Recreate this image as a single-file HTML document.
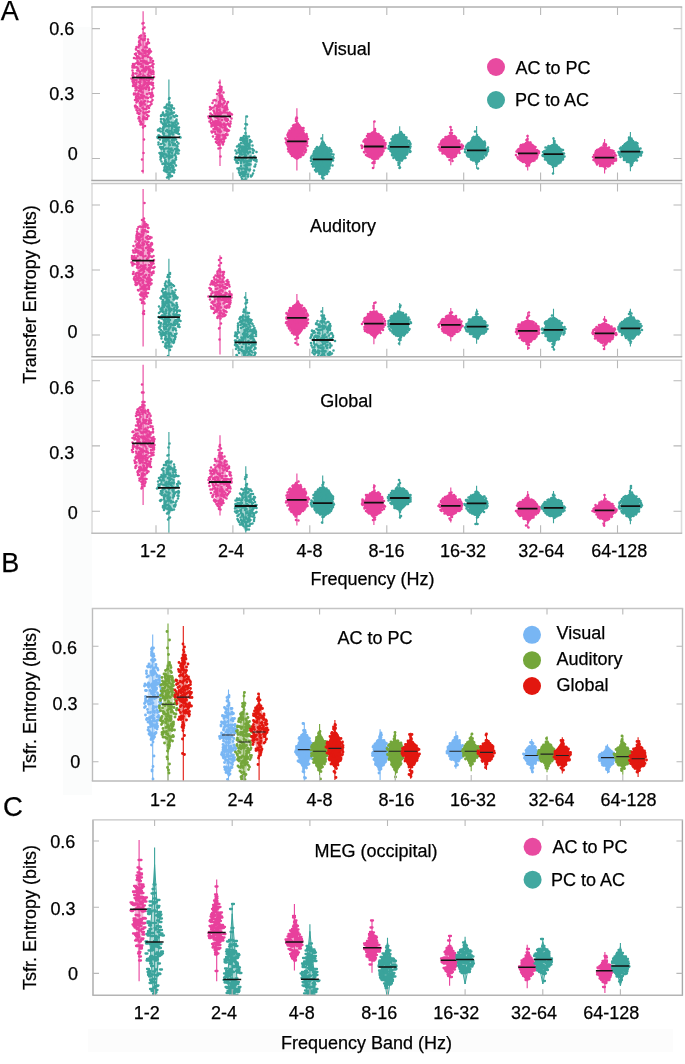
<!DOCTYPE html><html><head><meta charset="utf-8"><style>html,body{margin:0;padding:0;background:#fff;width:685px;height:1064px;overflow:hidden}svg{display:block;will-change:transform}text{font-family:"Liberation Sans",sans-serif;fill:#000;stroke:#000;stroke-width:0.25px}</style></head><body>
<svg width="685" height="1064" viewBox="0 0 685 1064">
<rect x="63" y="27" width="29" height="768" fill="#fbfcfc"/>
<rect x="88" y="1029" width="585" height="23" fill="#fcfcfc"/>
<clipPath id="ca0"><rect x="92" y="7" width="589.5" height="173.5"/></clipPath>
<g clip-path="url(#ca0)">
<path d="M143.1 11.2V173.4" stroke="#e8409c" stroke-width="1.1"/>
<path d="M143.1 30.4L141.9 32.9L141.2 35.4L140.7 37.9L140.2 40.5L139.8 43L139.4 45.5L139 48L138.7 50.5L138.4 53L138.1 55.6L137.9 58.1L137.6 60.6L137.4 63.1L137.2 65.6L137.1 68.1L136.9 70.6L136.8 73.2L136.7 75.7L136.7 78.2L136.7 80.7L136.8 83.2L136.9 85.7L137.1 88.3L137.2 90.8L137.4 93.3L137.6 95.8L137.8 98.3L138.1 100.8L138.3 103.3L138.6 105.9L138.9 108.4L139.2 110.9L139.5 113.4L139.9 115.9L140.3 118.4L140.8 121L141.3 123.5L142 126L143.1 128.5L143.1 128.5L144.2 126L144.9 123.5L145.4 121L145.9 118.4L146.3 115.9L146.7 113.4L147 110.9L147.3 108.4L147.6 105.9L147.9 103.3L148.1 100.8L148.4 98.3L148.6 95.8L148.8 93.3L149 90.8L149.1 88.3L149.3 85.7L149.4 83.2L149.5 80.7L149.5 78.2L149.5 75.7L149.4 73.2L149.3 70.6L149.1 68.1L149 65.6L148.8 63.1L148.6 60.6L148.3 58.1L148.1 55.6L147.8 53L147.5 50.5L147.2 48L146.8 45.5L146.4 43L146 40.5L145.5 37.9L145 35.4L144.3 32.9L143.1 30.4Z" fill="#e8409c" fill-opacity="0.45"/>
<path d="M147 83h0m-7 20.5h0m10.5-1.5h0m-8-4h0m10.5-15h0m-8 4.5h0m0.5-17.5h0m-6.5 47h0m3.5-13.5h0m-5.5-3.5h0m2-48.5h0m-2.5 48.5h0m7.5 9h0m7.5-37h0m-17.5-6h0m17 7.5h0m-12-27.5h0m-3 42h0m12-31h0m-3.5 25h0m-0.5 57.5h0m0.5-86.5h0m-1 22.5h0m3.5 42.5h0m-3-38h0m-7-3.5h0m-2 23.5h0m7.5-7.5h0m2.5-41h0m4 37h0m3.5-26.5h0m-16.5 35h0m8-27.5h0m-2-3.5h0m-3-24h0m14 43.5h0m-11.5-6h0m-2.5-34.5h0m6.5 18.5h0m-10 27h0m4 19h0m-2 3.5h0m16-39h0m-5-23h0m-2-7.5h0m5.5 49h0m-3.5-38h0m1-5.5h0m-0.5 59h0m0.5-55h0m-13.5-3.5h0m11 28h0m-11.5 16.5h0m11.5-16.5h0m-14 8.5h0m10-24.5h0m0.5 14.5h0m2 8h0m3.5-8.5h0m-11-24.5h0m4.5 15h0m8-6h0m-5.5 22h0m2-18.5h0m-2.5 16h0m4.5 2.5h0m-14.5-17.5h0m13.5 41.5h0m-9.5-7.5h0m-5-16h0m7 15.5h0m10-19h0m2 16h0m-9.5-55h0m-3.5 18.5h0m10.5 47h0m-11.5-35h0m2.5-9.5h0m0.5 26h0m8 6.5h0m1-24h0m-7.5-3h0m-2.5 7.5h0m6.5 41h0m3.5-18h0m-8.5 27h0m-5.5-37h0m1.5 6.5h0m7.5-43h0m-6 67.5h0m3-94.5h0m2.5 81h0m3-6.5h0m-8-18.5h0m-2.5-23h0m13.5 37.5h0m-5 25h0m3-35h0m-10 4h0m10-0.5h0m-9 33h0m-5-14.5h0m5.5-24h0m1.5-11.5h0m1.5 82.5h0m3.5-67h0m1.5-19h0m-14-3h0m1.5-15h0m5 48h0m0 7h0m-3.5 4h0m9-10.5h0m-3-35.5h0m-5.5 39h0m11.5-50.5h0m-8 44.5h0m-5-13h0m3.5 1h0m13-12.5h0m-13 1.5h0m-2-15.5h0m11 55h0m1-54h0m-7.5-7h0m6.5 20h0m4 25.5h0m-15.5-35h0m1 57.5h0m8.5-32h0m-1 22.5h0m-5-18.5h0m7 11h0m-11.5 8.5h0m16-15.5h0m-11.5 9h0m-7-45.5h0m12 31h0m-5.5-44h0m11 52.5h0m-7-70h0m-7.5 43h0m12 2h0m-8 32.5h0m-2.5 8h0m10 3h0m-15-32h0m18-10h0m-15 6h0m3 41h0m14-33h0m-18 19.5h0m1.5-20h0m-4.5-8.5h0m13.5-9h0m-5.5 36h0m9-35h0m-9-35h0m9.5 30.5h0m-5.5 2h0m-6-16h0m5.5 8.5h0m-4-17.5h0m11 8h0m-2.5 11.5h0m2 13.5h0m-6-43h0m-5.5 57.5h0m-6-8.5h0m17-32h0m-4.5-4h0m-5.5 52h0m8.5-46h0m-1.5 34.5h0m-7.5-43.5h0m9 8h0m-4-0.5h0m0-11h0m-4.5 63h0m4-1h0m2 10.5h0m5.5-8.5h0m-19-38h0m7-2.5h0m2 25.5h0m6.5-38h0m-1 68h0m-5-42h0m-5.5-3.5h0m4.5 21.5h0m-3.5 3.5h0m1-35.5h0m-1.5 44h0m-1-52h0m9-19h0m7.5 30h0m-5.5 40.5h0m1 5.5h0m-10-11h0m-4.5-20.5h0m6-40h0m-2 70.5h0m2-58.5h0m-6.5 14.5h0m1 27.5h0m-1.5-19h0m4-8h0m15 34h0m1-1.5h0m-4-19.5h0m-7.5 21h0m2 18h0m4-72h0m-0.5 14h0m0 18.5h0m-2.5-24h0m-3 22.5h0m-6.5 1.5h0m11-24h0m-3 115h0m6-94h0m-3.5-38.5h0m-0.5-5h0m-8 69h0m12.5-24.5h0m-2.5-34.5h0m-1 18h0m-10 12h0m6-9.5h0m12 8h0m-8.5-24.5h0m-8.5 42.5h0m11.5-5h0m-3 41h0m0.5-42h0m0 13.5h0m-4.5 24.5h0m-1.5-8.5h0m-5.5-20h0m8.5 14.5h0m-4-14h0m-2.5-40.5h0m7 65h0m5-76.5h0m-7.5 80.5h0m-4-59.5h0m13.5 20h0m-8.5 22h0m-2-63.5h0m13.5 26h0m-17.5 38h0m12-41.5h0m6.5 13h0m-2.5 7.5h0m-13.5-20.5h0m-5 0h0m1.5 3.5h0m2-0.5h0m6.5-10h0m1-17.5h0m-1.5 10.5h0m-10 29h0m0-8.5h0m6.5-13h0m-0.5 39h0m11-3.5h0m-9.5-57h0m-4 47.5h0m7-43.5h0m-8 46h0m7 73.5h0m-8-77.5h0m19-21h0m-12.5 63.5h0m-6-39.5h0m6 0h0m2.5-35h0m1.5 63.5h0m2.5-69h0m-0.5 64.5h0m-6-20.5h0m4-5h0m-8.5 1h0m3-47h0m0.5 37h0m2.5-13.5h0m-6-2.5h0m13 31.5h0m-16-23.5h0m11.5 51h0m6-59h0m-12-11h0m8.5 4h0m5 11h0m-15-5.5h0m5.5 1h0m-6 37.5h0m10-40h0m-1.5 16h0m-4.5 39.5h0m11-52.5h0m-9.5 37h0m5-27h0m-4 17h0m-2 6h0m-1-33h0m1.5-19.5h0m7.5 11h0m-9.5 14h0m-3.5 34h0m3 16h0m2.5-60.5h0m-8 30.5h0m15.5-41h0m-8 23.5h0m8 2.5h0m-8-33.5h0m2-6.5h0m-2 9.5h0m-4.5 8.5h0m10-3h0m-13.5 30.5h0m11 21.5h0m7.5-24.5h0m-1-13h0m1 24h0m-12-18.5h0m-4 24h0m9-27h0m-0.5 9.5h0m4-31h0m1 40.5h0m-4 21h0m-9.5-7.5h0m16.5-4h0m-15-31h0m11 57.5h0m-5-54.5h0m6-9h0m-14 1.5h0m14 35.5h0m-6.5-34h0m-4.5 21h0m1.5 9.5h0m4 30.5h0m-12-38h0m7.5 35.5h0m-6.5-33h0m20-1.5h0m-6.5-12.5h0m-3 60.5h0m5-53h0m-15-0.5h0m-0.5-6.5h0m11.5 17.5h0m-5-3h0m3 15.5h0m10-2.5h0m-8.5-6.5h0m3.5 5.5h0m-13.5-17.5h0m12-23h0m-1 65h0m-3-31.5h0m8.5-24.5h0m-1.5 20h0m-5-59.5h0m6.5 60.5h0m1 11.5h0m-18-22h0m12 3.5h0m-1.5 26h0m-5.5-34h0m-5-1h0m19-2h0m-11.5 11.5h0m3 35.5h0m-3-23h0m5-37.5h0m-4.5 71.5h0m-2.5-61h0m6.5 8.5h0m-5.5-17h0m3 13h0m-5 46h0m16-49h0m-11 60.5h0m8-65.5h0" stroke="#e8409c" stroke-width="2.6" stroke-linecap="round"/>
<path d="M132.1 77.6H154.1" stroke="#111" stroke-width="1.8"/>
<path d="M168.9 79.4V190" stroke="#3aa39b" stroke-width="1.1"/>
<path d="M168.9 100.5L167.7 102.6L167 104.6L166.4 106.7L165.9 108.8L165.5 110.8L165.1 112.9L164.7 114.9L164.4 117L164.1 119.1L163.8 121.1L163.5 123.2L163.3 125.3L163.1 127.3L162.9 129.4L162.7 131.5L162.6 133.5L162.5 135.6L162.5 137.7L162.5 139.7L162.6 141.8L162.7 143.8L162.8 145.9L163 148L163.2 150L163.3 152.1L163.5 154.2L163.7 156.2L164 158.3L164.2 160.4L164.5 162.4L164.8 164.5L165.1 166.6L165.4 168.6L165.8 170.7L166.2 172.7L166.7 174.8L167.2 176.9L167.8 178.9L168.9 181L168.9 181L170 178.9L170.6 176.9L171.1 174.8L171.6 172.7L172 170.7L172.4 168.6L172.7 166.6L173 164.5L173.3 162.4L173.6 160.4L173.8 158.3L174.1 156.2L174.3 154.2L174.5 152.1L174.6 150L174.8 148L175 145.9L175.1 143.8L175.2 141.8L175.3 139.7L175.3 137.7L175.3 135.6L175.2 133.5L175.1 131.5L174.9 129.4L174.7 127.3L174.5 125.3L174.3 123.2L174 121.1L173.7 119.1L173.4 117L173.1 114.9L172.7 112.9L172.3 110.8L171.9 108.8L171.4 106.7L170.8 104.6L170.1 102.6L168.9 100.5Z" fill="#3aa39b" fill-opacity="0.45"/>
<path d="M160.5 148h0m9-13h0m1.5-1.5h0m-8 20h0m4.5-31h0m11.5 28h0m-17.5 2h0m5-38.5h0m-3.5 33h0m10.5 20.5h0m3.5-22h0m-2.5-28.5h0m-2 21h0m-5.5-8h0m6.5 42h0m-3-16.5h0m3.5-30h0m-6 38.5h0m1-38h0m-8.5 33.5h0m14 3h0m-10 5h0m12-42h0m-10.5 5.5h0m-2.5 25.5h0m5.5-34.5h0m-5.5 16.5h0m2.5-13.5h0m3 41.5h0m4-43h0m-1 5h0m0 14h0m1-19h0m-5-6.5h0m5.5 26.5h0m1.5-11.5h0m-8-13h0m2 38.5h0m5.5 4.5h0m-16.5-32h0m2.5 24.5h0m11.5 21.5h0m-13-40.5h0m2-14h0m4 5h0m-1.5 0h0m10-3h0m2.5 34h0m-12-22h0m-6.5 2h0m8 1.5h0m2.5 0h0m8.5-19.5h0m-4 5h0m-10 23.5h0m17.5-11h0m-15.5-15h0m6 35.5h0m6-27h0m-0.5-1h0m-12 41h0m-4-42h0m3 14.5h0m11.5 17.5h0m1.5-1h0m-18.5-22.5h0m4 17.5h0m10-42h0m-2 60.5h0m6-52h0m-5-15.5h0m-5.5 15h0m5 49h0m-9-22.5h0m8.5-49h0m0 35.5h0m-11.5-3h0m18.5-9h0m0.5 10h0m-10-27h0m7 34h0m-1 27.5h0m-13.5-29.5h0m5.5 4.5h0m-3 14.5h0m3.5 10.5h0m1 4.5h0m-0.5-32h0m3 36.5h0m-1-26.5h0m-7.5-12h0m18 17h0m-8 23h0m7.5-53h0m-8 51.5h0m-1-70h0m5.5 25h0m-5.5 23.5h0m0.5-51h0m-6.5 12.5h0m5.5 22.5h0m5-21.5h0m-8 38.5h0m-4.5-10.5h0m0 14h0m2.5-14.5h0m11.5-5h0m-13.5 11h0m11 16h0m-3-24h0m-11 3h0m3-29.5h0m-0.5 4h0m17 34.5h0m-17-16.5h0m8.5 49.5h0m-7-55h0m2 22h0m1 16h0m-1.5-49h0m-2 27.5h0m4.5-37h0m4 14.5h0m-3-4h0m11 22h0m-5.5 19h0m-5.5-22.5h0m-9-10.5h0m12 21.5h0m2 19.5h0m-9.5-46.5h0m3.5 45.5h0m3-43.5h0m-4.5 38.5h0m6.5-34h0m-3.5 53.5h0m1.5-27h0m-3 14h0m3.5 11h0m0-14h0m6-19.5h0m-2 21.5h0m-12-14h0m9-6.5h0m4.5-27.5h0m-10 49.5h0m3.5-6h0m-6-37.5h0m9 38.5h0m-4 3h0m8.5-20h0m-17.5-19h0m9.5 26h0m4-43h0m4 19h0m2 18h0m-10 5.5h0m7 0h0m-5.5-41.5h0m-6 19h0m3.5-21.5h0m-4.5 0.5h0m-3.5 40.5h0m0.5-13.5h0m16.5 12h0m-1 7h0m-3.5-2.5h0m2.5 14h0m-3 1.5h0m-1.5-26.5h0m-4.5-20.5h0m-4 37h0m6-53h0m-0.5 55h0m-2.5-5.5h0m-0.5-4h0m-5.5-11.5h0m17.5-27h0m3 12h0m-1.5 0h0m-0.5 14.5h0m-8-33.5h0m-6.5 20.5h0m1.5 9h0m-1-8h0m0 8.5h0m-0.5-0.5h0m13.5 13.5h0m-3-6.5h0m5-13.5h0m-14 17.5h0m3.5 14.5h0m1.5-38.5h0m5 14.5h0m-6 47h0m3.5-75.5h0m-5.5 25.5h0m4 12.5h0m-6 2h0m0.5 12.5h0m4 11h0m3.5-17.5h0m3-2h0m-3.5 8.5h0m-3.5 13.5h0m-2-35.5h0m3 33.5h0m3.5-19.5h0m2.5-24.5h0m-8.5-5h0m14 11.5h0m-4.5-13h0m-9 47.5h0m5-45h0m4 38.5h0m-2.5 1.5h0m-9-51h0m0 53h0m10-5.5h0m-8-9h0m5.5-49h0m-14 32.5h0m10-1.5h0m-5-3h0m12 5.5h0m-4 26h0m4-38h0m-6.5 56.5h0m-3-57.5h0m-2 15.5h0m9-14.5h0m3 5.5h0m-10.5 34h0m4-67.5h0m3.5 62h0m-6.5-12.5h0m10.5-28.5h0m-13-1h0m8.5 13.5h0m3 16.5h0m-11-24.5h0m14 9h0m-20.5 4h0m10.5-11.5h0m-7.5 5.5h0m0 22h0m12.5-21h0m-2.5-14h0m-3.5 59h0m2.5-33.5h0m-0.5 14.5h0m1-25h0m3 33.5h0m-10-30h0m8-30.5h0m-4.5 63.5h0m1.5-50.5h0m-1.5-11.5h0m5 14.5h0m-11.5 24.5h0m15.5-7.5h0m-12-11.5h0m-0.5-14h0m9 26h0m-1.5-30.5h0m-6 35.5h0m5 37.5h0m0-44.5h0m4.5-25.5h0m-6 19.5h0m4.5 0.5h0m-10 23h0m1-27h0m5.5 35.5h0m8-48h0m-6.5-3h0m6 15h0m-18 7.5h0m18.5-2.5h0m-6-15.5h0m6.5 31.5h0m-11.5-42.5h0m3.5 29.5h0m5.5 8h0m-10 17h0m1 1h0m10-22.5h0m-7.5-25h0m-4-7h0m-1.5 33.5h0m12.5 4.5h0m-4.5-31.5h0m-4.5 41h0m1.5-35h0m2 17.5h0m-2 14h0m4 1.5h0m2-12.5h0m-10.5-12.5h0m12 25.5h0m-14-31h0m15.5 5.5h0m-4 22.5h0m-7.5-27h0m12 23h0m-10.5 22h0m6-34h0m-1.5-29h0m-8.5 50.5h0m11-47.5h0m-8.5 51.5h0m7 8h0m6.5-34h0m-12.5-19h0m5.5-7.5h0m-1-1h0m-4.5 50h0m4.5 6.5h0m-5.5 7.5h0m-1.5-56h0m10.5 8h0m-14 34.5h0m14.5-17.5h0m-3.5 25.5h0m-2-34h0m9-1h0m-15 33.5h0m7.5-53.5h0m6 23h0m-13 18h0m-3-35h0m1.5 48h0m9-15.5h0m2.5 24h0m-7-5.5h0m2.5-14.5h0m3.5 8h0" stroke="#3aa39b" stroke-width="2.6" stroke-linecap="round"/>
<path d="M157.9 137.4H179.9" stroke="#111" stroke-width="1.8"/>
<path d="M220 79.4V165.9" stroke="#e8409c" stroke-width="1.1"/>
<path d="M220 88.8L218.8 90.3L218.1 91.8L217.5 93.3L217 94.8L216.6 96.3L216.2 97.8L215.8 99.2L215.5 100.7L215.1 102.2L214.9 103.7L214.6 105.2L214.4 106.7L214.1 108.2L213.9 109.7L213.8 111.2L213.6 112.7L213.5 114.2L213.4 115.7L213.4 117.2L213.5 118.6L213.6 120.1L213.7 121.6L213.9 123.1L214.1 124.6L214.2 126.1L214.4 127.6L214.7 129.1L214.9 130.6L215.2 132.1L215.4 133.6L215.7 135.1L216.1 136.6L216.4 138L216.8 139.5L217.2 141L217.7 142.5L218.2 144L218.9 145.5L220 147L220 147L221.2 145.5L221.8 144L222.4 142.5L222.8 141L223.2 139.5L223.6 138L224 136.6L224.3 135.1L224.6 133.6L224.9 132.1L225.1 130.6L225.4 129.1L225.6 127.6L225.8 126.1L226 124.6L226.2 123.1L226.3 121.6L226.4 120.1L226.5 118.6L226.6 117.2L226.6 115.7L226.5 114.2L226.4 112.7L226.3 111.2L226.1 109.7L225.9 108.2L225.7 106.7L225.4 105.2L225.2 103.7L224.9 102.2L224.6 100.7L224.2 99.2L223.9 97.8L223.5 96.3L223 94.8L222.5 93.3L222 91.8L221.2 90.3L220 88.8Z" fill="#e8409c" fill-opacity="0.45"/>
<path d="M220 132h0m10-5.5h0m-5 10.5h0m-1-13.5h0m-7-7h0m2.5 13h0m8-16h0m-9.5 18h0m9.5-12.5h0m-7-29h0m-1.5 20h0m2 16.5h0m0-22.5h0m-3.5 26h0m2-40.5h0m-2.5 48h0m2.5-44.5h0m-2.5 32h0m13-8.5h0m-5.5-8.5h0m-3-19h0m-6.5 11h0m-0.5 24.5h0m0-11.5h0m12.5 18.5h0m-5.5 10h0m-5.5-28h0m-6.5 8h0m13-17h0m2.5 2h0m-5.5-11h0m2 0h0m-4.5 14h0m3 30.5h0m-5-8h0m3-41.5h0m-2.5 30.5h0m4-38.5h0m-8 42.5h0m4.5-24.5h0m10.5 28h0m0 2.5h0m-11 8h0m15-25.5h0m-9.5-22h0m-4.5 14.5h0m-4.5 26.5h0m-0.5-24.5h0m16.5 22h0m-9 1h0m4.5-38.5h0m-7.5 49.5h0m7-6.5h0m-6-24h0m9 23.5h0m4.5-11.5h0m-12.5-10.5h0m2-16h0m6.5 12.5h0m-14-6.5h0m6 36h0m-5-31.5h0m7.5 17h0m2.5-24.5h0m-6.5 21.5h0m-3.5-11h0m12 16h0m-9.5-0.5h0m8-15.5h0m2.5-2h0m4 5h0m-19.5-4.5h0m2.5-8.5h0m-0.5 31h0m13.5-25.5h0m-17.5 12h0m12.5-1h0m2 21h0m6-25.5h0m-20 4h0m7.5-6h0m1.5 38h0m1-38.5h0m4 7h0m1.5-4.5h0m-10 14.5h0m5.5-4.5h0m-2.5-32h0m10 24h0m-12 8.5h0m10-17h0m-1 20h0m-15-4.5h0m10-35h0m1.5 3.5h0m-3 55h0m2 11.5h0m10-35h0m-14 15.5h0m-5-5.5h0m1.5-9h0m9-26h0m-3 34h0m1-29.5h0m9 24.5h0m-7-1h0m5-17h0m0.5 11.5h0m-11 4.5h0m7.5 1.5h0m-1.5 10h0m2.5-8.5h0m-11-15h0m13 1h0m-8 2h0m1-8.5h0m-2 17.5h0m-4.5 1.5h0m2 9h0m5-19.5h0m-2-7.5h0m5.5 28h0m-1.5-30h0m-9.5 31.5h0m5-2h0m-6-19.5h0m16 9h0m-10-7.5h0m-8-7h0m-1.5 7h0m11.5 9h0m-9.5-8h0m3 7.5h0m12.5 9h0m-7 3h0m1.5 11h0m7.5-17h0m-13-7h0m-0.5 1h0m-4-11.5h0m9.5-24h0m0.5-1h0m-1.5 53.5h0m-1-28h0m4 28.5h0m-4-19h0m2-21h0m7.5 32h0m-4.5-22h0m-5.5 8.5h0m-2-4h0m8.5 24.5h0m8-27h0m-6 6h0m5.5-2h0m-5 6h0m-1.5 0.5h0m-2 19.5h0m1.5-14.5h0m-5 14.5h0m9.5-30h0m-11 28h0m-6.5-23h0m3 12h0m6-40h0m6 14h0m-4 30h0m-5.5 7.5h0m1-28h0m8.5 16h0m1.5-7.5h0m-9.5-1.5h0m9 13h0m-3.5 4.5h0m-3.5-26.5h0m-7 10.5h0m11-6.5h0m-2.5-18.5h0m-3.5 17h0m-5 13.5h0m11-1.5h0m-9.5 4.5h0m3.5-9h0m0.5-20h0m-8.5 15h0m19-2.5h0m-4.5-14h0m-5.5 34h0m-4.5-13h0m10.5-3.5h0m-4-6h0m-0.5 18.5h0m-5.5-2.5h0m2-11h0m-6 8.5h0m3.5-11h0m4-13.5h0m3.5 5h0m-7.5-1.5h0m3 18h0m2.5-11.5h0m4.5 7.5h0m-12 2h0m11.5-10.5h0m2.5 10h0m-2.5 3.5h0m-2 3h0m5-18h0m-6 30h0m7.5-9h0m-17 2h0m13-8h0m-9 2.5h0m1-18.5h0m11-6.5h0m-10.5 26h0m7.5 1h0m-15-22h0m13 36h0m-10-17.5h0m16.5-0.5h0m-10.5 0h0m1.5-26h0m3 0h0m-5 14h0m-1 27h0m8-22h0m-5.5 5.5h0m1.5-27.5h0m-4 10h0m1.5 30.5h0m5.5 0h0m2.5-2h0m-5-14.5h0m-9-4.5h0m-2 7.5h0m4.5-7h0m1.5-22h0m5 4.5h0m3.5 11.5h0m-1.5-7h0m4 17h0m-17-0.5h0m5.5 17.5h0m1-1.5h0m4-48.5h0m5.5 16.5h0m-17.5 13h0m9-11.5h0m7 33h0m-7.5-16.5h0m0.5-2h0" stroke="#e8409c" stroke-width="2.6" stroke-linecap="round"/>
<path d="M209 116.3H231" stroke="#111" stroke-width="1.8"/>
<path d="M245.8 115.6V190" stroke="#3aa39b" stroke-width="1.1"/>
<path d="M245.8 133L244.7 134.3L244 135.5L243.5 136.8L243 138L242.6 139.3L242.2 140.5L241.9 141.8L241.5 143.1L241.2 144.3L241 145.6L240.7 146.8L240.5 148.1L240.3 149.3L240.1 150.6L239.9 151.8L239.7 153.1L239.6 154.4L239.5 155.6L239.4 156.9L239.4 158.1L239.5 159.4L239.6 160.6L239.7 161.9L239.8 163.2L240 164.4L240.2 165.7L240.4 166.9L240.7 168.2L240.9 169.4L241.2 170.7L241.5 171.9L241.8 173.2L242.2 174.5L242.6 175.7L243 177L243.5 178.2L244 179.5L244.7 180.7L245.8 182L245.8 182L247 180.7L247.6 179.5L248.2 178.2L248.7 177L249.1 175.7L249.5 174.5L249.8 173.2L250.1 171.9L250.4 170.7L250.7 169.4L251 168.2L251.2 166.9L251.4 165.7L251.6 164.4L251.8 163.2L251.9 161.9L252.1 160.6L252.2 159.4L252.2 158.1L252.2 156.9L252.1 155.6L252 154.4L251.9 153.1L251.7 151.8L251.6 150.6L251.4 149.3L251.2 148.1L250.9 146.8L250.7 145.6L250.4 144.3L250.1 143.1L249.8 141.8L249.4 140.5L249.1 139.3L248.6 138L248.2 136.8L247.6 135.5L247 134.3L245.8 133Z" fill="#3aa39b" fill-opacity="0.45"/>
<path d="M248.5 161.5h0m-3.5-17.5h0m5 25.5h0m2.5-24h0m-5.5 36.5h0m-2-34h0m1.5 33h0m-7.5-8.5h0m16.5-14.5h0m-11 13.5h0m-0.5-21.5h0m3 1h0m-0.5 16h0m-5-17h0m3.5-21.5h0m-3.5 24h0m15 9h0m-14.5-2h0m4.5 1.5h0m-6.5-9.5h0m5.5-18.5h0m-10.5 26.5h0m0.5-2.5h0m10.5-1.5h0m-5-15.5h0m3 14h0m-1.5-15h0m8.5 21.5h0m-4-17h0m1.5 0.5h0m-6.5 15h0m2.5-12.5h0m-3.5 19.5h0m6.5-22.5h0m7 23h0m-10-24.5h0m-9 8.5h0m7.5 25.5h0m1.5-10.5h0m-5.5-9h0m4-6h0m-0.5 8h0m-3-11.5h0m1-7h0m3.5 21h0m5-12.5h0m3 10h0m-5 9.5h0m-6-30h0m3.5 12.5h0m-1.5-2h0m-2.5-9h0m4.5 16h0m-9.5 4h0m8-21h0m8 3h0m-14 27h0m1.5 2h0m2-9.5h0m8.5-15.5h0m-13.5 15h0m19.5 4h0m-6.5-20.5h0m-12.5 18.5h0m8-16h0m-3 23h0m0-19.5h0m-4.5-3.5h0m12.5 18h0m4.5 6h0m-8.5 3.5h0m-2.5-25.5h0m2.5 0.5h0m4.5-0.5h0m-8.5 12.5h0m-4.5 1h0m6.5-19h0m4.5 26.5h0m-4-7h0m-3 0.5h0m1-4h0m-7-1.5h0m18.5-0.5h0m-13.5 16h0m6.5-3.5h0m4-8.5h0m-9 13h0m-2-6h0m7.5-27.5h0m-4 0.5h0m2 28h0m1.5-22.5h0m-1.5 8h0m-0.5 3.5h0m12-6h0m-7 12h0m1-5h0m-7 0h0m7.5 17.5h0m-8.5-38h0m-3.5 10.5h0m-3.5 10h0m7-12.5h0m2.5 11h0m11.5 2.5h0m-11-27h0m-4.5 39.5h0m2-23h0m4 12.5h0m6 11.5h0m-7.5 6h0m9-23h0m-6.5-12.5h0m-2.5 4.5h0m-1.5 9h0m1 26h0m-5-38h0m5-4.5h0m-5.5 10h0m7.5 13h0m2-27.5h0m-7 18h0m2.5 11h0m-2 6.5h0m12.5-11.5h0m-16-0.5h0m4.5 20h0m0.5-28h0m0-16h0m10 24h0m-14-2.5h0m8.5 3h0m-8 0h0m3 12.5h0m2.5-1h0m-9-19.5h0m10.5 12.5h0m2.5-25h0m-5-1.5h0m-1.5 36.5h0m-4.5-30.5h0m5.5-5h0m-3.5 33.5h0m6-29h0m-3 32h0m2-18h0m-6 17h0m8-22h0m0 0.5h0m1-6h0m-8-1h0m4.5 23.5h0m2-21h0m0.5 27.5h0m5-23.5h0m-8-0.5h0m-4 2h0m4.5 17.5h0m4-28h0m-2.5-19.5h0m1 50h0m2-22.5h0m-5 3.5h0m4.5-3.5h0m-7.5 27h0m7-14h0m-9 9h0m-3.5-20.5h0m0 9h0m16-13.5h0m-4.5-2.5h0m2-4.5h0m-4 10h0m-5-4.5h0m-2.5 2.5h0m12.5 25.5h0m-10.5-22h0m1.5 15h0m4-3.5h0m2-1h0m2.5 0.5h0m-6.5 4h0m-6-5.5h0m5-25.5h0m-5 22.5h0m15-9.5h0m-3.5 20h0m-8.5-8.5h0m6-23.5h0m-6 4.5h0m5.5 4h0m-1-23h0m8.5 26.5h0m-3.5 6h0m-4-20h0m-7.5 16h0m-1 5.5h0m0.5-12h0m8.5-4h0m-5.5 35h0m3-15.5h0m-1 12.5h0m-3.5-20h0m15 12.5h0m-8-50h0m5 59h0m-10-24.5h0m4.5-5.5h0" stroke="#3aa39b" stroke-width="2.6" stroke-linecap="round"/>
<path d="M234.8 157.7H256.8" stroke="#111" stroke-width="1.8"/>
<path d="M296.9 108.2V170.6" stroke="#e8409c" stroke-width="1.1"/>
<path d="M296.9 122.7L295 123.7L294 124.6L293.2 125.6L292.5 126.5L291.9 127.5L291.3 128.4L290.8 129.4L290.4 130.4L289.9 131.3L289.6 132.3L289.2 133.2L288.9 134.2L288.6 135.1L288.4 136.1L288.2 137L288 138L287.8 139L287.7 139.9L287.6 140.9L287.6 141.8L287.7 142.8L287.8 143.7L288 144.7L288.1 145.7L288.4 146.6L288.6 147.6L288.9 148.5L289.2 149.5L289.6 150.4L289.9 151.4L290.3 152.3L290.8 153.3L291.3 154.3L291.8 155.2L292.5 156.2L293.2 157.1L294 158.1L295 159L296.9 160L296.9 160L298.9 159L299.9 158.1L300.7 157.1L301.4 156.2L302 155.2L302.6 154.3L303.1 153.3L303.5 152.3L304 151.4L304.3 150.4L304.7 149.5L305 148.5L305.3 147.6L305.5 146.6L305.7 145.7L305.9 144.7L306.1 143.7L306.2 142.8L306.3 141.8L306.3 140.9L306.2 139.9L306.1 139L305.9 138L305.7 137L305.5 136.1L305.2 135.1L305 134.2L304.7 133.2L304.3 132.3L303.9 131.3L303.5 130.4L303.1 129.4L302.6 128.4L302 127.5L301.4 126.5L300.7 125.6L299.9 124.6L298.9 123.7L296.9 122.7Z" fill="#e8409c" fill-opacity="1.0"/>
<path d="M299 130.5h0m2 3.5h0m-13 2h0m-1.5 4h0m2.5-0.5h0m-1.5-4.5h0m3.5 17.5h0m7.5-5h0m5.5-4.5h0m-10-11h0m11.5 20h0m-12 3h0m1-30h0m-4.5 11h0m2.5 19h0m12-18h0m2 2.5h0m-19.5 5h0m16 0.5h0m0 10h0m-5-31.5h0m5.5 16.5h0m-8.5-15h0m8.5 3h0m-14 2.5h0m16 17.5h0m-17 3.5h0m1.5-1.5h0m6.5-15h0m-2.5-7h0m2 25h0m-2-28h0m11 24.5h0m-7.5-20h0m-5.5 26.5h0m-3.5-4.5h0m14-19.5h0m-6.5 8h0m0.5-10h0m9.5 15h0m1-2h0m-5.5 2h0m-5.5-12.5h0m10.5 12h0m-11-12.5h0m2 5.5h0m1.5-12.5h0m-9 11h0m8.5 16h0m-9.5-16h0m9.5 4.5h0m-3.5-9h0m-3.5-3h0m3.5 14.5h0m-6 7h0m1.5-14.5h0m10.5 20h0m-8-20.5h0m11.5 7.5h0m-1-9.5h0m-0.5 7.5h0m0.5-1.5h0m-1 10h0m-7.5-3h0m-4-7.5h0m-4 4.5h0m14-9.5h0m-6.5 0h0m-2 2.5h0m12 16h0m-0.5-5.5h0m-14-8.5h0m10.5 19h0m-7.5-21h0m-5 13h0m18.5-10.5h0m-17-6.5h0m10.5 24.5h0m7-19.5h0m-1.5 8h0m-14-7.5h0m7.5-5h0m3.5 12h0m-12 5.5h0m5.5-16h0m2.5-7.5h0m-8 10.5h0m-4.5 5.5h0m19-3h0m-16.5-4h0m2.5 17h0m9-0.5h0m-13-9.5h0m7-16h0m6.5 16.5h0m-9.5 8h0m6-19h0m-5.5 2.5h0m5 17h0m-0.5-30.5h0m4.5 22.5h0m4 9h0m-6.5-12h0m6.5-6h0m-16.5 0h0m9-16.5h0m-2.5 39h0m5-5h0m-1-17h0m-3.5 10h0m11.5-11h0m-18.5 2.5h0m12.5-3h0m1 6h0m-6 17.5h0m-1.5-20h0m-3.5 16h0m2-19h0m3-1.5h0m6.5 7.5h0m-6.5 17h0m12-11h0m-15.5 0h0m12.5 1h0m-10.5 6.5h0m-3.5-21.5h0m8.5 23h0m6.5-14.5h0m-12 2h0m-1 5.5h0m-1-17.5h0m-2.5 7.5h0m-1-4h0m8 0h0m-0.5 21.5h0m8-1h0m1.5-11.5h0m-1.5 0h0m-1 0h0m-10.5-3.5h0m9 9h0m-7.5 3.5h0m12.5-14.5h0m0 12.5h0m-3.5-13h0m-9.5-5.5h0m2.5-2.5h0m-1 23.5h0m2-35h0m3 34h0m1.5-23h0m-7.5 18.5h0m-5-13h0m13-6h0m-5.5-7h0m-9 21h0m4.5-13.5h0m8.5 24h0m-0.5-10.5h0m-12.5 1.5h0m13.5 0.5h0m-1-6h0m7.5 3.5h0m-19 5h0m5.5 4.5h0m-3 2.5h0m8-11h0m-13-4h0m8.5-11.5h0m11 17.5h0m-11.5-10h0m7 17.5h0m0.5-18h0m-6.5 20.5h0m1.5-35.5h0m3 13.5h0m6 3.5h0m-8.5-18h0m2.5 26.5h0m1-5.5h0m0-3.5h0m4.5 9h0m-5-13h0m3 4.5h0m2.5 9h0m1.5-10h0m0.5 1.5h0m-9-10.5h0m-4 18h0m0.5-18.5h0m6 20h0m4 2.5h0m-5 2.5h0m2.5-4.5h0m1.5-10.5h0m-6.5-7h0m-6 6h0m-2 2.5h0m1.5 14h0m6-30h0m-1.5 14h0m11 0h0m-8.5-11h0m-9 10h0m14.5 9h0m-10-17.5h0m-1.5 23.5h0m0-13h0m15 1h0m-15 13.5h0m12-1.5h0m-13-15h0m13 9.5h0m1.5-8h0m-1.5-5h0m-10 21h0m3.5-28h0m1.5 31.5h0m5-8h0m-12.5 7h0m6.5-14.5h0m4.5 14.5h0m-10.5-6h0m11 0h0m-4.5-8h0m0.5-14.5h0m-0.5 29.5h0m1.5 0.5h0m-1.5-17.5h0m5 8h0m-9.5-7.5h0m14.5 0.5h0m-15.5-2h0m13 13.5h0m-17-18h0m5.5 23h0m7-0.5h0m-9-4h0m4.5-30.5h0m-8.5 16.5h0m13 5h0m-11.5 5h0" stroke="#e8409c" stroke-width="2.6" stroke-linecap="round"/>
<path d="M287.1 141.4H306.7" stroke="#111" stroke-width="1.8"/>
<path d="M322.7 133.9V190" stroke="#3aa39b" stroke-width="1.1"/>
<path d="M322.7 143.7L320.7 144.5L319.6 145.4L318.8 146.2L318.1 147L317.4 147.8L316.9 148.7L316.3 149.5L315.9 150.3L315.5 151.2L315.1 152L314.7 152.8L314.4 153.6L314.1 154.5L313.9 155.3L313.6 156.1L313.4 157L313.3 157.8L313.2 158.6L313.1 159.4L313.2 160.3L313.3 161.1L313.4 161.9L313.6 162.7L313.8 163.6L314 164.4L314.3 165.2L314.6 166.1L314.9 166.9L315.3 167.7L315.7 168.5L316.1 169.4L316.5 170.2L317 171L317.6 171.9L318.2 172.7L318.9 173.5L319.7 174.3L320.8 175.2L322.7 176L322.7 176L324.7 175.2L325.7 174.3L326.6 173.5L327.3 172.7L327.9 171.9L328.4 171L328.9 170.2L329.4 169.4L329.8 168.5L330.2 167.7L330.6 166.9L330.9 166.1L331.2 165.2L331.4 164.4L331.7 163.6L331.9 162.7L332 161.9L332.2 161.1L332.3 160.3L332.3 159.4L332.3 158.6L332.2 157.8L332 157L331.8 156.1L331.6 155.3L331.4 154.5L331.1 153.6L330.8 152.8L330.4 152L330 151.2L329.6 150.3L329.1 149.5L328.6 148.7L328 147.8L327.4 147L326.7 146.2L325.8 145.4L324.8 144.5L322.7 143.7Z" fill="#3aa39b" fill-opacity="1.0"/>
<path d="M327 160h0m-11-5h0m9 11h0m-10.5-10h0m14.5 3.5h0m-0.5-7.5h0m-14.5-0.5h0m16.5-0.5h0m-7.5 7h0m-7.5 1h0m1 2h0m-1.5-6h0m13.5-4.5h0m-10 5h0m11-7.5h0m-4.5 18h0m3.5-7h0m-10-6.5h0m10 4.5h0m-0.5 2h0m-3-14h0m5 20h0m-6.5-7h0m-3 14.5h0m2.5-16h0m8 0.5h0m-8.5-15.5h0m-6 25.5h0m7.5-23.5h0m-5 27h0m1.5-20h0m9-2h0m-15.5 15.5h0m12-14.5h0m-2.5 12.5h0m-10.5 0h0m9 3.5h0m-1.5 4.5h0m-3.5-1.5h0m9.5-7h0m-14.5-2.5h0m10 9h0m7 0.5h0m-13-16.5h0m1 11.5h0m8-15h0m-9.5 0.5h0m0.5 0.5h0m3.5 24.5h0m1.5-3.5h0m-3-20h0m4.5 25h0m2-30h0m8.5 11.5h0m-6 1h0m1.5 9.5h0m-4-17h0m-2 8h0m-4-1.5h0m10.5-5h0m-12 0.5h0m0.5 8h0m7-10h0m9 4h0m-14 2.5h0m-5.5 1h0m14.5 3.5h0m-5-4h0m1 4h0m-2-14.5h0m4.5 26.5h0m-10.5-12h0m13 7h0m-10.5-10.5h0m8-10h0m-4 11h0m-1-13h0m1.5 7.5h0m-5.5 17h0m-5.5-15h0m17 9.5h0m-16.5 1.5h0m18.5-8.5h0m1.5 2.5h0m-8.5-11h0m1 4.5h0m-13.5 10h0m15 10h0m-14.5-15h0m3-3h0m-0.5-1.5h0m10.5-6.5h0m-1.5 16h0m-0.5 14.5h0m-7.5-22h0m9-10.5h0m3.5 25.5h0m-11-5h0m-4-11h0m10 17h0m-2-28h0m-8 15h0m12-4h0m-9-7.5h0m6 5.5h0m10 12h0m-6 3.5h0m-10 2.5h0m12.5-4h0m-18-9.5h0m16-10.5h0m1.5 17h0m-2.5-13.5h0m-2 20.5h0m-6.5-23.5h0m-3 3h0m5 22.5h0m8-4.5h0m-14-15.5h0m16.5 0.5h0m-6.5-11.5h0m-12 14h0m10-12.5h0m-3.5 19h0m-0.5-13h0m3.5 19h0m-8-4h0m9 12.5h0m-4-20h0m13.5-3.5h0m-9.5-11.5h0m-7.5 19h0m2-4h0m-0.5 11.5h0m13-7.5h0m-3.5-0.5h0m0.5-14h0m-11 19.5h0m13.5-13h0m0 3.5h0m-13.5 13h0m8-13.5h0m-7 1h0m5.5-19h0m6 24.5h0m6-5h0m-7.5 8.5h0m-11-7.5h0m-4 2h0m8-10.5h0m5 13h0m1.5 8.5h0m-3.5-6h0m-1.5 3.5h0m-4-3.5h0m6.5-1h0m3 6h0m-10 0.5h0m11.5-4h0m-7.5-16h0m-1 7h0m-1-1h0m5 18h0m7-18h0m2.5 0h0m-10 18.5h0m7.5-13h0m-10-11h0m-1 3h0m4.5-2.5h0m5 10.5h0m-3.5-16.5h0m-6 22.5h0m5-4h0m-6.5-15h0m-6.5 10.5h0m17 3h0m-4 10.5h0m-2-26.5h0m9.5 12.5h0m-7-5.5h0m-7.5-7.5h0m0 1h0m0.5 1h0m2 11h0m12-8.5h0m-3 3.5h0m-2.5 12.5h0m-2 1.5h0m-10-10.5h0m8 8h0m-8-13.5h0m5.5-2h0m5 24h0m-1.5-15h0m-5.5 10.5h0m8.5-1h0m-0.5-17h0m-6 18.5h0m3-0.5h0m0.5-3h0m-4.5-4h0m-3.5-0.5h0m13.5 0h0m2.5-13h0m-6 5.5h0m3 14h0m-3.5 3h0m4.5-14h0m-2.5 4.5h0m-2-13.5h0m-8.5 11h0m7-2h0m4 11h0m-2.5-6h0m-8-2h0" stroke="#3aa39b" stroke-width="2.6" stroke-linecap="round"/>
<path d="M312.9 159.4H332.5" stroke="#111" stroke-width="1.8"/>
<path d="M373.9 121V168.3" stroke="#e8409c" stroke-width="1.1"/>
<path d="M373.9 130.9L371.9 131.6L370.8 132.4L370 133.1L369.3 133.9L368.7 134.6L368.1 135.4L367.6 136.1L367.1 136.9L366.7 137.6L366.3 138.4L365.9 139.1L365.6 139.9L365.3 140.6L365 141.3L364.8 142.1L364.6 142.8L364.4 143.6L364.2 144.3L364.1 145.1L364 145.8L363.9 146.6L364 147.3L364.1 148.1L364.3 148.8L364.5 149.6L364.8 150.3L365.1 151L365.4 151.8L365.8 152.5L366.2 153.3L366.6 154L367.1 154.8L367.6 155.5L368.2 156.3L368.9 157L369.7 157.8L370.6 158.5L371.7 159.3L373.9 160L373.9 160L376 159.3L377.1 158.5L378 157.8L378.8 157L379.5 156.3L380.1 155.5L380.6 154.8L381.1 154L381.6 153.3L382 152.5L382.3 151.8L382.7 151L382.9 150.3L383.2 149.6L383.4 148.8L383.6 148.1L383.7 147.3L383.8 146.6L383.7 145.8L383.6 145.1L383.5 144.3L383.4 143.6L383.2 142.8L382.9 142.1L382.7 141.3L382.4 140.6L382.1 139.9L381.8 139.1L381.4 138.4L381 137.6L380.6 136.9L380.1 136.1L379.6 135.4L379 134.6L378.4 133.9L377.7 133.1L376.9 132.4L375.8 131.6L373.9 130.9Z" fill="#e8409c" fill-opacity="1.0"/>
<path d="M379.5 139.5h0m0 17h0m-2-9.5h0m8-4h0m-10 5h0m6.5 0.5h0m-11.5-8h0m1 5.5h0m5.5-7h0m4 0h0m1 15h0m-1.5-4h0m-6-7h0m5 12h0m3-8.5h0m-13.5-5.5h0m14.5 2h0m0 5.5h0m-12.5-10h0m-3 13h0m4-9h0m-5.5 4.5h0m9.5-3h0m1.5-4h0m-2.5 16.5h0m-0.5 5h0m-3-13.5h0m9-2h0m-2-4h0m-4-20.5h0m-1 12h0m10 8h0m-6 0.5h0m-1-1h0m3 5.5h0m2 3h0m-10.5-2h0m3 8.5h0m3-3.5h0m-3.5-12.5h0m3.5 16h0m1-6h0m-7.5-7h0m-4 7h0m1.5-5.5h0m10-3h0m-8 13.5h0m12-16h0m-11 9.5h0m-2-5h0m3 5h0m-6.5 1h0m4-11.5h0m9.5-2.5h0m-1 7h0m0.5-2h0m4.5 0.5h0m-9 6.5h0m7.5-4.5h0m-13.5 7h0m5-5h0m-3.5 12h0m8.5-8.5h0m-6.5-6.5h0m7 6.5h0m1 6h0m-4.5-7.5h0m10.5-2.5h0m-13 18.5h0m5.5-20.5h0m-4 16h0m3.5-23h0m1-1.5h0m-13 7h0m9-1h0m1.5 18h0m-14-10h0m7-6.5h0m2.5 3h0m-4 11.5h0m-3-3.5h0m-2.5-6.5h0m11-8.5h0m8.5 13.5h0m2.5-2.5h0m-20-8h0m1 2h0m12 11h0m0-2.5h0m3-11h0m-2 4h0m-1.5 3h0m-1-10.5h0m-6.5 19.5h0m7-7.5h0m-2.5-5.5h0m8.5 7h0m-6 5h0m4.5-16h0m-8 19.5h0m2.5-28h0m-2 14.5h0m-3.5-11h0m6 2h0m4 4h0m-3 5.5h0m1 3.5h0m7.5-2h0m-18.5 0h0m5.5 0.5h0m7.5 8.5h0m-2.5-15h0m-5-1.5h0m-7 6.5h0m1.5 1.5h0m9-4h0m-1-11h0m-0.5 10.5h0m-7 0h0m-3 9h0m11-23h0m1 28.5h0m5.5-4.5h0m-9.5-7.5h0m10.5-8h0m-0.5 13h0m-13.5-7h0m-3 7.5h0m8.5-19.5h0m4 18.5h0m-5 4.5h0m-9.5-13h0m15.5-2.5h0m-10 2h0m11 13h0m-17.5-7h0m14.5 11.5h0m-7-6.5h0m2.5-2.5h0m-6.5 5.5h0m16-9.5h0m-12 4.5h0m2.5-7h0m6.5 5.5h0m-13-2.5h0m18-5.5h0m-15 2h0m6-8h0m3 12.5h0m-6.5-9.5h0m-3.5-3.5h0m0.5 20h0m11-17h0m-6.5 25.5h0m-11.5-17h0m11.5-7h0m9.5 14h0m-4.5 6h0m-11-15h0m7.5 12h0m-9-10h0m18 5.5h0m-8-1h0m-4.5-3h0m7.5-7.5h0m3.5 4h0m-0.5 5h0m-2.5-6h0m0.5 13h0m0-6h0m-10 6.5h0m3.5 12h0m11-23h0m-17-9h0m12 7h0m3.5-3h0m-10.5 12.5h0m2.5 10.5h0m-1-5.5h0m7.5-14.5h0m-11.5-4h0m-2.5 10h0m14.5 6h0m-3-4.5h0m-6.5-16h0m10.5 14.5h0m-13 7.5h0m-3-10.5h0m9 13h0m-3.5-26h0m-3 2.5h0m6.5 13.5h0m10-1h0m-12.5-4.5h0m4 8.5h0m-11.5-13h0m-0.5 7h0m20-1h0m-7 9h0m2.5-18h0m-6.5 15.5h0m2.5-2.5h0" stroke="#e8409c" stroke-width="2.6" stroke-linecap="round"/>
<path d="M364.1 146.5H383.7" stroke="#111" stroke-width="1.8"/>
<path d="M399.7 126.2V168.3" stroke="#3aa39b" stroke-width="1.1"/>
<path d="M399.7 133L397.6 133.7L396.5 134.5L395.7 135.2L394.9 136L394.3 136.7L393.7 137.5L393.2 138.2L392.7 138.9L392.3 139.7L391.9 140.4L391.6 141.2L391.2 141.9L391 142.7L390.7 143.4L390.5 144.2L390.3 144.9L390.2 145.6L390.1 146.4L390.1 147.1L390.1 147.9L390.3 148.6L390.4 149.4L390.6 150.1L390.8 150.8L391 151.6L391.3 152.3L391.6 153.1L391.9 153.8L392.3 154.6L392.6 155.3L393.1 156.1L393.5 156.8L394 157.5L394.6 158.3L395.2 159L395.9 159.8L396.7 160.5L397.7 161.3L399.7 162L399.7 162L401.6 161.3L402.6 160.5L403.4 159.8L404.1 159L404.7 158.3L405.3 157.5L405.8 156.8L406.3 156.1L406.7 155.3L407.1 154.6L407.4 153.8L407.7 153.1L408 152.3L408.3 151.6L408.5 150.8L408.7 150.1L408.9 149.4L409.1 148.6L409.2 147.9L409.2 147.1L409.2 146.4L409.1 145.6L409 144.9L408.8 144.2L408.6 143.4L408.4 142.7L408.1 141.9L407.8 141.2L407.4 140.4L407 139.7L406.6 138.9L406.1 138.2L405.6 137.5L405 136.7L404.4 136L403.7 135.2L402.8 134.5L401.7 133.7L399.7 133Z" fill="#3aa39b" fill-opacity="1.0"/>
<path d="M395 156.5h0m7 1.5h0m7.5-13.5h0m-4.5-3.5h0m-7.5 18h0m4.5-5h0m-1-3h0m1-17.5h0m1.5 18h0m3.5 2h0m-9.5 4h0m-1 2h0m3-24h0m8 6.5h0m-8 21h0m-6-12h0m8.5-4h0m-10.5-8h0m6-3.5h0m-1 7h0m-4.5 0.5h0m8 13.5h0m1.5 4h0m-12.5-14.5h0m12-5h0m0 10.5h0m-12-3.5h0m13.5-12.5h0m7 6.5h0m-7 0h0m-2 16h0m6-20.5h0m-6.5 15.5h0m8.5-12h0m-13-3h0m14.5 5.5h0m-9 3.5h0m5.5 4.5h0m-4.5 6.5h0m1-17.5h0m4.5 10.5h0m-4.5-15.5h0m-5 21h0m-2-17h0m14.5 4.5h0m-13-3h0m4 17.5h0m1 0h0m-1-2h0m-3 6h0m1 5.5h0m-1.5-15.5h0m-5.5-12h0m2.5-3h0m12.5 15.5h0m-5.5-9.5h0m0-3h0m-2-5.5h0m0-2.5h0m-5 22h0m-1.5-13.5h0m-5 7.5h0m1 0.5h0m2-6.5h0m0 7h0m15.5 5h0m-8.5-12.5h0m4 10.5h0m-2.5-9.5h0m6.5 0h0m-16 8h0m15.5-13h0m-8 11h0m5.5-5.5h0m-10-0.5h0m15-1.5h0m2 10h0m-13.5-8h0m3 5h0m5.5 9.5h0m-6-4.5h0m3-13h0m-9 17.5h0m3.5-15.5h0m-5 1h0m4.5-5h0m13 6h0m-19 3.5h0m19-3h0m-16.5-8.5h0m5.5 18.5h0m2.5-15h0m-1 2.5h0m10.5 4h0m-0.5 5.5h0m-1-11h0m-8 5.5h0m-10 1.5h0m15.5-8.5h0m-6.5 6.5h0m3-2h0m-7.5-9h0m8.5 0h0m-14.5 13.5h0m5.5 6h0m6-8h0m-10.5 3h0m8.5 9.5h0m3-15h0m2.5-7h0m-7.5 23h0m-1.5-13h0m6.5 13.5h0m-5-2.5h0m1-18h0m-5.5 15.5h0m10-13h0m7.5 0.5h0m-9.5-6h0m-0.5 0.5h0m-7 15h0m0-14.5h0m14.5 14h0m-4.5-12.5h0m-4.5-2h0m6.5 15.5h0m-10-17.5h0m5 32h0m1.5-18h0m8.5-6h0m-19.5 1h0m6 12.5h0m4.5-21h0m-6.5 12.5h0m-5-1h0m15-1h0m-1-3.5h0m2.5-5.5h0m-5.5 21h0m5.5-18h0m-4.5-3h0m-7.5 16.5h0m4.5 9h0m6.5-22h0m-8.5 1.5h0m7 14.5h0m5.5-11h0m-17 9h0m11-17.5h0m-2-5.5h0m-6 9h0m4 3.5h0m2.5 16h0m-7.5-7.5h0m7.5-17.5h0m2.5 17.5h0m5.5-4h0m-4.5-5.5h0m-13 8h0m8 1.5h0m-1.5 12h0m-8.5-22h0m0.5 2h0m4.5-9h0m7.5 22h0m4-8h0m0-2.5h0m3.5 0.5h0m-8.5 2h0m3.5-12.5h0m-13 15h0m5-11h0m8 10h0m-8.5 5.5h0m3.5-21h0m3 4h0m-1.5 11.5h0m2.5-13h0m2 5.5h0m4 7h0m-11-15h0m0.5 7.5h0m4.5 1h0m-2.5-8h0m3 4h0m-12.5 5.5h0m4 9.5h0m8.5 2.5h0m-8-14h0m5 6h0m0.5 4.5h0m0.5-5.5h0m-0.5-10.5h0m-4.5 16.5h0m3-19h0" stroke="#3aa39b" stroke-width="2.6" stroke-linecap="round"/>
<path d="M389.9 146.8H409.5" stroke="#111" stroke-width="1.8"/>
<path d="M450.8 126.8V165.3" stroke="#e8409c" stroke-width="1.1"/>
<path d="M450.8 134.5L448.8 135.1L447.8 135.7L446.9 136.4L446.2 137L445.6 137.6L445 138.2L444.5 138.8L444 139.4L443.6 140L443.2 140.6L442.9 141.2L442.5 141.9L442.2 142.5L442 143.1L441.7 143.7L441.5 144.3L441.3 144.9L441.2 145.5L441 146.1L441 146.8L441 147.4L441 148L441.2 148.6L441.4 149.2L441.6 149.8L441.8 150.4L442.1 151L442.4 151.7L442.8 152.3L443.2 152.9L443.6 153.5L444.1 154.1L444.7 154.7L445.3 155.3L445.9 155.9L446.7 156.5L447.6 157.2L448.7 157.8L450.8 158.4L450.8 158.4L452.9 157.8L454 157.2L454.9 156.5L455.6 155.9L456.3 155.3L456.9 154.7L457.4 154.1L457.9 153.5L458.4 152.9L458.7 152.3L459.1 151.7L459.4 151L459.7 150.4L460 149.8L460.2 149.2L460.4 148.6L460.5 148L460.6 147.4L460.6 146.8L460.5 146.1L460.4 145.5L460.2 144.9L460.1 144.3L459.8 143.7L459.6 143.1L459.3 142.5L459 141.9L458.7 141.2L458.3 140.6L457.9 140L457.5 139.4L457 138.8L456.5 138.2L456 137.6L455.3 137L454.6 136.4L453.8 135.7L452.8 135.1L450.8 134.5Z" fill="#e8409c" fill-opacity="1.0"/>
<path d="M459 140.5h0m-11 5h0m0.5-2h0m5.5 6.5h0m0-7.5h0m5.5-1h0m-9.5 8.5h0m1.5-13h0m2.5 16.5h0m-4-7h0m7.5-4.5h0m4.5 4.5h0m-12 2.5h0m0 3.5h0m-3-3h0m5-10.5h0m6 4h0m-1-2h0m2 10h0m-3.5-7.5h0m-10.5-4h0m6 1h0m3.5 3h0m-0.5-2h0m5 2.5h0m-10 8h0m13-6.5h0m1 0.5h0m-12 8.5h0m10.5-8h0m-13-10h0m3.5 1h0m-1 2.5h0m-12.5 7h0m7.5 1.5h0m7-5h0m-7-5h0m2 0h0m3 1.5h0m-7.5 4.5h0m9-1.5h0m-11.5-0.5h0m1.5-1.5h0m5.5 4.5h0m5-1.5h0m-7 8h0m-4.5-7.5h0m4-7.5h0m4 16.5h0m-1 3.5h0m-8-6.5h0m20-1.5h0m-15.5 1h0m9-2h0m2.5 4.5h0m-7-16.5h0m8.5 9h0m-17-1h0m9 2h0m-8 0h0m14-7h0m-1.5-3h0m-7 7.5h0m5 5.5h0m-13 0.5h0m0.5-2h0m7-4h0m9 8h0m-8.5 5h0m4.5-0.5h0m0-20.5h0m-1.5 5.5h0m1.5-8h0m-10 8h0m1.5 12h0m10 3h0m1 1h0m1-9.5h0m-5.5-5h0m-1 3h0m3.5 15.5h0m-4-4.5h0m-3.5-3h0m-4-5h0m11 10h0m-4.5-13.5h0m1.5-9h0m-6 9h0m8.5-15h0m-0.5 26h0m-4-16.5h0m8 15.5h0m-6-1h0m-5.5-4h0m11 1.5h0m-7.5-5h0m-4.5 7h0m10.5-10h0m-5.5 10.5h0m6.5 3h0m-5.5-4h0m-1.5-8.5h0m6 2h0m-6.5 6h0m4 1h0m-8-1.5h0m7.5-19h0m-8.5 17h0m-0.5 0.5h0m2 0.5h0m5.5 5h0m2.5-5h0m-7.5-3.5h0m6-8h0m1-12.5h0m12 21h0m-12.5-15h0m1.5 10.5h0m-9-3.5h0m19 4.5h0m-10-3h0m-8.5 10h0m6.5 8.5h0m5-10h0m-6.5-9h0m3-6h0m2 14h0m0-6.5h0m-1.5 7.5h0m4.5-12.5h0m4 11h0m-6 7.5h0m-14.5-11.5h0m7 5.5h0m14-3.5h0m-17-7h0m1.5 6h0m13 3h0m-15-6h0m9.5-6.5h0m-1.5 0.5h0m5.5 17h0m-10.5-8.5h0m7 6.5h0m1.5 1h0m-3.5-7h0m-2.5-3h0m-4.5 6h0m11.5 4h0m-14-11.5h0m14.5 15h0m-13-16.5h0m13.5 10.5h0m-1 2.5h0m3-6h0m-7.5-7.5h0m-1.5 14h0m4-7h0m-8.5 2.5h0m-0.5 3h0m2.5-14.5h0m-1.5 1h0m5 11h0m9 4h0m-8-2h0m0.5-7.5h0m5 8h0m-9.5-1h0m3 0h0m-9.5-6h0m17 6.5h0m-7.5 6h0m-3-10h0m-7.5 3.5h0m15.5-3.5h0m7-1.5h0m-14-4.5h0m13.5 7.5h0" stroke="#e8409c" stroke-width="2.6" stroke-linecap="round"/>
<path d="M441 147.1H460.6" stroke="#111" stroke-width="1.8"/>
<path d="M476.6 126V168.8" stroke="#3aa39b" stroke-width="1.1"/>
<path d="M476.6 135.2L474.7 135.9L473.8 136.6L473 137.3L472.3 138L471.7 138.6L471.2 139.3L470.7 140L470.3 140.7L469.9 141.4L469.5 142L469.1 142.7L468.8 143.4L468.5 144.1L468.2 144.8L468 145.4L467.8 146.1L467.6 146.8L467.4 147.5L467.2 148.2L467.1 148.8L467 149.5L467 150.2L467 150.9L467.2 151.6L467.3 152.2L467.6 152.9L467.8 153.6L468.1 154.3L468.5 155L468.9 155.6L469.3 156.3L469.8 157L470.3 157.7L470.9 158.4L471.6 159L472.4 159.7L473.3 160.4L474.4 161.1L476.6 161.8L476.6 161.8L478.8 161.1L479.9 160.4L480.8 159.7L481.6 159L482.2 158.4L482.8 157.7L483.4 157L483.9 156.3L484.3 155.6L484.7 155L485 154.3L485.3 153.6L485.6 152.9L485.8 152.2L486 151.6L486.1 150.9L486.2 150.2L486.1 149.5L486 148.8L485.9 148.2L485.8 147.5L485.6 146.8L485.4 146.1L485.2 145.4L484.9 144.8L484.6 144.1L484.4 143.4L484 142.7L483.7 142L483.3 141.4L482.9 140.7L482.5 140L482 139.3L481.4 138.6L480.8 138L480.2 137.3L479.4 136.6L478.4 135.9L476.6 135.2Z" fill="#3aa39b" fill-opacity="1.0"/>
<path d="M483 157h0m-16-11.5h0m0.5 0h0m16.5 8.5h0m-11 6.5h0m7.5-4h0m-4.5-8h0m-2.5 0h0m8-4h0m1.5 4.5h0m-5.5 2.5h0m3.5-8.5h0m-12 0h0m15.5 9.5h0m-13-8.5h0m3.5-2.5h0m9 4.5h0m-6.5 10.5h0m1.5-7.5h0m-8.5-1h0m7-10.5h0m7.5 8h0m-7.5-6h0m10 11h0m-10-3.5h0m-4-2h0m-5-1.5h0m1 5.5h0m4.5-0.5h0m9 8h0m-7.5-10h0m12.5 1h0m-9 10h0m-1 11h0m-4-9.5h0m-1-16h0m1-1h0m2.5 20.5h0m-7.5-6h0m0-0.5h0m11-16h0m-7.5 16.5h0m-0.5-8h0m3.5-6h0m-8 13.5h0m4 0.5h0m-4-1h0m7.5 5h0m-7.5-6h0m3.5 5h0m4-28h0m-5.5 25.5h0m12.5 2h0m-4.5-1.5h0m-2.5-11h0m-1-9.5h0m-6 13h0m3-0.5h0m15 2.5h0m-14-9.5h0m6.5-5h0m-7.5 15h0m0.5-2h0m0.5-6h0m-1 13.5h0m14-9h0m-18.5-3.5h0m12.5 0h0m-9.5 9h0m4-15h0m-6 5h0m3.5 13h0m13-10h0m-7-12.5h0m9.5 19.5h0m-14 2.5h0m0-12h0m-4.5 2.5h0m9.5 12h0m-3.5-13.5h0m5 15h0m-11-17.5h0m4.5-5.5h0m11 19h0m-7.5-10.5h0m4 8.5h0m-3.5-8h0m-2.5-4.5h0m9 4.5h0m-6.5 9.5h0m4.5-16h0m-7.5 19.5h0m-0.5-15.5h0m9-2.5h0m-9 3.5h0m-4-0.5h0m-1.5 1h0m3.5-4h0m-2.5 4.5h0m9.5-6h0m-1.5 23.5h0m3.5-23.5h0m-6 5h0m11-2.5h0m-18 5.5h0m8 10h0m3-8h0m-5.5 2.5h0m0 7h0m-4.5-3.5h0m-1-1.5h0m9 7h0m10-9h0m-17-5h0m4.5-5h0m-8.5 6.5h0m21.5 2.5h0m-8.5 8h0m8-4.5h0m-17-3.5h0m9 4.5h0m-3.5-13.5h0m10.5 1h0m1.5 5h0m-4.5 9.5h0m-8.5-21.5h0m3.5 25.5h0m-12-10.5h0m2 0.5h0m17.5-11h0m-11 4.5h0m9 8.5h0m-13.5 1.5h0m8.5-9h0m-2 10h0m8-15h0m-14 6h0m11 4.5h0m-9.5-1h0m13-5.5h0m-10.5 0.5h0m4.5-2.5h0m3 13.5h0m7-8h0m-12.5-11h0m7 7.5h0m-6.5-8.5h0m-2-0.5h0m3.5 25h0m-6-4.5h0m9-7h0m6.5 2h0m-8.5 5.5h0m-3.5-18.5h0m2 15h0m4.5-13h0m-15.5 5.5h0m10-1.5h0m-3.5-5.5h0m-1 12.5h0m16.5-1.5h0m-9 5.5h0m-1-6.5h0m-1.5 6.5h0m7.5-4h0m-0.5-10h0m-9.5 5.5h0m4.5 2.5h0m-12.5 2h0m9 6.5h0m9-1.5h0m-1-10h0m-8-1.5h0m2 12h0m4-4.5h0m5-3.5h0m-13-6h0m10 13.5h0m-11-2h0" stroke="#3aa39b" stroke-width="2.6" stroke-linecap="round"/>
<path d="M466.8 150.3H486.4" stroke="#111" stroke-width="1.8"/>
<path d="M527.7 134.8V170.6" stroke="#e8409c" stroke-width="1.1"/>
<path d="M527.7 141.9L525.7 142.4L524.7 143L523.8 143.6L523.1 144.1L522.5 144.7L521.9 145.3L521.4 145.9L520.9 146.4L520.5 147L520.1 147.6L519.7 148.1L519.4 148.7L519.1 149.3L518.8 149.8L518.6 150.4L518.4 151L518.2 151.5L518 152.1L517.9 152.7L517.9 153.3L517.9 153.8L518 154.4L518.1 155L518.3 155.5L518.6 156.1L518.8 156.7L519.1 157.2L519.4 157.8L519.8 158.4L520.2 158.9L520.6 159.5L521.1 160.1L521.6 160.6L522.2 161.2L522.9 161.8L523.6 162.4L524.5 162.9L525.6 163.5L527.7 164.1L527.7 164.1L529.8 163.5L530.9 162.9L531.8 162.4L532.5 161.8L533.2 161.2L533.8 160.6L534.3 160.1L534.8 159.5L535.2 158.9L535.6 158.4L536 157.8L536.3 157.2L536.6 156.7L536.8 156.1L537.1 155.5L537.3 155L537.4 154.4L537.5 153.8L537.5 153.3L537.5 152.7L537.4 152.1L537.2 151.5L537 151L536.8 150.4L536.6 149.8L536.3 149.3L536 148.7L535.7 148.1L535.3 147.6L534.9 147L534.5 146.4L534 145.9L533.5 145.3L532.9 144.7L532.3 144.1L531.6 143.6L530.7 143L529.7 142.4L527.7 141.9Z" fill="#e8409c" fill-opacity="1.0"/>
<path d="M533 161h0m-3-2.5h0m8-6h0m-15-8h0m-2.5 2.5h0m2 14h0m3.5-6h0m2 6.5h0m-10-12h0m12.5-4.5h0m0 7.5h0m4.5 2.5h0m-2-8.5h0m4 11h0m-16-0.5h0m5.5-3.5h0m0-10.5h0m8 17h0m-17-8h0m16.5-5.5h0m3.5 4h0m-4-0.5h0m-8.5 0.5h0m8.5-0.5h0m-2 2.5h0m-6 5h0m6.5-11.5h0m-3 0h0m9 7.5h0m1-0.5h0m-23 2h0m0.5-3.5h0m13.5 0.5h0m-4.5 1h0m13.5-1.5h0m-10 4.5h0m-8-11h0m16 9.5h0m-18 3.5h0m11.5-15.5h0m6.5 8.5h0m-2 6.5h0m-17.5-6h0m5-1.5h0m7-2.5h0m-3.5 9h0m0-13.5h0m-2.5 7.5h0m3 12h0m1.5-19.5h0m9 12h0m-4.5-8.5h0m0 13.5h0m-4.5 2.5h0m0.5-20h0m-4.5 9.5h0m2 5h0m0-11.5h0m2.5-2h0m-2 18h0m7.5-7h0m-11-9.5h0m7-2.5h0m-7.5 6.5h0m3-1h0m10.5 3.5h0m-12 2.5h0m-1 8h0m6-15h0m8 3h0m-14 5.5h0m8-2.5h0m-5 10h0m7.5-4.5h0m-8-14h0m3 17h0m-8-5h0m10.5-1.5h0m-4 10h0m-4.5-14h0m7-1h0m2.5-1h0m-1.5 0h0m2.5 6h0m-7 4.5h0m0 0h0m-1.5-9.5h0m-6-0.5h0m12 1.5h0m-4.5-4h0m0.5-7h0m-2 12h0m7 0h0m-0.5 7h0m-9-13.5h0m7 18.5h0m-6-18h0m4.5 18.5h0m5-11h0m-5-14.5h0m4.5 17h0m-10.5 0.5h0m13 4h0m-5.5-2.5h0m-4.5-4h0m11 0h0m-3 0h0m-5 0h0m-5-1h0m8 6h0m-2.5 4.5h0m-10.5-6.5h0m10-21h0m0.5 16h0m-4.5-4h0m2-4h0m-5.5 16h0m14-13.5h0m-8 5.5h0m6-3.5h0m-14.5 2h0m8 6h0m-5 3h0m7-18h0m8 5.5h0m2 8h0m-3.5-6h0m1-2h0m-14.5-1h0m4 13.5h0m-2.5-9.5h0m7 15.5h0m1.5-4h0m-11.5-12.5h0m16 7h0m-1.5-7.5h0m-12-0.5h0m10-3.5h0m-1.5 11.5h0m-1 1.5h0m-3-3.5h0m10.5 2h0m-3.5-3h0m-13.5-2.5h0m7.5 10.5h0m-0.5 5h0m6-21h0m-13 13.5h0m1 0.5h0m6-7h0m8.5 5.5h0m-5 3.5h0m-7.5-5h0m2.5-3.5h0m-2-1h0m-3 2.5h0m9.5 9.5h0m5.5-9h0m-4 1h0m-3 6.5h0m3.5-6.5h0m-10 5.5h0m8-0.5h0m1.5-16h0m-9 15.5h0m7.5-15.5h0m-11.5 6.5h0m8 10h0m10.5-6.5h0m-4.5-7.5h0m0.5 8h0m4 3.5h0m-7.5-12.5h0m5.5 11.5h0m-16.5 1h0m17.5-11.5h0m-13 0h0m15 8.5h0" stroke="#e8409c" stroke-width="2.6" stroke-linecap="round"/>
<path d="M517.9 153.4H537.5" stroke="#111" stroke-width="1.8"/>
<path d="M553.5 137.3V174" stroke="#3aa39b" stroke-width="1.1"/>
<path d="M553.5 143.7L551.4 144.3L550.3 144.9L549.4 145.4L548.7 146L548 146.6L547.4 147.2L546.9 147.8L546.4 148.4L546 148.9L545.6 149.5L545.3 150.1L544.9 150.7L544.7 151.3L544.4 151.9L544.2 152.4L544.1 153L543.9 153.6L543.9 154.2L544 154.8L544.1 155.4L544.2 155.9L544.3 156.5L544.5 157.1L544.8 157.7L545 158.3L545.3 158.9L545.6 159.4L545.9 160L546.2 160.6L546.6 161.2L547 161.8L547.5 162.4L548 162.9L548.5 163.5L549.1 164.1L549.8 164.7L550.6 165.3L551.6 165.9L553.5 166.4L553.5 166.4L555.4 165.9L556.4 165.3L557.2 164.7L557.9 164.1L558.5 163.5L559 162.9L559.5 162.4L560 161.8L560.4 161.2L560.8 160.6L561.1 160L561.4 159.4L561.7 158.9L562 158.3L562.2 157.7L562.5 157.1L562.7 156.5L562.8 155.9L562.9 155.4L563 154.8L563.1 154.2L563.1 153.6L562.9 153L562.8 152.4L562.6 151.9L562.3 151.3L562.1 150.7L561.7 150.1L561.4 149.5L561 148.9L560.6 148.4L560.1 147.8L559.6 147.2L559 146.6L558.3 146L557.6 145.4L556.7 144.9L555.6 144.3L553.5 143.7Z" fill="#3aa39b" fill-opacity="1.0"/>
<path d="M555 157h0m3-7h0m-13 3.5h0m0.5-2.5h0m15.5 3h0m-7-11h0m-3.5 11.5h0m3 7.5h0m-5-13h0m5.5 13h0m-11-6h0m5-8.5h0m2 10h0m-0.5 6h0m1.5-11.5h0m-8.5 3.5h0m18.5-5h0m-7 11h0m-5.5-15.5h0m6 14h0m-3.5-4.5h0m11.5-5.5h0m-13 13.5h0m9-13h0m-1 7.5h0m-3.5 7h0m-4-3h0m4-13.5h0m-6 9h0m4.5-11.5h0m3 10.5h0m-6-2.5h0m13 2h0m-8.5 7h0m4-14h0m3.5 4.5h0m-13.5 8h0m-2.5-2h0m17.5-3.5h0m-11.5-5.5h0m11 3.5h0m-2 4h0m-6.5-9.5h0m5.5 13.5h0m3.5-12h0m-11-4h0m7.5 12h0m1 3.5h0m-11.5-11.5h0m4 9h0m0.5-7.5h0m2-7h0m-9 14h0m-1.5 1h0m11.5 6h0m5.5-6.5h0m0.5-1.5h0m-7.5 2h0m-2.5-7h0m3.5-7h0m-6 15h0m4.5-19h0m6.5 19.5h0m-8.5-7.5h0m-2 5h0m5-6.5h0m1.5 8h0m-12.5-9h0m10.5 6h0m-1.5-18.5h0m-8 15.5h0m5-4.5h0m6 11.5h0m-5.5-1h0m8 1.5h0m-4 4h0m1.5-4.5h0m-5 0.5h0m-5.5-6h0m4.5 5.5h0m0.5 2.5h0m-1.5-5.5h0m11 4.5h0m2.5-4.5h0m-20-6h0m1.5 3h0m18-0.5h0m-7-0.5h0m9 2.5h0m-13 0.5h0m-1 6h0m-1-14h0m-2 9.5h0m3 1.5h0m-6.5-8.5h0m10.5-4h0m-6 1h0m4.5 18.5h0m-4.5-12.5h0m8.5-9h0m-0.5 18h0m4-3h0m-6 2h0m4-6.5h0m-13.5-2h0m8-2h0m-4.5 11h0m4.5-15h0m-5 11.5h0m12-6.5h0m-15 4.5h0m1.5-1.5h0m10.5 0h0m3.5-7h0m-13-1.5h0m16.5 6h0m-4.5 8h0m-10-9.5h0m8 9.5h0m-7-3.5h0m-1-9h0m-0.5 12.5h0m5.5-19h0m-5 19h0m8.5-11.5h0m1-2.5h0m-2 6h0m-12.5 2.5h0m10 1h0m-8-3h0m11.5-5h0m-5-4h0m-7.5 2.5h0m10 18.5h0m7.5-6.5h0m-20-4.5h0m12-4.5h0m-0.5-4h0m3.5 15.5h0m5-8.5h0m-12-7h0m7 9.5h0m-6-5.5h0m-4.5 2h0m7-11.5h0m6.5 14.5h0m-10.5-0.5h0m4-7.5h0m2.5 3.5h0m0 6h0m-2.5-8.5h0m-6-1.5h0m8.5-1h0m-6 11h0m3.5-12h0m-1.5 28.5h0m-5.5-16h0m11-4.5h0m-5-5h0m2.5 15.5h0m0-9h0m0.5-3h0m-8-2.5h0m-4.5 5h0m7 3h0m0 2h0m-4-9h0m0 10h0m3.5 3.5h0m0.5-7h0m5 5.5h0m0.5 2h0m-9-16.5h0m-1 6.5h0m0.5 4.5h0m7.5-16h0m-6.5 18.5h0m10.5 2.5h0" stroke="#3aa39b" stroke-width="2.6" stroke-linecap="round"/>
<path d="M543.7 154.1H563.3" stroke="#111" stroke-width="1.8"/>
<path d="M604.6 139V173.4" stroke="#e8409c" stroke-width="1.1"/>
<path d="M604.6 146.1L602.7 146.6L601.6 147.2L600.8 147.7L600.1 148.3L599.5 148.8L598.9 149.3L598.4 149.9L598 150.4L597.5 151L597.2 151.5L596.8 152.1L596.5 152.6L596.2 153.2L595.9 153.7L595.6 154.3L595.4 154.8L595.2 155.4L595.1 155.9L594.9 156.5L594.8 157L594.8 157.6L594.8 158.1L595 158.6L595.1 159.2L595.3 159.7L595.6 160.3L595.9 160.8L596.2 161.4L596.5 161.9L596.9 162.5L597.4 163L597.9 163.6L598.4 164.1L599 164.7L599.7 165.2L600.4 165.8L601.3 166.3L602.5 166.8L604.6 167.4L604.6 167.4L606.8 166.8L607.9 166.3L608.8 165.8L609.6 165.2L610.2 164.7L610.8 164.1L611.4 163.6L611.9 163L612.3 162.5L612.7 161.9L613.1 161.4L613.4 160.8L613.7 160.3L613.9 159.7L614.1 159.2L614.3 158.6L614.4 158.1L614.5 157.6L614.4 157L614.3 156.5L614.2 155.9L614 155.4L613.8 154.8L613.6 154.3L613.3 153.7L613.1 153.2L612.8 152.6L612.4 152.1L612.1 151.5L611.7 151L611.3 150.4L610.8 149.9L610.3 149.3L609.7 148.8L609.1 148.3L608.4 147.7L607.6 147.2L606.6 146.6L604.6 146.1Z" fill="#e8409c" fill-opacity="1.0"/>
<path d="M609 147.5h0m-15.5 12.5h0m10.5 6.5h0m2-18h0m-5.5 13h0m12.5-10h0m-17 7h0m6-4h0m11.5-3.5h0m-10 9h0m4.5 6.5h0m3.5-16h0m-7.5 11.5h0m3.5-6.5h0m6 1h0m-14.5 4.5h0m17-2.5h0m-19 4.5h0m4.5-12.5h0m-6 2h0m17 9h0m-6.5 0h0m-5.5-9.5h0m-4.5-0.5h0m13.5 2h0m-4.5 13h0m9.5-7h0m-12-10h0m1 10h0m11.5-4.5h0m-5.5 11h0m0.5-16h0m-4.5 8h0m-10-1.5h0m12.5-8.5h0m-9.5 13h0m-3-7.5h0m12 5.5h0m7.5-4h0m-9 7h0m1-13.5h0m-6.5 14.5h0m-4.5-12h0m3 4h0m11-4.5h0m-6 12.5h0m-7-13h0m7-5.5h0m0.5 8h0m-2 4.5h0m8.5 4.5h0m-4.5-0.5h0m-11 0.5h0m7-9.5h0m4.5 4.5h0m9 3h0m-2 1.5h0m-16.5-1.5h0m2 2.5h0m15-6h0m-7.5 8h0m-10 0.5h0m5-10h0m-8 0.5h0m8-5h0m0 12h0m-2 4h0m3-2.5h0m3 2h0m-0.5-21h0m0.5 20h0m6-5.5h0m-13.5-4.5h0m5-4.5h0m-1.5 2h0m7 2h0m-4.5 5.5h0m10.5 1h0m-12.5-1.5h0m-1.5 0.5h0m7.5-1.5h0m-8.5-9.5h0m7 10.5h0m-3.5-6h0m0 2.5h0m2 13h0m2-19h0m-3.5 4h0m-4 10h0m4-20h0m-1 19h0m11.5-3h0m0-3.5h0m-15-6.5h0m12.5 1h0m2.5 2.5h0m-5 10.5h0m-16-6.5h0m15-3.5h0m-12.5-1.5h0m9 6h0m6.5 4.5h0m-8.5-7.5h0m1.5 11.5h0m-2.5-15h0m8 10h0m-6.5-9.5h0m-0.5 9h0m-4.5 1.5h0m6 4h0m7.5-4.5h0m-8-8h0m5.5-1.5h0m-2 1.5h0m2 2.5h0m-2.5-8.5h0m3 17h0m-9-5h0m3-4h0m11 3.5h0m-14.5 0h0m15.5 1h0m-15 0.5h0m5-15.5h0m-8.5 16.5h0m-3-3h0m11.5-9.5h0m1 2h0m0 12h0m5.5-10.5h0m-5.5 4.5h0m-0.5 0h0m-7-8h0m2-2h0m-1 4h0m6.5-1.5h0m6 13.5h0m3-8h0m-20.5 0h0m0 6h0m18-1.5h0m-7.5-15.5h0m-8 7h0m1.5 9h0m10 3.5h0m-6-18.5h0m-7.5 15.5h0m6 5h0m-4-3h0m12 1.5h0m-1-3.5h0m-10.5-10h0m7 11.5h0m-4-10h0m-5 10.5h0m8.5 3h0m0.5-21.5h0m-7.5 10h0m17 4.5h0m-4.5 2.5h0m-8 3h0m-4-15h0m3 3.5h0m-4.5 0h0m1.5 7h0m6-3h0m1.5 2h0m-5-5.5h0m4 13h0m-7.5-14.5h0m-4.5 5h0m3.5 0h0m9 9h0m2-4h0m-7-10.5h0m9.5 9h0m2 2.5h0m-16.5-7.5h0" stroke="#e8409c" stroke-width="2.6" stroke-linecap="round"/>
<path d="M594.8 157.6H614.4" stroke="#111" stroke-width="1.8"/>
<path d="M630.4 132V171.3" stroke="#3aa39b" stroke-width="1.1"/>
<path d="M630.4 139.5L628.4 140.1L627.4 140.7L626.5 141.4L625.8 142L625.2 142.6L624.6 143.2L624.1 143.9L623.7 144.5L623.2 145.1L622.9 145.7L622.5 146.4L622.2 147L621.9 147.6L621.6 148.2L621.4 148.9L621.2 149.5L621.1 150.1L620.9 150.7L620.8 151.4L620.8 152L620.9 152.6L621 153.2L621.2 153.9L621.4 154.5L621.6 155.1L621.9 155.7L622.2 156.4L622.5 157L622.8 157.6L623.2 158.2L623.7 158.9L624.1 159.5L624.6 160.1L625.2 160.7L625.8 161.4L626.5 162L627.4 162.6L628.4 163.2L630.4 163.9L630.4 163.9L632.4 163.2L633.5 162.6L634.3 162L635 161.4L635.6 160.7L636.2 160.1L636.7 159.5L637.2 158.9L637.6 158.2L638 157.6L638.3 157L638.7 156.4L639 155.7L639.2 155.1L639.4 154.5L639.6 153.9L639.8 153.2L639.9 152.6L640 152L640 151.4L639.9 150.7L639.8 150.1L639.6 149.5L639.4 148.9L639.2 148.2L638.9 147.6L638.7 147L638.3 146.4L638 145.7L637.6 145.1L637.2 144.5L636.7 143.9L636.2 143.2L635.6 142.6L635 142L634.3 141.4L633.5 140.7L632.4 140.1L630.4 139.5Z" fill="#3aa39b" fill-opacity="1.0"/>
<path d="M627.5 151h0m14.5 1h0m-1 2h0m-16.5-6.5h0m6.5 17.5h0m-1-19.5h0m3-4.5h0m-0.5 1.5h0m-8 7.5h0m0-5h0m12 0h0m-13 7h0m8.5 13h0m-0.5-7h0m-10.5-6.5h0m20 4h0m-17 4.5h0m2.5-2h0m-0.5-10h0m13 5.5h0m-19.5 1.5h0m17.5-8h0m-6 6h0m7 4h0m-10-12.5h0m13 7.5h0m-4.5-4h0m-12.5 4h0m6-4.5h0m5 11.5h0m-2 0.5h0m-5.5-9.5h0m-8 4.5h0m13-13.5h0m-3 5h0m3.5 6h0m1.5 2h0m0.5 6h0m-14.5-7h0m2.5-7h0m14.5 1h0m-9.5-0.5h0m12.5 8h0m-7.5-5h0m-2 5.5h0m-9.5-5.5h0m11.5 8h0m6.5-3h0m-2-8.5h0m-5.5 7.5h0m6 0.5h0m-13-2h0m7-5.5h0m0.5-4h0m-4.5 8.5h0m-7.5 0.5h0m14.5 1.5h0m0-10.5h0m-3.5 15.5h0m9-9.5h0m-10.5-6.5h0m1 24h0m11-13.5h0m-18.5 4h0m11-2.5h0m-5.5-16.5h0m-4.5 19h0m8.5 1.5h0m-14-5h0m14.5-7h0m5 9.5h0m-12.5-1h0m6.5 8.5h0m-11-12.5h0m2.5 2.5h0m9.5 3h0m-10.5-6h0m8-0.5h0m2-5h0m1.5 7h0m-2 2.5h0m-2.5 6h0m11-7h0m-10.5-11.5h0m-2 1.5h0m1 14.5h0m0.5-7.5h0m2.5 6h0m-1.5-9.5h0m-4 11.5h0m1-7.5h0m12 1.5h0m-11.5-10h0m-3.5 5h0m0.5 11.5h0m6.5-18.5h0m-7 13.5h0m4.5-3.5h0m4.5 2h0m-10.5-6h0m12.5-3.5h0m-13 10.5h0m15.5-2.5h0m-16.5-0.5h0m16.5 3.5h0m0.5-4.5h0m-7 12.5h0m-4-12.5h0m11 3.5h0m-4.5 5.5h0m-12-10h0m5.5 7.5h0m12.5-2h0m-14.5 3h0m5-6h0m-5 0h0m-0.5 5.5h0m0-11.5h0m10.5 12.5h0m-11-13h0m9.5 2.5h0m-14 10.5h0m11-18.5h0m4 19h0m-2.5 2.5h0m4.5-16.5h0m-2 6h0m-12 5.5h0m10-3h0m-10 3h0m11-5.5h0m-1 11h0m-4.5-18.5h0m2 22.5h0m-8-17.5h0m18 7h0m-9.5 3h0m-13-5h0m3.5 3h0m11-2h0m-1.5-12.5h0m0-2h0m-6 19h0m5.5-13h0m6 5.5h0m-9 10.5h0m-1.5-1h0m10.5 1h0m-9-2.5h0m-1 4h0m7-7h0m2-10.5h0m-12 14.5h0m0-13.5h0m8-3h0m-0.5 0.5h0m-2.5-4h0m7 16h0m-15-7.5h0m1 1.5h0m-2-0.5h0m11-3h0m3.5 0h0m-2.5 8h0m5-1.5h0m-8.5 0h0m-4.5-1h0m15.5 4h0m-13-2.5h0m3-3h0m1-4.5h0m-4.5 5h0m6 1h0m-2.5-5h0m7.5-3h0m-6 9h0m-7.5-0.5h0m-3 3h0" stroke="#3aa39b" stroke-width="2.6" stroke-linecap="round"/>
<path d="M620.6 151.7H640.2" stroke="#111" stroke-width="1.8"/>
</g>
<g fill="none">
<path d="M92 7V180.5M681.5 7V180.5" stroke="#dcdcdc" stroke-width="1.6"/>
<path d="M91.3 7H682.2" stroke="#b0b0b0" stroke-width="1.4"/>
<path d="M91.3 180.5H682.2" stroke="#a6a6a6" stroke-width="1.4"/>
<path d="M92 28.6h8M681.5 28.6h-8M92 93.5h8M681.5 93.5h-8M92 158.5h8M681.5 158.5h-8M156 7v8M156 180.5v-8M232.9 7v8M232.9 180.5v-8M309.8 7v8M309.8 180.5v-8M386.8 7v8M386.8 180.5v-8M463.7 7v8M463.7 180.5v-8M540.6 7v8M540.6 180.5v-8M617.5 7v8M617.5 180.5v-8" stroke="#b8b8b8" stroke-width="1.1"/>
</g>
<text x="74.3" y="35.4" font-size="18" text-anchor="end">0.6</text>
<text x="74.3" y="100.2" font-size="18" text-anchor="end">0.3</text>
<text x="77.8" y="160.2" font-size="18" text-anchor="end">0</text>
<text x="322.1" y="54.5" font-size="18" text-anchor="start">Visual</text>
<clipPath id="ca1"><rect x="92" y="183.5" width="589.5" height="173.3"/></clipPath>
<g clip-path="url(#ca1)">
<path d="M143.1 189.1V346.4" stroke="#e8409c" stroke-width="1.1"/>
<path d="M143.1 219L141.9 221.2L141.3 223.3L140.7 225.5L140.3 227.6L139.8 229.8L139.4 231.9L139.1 234.1L138.8 236.2L138.5 238.4L138.2 240.5L137.9 242.7L137.7 244.8L137.5 247L137.3 249.2L137.1 251.3L137 253.5L136.8 255.6L136.7 257.8L136.7 259.9L136.7 262.1L136.8 264.2L136.9 266.4L137 268.5L137.2 270.7L137.3 272.8L137.5 275L137.8 277.2L138 279.3L138.2 281.5L138.5 283.6L138.8 285.8L139.1 287.9L139.5 290.1L139.9 292.2L140.3 294.4L140.8 296.5L141.3 298.7L142 300.8L143.1 303L143.1 303L144.2 300.8L144.9 298.7L145.4 296.5L145.9 294.4L146.3 292.2L146.7 290.1L147.1 287.9L147.4 285.8L147.7 283.6L148 281.5L148.2 279.3L148.4 277.2L148.7 275L148.9 272.8L149 270.7L149.2 268.5L149.3 266.4L149.4 264.2L149.5 262.1L149.5 259.9L149.5 257.8L149.4 255.6L149.2 253.5L149.1 251.3L148.9 249.2L148.7 247L148.5 244.8L148.3 242.7L148 240.5L147.7 238.4L147.4 236.2L147.1 234.1L146.8 231.9L146.4 229.8L145.9 227.6L145.5 225.5L144.9 223.3L144.3 221.2L143.1 219Z" fill="#e8409c" fill-opacity="0.45"/>
<path d="M146 288.5h0m-0.5-2.5h0m-8-57h0m-0.5 2.5h0m10.5-6.5h0m-7 29h0m-4 26h0m13-24h0m-5.5 33.5h0m9.5-18h0m-7-47h0m2.5 30.5h0m-1-19h0m4 21h0m-13.5-30h0m10.5 50h0m-13-27h0m12 7.5h0m-11 7h0m14.5 3h0m-7.5-23.5h0m7.5 36h0m-12-20h0m7.5-1h0m-3 52h0m-10.5-65h0m6-7.5h0m8.5 43h0m-5 12.5h0m5.5-36.5h0m-12 18h0m2.5-37.5h0m-2 13.5h0m7-20h0m3 12.5h0m-3.5 36.5h0m5.5-15.5h0m-4-35h0m-4 40.5h0m4-29h0m-11 37h0m9.5-1.5h0m-5-14h0m-3-13.5h0m7.5-14.5h0m1.5 50h0m1-17.5h0m4.5-16.5h0m-3.5-19.5h0m-9.5 53h0m-0.5-47.5h0m4.5 15h0m-3-12h0m14 10h0m-8.5 0.5h0m1-24h0m4.5 59.5h0m-15-27h0m0.5 18h0m0 3h0m6-25.5h0m-1-13.5h0m6.5-3.5h0m-2-19h0m-1 95h0m-7-30.5h0m9.5-18h0m-3 29.5h0m-2.5-49h0m11.5 20h0m-13-13h0m-0.5-7h0m2.5 0h0m1.5 57.5h0m-4-13h0m8.5-0.5h0m4.5-33h0m-14 21.5h0m8.5 11h0m-2.5 7h0m-2.5-59h0m9 11.5h0m-8.5 21h0m6 15.5h0m-8-10h0m9 18h0m-7-18.5h0m-3.5-29.5h0m11 8.5h0m-3 2.5h0m-5.5 4h0m3 22.5h0m-0.5-29.5h0m-1 34h0m1-38.5h0m3.5-0.5h0m-2.5 64h0m1.5-18h0m5-21.5h0m-8.5-19.5h0m-7.5 25.5h0m-2-16h0m5.5-10h0m5.5-25.5h0m0.5 18h0m-3.5 33h0m-2.5-17.5h0m-1-25h0m6 66.5h0m-5.5-55.5h0m5.5 27h0m-3-2.5h0m6.5-47h0m-8.5 11h0m3.5 60.5h0m1-29.5h0m-3 15h0m5.5 15.5h0m9-35.5h0m-11.5 27.5h0m-6-28.5h0m5 18.5h0m-1-11.5h0m-6.5-10h0m2-15.5h0m3.5 12h0m3.5 1.5h0m0.5 39h0m5-66h0m-7 6.5h0m6.5 44.5h0m4.5-15h0m-20-5h0m22.5 8h0m-10-64h0m-9 47.5h0m12-19h0m2.5 49.5h0m-11-33.5h0m-1.5 18.5h0m2 17.5h0m12-40.5h0m-0.5 22h0m0.5-16h0m-8 7.5h0m-1-13h0m5 45h0m3-21.5h0m-6.5 31.5h0m-8.5-24.5h0m-2-21.5h0m5.5-13.5h0m-2-5h0m4 21h0m12-5h0m-9 16.5h0m-0.5-0.5h0m-7.5-8h0m2-14.5h0m0-5h0m12.5 23.5h0m-6.5 9.5h0m5.5-20h0m-4.5-25.5h0m3 6h0m2.5 52.5h0m-9 15.5h0m6.5-16h0m-3.5-18.5h0m5.5-28.5h0m-6 77h0m-3-60.5h0m0.5 39h0m0.5-12.5h0m-3.5-16h0m2.5 16.5h0m9.5-34h0m-6 57h0m8-40.5h0m-2.5-24.5h0m-5.5-15h0m-4 13h0m9.5 33h0m-6-0.5h0m4-19h0m-9.5 18h0m-1.5-6h0m9 13h0m-3.5-32.5h0m-4.5-5.5h0m10.5 41.5h0m-6-30h0m8.5 18.5h0m-1 16h0m3.5-10h0m-16-17h0m-3 22.5h0m7-26h0m3 46h0m2.5-61.5h0m-3 60h0m4-13.5h0m-14.5-20h0m9.5 23h0m-1-54.5h0m6 21h0m-6.5 1h0m-5-18.5h0m12 6.5h0m-11-9h0m-5.5 24.5h0m10-26h0m-5.5 13h0m4 55h0m-8.5-43.5h0m4.5 17h0m6-33.5h0m7 37.5h0m-9.5-36.5h0m9.5 6h0m1.5-2.5h0m-9 50.5h0m1-67.5h0m4 52h0m-1.5-10.5h0m4-15h0m-11 37h0m5 11.5h0m7-55.5h0m-1.5 9h0m-11.5-5h0m5 18h0m3 23h0m4-11.5h0m-4-53h0m-9 49h0m7-5.5h0m2.5 15h0m-1-10h0m6-12.5h0m-2-14.5h0m-14.5 15.5h0m2-18.5h0m5.5-25.5h0m-2.5 26h0m4-25.5h0m8.5 31h0m-5.5 41.5h0m-7.5-16.5h0m4.5-9h0m-5 5.5h0m9.5 4.5h0m-11.5-38.5h0m-1.5 19h0m1 27h0m10 9.5h0m-1.5-1.5h0m6-14h0m3-11h0m-18.5-15.5h0m12 44h0m2-21.5h0m0-10h0m-4 12.5h0m-10.5-20h0m-1 14.5h0m4-28.5h0m1 34.5h0m-7-15.5h0m10.5-26h0m-5-5h0m14.5 52h0m-2.5 5.5h0m-12.5-51.5h0m2.5 4.5h0m8.5 28h0m1 16h0m-1-27.5h0m-9 21.5h0m10-52h0m-10.5 54.5h0m9-40h0m1 27h0m-9-35.5h0m5.5 31.5h0m8.5-4h0m-8 26h0m3.5-48.5h0m-15.5 35h0m14.5-4h0m-15-5.5h0m9-37.5h0m3-5h0m3 3.5h0m-9.5 22h0m10-2.5h0m5.5 11h0m0.5 4h0m-18.5 16h0m8-50.5h0m0 8h0m2-9h0m6.5 48h0m-18 6.5h0m7-24h0m-2.5-4h0m-3-2.5h0m15-4h0m-8-14.5h0m-9.5 20.5h0m16 17.5h0m-13.5 11h0m1-41.5h0m6 45.5h0m9-8h0m-4.5-27.5h0m-4-15.5h0m-3 62.5h0m2.5-49h0m-2 2h0m4 40h0m3.5-40.5h0m-12.5 35h0m-1-26h0m13-17h0m6 24.5h0m-13 25.5h0m-5-4.5h0m6.5-48.5h0m10 37.5h0m-11-8h0m-0.5 19.5h0m-1.5-42h0m1.5 12h0m9 16h0m-3-45.5h0m-7 48h0m12.5-29h0m-14-0.5h0m-1 23.5h0m11.5-16.5h0m0.5 36.5h0m2.5-50h0m-5 44h0m-14-16h0m19.5-22h0m-3.5 25.5h0m-11-22.5h0m11.5 25h0m-9-45h0m-2.5 46.5h0" stroke="#e8409c" stroke-width="2.6" stroke-linecap="round"/>
<path d="M132.1 260.6H154.1" stroke="#111" stroke-width="1.8"/>
<path d="M168.9 258.8V370" stroke="#3aa39b" stroke-width="1.1"/>
<path d="M168.9 277.5L167.8 279.4L167.2 281.3L166.6 283.2L166.2 285.1L165.8 287.1L165.4 289L165.1 290.9L164.8 292.8L164.5 294.7L164.2 296.6L163.9 298.5L163.7 300.4L163.5 302.3L163.3 304.2L163.1 306.2L162.9 308.1L162.8 310L162.7 311.9L162.6 313.8L162.5 315.7L162.5 317.6L162.5 319.5L162.6 321.4L162.8 323.3L163 325.3L163.1 327.2L163.4 329.1L163.6 331L163.8 332.9L164.1 334.8L164.4 336.7L164.8 338.6L165.1 340.5L165.5 342.4L165.9 344.4L166.4 346.3L167 348.2L167.7 350.1L168.9 352L168.9 352L170.1 350.1L170.8 348.2L171.4 346.3L171.9 344.4L172.3 342.4L172.7 340.5L173 338.6L173.4 336.7L173.7 334.8L174 332.9L174.2 331L174.4 329.1L174.7 327.2L174.8 325.3L175 323.3L175.2 321.4L175.3 319.5L175.3 317.6L175.3 315.7L175.2 313.8L175.1 311.9L175 310L174.9 308.1L174.7 306.2L174.5 304.2L174.3 302.3L174.1 300.4L173.9 298.5L173.6 296.6L173.3 294.7L173 292.8L172.7 290.9L172.4 289L172 287.1L171.6 285.1L171.2 283.2L170.6 281.3L170 279.4L168.9 277.5Z" fill="#3aa39b" fill-opacity="0.45"/>
<path d="M168 369h0m8.5-55h0m-2.5-16h0m4 28.5h0m-4 14.5h0m-4.5-4h0m-2-37.5h0m2.5 16h0m-4-2.5h0m-1-8.5h0m3.5 41.5h0m-2.5-18h0m-5-11.5h0m4.5-13h0m3 15.5h0m-5-7.5h0m-4.5 10h0m12.5-11.5h0m-8 1.5h0m5-7h0m7.5 29.5h0m0-19.5h0m-7 21h0m2 4h0m-3.5-46h0m2 14h0m-3 38h0m6.5-15.5h0m-11.5-20h0m11-19h0m-6.5 10.5h0m7.5 26.5h0m-6.5 14.5h0m8-19h0m-9-0.5h0m3-41h0m3.5 10.5h0m-4.5 25.5h0m3.5-30.5h0m-7 34.5h0m2.5 3h0m8.5-19.5h0m-12.5-16h0m2.5-4h0m1 0.5h0m2 22h0m-7 28.5h0m6-39h0m10 9.5h0m-2 30h0m-8.5-11h0m11.5-7.5h0m-1-21h0m-4-3h0m1-2h0m-9.5 26h0m3.5-36h0m2 50.5h0m9-6h0m-4-6h0m-13-5.5h0m-3.5 7.5h0m15-23.5h0m-4 20.5h0m-4.5-24h0m-2.5-3.5h0m15 18h0m-7-26h0m9.5 36.5h0m-13-27.5h0m9.5 22h0m-13-10.5h0m9.5-8.5h0m-5 37.5h0m1-57h0m-6.5 23h0m2 28.5h0m2-30h0m0.5 4.5h0m4 43.5h0m2-32h0m-4.5-8h0m4 22h0m-6-42h0m9 23.5h0m-2.5 4h0m-8-20h0m9.5 31h0m-11.5-21.5h0m10.5 8h0m-10 22h0m14.5-13h0m-9-35.5h0m-6 41.5h0m-0.5-37.5h0m13.5 14h0m-6.5-29h0m4 65.5h0m-10-6.5h0m0.5-40.5h0m1 28.5h0m0.5-39.5h0m2-6.5h0m-3 10.5h0m-4 44.5h0m1.5-23.5h0m11-7h0m-9.5 20.5h0m15.5-4.5h0m-12.5-16h0m-4 12h0m11.5 28h0m-12.5-24h0m11 9h0m-5.5-22.5h0m-0.5 37.5h0m-1.5-50.5h0m-4.5 9.5h0m5 5h0m9 12h0m-14 8h0m7-4h0m-1-13h0m-7 11.5h0m0.5-9h0m15 25.5h0m-10-15h0m3.5-10h0m-4.5 5.5h0m11-19.5h0m-16.5 11h0m11 40h0m-4-13h0m-4.5 5h0m13.5-9.5h0m4-4.5h0m-7-40h0m-6.5 7.5h0m11.5 13h0m-14-2.5h0m8 21.5h0m-1-27h0m-3.5 51h0m-8-31h0m16 5.5h0m-11-28h0m11.5 26h0m-6.5 18h0m-5.5-26.5h0m2.5 3.5h0m0.5 3h0m-6.5 13.5h0m6.5-5.5h0m2-5.5h0m-5.5-18h0m0 32h0m1.5-41h0m4.5 35.5h0m6-13h0m-0.5 8.5h0m-5-3h0m6 17h0m-7.5-62h0m7.5 61h0m-1-2h0m-9 10.5h0m-1.5-50h0m14 23h0m-6.5-36h0m-6 51h0m-4.5-23h0m11.5 24h0m-3-42h0m0 50.5h0m6.5-34h0m-9-11.5h0m-1 45h0m-6.5-16h0m7 1.5h0m4.5-2h0m0.5-3h0m0.5-15h0m0.5 8h0m-2.5-22.5h0m-8.5 39h0m2-31h0m2.5 37.5h0m3 1h0m-3.5-44h0m10.5 31.5h0m-4-26h0m-6 35.5h0m4 4.5h0m1.5-2.5h0m-10-6h0m9-61h0m6.5 50.5h0m-16 3h0m16.5-14.5h0m-13.5 12.5h0m14.5 0h0m-4-15.5h0m-6.5-15h0m8-4h0m-2 14.5h0m-2-11h0m-10 3h0m11.5 28.5h0m-3.5-23h0m5 20h0m-8 0.5h0m3.5-11h0m7 3.5h0m-13-20h0m-4.5 33.5h0m6.5-9.5h0m-7 8.5h0m5.5-14h0m6 11h0m8.5-5.5h0m-10-38.5h0m-3 37.5h0m2 3h0m-1.5-10.5h0m8.5 23.5h0m-9-46.5h0m-2 36.5h0m-2-33h0m10.5 13h0m-7 41h0m-4.5-22h0m3 5.5h0m2.5-9.5h0m8-11.5h0m-15.5 5.5h0m4-5.5h0m3 2h0m-1 29.5h0m0-15h0m-2.5-13h0m2 18.5h0m11-34h0m-14 12.5h0m14.5-11.5h0m-13.5 8.5h0m0 30h0m5.5-17.5h0m0 38.5h0m-4-39.5h0m16-5.5h0m-7.5-5.5h0m-6.5 5.5h0m2.5 30h0m-4.5-14h0m-1.5-17.5h0m3.5 27h0m9-38h0m-6 15h0m-0.5 2.5h0m5.5 6.5h0m-10.5-20.5h0m6 36.5h0m7.5-40h0m-12-15h0m6 50.5h0m-8.5-32.5h0m1 32h0m5.5-33h0m4.5 42.5h0m-1-18h0m-9-29.5h0m3 0.5h0m2.5 37.5h0m-7-15h0m12.5-23.5h0m-14 3h0m11.5 43.5h0m5-33.5h0m-12.5-10.5h0m0.5 19.5h0m-4-19.5h0m13 44.5h0m-13.5-7.5h0m18.5-19.5h0m-13 17h0m10-1.5h0m-7-24.5h0m6-11h0m-10 10h0m8.5-9.5h0m3 38h0m-7-5h0m-7.5-12.5h0m15.5 6h0m-10 9.5h0m-7-6h0m7.5 32.5h0m0.5-33.5h0m-6 7h0m6.5 15h0m-5-39.5h0m8-13.5h0m7.5 17h0m-9.5 39.5h0m-5.5-15h0m9.5-49h0m1 37.5h0m1.5-13h0m-14.5 23h0m14-13.5h0m-13 14h0m0 8h0m10-57h0" stroke="#3aa39b" stroke-width="2.6" stroke-linecap="round"/>
<path d="M157.9 317.2H179.9" stroke="#111" stroke-width="1.8"/>
<path d="M220 255.3V354.6" stroke="#e8409c" stroke-width="1.1"/>
<path d="M220 268L218.9 269.3L218.3 270.7L217.7 272L217.3 273.3L216.9 274.7L216.5 276L216.2 277.3L215.8 278.7L215.5 280L215.3 281.3L215 282.7L214.8 284L214.6 285.3L214.4 286.7L214.2 288L214 289.3L213.8 290.7L213.7 292L213.6 293.3L213.5 294.7L213.4 296L213.4 297.3L213.5 298.7L213.7 300L213.8 301.3L214 302.7L214.2 304L214.5 305.3L214.7 306.7L215 308L215.3 309.3L215.7 310.7L216.1 312L216.5 313.3L216.9 314.7L217.4 316L218 317.3L218.8 318.7L220 320L220 320L221.3 318.7L222 317.3L222.6 316L223.1 314.7L223.6 313.3L224 312L224.4 310.7L224.7 309.3L225 308L225.3 306.7L225.6 305.3L225.8 304L226 302.7L226.2 301.3L226.4 300L226.5 298.7L226.6 297.3L226.6 296L226.5 294.7L226.4 293.3L226.3 292L226.2 290.7L226 289.3L225.9 288L225.7 286.7L225.5 285.3L225.3 284L225 282.7L224.8 281.3L224.5 280L224.2 278.7L223.9 277.3L223.5 276L223.2 274.7L222.8 273.3L222.3 272L221.8 270.7L221.1 269.3L220 268Z" fill="#e8409c" fill-opacity="0.45"/>
<path d="M223.5 310h0m-6-16h0m10.5 4h0m-10-17.5h0m-0.5-9h0m11 23h0m-11-6h0m12.5 7.5h0m-15.5-16.5h0m8 5.5h0m1.5-7.5h0m3 24.5h0m-7.5-11h0m-6 13.5h0m4.5 5.5h0m1.5 29.5h0m4-36h0m-0.5 10.5h0m-7.5-19h0m3 21h0m11.5-12h0m-12.5-22h0m10-0.5h0m2 10h0m-17.5-10.5h0m13.5 30h0m6-16h0m-4.5 10.5h0m-0.5-12.5h0m-12.5 20h0m6-34.5h0m3.5 3.5h0m4 0h0m-9-11.5h0m-1 1.5h0m9 40h0m-11-1.5h0m-4.5-15h0m8 10.5h0m2 1.5h0m2.5-20.5h0m-12 6.5h0m8 19.5h0m1 5.5h0m6-18.5h0m-4-8.5h0m7.5 12.5h0m-15.5 1.5h0m3-29h0m-6 26h0m12.5 8.5h0m-1-13h0m-9.5 11h0m11.5-11.5h0m-6-20.5h0m10 27.5h0m-1-22.5h0m-9.5 21.5h0m-0.5-28h0m9 12.5h0m-9 4h0m-4-10h0m-1.5 11h0m9-7h0m3.5 14h0m-11.5 8h0m16.5-10h0m-10.5 0.5h0m3.5-3h0m-2.5-23.5h0m3.5 26.5h0m-4-28.5h0m1 24h0m4.5 2.5h0m6 1h0m-16-22h0m6 14.5h0m3 12.5h0m-5.5-21h0m-1.5 35.5h0m2-3.5h0m1 2h0m-4.5-20.5h0m0-12h0m-7.5 13.5h0m11.5 1.5h0m-0.5 18h0m-7.5-33.5h0m8 11h0m6 14h0m-7.5-5.5h0m-3.5 10h0m2.5 5.5h0m4-35.5h0m-0.5 41.5h0m-3.5-17h0m1.5 22h0m11-35h0m-5 13h0m-15-7h0m19.5-13h0m-16.5-2h0m16.5 22h0m-18-24h0m0 26h0m8.5-21.5h0m1-29h0m0.5 55h0m-1.5-27.5h0m-3.5 6.5h0m-4 9.5h0m10.5-29.5h0m-2 10h0m-3 18.5h0m-0.5-15.5h0m8.5 13h0m2 1.5h0m-12-20h0m9 27.5h0m-10.5-5.5h0m-3-18h0m14 11h0m-8-21h0m1.5 21h0m3.5-15h0m-1 3h0m-0.5-19.5h0m-4.5 43.5h0m7-34h0m-8 38h0m3.5-17.5h0m2.5 7h0m9-4.5h0m-8 21h0m-2.5-12.5h0m-0.5-6h0m8.5 1h0m-7.5-1h0m0 13h0m-8-8h0m7 25h0m5.5-41h0m-1.5-13h0m-12.5 32.5h0m5.5 3.5h0m11.5-27h0m-17.5 1.5h0m0 5.5h0m15 25h0m-6.5-49.5h0m-1.5 33.5h0m9 9h0m-12-23.5h0m-1-0.5h0m15.5 18.5h0m-1.5-22.5h0m-11.5 9h0m9.5 18h0m-1.5 6.5h0m-0.5-25.5h0m-6 0.5h0m2-3h0m9-3.5h0m-11 22h0m5-17.5h0m-5.5 22h0m1.5-11h0m-1-9h0m6 11.5h0m0.5 0h0m-6.5-18.5h0m1 27h0m-3.5-3.5h0m12.5-21h0m-12.5 8.5h0m2.5 24.5h0m5-26.5h0m8 10h0m-4.5-7h0m-0.5 5.5h0m1.5 7.5h0m0-22.5h0m-5.5 12h0m6.5-13h0m-3.5 33h0m0.5-14.5h0m6-4h0m-12.5 3h0m-6-9h0m6 17.5h0m10.5-1.5h0m-7-11.5h0m2-8h0m-14.5 0h0m7.5 23.5h0m-3-6.5h0m15-20.5h0m0 17h0m-4.5-6.5h0m2.5-10h0m-9 22h0m1.5-38h0m-1.5 28h0m8.5-16h0m-2.5-9h0m2 22h0m-3.5-14h0m7.5 19h0m-14.5-13h0m-0.5 13.5h0m8.5 10.5h0m2-17h0m-6.5-33h0m-4.5 36.5h0m11-12.5h0m-14.5 5h0m9-13.5h0m2.5 0.5h0m-5 42h0m-4.5-10h0m7-13.5h0m5.5-6h0m5 14h0m-7.5-27.5h0m8.5 19.5h0m-17.5-17h0" stroke="#e8409c" stroke-width="2.6" stroke-linecap="round"/>
<path d="M209 296.6H231" stroke="#111" stroke-width="1.8"/>
<path d="M245.8 292V370" stroke="#3aa39b" stroke-width="1.1"/>
<path d="M245.8 307.8L244.7 309.4L244.1 311L243.6 312.6L243.2 314.2L242.8 315.8L242.4 317.4L242.1 319L241.8 320.6L241.5 322.2L241.2 323.7L241 325.3L240.7 326.9L240.5 328.5L240.3 330.1L240.1 331.7L240 333.3L239.8 334.9L239.7 336.5L239.6 338.1L239.5 339.7L239.4 341.3L239.4 342.9L239.5 344.5L239.6 346.1L239.7 347.7L239.9 349.3L240.1 350.9L240.4 352.5L240.6 354.1L240.9 355.6L241.2 357.2L241.6 358.8L241.9 360.4L242.3 362L242.8 363.6L243.3 365.2L243.9 366.8L244.6 368.4L245.8 370L245.8 370L247.1 368.4L247.8 366.8L248.4 365.2L248.9 363.6L249.3 362L249.7 360.4L250.1 358.8L250.4 357.2L250.7 355.6L251 354.1L251.3 352.5L251.5 350.9L251.7 349.3L251.9 347.7L252 346.1L252.2 344.5L252.2 342.9L252.2 341.3L252.2 339.7L252.1 338.1L251.9 336.5L251.8 334.9L251.7 333.3L251.5 331.7L251.3 330.1L251.1 328.5L250.9 326.9L250.7 325.3L250.4 323.7L250.2 322.2L249.9 320.6L249.6 319L249.2 317.4L248.9 315.8L248.5 314.2L248 312.6L247.5 311L246.9 309.4L245.8 307.8Z" fill="#3aa39b" fill-opacity="0.45"/>
<path d="M237 333.5h0m7-24h0m7.5 25h0m2.5 21.5h0m-10.5-22h0m11.5 18.5h0m-16.5-5.5h0m5-3h0m3.5-13.5h0m-2-33h0m2.5 23.5h0m0-3.5h0m1.5 7h0m-11 1h0m9 26h0m-10.5-17.5h0m12.5 32h0m-7.5-16h0m1.5-34.5h0m-5.5 21.5h0m6.5 18h0m10.5 0.5h0m-16.5-26.5h0m14.5 4.5h0m-6.5 29.5h0m2-45.5h0m-1 31.5h0m-1 19.5h0m6-37h0m-7.5 2.5h0m-3-16.5h0m-0.5 4.5h0m-4 23h0m5-6.5h0m8-7.5h0m-9.5 18.5h0m9.5 1.5h0m0.5 13h0m3.5-14.5h0m-7-30h0m5.5 4.5h0m-8.5 42h0m-3-1h0m7-42.5h0m7 31.5h0m-9-6.5h0m2.5 4.5h0m-5.5-28h0m8.5 12.5h0m-9.5 14.5h0m14-15h0m-10.5 24.5h0m2.5-29h0m-3.5 29h0m-0.5-50h0m-2.5 27h0m13 6h0m-16-2h0m2-16.5h0m3 18h0m3-18h0m-8.5 32h0m-0.5-11.5h0m1.5 12.5h0m15.5-17h0m-7 8h0m1.5 10.5h0m-4.5-4h0m5 4.5h0m-5.5-36.5h0m6 26h0m-11-17h0m2 30.5h0m10.5-11.5h0m-5-3.5h0m5.5-24.5h0m-3.5 34h0m3.5-15.5h0m-12 1h0m8.5-24h0m-5.5 32.5h0m1-16h0m2 12.5h0m-3-21h0m11 12.5h0m1.5 13.5h0m-11 1.5h0m-1.5-14h0m0.5 12h0m8-6.5h0m-15 0.5h0m-1-4h0m13.5 1.5h0m-10.5 6.5h0m3.5-29h0m6.5 19.5h0m-1 10.5h0m0.5-14.5h0m-10.5 1h0m10-25h0m4 34.5h0m2-2h0m-17.5 3.5h0m18 0.5h0m-6-32.5h0m-4 15.5h0m6.5-3h0m2 5h0m-6-5h0m6 23h0m-4-25h0m0.5 30.5h0m-11-31h0m4 20h0m7-34h0m1.5 45h0m-4.5-50.5h0m-2.5 4.5h0m7.5 9h0m0.5 10h0m-4.5-31h0m-5 23.5h0m-4 7.5h0m11 17h0m-2-19h0m-1 20h0m5.5 6h0m-1-16.5h0m4.5 9h0m-8-45h0m-6 18h0m11.5 18h0m-9 29h0m5-20h0m0 11h0m-13-26h0m10.5 13.5h0m1 5h0m6.5-10.5h0m-8-37h0m-2.5 13h0m-5 25h0m16.5-12.5h0m0 2h0m-12 8.5h0m0.5-20h0m2.5-2.5h0m-5.5 1h0m15.5 26h0m-10.5-32h0m-8.5 24h0m2.5 17h0m9.5 1h0m-11.5 1.5h0m6-21.5h0m-8 6.5h0m0-4.5h0m3-12.5h0m13.5-3.5h0m-3-3.5h0m-4 8.5h0m4-5h0m3.5 10.5h0m-15.5 24.5h0m18-23h0m-17.5 2.5h0m14.5 22h0m1.5-27h0m-7 14.5h0m-10.5-9h0m4 8.5h0m12 7.5h0m-2 3h0m-2-19.5h0m3 13h0m4-19.5h0m-11-1.5h0m10 10h0m-18.5 8.5h0m17.5 15.5h0m-16.5-15.5h0m20-11h0m-9-4.5h0m3-10h0m-6.5 0h0m4.5 40.5h0m-8.5-41h0m9 2.5h0m6.5 21h0m-8-13.5h0m-4 8.5h0m-1.5-14.5h0m10.5 22.5h0m-8.5-6h0m0.5-2.5h0m-5.5 11h0m12-21.5h0m5 18h0m-6-1.5h0m3-9.5h0m1.5-2h0m-5 29.5h0m-3-26h0m0-15h0m-6 2h0m5.5 31h0m-3-36h0m11.5 16h0m-2 29h0m-7-30.5h0m4 22h0m-4-16h0m6-1h0m-3.5 6h0m-8.5-1.5h0m5.5-11h0m11 18h0m-11.5-27.5h0m-3 20.5h0m7.5 23h0m-12.5-23.5h0m12-11.5h0m-3.5 26h0m-4-33.5h0m3.5 4.5h0m0.5 26h0m5.5-29h0m-9.5-6h0m14 12.5h0m-15 10.5h0m6-19.5h0m1 5.5h0m3.5 10h0m4.5 5h0m-4.5 13.5h0m1-18h0m-7 14.5h0m1.5 2h0m-3.5 8h0m11.5-35h0m-2 17h0m4 5.5h0m-20-4.5h0m20-13.5h0m-14.5-2.5h0m6 5.5h0m-3.5 19.5h0m-8-19h0m8 19h0m0.5 4h0m-3 5h0m2 2.5h0m-6-19h0m14-3h0m-3.5 13.5h0m5.5-11.5h0m-2 14h0m5-26.5h0m-9.5 4h0" stroke="#3aa39b" stroke-width="2.6" stroke-linecap="round"/>
<path d="M234.8 342.4H256.8" stroke="#111" stroke-width="1.8"/>
<path d="M296.9 294V345.4" stroke="#e8409c" stroke-width="1.1"/>
<path d="M296.9 303L294.8 303.8L293.7 304.7L292.8 305.5L292.1 306.4L291.4 307.2L290.8 308.1L290.3 308.9L289.8 309.8L289.4 310.6L289 311.5L288.6 312.3L288.3 313.2L288.1 314L287.8 314.8L287.6 315.7L287.5 316.5L287.4 317.4L287.3 318.2L287.4 319.1L287.5 319.9L287.7 320.8L287.8 321.6L288 322.5L288.2 323.3L288.5 324.2L288.7 325L289 325.8L289.4 326.7L289.7 327.5L290.1 328.4L290.5 329.2L291 330.1L291.4 330.9L292 331.8L292.6 332.6L293.3 333.5L294.1 334.3L295.1 335.2L296.9 336L296.9 336L298.8 335.2L299.8 334.3L300.6 333.5L301.3 332.6L301.9 331.8L302.4 330.9L302.9 330.1L303.4 329.2L303.8 328.4L304.2 327.5L304.5 326.7L304.8 325.8L305.1 325L305.4 324.2L305.6 323.3L305.9 322.5L306.1 321.6L306.2 320.8L306.4 319.9L306.5 319.1L306.5 318.2L306.5 317.4L306.4 316.5L306.3 315.7L306.1 314.8L305.8 314L305.5 313.2L305.2 312.3L304.9 311.5L304.5 310.6L304.1 309.8L303.6 308.9L303.1 308.1L302.5 307.2L301.8 306.4L301.1 305.5L300.2 304.7L299.1 303.8L296.9 303Z" fill="#e8409c" fill-opacity="1.0"/>
<path d="M301 326.5h0m-8.5-16.5h0m11.5 1h0m-6 33.5h0m-2.5-11.5h0m-7.5-7.5h0m1-14.5h0m10 16h0m4-1.5h0m-4 1.5h0m-5.5-21h0m14.5 9.5h0m-14 18.5h0m8-28.5h0m3.5 18h0m-5.5-18.5h0m-6 29.5h0m5-8h0m8-11h0m-3-7.5h0m2.5 18h0m-5-0.5h0m5-10h0m-19-2h0m19 0h0m-20 4h0m11.5 14h0m-2.5-15h0m1 9.5h0m-7.5-3.5h0m10.5 0h0m-10-7h0m7 19h0m-4-11h0m-6-10h0m-0.5 9.5h0m13.5-11h0m-2 13.5h0m4.5-5h0m-9.5 5h0m13.5-4h0m2 1.5h0m-11-11h0m5.5 1.5h0m-16 5h0m5.5 11h0m14.5-12.5h0m-19 8.5h0m9 9.5h0m7.5-9h0m-6 4.5h0m-3.5 0h0m-3.5-7h0m8.5-12.5h0m-4-3h0m-6.5 18.5h0m4 5h0m-4-17.5h0m3 8.5h0m11-0.5h0m4-1.5h0m-12-5.5h0m-5 3h0m14 6h0m-11.5-11h0m-4.5 2h0m20 4.5h0m-18 0.5h0m7 17.5h0m4-23.5h0m-12 0h0m17.5 1.5h0m-0.5 6.5h0m-3-3.5h0m-0.5 6h0m-10.5 5h0m6.5-8.5h0m-1-11h0m-4 8.5h0m4.5 8h0m-4.5 3h0m-1-1h0m-4-10h0m17.5 2.5h0m-8-19.5h0m-10 14h0m16.5 12.5h0m-6-14.5h0m0.5-10h0m-3 18h0m-1-13h0m-1.5 15.5h0m-1.5-8h0m14 5h0m-17.5-2.5h0m10.5 14.5h0m-4.5-14.5h0m-7.5-0.5h0m10-15h0m-7.5 13h0m8 20h0m8-24.5h0m-2.5 16h0m-12.5 3h0m-1.5-3h0m6.5-22.5h0m8 18.5h0m-13 7h0m2-18.5h0m2 14.5h0m-7.5-3.5h0m3.5-10.5h0m2-4h0m-1.5 1h0m9 17.5h0m6-5.5h0m0-10.5h0m-10 15.5h0m-9.5-13.5h0m3.5 12.5h0m-0.5-15.5h0m0.5 14h0m-3.5-5.5h0m4.5 3.5h0m3-8h0m1.5 29h0m5.5-22h0m-6.5-2h0m0 3h0m-0.5-11h0m-2.5-1.5h0m14 14.5h0m-5.5-17.5h0m0 8h0m-9 1h0m7 1.5h0m-9 3.5h0m0.5 8h0m9.5-11h0m-9 2h0m6 13.5h0m-0.5-19h0m8 11h0m-5.5-21h0m-3 12.5h0m12-3h0m-12.5-7.5h0m8 15h0m-4.5 17h0m-1-18.5h0m6-8h0m-14 2h0m6 5h0m5-3.5h0m-9.5-4h0m15.5 8h0m-2.5 3.5h0m-13.5-14.5h0m11.5 9h0m-1 8.5h0m-12.5-3.5h0m9.5-7h0m6.5 4h0m-7-12h0m-5 26h0m3.5-20.5h0m5.5 9h0m-7.5-7.5h0m-4.5 3h0m0.5 9.5h0m14-13h0m-2.5 2.5h0m-9.5 14.5h0m11-12.5h0m2-9.5h0m-17 15.5h0m-0.5-5.5h0m9.5 12.5h0m0.5-11h0m0.5-11.5h0m8.5 17h0m-8.5-9h0m10 7h0m-10.5-6.5h0m-2.5 10h0m3 4.5h0m-5.5-5h0m3 7h0m-1.5-0.5h0m0-2h0m7-6h0m2.5 0h0m-14 3.5h0m0-9h0m2.5-2h0m14.5 7h0m-0.5-14.5h0m-6.5 2.5h0m-3.5 26.5h0m-1.5-12h0m-1-13.5h0m9 0.5h0m-5.5 10.5h0m5.5-10h0m-3-4h0m-0.5-1.5h0m-5 24.5h0m-2-13.5h0m9-12h0m-14 14h0m5.5 1.5h0m2.5 10h0m8-6h0m-7.5-19.5h0m3.5 3.5h0m-5.5 8h0m11.5 1.5h0m-17-2h0m12.5 4.5h0m-5.5-13.5h0m13 4.5h0" stroke="#e8409c" stroke-width="2.6" stroke-linecap="round"/>
<path d="M287.1 317.9H306.7" stroke="#111" stroke-width="1.8"/>
<path d="M322.7 306.9V370" stroke="#3aa39b" stroke-width="1.1"/>
<path d="M322.7 318L320.9 319.2L320 320.4L319.4 321.6L318.8 322.8L318.4 324L318 325.2L317.7 326.4L317.3 327.6L317.1 328.8L316.8 330.1L316.6 331.3L316.4 332.5L316.3 333.7L316.1 334.9L316 336.1L316 337.3L315.9 338.5L315.9 339.7L315.9 340.9L315.9 342.1L316 343.3L316 344.5L316.1 345.7L316.3 346.9L316.4 348.1L316.5 349.3L316.7 350.5L316.9 351.7L317.1 352.9L317.4 354.2L317.6 355.4L317.9 356.6L318.3 357.8L318.7 359L319.1 360.2L319.6 361.4L320.2 362.6L321 363.8L322.7 365L322.7 365L324.5 363.8L325.3 362.6L325.9 361.4L326.4 360.2L326.8 359L327.2 357.8L327.5 356.6L327.8 355.4L328.1 354.2L328.4 352.9L328.6 351.7L328.8 350.5L328.9 349.3L329.1 348.1L329.2 346.9L329.3 345.7L329.4 344.5L329.5 343.3L329.6 342.1L329.6 340.9L329.6 339.7L329.6 338.5L329.5 337.3L329.4 336.1L329.3 334.9L329.2 333.7L329 332.5L328.9 331.3L328.6 330.1L328.4 328.8L328.1 327.6L327.8 326.4L327.5 325.2L327.1 324L326.6 322.8L326.1 321.6L325.5 320.4L324.6 319.2L322.7 318Z" fill="#3aa39b" fill-opacity="0.45"/>
<path d="M328.5 327h0m1.5 16.5h0m-4.5-16.5h0m-8 34h0m-2-25.5h0m5.5 12.5h0m0.5-21.5h0m10 19h0m-4-16h0m-13 3h0m0 22h0m13-22h0m-7.5-2.5h0m-1-3h0m10-1.5h0m-5.5 15.5h0m-5 5h0m2-7h0m-2.5 20h0m4.5-33h0m12.5 15h0m-24-4h0m7.5 10h0m-8-9h0m16.5 20.5h0m3.5-32.5h0m-6.5 12.5h0m-10-7.5h0m5.5 2.5h0m4.5-16h0m6 12.5h0m-10.5-5.5h0m8.5 3h0m-3.5 28.5h0m-4.5 6.5h0m6-3.5h0m-4.5-47.5h0m-3.5 35h0m8-0.5h0m1-4h0m1.5 13.5h0m-3-29h0m4.5 12h0m-5.5-20h0m-2 19h0m0 4.5h0m-10 5.5h0m6.5-22.5h0m-2.5 27h0m-3.5-1.5h0m15-20h0m-14 13h0m13-14.5h0m3.5 25.5h0m-11.5-18h0m-1.5-15.5h0m7.5 22.5h0m-2.5-25h0m-2 22h0m-3-16h0m2.5 35.5h0m0.5-38.5h0m8.5 14h0m-8 3h0m-9.5 7h0m3 5h0m17.5 3h0m-18-15.5h0m7-11.5h0m7 3.5h0m2.5 3.5h0m-1.5 21.5h0m-16-15.5h0m12.5 20h0m-9-36.5h0m-2 24.5h0m13.5-17.5h0m-11.5 29h0m13.5-11.5h0m-5.5-10h0m-0.5 0.5h0m9-1h0m-10.5 23h0m2.5-25.5h0m2.5 7.5h0m-3.5-13.5h0m-12 2.5h0m6 2h0m5 11h0m-4.5 9.5h0m9.5 0.5h0m-7.5 3h0m2.5 0.5h0m4.5-18h0m2.5-10h0m-10.5 21.5h0m-6-1h0m4.5 0.5h0m7-9.5h0m-2.5-15h0m1 42h0m-8.5-23.5h0m14 15h0m-6-33h0m4 21.5h0m-4.5-12h0m-5 0h0m6.5 15.5h0m-8-27.5h0m11.5-2h0m-16 12.5h0m2.5 7.5h0m-2-7h0m11.5 16h0m-12-15.5h0m18.5-6h0m-4.5 21.5h0m1.5-9h0m-12-9.5h0m7-11.5h0m-8 19.5h0m8.5 9.5h0m1.5-28.5h0m2.5 15.5h0m3 15.5h0m-1-24h0m-7 27.5h0m8.5 3h0m-11-6h0m-4-2h0m8.5-3.5h0m3-2h0m-10-16.5h0m5.5 0.5h0m-11 13.5h0m13.5-8h0m-7 24.5h0m-3.5-28h0m8-9h0m-6.5 30.5h0m18-2.5h0m-6.5-5h0m-3 15.5h0m0-45.5h0m-5 32h0m-3-11h0m16 1.5h0m-18 16h0m9.5-5.5h0m-1.5 6h0m5.5-9.5h0m-5.5 6.5h0m-10.5-15.5h0m21.5-0.5h0m-3.5 23h0m-6.5-41.5h0m-4.5 30.5h0m3 19.5h0m-6-14.5h0m-0.5-2.5h0m13.5 4.5h0m-2-8h0m-13-14h0m5-8h0m-6.5 6h0m7 2h0m-1 23.5h0m8.5-9.5h0m-2.5 7.5h0m-1 5h0m0-9h0m-5.5-11.5h0m2-11.5h0m-1.5 3h0m7-11h0m-8 33h0m13.5-6.5h0m-18 7h0m8.5 3.5h0m9-28h0m-9 29.5h0m3-31.5h0m6.5 7.5h0m-4.5 29.5h0m-0.5-11.5h0m3-21h0m-10.5 25.5h0m1-2.5h0m9.5-31.5h0m-9.5 37.5h0m3-21h0m10-5h0m-15.5 11h0m9.5 15h0m-5.5-29.5h0m-7 3h0m18 0h0m-12.5 3.5h0m6.5-13h0m-3-6.5h0m-6 20h0m6.5 11h0m-8.5-11.5h0m9-15h0m-2-6h0m-0.5 30h0m-6.5 1h0m15.5-22.5h0m0 28h0m-7.5 5.5h0m5 2h0m0-14.5h0m-10.5-5h0" stroke="#3aa39b" stroke-width="2.6" stroke-linecap="round"/>
<path d="M311.7 340H333.7" stroke="#111" stroke-width="1.8"/>
<path d="M373.9 302.2V344.3" stroke="#e8409c" stroke-width="1.1"/>
<path d="M373.9 310.4L371.8 311L370.8 311.7L369.9 312.4L369.2 313L368.6 313.7L368 314.4L367.5 315.1L367 315.7L366.6 316.4L366.2 317.1L365.8 317.7L365.5 318.4L365.2 319.1L364.9 319.7L364.7 320.4L364.5 321.1L364.3 321.7L364.2 322.4L364.1 323.1L364 323.8L364.1 324.4L364.2 325.1L364.4 325.8L364.6 326.4L364.8 327.1L365 327.8L365.3 328.4L365.7 329.1L366 329.8L366.4 330.4L366.9 331.1L367.3 331.8L367.9 332.5L368.4 333.1L369.1 333.8L369.8 334.5L370.7 335.1L371.8 335.8L373.9 336.5L373.9 336.5L375.9 335.8L377 335.1L377.9 334.5L378.6 333.8L379.3 333.1L379.9 332.5L380.4 331.8L380.9 331.1L381.3 330.4L381.7 329.8L382.1 329.1L382.4 328.4L382.7 327.8L382.9 327.1L383.2 326.4L383.4 325.8L383.5 325.1L383.6 324.4L383.7 323.8L383.7 323.1L383.6 322.4L383.4 321.7L383.2 321.1L383 320.4L382.8 319.7L382.5 319.1L382.2 318.4L381.9 317.7L381.5 317.1L381.1 316.4L380.7 315.7L380.2 315.1L379.7 314.4L379.1 313.7L378.5 313L377.8 312.4L376.9 311.7L375.9 311L373.9 310.4Z" fill="#e8409c" fill-opacity="1.0"/>
<path d="M378 321.5h0m0.5 2h0m-14-3.5h0m4.5 1.5h0m-2 6h0m11 5h0m4-7.5h0m-15.5 5h0m3.5 2h0m9-0.5h0m1-1h0m-9.5-13h0m8 2h0m-11-3h0m-3 12.5h0m6.5-13h0m-1 7h0m5-2h0m-5.5 5.5h0m-4.5 4.5h0m11.5-19.5h0m-1.5 25h0m-0.5-18h0m-7 11.5h0m4-1.5h0m0-9h0m-1 2.5h0m10.5-7h0m-5.5 3.5h0m-1 17.5h0m-5-12h0m13.5 0.5h0m-9.5-5.5h0m3-2.5h0m-6 11h0m6.5-5.5h0m-3.5-14h0m-2 13.5h0m2.5 15h0m1-23h0m-7 0.5h0m7 22.5h0m-4.5-24.5h0m9 2.5h0m-11.5 6.5h0m17 0h0m-4.5-6.5h0m-8 7.5h0m3.5 3.5h0m0 2h0m-1 5.5h0m-6.5-7h0m14 3.5h0m-5-15.5h0m-3.5 20h0m0.5-20h0m8 12h0m-8.5 7.5h0m-0.5-27.5h0m1.5 31.5h0m-3-13.5h0m-2.5-10h0m6.5 21.5h0m6.5-8.5h0m-1-6h0m3.5 2.5h0m-14.5 5h0m5-1h0m-0.5-2h0m5.5-9h0m2 0.5h0m0 11h0m0.5 2h0m-2.5-2h0m-3.5 2h0m-9.5-13h0m14 6h0m2 4h0m-14-12.5h0m-4 8h0m5.5 9h0m7.5-1h0m-1 3h0m0.5-3.5h0m-9 0h0m2-15.5h0m12.5 4.5h0m-6.5-3h0m-4.5 14h0m1.5-3.5h0m-1 9h0m-8.5-15h0m11 4h0m5-4.5h0m-14.5-2h0m-1 0h0m10 14.5h0m-8-0.5h0m15-13.5h0m-1 8h0m-1-5h0m-10-4.5h0m-2 14.5h0m2-6.5h0m5.5 5h0m-5.5-12h0m1.5 14h0m-7-5h0m6.5-12.5h0m-0.5 11.5h0m11-5.5h0m-11-5.5h0m-0.5 16.5h0m8-16.5h0m-7 5.5h0m7.5 2h0m-1-1h0m-2.5 15.5h0m0.5-34.5h0m2.5 17.5h0m-5 3h0m-4.5 7.5h0m4-17.5h0m10 11h0m-1.5-2.5h0m-8.5 13.5h0m-1.5-22h0m-3.5 12.5h0m14.5-4h0m-14-3h0m-6 5.5h0m7.5-6h0m5.5-1h0m4-0.5h0m0.5 15h0m-4.5-10h0m1 7h0m4.5-1.5h0m-4.5 1.5h0m4.5 4.5h0m-5 2.5h0m2-22h0m5 8h0m-14.5 11h0m10-17h0m-11.5 14h0m-1-3h0m-0.5-8.5h0m16-1h0m-11.5 13h0m-3-12.5h0m10.5 16.5h0m7-15h0m-10.5 9.5h0m-4-9.5h0m-6 3h0m4.5 1h0m5.5 13h0m3.5-12h0m6 2h0m-6.5-13.5h0m-9 4h0m1.5 11.5h0m9.5-11.5h0m-5.5 18.5h0m-1.5-0.5h0m-1-6.5h0m4-25h0m2.5 16h0m-8 11.5h0m10.5-9h0m-7 13h0m-8-16h0m15.5 9.5h0m1.5-13h0m-1.5 5h0m-7 0.5h0m6.5-3h0m4 6h0m1.5 1.5h0" stroke="#e8409c" stroke-width="2.6" stroke-linecap="round"/>
<path d="M364.1 323.7H383.7" stroke="#111" stroke-width="1.8"/>
<path d="M399.7 302.9V345.4" stroke="#3aa39b" stroke-width="1.1"/>
<path d="M399.7 310.9L397.7 311.6L396.6 312.3L395.8 312.9L395 313.6L394.4 314.3L393.9 315L393.3 315.6L392.9 316.3L392.5 317L392.1 317.7L391.7 318.4L391.4 319L391.1 319.7L390.8 320.4L390.6 321.1L390.4 321.7L390.3 322.4L390.1 323.1L390.1 323.8L390.1 324.4L390.2 325.1L390.3 325.8L390.5 326.5L390.7 327.1L390.9 327.8L391.2 328.5L391.4 329.2L391.8 329.8L392.1 330.5L392.5 331.2L392.9 331.9L393.4 332.5L393.9 333.2L394.5 333.9L395.1 334.6L395.8 335.2L396.6 335.9L397.7 336.6L399.7 337.3L399.7 337.3L401.6 336.6L402.7 335.9L403.5 335.2L404.2 334.6L404.9 333.9L405.4 333.2L405.9 332.5L406.4 331.9L406.8 331.2L407.2 330.5L407.6 329.8L407.9 329.2L408.2 328.5L408.4 327.8L408.7 327.1L408.9 326.5L409 325.8L409.1 325.1L409.2 324.4L409.2 323.8L409.2 323.1L409.1 322.4L408.9 321.7L408.7 321.1L408.5 320.4L408.2 319.7L407.9 319L407.6 318.4L407.3 317.7L406.9 317L406.4 316.3L406 315.6L405.5 315L404.9 314.3L404.3 313.6L403.6 312.9L402.7 312.3L401.7 311.6L399.7 310.9Z" fill="#3aa39b" fill-opacity="1.0"/>
<path d="M391 320.5h0m13.5-3.5h0m-8 9h0m-5.5-7h0m3.5 13h0m-6-5.5h0m2.5-5.5h0m7.5 7.5h0m0.5-8.5h0m7-3.5h0m-6.5-2.5h0m4 21.5h0m-6-8h0m1.5 16h0m1.5-27.5h0m4.5 17.5h0m-2.5-8.5h0m-3.5 10h0m0.5-3h0m10-12.5h0m-8.5 17.5h0m1.5-21.5h0m-2.5 5.5h0m0-6.5h0m5.5 5h0m-0.5 14.5h0m0-6h0m-4.5 10.5h0m-2.5-13.5h0m4-12h0m-7.5 4h0m-2 10.5h0m7-5.5h0m-6.5 6.5h0m1.5 2h0m8.5-5.5h0m-14.5-2h0m17.5 7h0m-16.5-4.5h0m9.5 14h0m11.5-17.5h0m-2-2.5h0m-19 9.5h0m10 4.5h0m-5-9.5h0m12 7.5h0m-14 1h0m-2-15h0m12.5 12h0m-5 6.5h0m-5.5-17h0m2.5 3.5h0m5-5h0m-3.5 8.5h0m7.5-6.5h0m4 9h0m-15.5 3h0m8.5-11.5h0m3 7.5h0m-6.5-1h0m10.5-5.5h0m-2.5 2h0m-5.5-16.5h0m6 18h0m-0.5-2h0m-15 8h0m1-14.5h0m10.5 3.5h0m-0.5-3.5h0m-6.5 18h0m2-19.5h0m7 21h0m-10-21h0m6.5 11h0m-1.5-2.5h0m-2.5-1h0m4-16.5h0m5.5 9h0m-9 5h0m2 15.5h0m-7-9h0m14.5-1h0m-11-11h0m0.5 19.5h0m-3-2h0m10.5-9h0m-11-6.5h0m8 4.5h0m-5.5 7.5h0m5.5 5.5h0m6-9h0m-6.5-7h0m4 9.5h0m5-3h0m-3.5-0.5h0m1.5 9h0m0.5-0.5h0m-7-4h0m6.5-8h0m-4 11h0m-1.5-6h0m-10 0h0m6.5-4h0m0.5-8h0m-4 0.5h0m3.5-2h0m0 5h0m3.5 8.5h0m-8.5-5h0m4.5 2h0m-2-6.5h0m-4.5 11.5h0m14.5 0.5h0m-1.5-3.5h0m-8 11.5h0m12-8.5h0m1.5 2h0m-13-3.5h0m2.5-11h0m7.5 4h0m-4.5-5.5h0m1 15h0m-4.5-8h0m-5.5 1h0m10-8h0m2.5 19h0m-17-11h0m16 7h0m2 2.5h0m-18-6.5h0m6 3h0m-3.5-2h0m2-7.5h0m6 6h0m9-4.5h0m-18.5 1.5h0m11 1h0m-5.5 5.5h0m5-4.5h0m4.5 0.5h0m-2.5-3h0m-8-5h0m8.5 10.5h0m-3.5 0.5h0m-2 9h0m-1.5-1.5h0m-1.5 0.5h0m5-22h0m2.5 22.5h0m-6.5-3h0m5 0.5h0m2-6h0m-3 4.5h0m6-4.5h0m-3-10h0m-2.5 24h0m1.5-21.5h0m7.5-1h0m-8 22.5h0m6-18h0m-3-4.5h0m4 10h0m3.5-4.5h0m-10.5 9h0m8.5-2h0m-14 3.5h0m-2.5-1.5h0m2.5-11h0m5-14h0m-9.5 17h0m13.5 2.5h0m0.5 0h0m-5 4.5h0m-1-6h0m7-1h0m-8 2.5h0m3 7h0m-1.5-10.5h0" stroke="#3aa39b" stroke-width="2.6" stroke-linecap="round"/>
<path d="M389.9 324H409.5" stroke="#111" stroke-width="1.8"/>
<path d="M450.8 308V341.3" stroke="#e8409c" stroke-width="1.1"/>
<path d="M450.8 314.4L448.8 315L447.7 315.5L446.8 316L446.1 316.5L445.5 317.1L444.9 317.6L444.4 318.1L443.9 318.7L443.5 319.2L443.1 319.7L442.7 320.2L442.4 320.8L442.1 321.3L441.8 321.8L441.6 322.4L441.4 322.9L441.2 323.4L441.1 324L441 324.5L440.9 325L441 325.5L441.1 326.1L441.3 326.6L441.5 327.1L441.7 327.7L442 328.2L442.3 328.7L442.6 329.2L443 329.8L443.4 330.3L443.8 330.8L444.3 331.4L444.8 331.9L445.4 332.4L446 333L446.8 333.5L447.6 334L448.7 334.5L450.8 335.1L450.8 335.1L452.8 334.5L453.9 334L454.8 333.5L455.5 333L456.2 332.4L456.8 331.9L457.3 331.4L457.8 330.8L458.2 330.3L458.6 329.8L459 329.2L459.3 328.7L459.6 328.2L459.8 327.7L460.1 327.1L460.3 326.6L460.4 326.1L460.5 325.5L460.6 325L460.6 324.5L460.5 324L460.3 323.4L460.2 322.9L460 322.4L459.7 321.8L459.5 321.3L459.2 320.8L458.8 320.2L458.5 319.7L458.1 319.2L457.7 318.7L457.2 318.1L456.7 317.6L456.1 317.1L455.4 316.5L454.7 316L453.9 315.5L452.8 315L450.8 314.4Z" fill="#e8409c" fill-opacity="1.0"/>
<path d="M457.5 322h0m-13.5-2.5h0m6.5 8h0m-7.5-7.5h0m17 9.5h0m-11.5 0h0m-4.5 2.5h0m11-14.5h0m2.5 10h0m3-1.5h0m-1 1h0m-13 3.5h0m15-4.5h0m-9 4h0m9-4.5h0m-12.5-6.5h0m6.5 10.5h0m-4 2h0m-6.5-8.5h0m1-6.5h0m10 4h0m3.5 1.5h0m-20.5 5h0m12-5.5h0m-9 7.5h0m5-13h0m-3 11.5h0m7-3h0m5-8.5h0m-2 18h0m-5.5-5h0m-6 2h0m15-3h0m-12.5 0.5h0m7.5 7h0m-6.5-5.5h0m7.5-5h0m-3.5 3h0m0 7.5h0m1-4.5h0m-6.5-4.5h0m14.5-5h0m-8.5 2.5h0m-4.5 4.5h0m-3-5h0m15.5 8h0m-7-11h0m-0.5 3h0m-2.5-6.5h0m2-3h0m4.5 12h0m-3.5-8.5h0m-9 13.5h0m12-13h0m-15.5 6.5h0m10-2h0m-0.5-6.5h0m-8 7h0m6 8.5h0m2-7h0m-1 0.5h0m13.5 2.5h0m-5.5-8h0m-13.5 6.5h0m4 7h0m11.5-7h0m-8.5 3h0m-4.5-4h0m-1.5 4.5h0m15-1.5h0m-1 0h0m-11-7.5h0m-4-1h0m5.5 1.5h0m-6.5 0.5h0m5.5 2h0m3-4.5h0m-1.5 15.5h0m9-14.5h0m-7.5 10h0m-7-10.5h0m11-1.5h0m-9.5 12h0m10.5-13h0m-9.5 11.5h0m2-8h0m-2 9h0m1.5 3.5h0m-4.5-10h0m5.5 3.5h0m4.5 9.5h0m7.5-16.5h0m-11 13.5h0m-4-1.5h0m4 2.5h0m5-4.5h0m3.5 2.5h0m-8-16h0m-3 9.5h0m12-3h0m-6 1h0m-6 7.5h0m8-12h0m-9.5 11h0m0.5-5h0m13 0.5h0m-5-6h0m0 14h0m1.5-10h0m-7-7h0m-1.5 6.5h0m-2 4h0m2.5-5.5h0m8 12.5h0m-6.5-13.5h0m14.5 5.5h0m-12.5-10h0m5.5 11h0m-6.5-3h0m0.5 11h0m2.5-3h0m-4.5-8h0m-1.5-3h0m7.5 11.5h0m6-3.5h0m-9-12h0m1 7h0m4.5-6h0m2 3h0m2 9h0m-12 0h0m6.5-5h0m-8-3h0m1 1h0m-4 1.5h0m13.5-3h0m-1.5 1.5h0m3-1h0m1.5 6.5h0m-17-9.5h0m1 13.5h0m8-10.5h0m-13.5 3h0m5.5 3h0m8-15.5h0m-1 14h0m2.5-1.5h0m4.5 2.5h0m-1.5 3h0m-2 2h0m4-8.5h0m-13-1.5h0m15.5 1.5h0m-8-7h0m4.5 7h0m-8.5 4.5h0m-9.5-4.5h0m12.5 7h0m3-14h0m4.5 4h0m0.5 7h0m-10-15h0m-7.5 10.5h0m9-11h0m1.5 9.5h0m8.5-0.5h0m-5 6.5h0m1-5h0m-4.5-5.5h0m-7 3.5h0m-1 2.5h0m4 3.5h0m-0.5-11.5h0m1 4h0m8.5 8h0m-15-4.5h0m5.5 10h0m6-8h0" stroke="#e8409c" stroke-width="2.6" stroke-linecap="round"/>
<path d="M441 324.9H460.6" stroke="#111" stroke-width="1.8"/>
<path d="M476.6 308.7V343.8" stroke="#3aa39b" stroke-width="1.1"/>
<path d="M476.6 315.5L474.6 316.1L473.6 316.6L472.7 317.2L472 317.7L471.4 318.3L470.9 318.9L470.4 319.4L469.9 320L469.5 320.5L469.1 321.1L468.7 321.6L468.4 322.2L468.1 322.8L467.9 323.3L467.6 323.9L467.4 324.4L467.3 325L467.1 325.5L467 326.1L467 326.7L467 327.2L467.2 327.8L467.3 328.3L467.5 328.9L467.7 329.5L468 330L468.3 330.6L468.6 331.1L468.9 331.7L469.3 332.2L469.7 332.8L470.2 333.4L470.7 333.9L471.3 334.5L471.9 335L472.7 335.6L473.5 336.1L474.6 336.7L476.6 337.3L476.6 337.3L478.6 336.7L479.7 336.1L480.5 335.6L481.2 335L481.9 334.5L482.4 333.9L482.9 333.4L483.4 332.8L483.8 332.2L484.2 331.7L484.6 331.1L484.9 330.6L485.2 330L485.4 329.5L485.7 328.9L485.8 328.3L486 327.8L486.1 327.2L486.2 326.7L486.1 326.1L486 325.5L485.9 325L485.7 324.4L485.5 323.9L485.3 323.3L485 322.8L484.7 322.2L484.4 321.6L484.1 321.1L483.7 320.5L483.3 320L482.8 319.4L482.3 318.9L481.7 318.3L481.1 317.7L480.4 317.2L479.6 316.6L478.5 316.1L476.6 315.5Z" fill="#3aa39b" fill-opacity="1.0"/>
<path d="M472 324.5h0m-5.5 6h0m13.5-8h0m5 9h0m-12 1h0m0 0h0m9.5-8.5h0m-16 2h0m10-3h0m7-1.5h0m-6.5 6h0m4.5 2h0m-12.5 2h0m0.5 0h0m4 5h0m8-4h0m-0.5-1h0m3-10.5h0m-8.5 4.5h0m-2-7.5h0m12 14h0m-1-1.5h0m-12-8h0m4 2.5h0m-1 6h0m7.5-5.5h0m-10-1h0m9.5 9h0m-13.5-14h0m14 13h0m-14.5-2.5h0m8.5 0h0m-0.5-0.5h0m9-7h0m-8.5 12h0m8-9.5h0m-3-5.5h0m0 2.5h0m-7-4.5h0m1.5 4h0m2.5 6.5h0m-3.5-1h0m4.5 3h0m-3.5-6.5h0m4.5 4.5h0m-5-4h0m-6 0h0m10 4.5h0m-3 9.5h0m5.5-7.5h0m-2-3h0m-11 3.5h0m-1-2.5h0m2.5 0.5h0m10.5-3.5h0m-11.5-4h0m4.5 1.5h0m1-3h0m-4 2h0m-3 0.5h0m11.5 1.5h0m-3.5-10.5h0m0.5 12.5h0m-3-4.5h0m-7.5 3.5h0m14.5 4h0m-8.5 1.5h0m-3.5-7h0m9.5 2.5h0m-9.5-4.5h0m9 2h0m7.5 3.5h0m-14-7h0m15.5 6h0m-14-4h0m4 14h0m-10-9h0m8.5 3.5h0m5-6.5h0m-0.5 10.5h0m-0.5-15h0m-5 4h0m-7 8h0m15 2h0m-6 3.5h0m1 0h0m4-16h0m-3 16h0m5-3.5h0m-8.5-7.5h0m4 10h0m7-4.5h0m-10-17h0m1 15h0m8-8h0m-4.5-4.5h0m1 6.5h0m-11.5-4h0m8 19h0m3.5-6.5h0m1.5-2h0m-9.5-10.5h0m3.5-1h0m-2.5 13.5h0m11-7.5h0m-6 7.5h0m-8.5-0.5h0m9-7h0m-8.5 4h0m5-16h0m-3.5 5h0m5.5 8.5h0m3 2.5h0m-11.5-3.5h0m7.5 12.5h0m0-16.5h0m1 13.5h0m0-11h0m-7 5.5h0m9-1h0m-9 6h0m1.5-6.5h0m-3.5 1h0m7 7.5h0m-4.5-13.5h0m-6 7h0m17.5-3h0m-11.5-2.5h0m9-6h0m-11 16h0m3-1.5h0m8-13.5h0m3.5 8.5h0m-0.5 3.5h0m0 2.5h0m-4-15h0m1 0.5h0m-7.5 2h0m3.5 11h0m7.5-5h0m-18-3h0m19.5 6.5h0m-10.5 6.5h0m2-23h0m-0.5-2.5h0m-2.5 24h0m3-8.5h0m2.5-8h0m-6 13.5h0m5-3h0m-4.5 3h0m2.5-15h0m3.5 13.5h0m3-9h0m2 4.5h0m-9 2.5h0m7.5-6h0m1.5 2.5h0m-20.5 2h0m2 3h0m5.5-1h0m10-1h0m-1.5-10h0m-1.5 0.5h0m8 6.5h0m-4-1.5h0m2 4.5h0m-16.5-2h0m7 10.5h0m-0.5-1h0m-5-2.5h0m-4-2.5h0m10 3h0m5.5-10.5h0m0-5h0m-4.5 11h0m1.5-8.5h0m8.5 8h0" stroke="#3aa39b" stroke-width="2.6" stroke-linecap="round"/>
<path d="M466.8 326.6H486.4" stroke="#111" stroke-width="1.8"/>
<path d="M527.7 312.3V350" stroke="#e8409c" stroke-width="1.1"/>
<path d="M527.7 319.3L525.6 319.9L524.5 320.5L523.7 321.1L522.9 321.7L522.3 322.3L521.7 322.9L521.2 323.5L520.7 324.1L520.3 324.7L519.9 325.3L519.5 325.9L519.2 326.5L518.9 327.1L518.6 327.7L518.4 328.3L518.2 328.9L518 329.5L517.9 330.1L517.9 330.7L517.9 331.3L518 331.9L518.1 332.5L518.3 333.1L518.5 333.7L518.8 334.3L519 334.9L519.3 335.5L519.7 336.1L520 336.7L520.4 337.3L520.8 337.9L521.3 338.5L521.8 339.1L522.4 339.7L523 340.3L523.8 340.9L524.6 341.5L525.7 342.1L527.7 342.7L527.7 342.7L529.7 342.1L530.8 341.5L531.6 340.9L532.4 340.3L533 339.7L533.6 339.1L534.1 338.5L534.6 337.9L535 337.3L535.4 336.7L535.7 336.1L536.1 335.5L536.4 334.9L536.6 334.3L536.9 333.7L537.1 333.1L537.3 332.5L537.4 331.9L537.5 331.3L537.5 330.7L537.5 330.1L537.4 329.5L537.2 328.9L537 328.3L536.8 327.7L536.5 327.1L536.2 326.5L535.9 325.9L535.5 325.3L535.1 324.7L534.7 324.1L534.2 323.5L533.7 322.9L533.1 322.3L532.5 321.7L531.7 321.1L530.9 320.5L529.8 319.9L527.7 319.3Z" fill="#e8409c" fill-opacity="1.0"/>
<path d="M534 335.5h0m1.5 1.5h0m-10.5-1h0m-4.5 1h0m10.5 4.5h0m2-19h0m-2.5 11h0m-10.5-9h0m17 7.5h0m-12-10h0m8.5 5h0m-8 7h0m-1.5-3.5h0m6.5-2.5h0m7-2h0m-11.5-2h0m13 5.5h0m-16 3.5h0m4.5-6h0m6.5 12h0m-5-17h0m8.5 10.5h0m-13.5 7.5h0m-3.5-10.5h0m8.5-4.5h0m5 3h0m-7.5-6h0m-1.5 4h0m9.5 12.5h0m1-11.5h0m0.5-3h0m-0.5-0.5h0m3.5 10h0m-17.5-2.5h0m0.5 7h0m13-9.5h0m0 10h0m-8-10h0m8 8.5h0m-12-1.5h0m-1 3.5h0m3-2h0m-0.5 1.5h0m1-7h0m1.5-5h0m11 0.5h0m-6.5 13.5h0m-9-12h0m10 10h0m1-16.5h0m-1.5-0.5h0m0.5 11.5h0m-9 8h0m1.5-10.5h0m1.5 6.5h0m10-4h0m2-1.5h0m-3 6h0m2.5-9.5h0m-18.5 2h0m12 2.5h0m-11-7h0m7 12h0m3.5-16h0m-2-9h0m-10.5 12h0m20.5 5.5h0m-13 11h0m7.5-12.5h0m-1 10.5h0m2.5-3h0m3.5-8h0m-17.5 9h0m1-14.5h0m10.5-0.5h0m6.5 11h0m-18-8h0m2.5-2h0m8 12h0m0.5-13.5h0m-4.5 18.5h0m4.5-5.5h0m-12.5 3.5h0m8-21h0m4 13h0m4.5 5.5h0m-20-3.5h0m7-9.5h0m15 4.5h0m-3.5 6.5h0m-2.5 2.5h0m3-5.5h0m-9-7.5h0m-2 4.5h0m-1.5-3.5h0m0.5 0h0m3.5 0.5h0m-2 13h0m-3.5-10.5h0m7.5-6h0m2.5 18.5h0m2.5-1h0m-11-14.5h0m5-2.5h0m-2.5 1h0m11 13h0m1-8.5h0m-9 13h0m1.5-12h0m7-0.5h0m-9 2h0m-5.5-5.5h0m9 16.5h0m7-6.5h0m-11-16h0m4 3.5h0m-13 5h0m7.5 12h0m12-9h0m-4.5 6.5h0m-10.5-12h0m3.5-2h0m0 8.5h0m2.5 13.5h0m-9-14.5h0m17.5 5h0m-19.5-2.5h0m4.5-7.5h0m11.5 13h0m3-4h0m-5.5-7.5h0m0-3h0m5 2.5h0m-7.5 12h0m-5.5 0.5h0m5.5 10h0m8-11.5h0m-19.5-4h0m12.5 9.5h0m-7-17.5h0m2-1.5h0m1.5 5h0m-2 1h0m1 2h0m-1.5 7h0m-1.5-3.5h0m11-4.5h0m5.5-3.5h0m0 5h0m-15 2h0m2 6.5h0m5.5-13h0m4.5 3.5h0m-1.5-1h0m-2.5 6.5h0m-15-5h0m5.5 9h0m2.5-11h0m1-6h0m0.5 18.5h0m3-26h0m-2.5 7.5h0m1.5 8h0m10.5-4h0m-22 2h0m8.5 1.5h0m1.5 11.5h0m0.5-17h0m-8.5 6.5h0m10.5 13.5h0m-1.5-2.5h0m-1 1.5h0m3.5-14.5h0m-13 4.5h0m1.5-5h0m16.5-0.5h0m-17.5 1.5h0m8.5 11h0" stroke="#e8409c" stroke-width="2.6" stroke-linecap="round"/>
<path d="M517.9 330.8H537.5" stroke="#111" stroke-width="1.8"/>
<path d="M553.5 308.7V350" stroke="#3aa39b" stroke-width="1.1"/>
<path d="M553.5 316.7L551.5 317.4L550.5 318L549.7 318.7L549 319.3L548.3 320L547.8 320.7L547.3 321.3L546.8 322L546.4 322.6L546 323.3L545.7 323.9L545.3 324.6L545 325.3L544.8 325.9L544.6 326.6L544.4 327.2L544.2 327.9L544 328.5L543.9 329.2L543.9 329.8L544 330.5L544.1 331.2L544.2 331.8L544.4 332.5L544.6 333.1L544.9 333.8L545.2 334.4L545.5 335.1L545.9 335.8L546.2 336.4L546.7 337.1L547.1 337.7L547.6 338.4L548.2 339L548.8 339.7L549.6 340.4L550.4 341L551.5 341.7L553.5 342.3L553.5 342.3L555.5 341.7L556.6 341L557.4 340.4L558.2 339.7L558.8 339L559.4 338.4L559.9 337.7L560.3 337.1L560.8 336.4L561.1 335.8L561.5 335.1L561.8 334.4L562.1 333.8L562.4 333.1L562.6 332.5L562.8 331.8L562.9 331.2L563 330.5L563.1 329.8L563.1 329.2L563 328.5L562.8 327.9L562.6 327.2L562.4 326.6L562.2 325.9L562 325.3L561.7 324.6L561.3 323.9L561 323.3L560.6 322.6L560.2 322L559.7 321.3L559.2 320.7L558.7 320L558 319.3L557.3 318.7L556.5 318L555.5 317.4L553.5 316.7Z" fill="#3aa39b" fill-opacity="1.0"/>
<path d="M548.5 323.5h0m0.5 17h0m12-12.5h0m-5.5 11.5h0m-4.5-14h0m2.5 10.5h0m-1.5 0.5h0m-3-13h0m7 15.5h0m0-9.5h0m-8 9.5h0m11 0h0m-2.5-12h0m3-0.5h0m-4.5-3h0m-5-1h0m14.5 10.5h0m-10-7.5h0m-2 18.5h0m7-18h0m4 8.5h0m-8.5-8.5h0m-2.5 10h0m0.5 3h0m2.5-18h0m-6.5 13.5h0m-3.5-10.5h0m2.5 12h0m5-3h0m6 3.5h0m-2-4h0m0-7.5h0m-3.5 12h0m2.5 1.5h0m0-9.5h0m-11-6.5h0m19.5 9h0m-9.5 5.5h0m1.5-11h0m-10.5 10h0m3.5-7h0m2.5-13.5h0m5 12h0m-7.5 13.5h0m-4-19h0m8.5 6h0m-12 1h0m3.5 3.5h0m2.5 7.5h0m1-16.5h0m0.5 8h0m7.5-4.5h0m-1-7h0m-0.5 3h0m6 0h0m-19 5.5h0m14-6.5h0m-4.5 15.5h0m-6.5-14h0m4.5 15.5h0m-1-14.5h0m5-6.5h0m1.5 14h0m-2-2.5h0m5-5h0m-12.5-3h0m10.5-1.5h0m-1.5 7h0m0 9h0m-10-6h0m4.5 10h0m-7.5-10.5h0m16-5h0m-6 15.5h0m-2.5-8.5h0m6-12h0m-2 9h0m2-8.5h0m-5 21h0m2.5-13h0m-9.5 1.5h0m8-9h0m3.5 5.5h0m-4.5-5.5h0m13.5 9h0m-4 0.5h0m-1.5 9.5h0m-4.5 10h0m-2.5-9.5h0m-2.5-17.5h0m-3.5 13.5h0m2.5 1h0m6.5 5h0m-8.5-20h0m6.5 7h0m-0.5 0h0m10-6h0m-8 10h0m-11.5 0h0m6 1.5h0m-3-0.5h0m14-5.5h0m-4 1.5h0m-9.5-1h0m4 7h0m6.5-0.5h0m-8.5-0.5h0m8.5-12.5h0m-1.5 14h0m-1.5 2.5h0m6-11.5h0m-5-7h0m-1.5 9h0m0-3h0m-6 6h0m18.5-3.5h0m-18 1h0m1.5-10.5h0m-4 10h0m3-5h0m1.5-4h0m-1.5 1.5h0m11.5-1h0m-12 2h0m-4 6h0m17.5-4.5h0m-2 0h0m3 2.5h0m-9 16.5h0m-6-22h0m7 23.5h0m-6.5-24h0m7 22.5h0m-8-15h0m4.5 6h0m1 2h0m-1.5 4h0m-0.5-4h0m7-13h0m-2 2h0m2-5.5h0m-12 3.5h0m8.5 21h0m5-9.5h0m-12 1h0m1.5-15h0m2.5-2.5h0m1 20h0m3 2.5h0m8.5-11.5h0m-14.5-9h0m12 9.5h0m-13-7h0m4 0.5h0m11.5 6.5h0m-8.5 1h0m-5.5-3.5h0m2.5 11.5h0m1.5 2h0m-7-12.5h0m17.5 4.5h0m-6 4.5h0m-6-16.5h0m10 5.5h0m-9 20.5h0m11.5-19.5h0m-8.5-6h0m-6.5 10h0m15.5-2.5h0m-10 13.5h0m-10-11h0m16.5-8h0m3.5 3.5h0m-13 11.5h0m-8-6h0m4 0.5h0m4 4h0m5-9h0" stroke="#3aa39b" stroke-width="2.6" stroke-linecap="round"/>
<path d="M543.7 329.8H563.3" stroke="#111" stroke-width="1.8"/>
<path d="M604.6 316.1V350" stroke="#e8409c" stroke-width="1.1"/>
<path d="M604.6 322.6L602.6 323.2L601.5 323.7L600.7 324.3L600 324.8L599.3 325.3L598.7 325.9L598.2 326.4L597.7 326.9L597.3 327.5L596.9 328L596.6 328.6L596.2 329.1L595.9 329.6L595.7 330.2L595.4 330.7L595.2 331.3L595 331.8L594.9 332.3L594.8 332.9L594.8 333.4L594.9 334L595 334.5L595.1 335L595.3 335.6L595.6 336.1L595.8 336.6L596.1 337.2L596.4 337.7L596.8 338.3L597.2 338.8L597.6 339.3L598.1 339.9L598.6 340.4L599.2 341L599.9 341.5L600.6 342L601.5 342.6L602.6 343.1L604.6 343.7L604.6 343.7L606.7 343.1L607.8 342.6L608.6 342L609.4 341.5L610 341L610.6 340.4L611.1 339.9L611.6 339.3L612 338.8L612.4 338.3L612.8 337.7L613.1 337.2L613.4 336.6L613.7 336.1L613.9 335.6L614.1 335L614.3 334.5L614.4 334L614.5 333.4L614.4 332.9L614.3 332.3L614.2 331.8L614 331.3L613.8 330.7L613.6 330.2L613.3 329.6L613 329.1L612.7 328.6L612.3 328L611.9 327.5L611.5 326.9L611 326.4L610.5 325.9L609.9 325.3L609.3 324.8L608.6 324.3L607.7 323.7L606.6 323.2L604.6 322.6Z" fill="#e8409c" fill-opacity="1.0"/>
<path d="M595 333h0m13-2.5h0m-11-3h0m10.5 14h0m-9.5-3h0m8.5 5h0m-9.5-9.5h0m9-1h0m-7 1h0m4.5 11.5h0m8-14h0m-18.5 2.5h0m21.5-4.5h0m-18.5 7.5h0m9.5 7.5h0m-5-16.5h0m12.5 7h0m-13-8h0m12.5 12h0m-19.5-6h0m9-2.5h0m0.5-6.5h0m7.5 3.5h0m-2.5 0.5h0m7 1h0m-5.5 4.5h0m-11.5-2.5h0m16.5 0h0m-13.5-6h0m-1 16h0m2-6h0m2.5 2.5h0m4-3h0m0-2.5h0m-6 5.5h0m5-0.5h0m-3-13h0m1.5 20h0m5.5-7.5h0m1.5-8h0m-11.5 14h0m9-11.5h0m-13 6.5h0m-2 1h0m15.5-1h0m3-6h0m-14.5-6.5h0m-1 4.5h0m12.5 0h0m-9.5 12.5h0m1.5-15.5h0m6.5 8h0m-4-0.5h0m4 4.5h0m-7-5h0m4 9.5h0m3.5-6.5h0m-14-6.5h0m12-1h0m-6.5-3h0m-2 10.5h0m9-8h0m-4-9h0m3 22.5h0m0.5-12h0m0 9.5h0m-0.5-5h0m2 1.5h0m4 0.5h0m-13.5 1.5h0m0.5 0.5h0m4 10.5h0m3-15h0m1-9h0m2 6h0m-4-10h0m3 16.5h0m-3 4.5h0m9-12.5h0m-9.5-1.5h0m10.5 7h0m-18 5.5h0m7.5 3.5h0m-12-14h0m19.5 7.5h0m-17.5-0.5h0m13.5 2h0m-1.5 0h0m0.5-7h0m2 6.5h0m-4.5-6h0m-5.5 4.5h0m0.5-3h0m11.5 3h0m-11.5 5h0m2.5-0.5h0m6.5-2h0m-7 3.5h0m7.5-5.5h0m-16-4h0m10.5-5h0m-2.5 8h0m8 5h0m-0.5-14h0m-1 8h0m-7-3.5h0m6 7h0m7-5h0m-22-1h0m14.5-6h0m-3.5-3.5h0m-3 10.5h0m11.5 3.5h0m-8-5h0m-5.5 4.5h0m5.5-6h0m-9-2h0m10-4.5h0m-3 18h0m4.5-3h0m-9.5-12h0m19 5.5h0m-15.5 6.5h0m11.5-4h0m-5-9.5h0m-4.5 9.5h0m0.5-0.5h0m6-9.5h0m-6 5.5h0m3.5 6.5h0m2-9.5h0m2 6.5h0m-8-5.5h0m-5.5 9.5h0m8.5-18.5h0m7 15.5h0m-10.5-5.5h0m7.5 11h0m-11.5-2h0m1-1h0m12 1.5h0m-14.5-12.5h0m5 8h0m2-8.5h0m2 3.5h0m-9 7h0m4 4h0m14-12.5h0m-15.5 7.5h0m3.5-8.5h0m-1 5.5h0m7-3h0m-13.5 6h0m9-10.5h0m-3.5 2h0m-7.5 4h0m23.5 3h0m-21 3.5h0m13-0.5h0m-5-9.5h0m-0.5-3.5h0m-3.5 8.5h0m2-1.5h0m-6.5 2h0m7.5-7.5h0m3 0h0m-2 14.5h0m-6.5-3h0m11.5-12h0m-3 1h0m5.5 11h0m-5.5-4.5h0m0-9h0m-6.5 15h0m4-13.5h0m8.5 1h0m2 3h0m-10 1.5h0" stroke="#e8409c" stroke-width="2.6" stroke-linecap="round"/>
<path d="M594.8 333.3H614.4" stroke="#111" stroke-width="1.8"/>
<path d="M630.4 308.7V346.6" stroke="#3aa39b" stroke-width="1.1"/>
<path d="M630.4 316.2L628.5 316.8L627.4 317.4L626.6 318L625.9 318.6L625.3 319.2L624.8 319.8L624.3 320.4L623.8 321L623.4 321.6L623 322.2L622.6 322.8L622.3 323.4L622 324L621.8 324.6L621.5 325.2L621.3 325.8L621.1 326.4L621 327L620.9 327.6L620.8 328.2L620.9 328.8L621 329.4L621.1 330L621.3 330.6L621.5 331.2L621.7 331.9L622 332.5L622.4 333.1L622.7 333.7L623.1 334.3L623.5 334.9L624 335.5L624.5 336.1L625.1 336.7L625.7 337.3L626.4 337.9L627.3 338.5L628.4 339.1L630.4 339.7L630.4 339.7L632.5 339.1L633.5 338.5L634.4 337.9L635.1 337.3L635.8 336.7L636.3 336.1L636.9 335.5L637.3 334.9L637.7 334.3L638.1 333.7L638.5 333.1L638.8 332.5L639.1 331.9L639.3 331.2L639.6 330.6L639.7 330L639.9 329.4L640 328.8L640 328.2L639.9 327.6L639.8 327L639.7 326.4L639.5 325.8L639.3 325.2L639.1 324.6L638.8 324L638.5 323.4L638.2 322.8L637.8 322.2L637.5 321.6L637 321L636.6 320.4L636.1 319.8L635.5 319.2L634.9 318.6L634.2 318L633.4 317.4L632.4 316.8L630.4 316.2Z" fill="#3aa39b" fill-opacity="1.0"/>
<path d="M622.5 330h0m15.5-0.5h0m-0.5 3h0m1.5-2h0m-3.5 3h0m-6 0.5h0m12.5-4h0m-15-3.5h0m10 0h0m-5.5 1.5h0m-0.5-7h0m2.5 9h0m-1 8.5h0m3-9.5h0m-5.5-17h0m-2.5 8.5h0m-5 2.5h0m8-5.5h0m2.5 21h0m4-17h0m1 9.5h0m-13 2.5h0m14.5-7h0m-16 6.5h0m2 3.5h0m6 1h0m-9.5-11h0m8.5 11.5h0m-9-11h0m4 5h0m5-9.5h0m4 9.5h0m-14.5-7.5h0m17.5-3.5h0m-6.5 8.5h0m-4-4h0m7.5-0.5h0m-4.5 7.5h0m3.5 3h0m-11.5-6.5h0m10-0.5h0m-10-5.5h0m14.5 11h0m-8 3.5h0m9-15h0m-5-3.5h0m-4 20.5h0m-5.5-7h0m6.5 8h0m-5.5-14h0m-3.5-1.5h0m9.5 3.5h0m3 5h0m-6-15h0m11.5 16h0m-12.5 3.5h0m13-4.5h0m-3.5-5h0m-15-1.5h0m6.5-6.5h0m-2.5 8h0m7 2h0m-2 8.5h0m-7.5-15h0m16 5h0m-16 4h0m10-12.5h0m-8 0.5h0m11 7h0m-3 3h0m-4-1h0m3 2.5h0m-9 2.5h0m5-5.5h0m5.5-10h0m-11 12.5h0m8.5 4.5h0m1-1h0m9-3h0m-6.5-15h0m-15 9.5h0m22 0.5h0m-2.5-6.5h0m-13.5 1h0m4-1.5h0m-3.5 9.5h0m13.5-6h0m-18.5 1.5h0m9 10.5h0m-10-8h0m6-7.5h0m-5.5 5h0m16-2.5h0m-9.5 11.5h0m2-1h0m6.5-7.5h0m-4 0.5h0m8.5 0h0m-11-4.5h0m9 12h0m-2.5 2.5h0m-2.5-4h0m1-0.5h0m-11-4.5h0m9 3h0m-5.5-10h0m1.5 8h0m-7.5 3h0m9-10h0m8-0.5h0m-5 7.5h0m-2.5 8.5h0m0 1.5h0m12.5-12.5h0m-18.5 4h0m16 0.5h0m-7.5-17h0m7.5 8h0m-6-2h0m-10.5 8h0m9 0h0m-4.5 0.5h0m-3.5-4.5h0m6.5-2.5h0m10.5 3h0m-20-0.5h0m4.5-4h0m8 18h0m-7.5-11.5h0m2-4h0m2.5-4.5h0m-4.5 12.5h0m14 0.5h0m-9.5 9h0m-9.5-10h0m14 5h0m-7.5-16h0m8.5 4h0m-5 20.5h0m-1.5-20h0m3 3.5h0m-5.5 7h0m5.5 0h0m-0.5-4h0m1-8h0m-3 18.5h0m-7.5-18h0m9-6h0m-8.5 10.5h0m9.5-9h0m-13.5 11.5h0m0.5-1h0m2.5 0.5h0m4.5-1.5h0m-0.5-3.5h0m3.5-9.5h0m5 23.5h0m-1.5-9h0m-12 3h0m11 1.5h0m-0.5 4.5h0m-1-23.5h0m-8.5 15h0m13.5 0h0m2-5h0m-0.5 6h0m-11 3h0m3 3.5h0m4-9.5h0m-14 1h0m19-1.5h0m-7.5-5.5h0m-6 1h0m10-3.5h0m4.5 7h0m-20 4h0m6 0.5h0m6.5 11.5h0" stroke="#3aa39b" stroke-width="2.6" stroke-linecap="round"/>
<path d="M620.6 328.4H640.2" stroke="#111" stroke-width="1.8"/>
</g>
<g fill="none">
<path d="M92 183.5V356.8M681.5 183.5V356.8" stroke="#dcdcdc" stroke-width="1.6"/>
<path d="M91.3 183.5H682.2" stroke="#c6c6c6" stroke-width="1.4"/>
<path d="M91.3 356.8H682.2" stroke="#b2b2b2" stroke-width="1.4"/>
<path d="M92 205h8M681.5 205h-8M92 270h8M681.5 270h-8M92 335h8M681.5 335h-8M156 183.5v8M156 356.8v-8M232.9 183.5v8M232.9 356.8v-8M309.8 183.5v8M309.8 356.8v-8M386.8 183.5v8M386.8 356.8v-8M463.7 183.5v8M463.7 356.8v-8M540.6 183.5v8M540.6 356.8v-8M617.5 183.5v8M617.5 356.8v-8" stroke="#b8b8b8" stroke-width="1.1"/>
</g>
<text x="74.3" y="213.3" font-size="18" text-anchor="end">0.6</text>
<text x="74.3" y="278.2" font-size="18" text-anchor="end">0.3</text>
<text x="77.6" y="338.4" font-size="18" text-anchor="end">0</text>
<text x="310" y="232" font-size="18" text-anchor="start">Auditory</text>
<clipPath id="ca2"><rect x="92" y="360.2" width="589.5" height="173.00000000000006"/></clipPath>
<g clip-path="url(#ca2)">
<path d="M143.1 364.7V504.9" stroke="#e8409c" stroke-width="1.1"/>
<path d="M143.1 399.7L142 401.9L141.3 404.1L140.8 406.3L140.3 408.6L139.9 410.8L139.5 413L139.1 415.2L138.8 417.4L138.5 419.6L138.3 421.8L138 424L137.8 426.3L137.6 428.5L137.4 430.7L137.2 432.9L137 435.1L136.9 437.3L136.8 439.5L136.7 441.7L136.7 444L136.7 446.2L136.8 448.4L137 450.6L137.1 452.8L137.3 455L137.5 457.2L137.7 459.4L137.9 461.7L138.2 463.9L138.5 466.1L138.8 468.3L139.1 470.5L139.4 472.7L139.8 474.9L140.2 477.1L140.7 479.4L141.3 481.6L141.9 483.8L143.1 486L143.1 486L144.3 483.8L144.9 481.6L145.5 479.4L146 477.1L146.4 474.9L146.8 472.7L147.1 470.5L147.4 468.3L147.7 466.1L148 463.9L148.3 461.7L148.5 459.4L148.7 457.2L148.9 455L149.1 452.8L149.2 450.6L149.4 448.4L149.5 446.2L149.5 444L149.5 441.7L149.4 439.5L149.3 437.3L149.2 435.1L149 432.9L148.8 430.7L148.6 428.5L148.4 426.3L148.2 424L147.9 421.8L147.7 419.6L147.4 417.4L147.1 415.2L146.7 413L146.3 410.8L145.9 408.6L145.4 406.3L144.9 404.1L144.2 401.9L143.1 399.7Z" fill="#e8409c" fill-opacity="0.45"/>
<path d="M137.5 456h0m-1 6.5h0m4-9h0m10.5-30.5h0m-10 5.5h0m6.5-13h0m-2.5 59h0m-3.5-25.5h0m2.5 17h0m2-45h0m0 2.5h0m-4-12h0m5.5 3.5h0m4 25h0m-12 19.5h0m2.5 18.5h0m7-13.5h0m-11.5-17h0m5 32h0m5.5-69.5h0m-4.5 74h0m-0.5-51.5h0m8 34.5h0m-9 8h0m0.5-61h0m1 8.5h0m-7.5 29h0m1.5-10.5h0m9.5-10.5h0m-8.5-9h0m-3 13h0m3.5-26h0m8 62h0m3-28.5h0m0.5 3.5h0m-4 33.5h0m-3-71h0m10 35h0m-10 32.5h0m1-70h0m-2.5 39h0m5-27.5h0m-10.5 30h0m9 9.5h0m-6.5-27.5h0m11 4h0m-0.5 2h0m-16 10h0m6.5 24h0m-5-31h0m10.5 22h0m-5.5-45.5h0m6.5 40.5h0m-9-35.5h0m9 10.5h0m-4.5-37.5h0m6 18h0m-10 64.5h0m2.5-17h0m-3 0h0m5.5-53h0m-10 47h0m0.5-14h0m1 22.5h0m5 20h0m9.5-60h0m-8.5 46.5h0m2-74.5h0m7 21h0m-10 5.5h0m1 7h0m5 15.5h0m-0.5 42h0m-5.5-35.5h0m-5-1.5h0m17.5-7.5h0m-10.5-15h0m9.5 8.5h0m-1.5 24h0m-8 5.5h0m9.5-3h0m-4 8h0m-8-54.5h0m7.5 23h0m-8 0.5h0m1-15h0m8.5 13.5h0m-4 16.5h0m1.5-4.5h0m-10-7.5h0m4 13h0m3 7h0m-4.5-35.5h0m2-16h0m-4.5 60.5h0m18-28h0m-14.5-18h0m11.5 5h0m-2 8h0m-4-33h0m-5.5 58.5h0m1-11.5h0m9.5-30.5h0m-10.5 51.5h0m3 18h0m-2-66.5h0m5 1.5h0m-0.5 22h0m7.5-4.5h0m-11-16h0m10-4h0m1.5 18.5h0m-12-12h0m6 5.5h0m-4 19.5h0m2 18.5h0m-8-5h0m5.5-53.5h0m7.5 34h0m0 16h0m-6-30h0m-8.5 3h0m8 23h0m7.5-42.5h0m-8-5.5h0m-6 33h0m6-30h0m-10 25h0m7-17h0m9 50.5h0m-1.5-5.5h0m-13.5-21h0m19.5 3h0m-13.5 13h0m2.5 26h0m11-54.5h0m0.5 13.5h0m-12.5 5h0m8.5-10h0m-12-31.5h0m2 62h0m13.5-40h0m-8.5 54.5h0m-7-40.5h0m1-15.5h0m-1 0h0m-2 27.5h0m10-25h0m-1-3h0m-7.5 19h0m5 25h0m-6-15h0m14 5h0m-17-32h0m6 36h0m8.5-51h0m-4.5 57h0m-1.5-50h0m5 40h0m-5.5-19h0m6.5 7.5h0m-2.5 27.5h0m8.5-24.5h0m-17.5-20h0m1.5-20h0m7 54h0m-4.5-54.5h0m-1.5-3.5h0m-2 35.5h0m8.5 22h0m-6-11h0m9.5-33.5h0m-5.5-16.5h0m2.5 5.5h0m-8.5 6h0m16.5 29h0m-17-34.5h0m4 47h0m12.5-31.5h0m-12.5-12h0m4 62h0m6-44.5h0m-14 22h0m9 25.5h0m5-38.5h0m-7-23.5h0m-11 32h0m11-59.5h0m-1.5 92h0m0-100h0m4 85.5h0m-4-63h0m-8 28.5h0m1.5 31.5h0m5.5 1h0m0.5-61h0m-3.5 48.5h0m9-15h0m-8 1h0m9-14h0m-3 10h0m2.5 20.5h0m-9.5 13h0m3.5 11h0m-5.5-46h0m-1.5 3.5h0m3-14h0m8 3h0m-4 4h0m-2.5-5.5h0m5 9.5h0m8 10.5h0m-12 32h0m-2.5-7h0m-1.5-56h0m11 57h0m-6.5-65.5h0m2.5 31h0m-11 11.5h0m5.5-28h0m2-9.5h0m4.5-1.5h0m0.5 0.5h0m-9.5 50h0m3.5-46.5h0m1 38.5h0m2.5 21.5h0m8.5-49h0m-17.5 20h0m13.5 2.5h0m-13-16.5h0m17 29.5h0m-4-0.5h0m3 5.5h0m3-40h0m1.5 23h0m-5 12h0m-4-41h0m8.5 23h0m-12.5 10.5h0m9-31.5h0m2.5 30.5h0m-16-4.5h0m1.5 25.5h0m1.5-18.5h0m9.5-33.5h0m-16.5 10h0m18.5 0.5h0m-12 19.5h0m-6-4.5h0m8 22.5h0m13-22.5h0m-18 9h0m5 0.5h0m4 11h0m-2.5-63h0m-7 24.5h0m15 15.5h0m-2.5-1h0m-1.5-5h0m-5-15h0m10.5 31h0m-12-12.5h0m11.5 2h0m-5.5-1.5h0m-1.5-1h0m-2.5-4.5h0m-1-11.5h0m8 10.5h0m-4-25.5h0m6.5 43h0m1-4h0m-11 27h0m3.5-65h0m-1.5 53.5h0m-11-23h0m21 0h0m-8.5 16h0m3.5-5.5h0m-2-2.5h0m7 2h0m-11 7.5h0m11.5-11h0m-8 3h0m-7.5 3h0m1.5 8h0m2.5 7h0m-6-16.5h0m16.5-15.5h0m-10.5-36h0m6 10.5h0m2 25h0m-12.5 16h0m10.5-12h0m2 5.5h0m-7.5 9.5h0m-1.5-20h0m6 0.5h0m-1 31h0m-1.5-12h0m-6-30.5h0m2-15.5h0m4 0.5h0m5.5 5.5h0m-3.5 44h0m-11-26.5h0m8 34h0m-2.5 21h0m4.5-68.5h0m-9 19.5h0m3.5-2.5h0m7-26h0m-4.5 70h0m2-18h0m5.5-40h0m-7-12h0m-7.5 19.5h0m6 45h0m-2.5 3h0m-4.5-15.5h0m3-20.5h0m4.5 20h0m11.5-21.5h0m-7.5-21h0m-4 30h0m1-30h0m4.5 44h0m3.5-8.5h0m-3.5-14.5h0m-9 34h0m12-22h0m-5.5 26h0m8-42h0m-11 45h0m3-50h0m3 7.5h0m-9.5-0.5h0m15.5 0h0m-11 30h0m-5.5-32h0m9 27.5h0m-9.5-31h0m-0.5-21.5h0m14 38h0m-15 16h0m7.5-46.5h0m0.5 54.5h0m-0.5-32.5h0m7.5 9h0m-10.5-19h0m12 6.5h0m-9.5 43.5h0m6-50h0m1 33.5h0m-8.5-32h0m3.5 6h0m-3.5 17h0m-5.5-30.5h0m18.5 19.5h0m-21.5 4h0m8-24h0" stroke="#e8409c" stroke-width="2.6" stroke-linecap="round"/>
<path d="M132.1 443.4H154.1" stroke="#111" stroke-width="1.8"/>
<path d="M168.9 432V545" stroke="#3aa39b" stroke-width="1.1"/>
<path d="M168.9 458L167.8 459.5L167.1 460.9L166.6 462.4L166.2 463.8L165.7 465.3L165.4 466.8L165 468.2L164.7 469.7L164.4 471.2L164.1 472.6L163.9 474.1L163.7 475.5L163.4 477L163.2 478.5L163.1 479.9L162.9 481.4L162.8 482.8L162.6 484.3L162.5 485.8L162.5 487.2L162.5 488.7L162.6 490.2L162.7 491.6L162.8 493.1L163 494.5L163.2 496L163.4 497.5L163.6 498.9L163.9 500.4L164.2 501.8L164.5 503.3L164.8 504.8L165.2 506.2L165.6 507.7L166 509.2L166.5 510.6L167 512.1L167.7 513.5L168.9 515L168.9 515L170.1 513.5L170.8 512.1L171.3 510.6L171.8 509.2L172.2 507.7L172.6 506.2L173 504.8L173.3 503.3L173.6 501.8L173.9 500.4L174.2 498.9L174.4 497.5L174.6 496L174.8 494.5L175 493.1L175.1 491.6L175.2 490.2L175.3 488.7L175.3 487.2L175.3 485.8L175.2 484.3L175 482.8L174.9 481.4L174.7 479.9L174.6 478.5L174.4 477L174.1 475.5L173.9 474.1L173.7 472.6L173.4 471.2L173.1 469.7L172.8 468.2L172.4 466.8L172.1 465.3L171.6 463.8L171.2 462.4L170.7 460.9L170 459.5L168.9 458Z" fill="#3aa39b" fill-opacity="0.45"/>
<path d="M162.5 484.5h0m0-7.5h0m2-0.5h0m5 1.5h0m-0.5 22.5h0m-1.5-27h0m1.5 32.5h0m0.5-31h0m-0.5 14h0m-2.5 12.5h0m7.5 4h0m3-29.5h0m-4 26h0m-5.5-30.5h0m1.5 40.5h0m-1-34h0m-1-6h0m2.5 12h0m-2.5 21h0m4-29h0m-12.5 12h0m15 2h0m-6.5-27.5h0m-5 28h0m2.5 11.5h0m7.5-15.5h0m-8-6h0m15 11.5h0m-4-16h0m-1 20h0m-8.5-13h0m7 7h0m1.5 3.5h0m-3-14.5h0m2-6.5h0m-12.5 5h0m17 8.5h0m-3 8h0m-13-12h0m6.5 27h0m3-24h0m-3.5 15.5h0m-3 3.5h0m-0.5-5h0m6.5 2h0m6.5-17h0m-8.5-36.5h0m0.5 70.5h0m0-18h0m-2-31h0m7-0.5h0m-2 41.5h0m-0.5-26.5h0m-10.5 7.5h0m12 6.5h0m-10-8.5h0m14.5-3.5h0m-5.5-3h0m-4 1.5h0m6-1.5h0m-9.5 6.5h0m10.5 17.5h0m-12 1h0m-1-14.5h0m16.5-2h0m-15-13.5h0m-0.5 2.5h0m12.5 7.5h0m-14-12.5h0m7-9h0m-3.5 9h0m0.5 9h0m3-29h0m5 25h0m2 25h0m-13.5-35.5h0m1 37.5h0m8-44.5h0m4.5 42h0m-5.5-42h0m-2.5 10.5h0m6 22h0m-13.5 5.5h0m8-8h0m10-9h0m-8.5-40h0m-3.5 40.5h0m-1.5 19.5h0m-2.5-12h0m12.5 15h0m-1-23h0m-5-14.5h0m1.5 37.5h0m-2-1.5h0m6.5-28h0m0 15.5h0m-7.5-18.5h0m0-1.5h0m-4.5 20h0m4.5 21h0m8-42h0m-13 21.5h0m6-20.5h0m10 26h0m-9.5-1.5h0m1 1.5h0m5-31.5h0m-6.5 52.5h0m0-52h0m-2.5 35h0m-1.5 4h0m6-18.5h0m3.5-11.5h0m-15 8h0m9-23.5h0m-3.5 49h0m10-3.5h0m-10-9h0m6.5-22h0m-7 20h0m5.5-13.5h0m0 1h0m-5.5-12h0m7.5 30h0m-11.5-15h0m10.5 23.5h0m-1 3h0m7.5-20.5h0m-7.5 6h0m3.5-8h0m-3 20h0m-1-2.5h0m-8-14h0m15-21h0m-2 2.5h0m5 8h0m-11-27.5h0m-5.5 37h0m7-30h0m7.5 38.5h0m-2.5 8.5h0m1.5-7h0m-14.5-25.5h0m14 16h0m-5.5 0h0m0.5 16h0m-1.5-21.5h0m-3 19h0m-0.5-12h0m6.5-26.5h0m-6 36.5h0m2 9h0m2-31h0m-9 18.5h0m1-1h0m2.5-35h0m3.5 43.5h0m-5-18h0m6.5 52.5h0m-4.5-34.5h0m-6-22h0m10 8.5h0m-1.5-25h0m8 6h0m1.5 25h0m-3-32h0m5 12.5h0m-7-6h0m-1.5-2h0m-4.5-8.5h0m7 11h0m-4.5-6h0m-2-8h0m-6 18h0m-2 1.5h0m8-17.5h0m-9 24.5h0m10 4h0m-4 15h0m7-40.5h0m-11 11h0m1.5 6h0m3-5.5h0m9.5-8.5h0m-5.5 28h0m8-28h0m-13 5.5h0m9 3.5h0m-2.5-1h0m-2 17.5h0m11-9h0m-8 11h0m-3.5 11h0m2 4h0m-0.5-25h0m6-23h0m-3.5 4.5h0m3 6.5h0m-2 34h0m-5-46h0m-5 17h0m2.5-5.5h0m1.5 1.5h0m5.5 33.5h0m-9.5-15.5h0m9.5 8h0m7.5-6.5h0m-7-34.5h0m-10.5 38.5h0m12-2.5h0m-9.5-24.5h0m6.5 44.5h0m-2.5-4h0m4-5h0m-8-40.5h0m-0.5 11h0m3-14h0m0 26.5h0m0.5-5.5h0m12 7.5h0m1.5-10h0m-2.5 12h0m-13 5h0m0.5 4h0m8.5-9h0m-0.5-4h0m5.5-15.5h0m-9 12.5h0m-7.5 6.5h0m3-30h0m-0.5 41h0m2-24h0m-1 20h0m7-15.5h0m-2.5-6.5h0m-7 26h0m1.5-21h0m-1 22h0m12.5-32h0m-9 9h0m-1.5 12h0" stroke="#3aa39b" stroke-width="2.6" stroke-linecap="round"/>
<path d="M157.9 487.8H179.9" stroke="#111" stroke-width="1.8"/>
<path d="M220 435.2V515.4" stroke="#e8409c" stroke-width="1.1"/>
<path d="M220 451L218.9 452.4L218.3 453.9L217.8 455.3L217.3 456.7L216.9 458.2L216.5 459.6L216.2 461.1L215.9 462.5L215.6 463.9L215.3 465.4L215 466.8L214.8 468.2L214.6 469.7L214.4 471.1L214.2 472.5L214 474L213.9 475.4L213.7 476.8L213.6 478.3L213.5 479.7L213.4 481.2L213.4 482.6L213.5 484L213.6 485.5L213.8 486.9L214 488.3L214.2 489.8L214.4 491.2L214.7 492.6L215 494.1L215.3 495.5L215.7 496.9L216 498.4L216.4 499.8L216.9 501.3L217.4 502.7L218 504.1L218.7 505.6L220 507L220 507L221.3 505.6L222 504.1L222.6 502.7L223.1 501.3L223.6 499.8L224 498.4L224.4 496.9L224.7 495.5L225 494.1L225.3 492.6L225.6 491.2L225.8 489.8L226 488.3L226.2 486.9L226.4 485.5L226.5 484L226.6 482.6L226.6 481.2L226.5 479.7L226.4 478.3L226.3 476.8L226.2 475.4L226 474L225.9 472.5L225.7 471.1L225.5 469.7L225.2 468.2L225 466.8L224.7 465.4L224.5 463.9L224.2 462.5L223.9 461.1L223.5 459.6L223.1 458.2L222.7 456.7L222.3 455.3L221.8 453.9L221.1 452.4L220 451Z" fill="#e8409c" fill-opacity="0.45"/>
<path d="M214.5 465h0m0 34.5h0m7.5-3.5h0m-7-8h0m6 13.5h0m-4 3h0m4.5-49h0m-2.5 53.5h0m-6.5-19.5h0m14-28h0m2 22h0m-14.5 2.5h0m7 16.5h0m3.5-46h0m-3.5 42.5h0m-5-5h0m-0.5 8h0m-4-25.5h0m18.5-2h0m-17 7.5h0m6-20.5h0m1 3.5h0m-0.5-12h0m3.5 50h0m4.5-24h0m-12 11h0m12.5-2h0m2-1.5h0m-1 6h0m-5.5-10.5h0m-3-6h0m-3 2.5h0m0.5 17h0m0-30h0m0 30h0m9-24.5h0m-2.5-6h0m-1 5.5h0m2.5-5.5h0m-11.5 0h0m-1.5 20h0m10 9.5h0m-10.5 2.5h0m18.5-16.5h0m-18.5 3h0m3-13.5h0m9.5-3h0m-7 7h0m-5 14.5h0m10 12h0m4-5h0m3-16h0m0.5 9h0m-5.5-27h0m-3 21h0m9.5-0.5h0m-9-9h0m-6.5 23.5h0m0.5-24h0m-1.5 9h0m7.5 8h0m-9.5-10.5h0m2-9.5h0m2.5 36h0m9-15.5h0m-2.5 5.5h0m5-11.5h0m-17.5-10.5h0m10.5 4.5h0m-2.5 29h0m-10-21h0m8.5-0.5h0m11.5-13.5h0m-5.5 7h0m-2.5-16h0m0.5 2.5h0m-5.5 5.5h0m9 13h0m-5.5-39h0m-6 28.5h0m16 13.5h0m-12-9.5h0m-7-1h0m16 5h0m2 3h0m-3.5 10h0m0-18.5h0m-16.5 3.5h0m2.5-8.5h0m3.5-12h0m-4 34h0m10-44.5h0m2 32.5h0m-7.5-20h0m2 27.5h0m0.5 17.5h0m-2.5-38.5h0m2.5 11.5h0m12.5 3.5h0m-6-19h0m-8 18.5h0m2 19h0m3 4h0m-7.5-23h0m16 9.5h0m-16 9h0m4.5-50.5h0m-5 21h0m6-24.5h0m-2 47h0m2.5-36h0m3 8.5h0m-3.5 1.5h0m-7.5 14.5h0m1 13.5h0m9-2.5h0m-8-21.5h0m2.5 20h0m7.5 5.5h0m-2.5 7h0m-4-12h0m-3.5-19h0m-5 10h0m1-12.5h0m8.5 3h0m1 8h0m-9-8h0m6 8h0m10 3h0m-1 8.5h0m-4.5 2h0m9-20h0m-9.5-13h0m6.5 24h0m-4.5-17.5h0m1 15.5h0m4.5-16.5h0m1 0.5h0m-19 9h0m17 12.5h0m-11-5h0m1.5 19.5h0m-8.5-26h0m18 6h0m-10-3h0m12.5-7h0m-19-3h0m10-15.5h0m6 43h0m-1.5-1h0m-3-6h0m0 2h0m2.5-12.5h0m-2 22h0m-12-13.5h0m10 20h0m11-27h0m-19 13.5h0m9.5-5h0m-9.5-16.5h0m2 17.5h0m0.5-12.5h0m5 20.5h0m-1.5-33.5h0m-2 37.5h0m9.5-25h0m-17.5 1h0m11 23.5h0m-0.5 5h0m-5.5-14h0m11.5-34h0m-3.5 30.5h0m7.5-11.5h0m-14.5-2h0m2-16.5h0m1 29h0m-7.5-11h0m16.5-11h0m-3 35h0m4.5-9h0m-5.5-0.5h0m-0.5-4.5h0m5.5 1.5h0m-5.5-37.5h0m4.5 30h0m-5 13h0m-8.5-26.5h0m11.5-7.5h0m-4.5-6h0m-1-0.5h0m10.5 31.5h0m-14-26h0m0.5 39.5h0m3.5-43.5h0m6 10h0m-10 15.5h0m5-25h0m-7.5 28h0m8-2h0m-8-5h0m-1.5 3h0m15 8h0m-10.5 11.5h0m4.5-11.5h0m4.5-20h0m-10.5 31.5h0m5.5-27h0m-1.5 29h0m4-27h0m8 6.5h0m1-4h0m-12.5 2.5h0m2.5 6h0m5 2.5h0m1-20.5h0m1.5 17.5h0m-6.5-28h0m8 14h0m-13.5 20h0m-3-22.5h0m6 21h0m11-15.5h0m-9-18.5h0m2 27.5h0m-3.5-25.5h0m1 32.5h0m3 5.5h0m-9.5-26.5h0m15 5h0m-12.5-9.5h0m-6.5 1.5h0m4 32.5h0m4-35.5h0m10.5 23.5h0m-10-13h0m7.5-10.5h0m-3 27h0m-7.5-14.5h0m10-1h0m2.5-9.5h0m-9.5 8h0m-0.5-19h0m7 24h0" stroke="#e8409c" stroke-width="2.6" stroke-linecap="round"/>
<path d="M209 482H231" stroke="#111" stroke-width="1.8"/>
<path d="M245.8 466.3V540" stroke="#3aa39b" stroke-width="1.1"/>
<path d="M245.8 486L244.6 487.2L243.8 488.4L243.2 489.5L242.7 490.7L242.3 491.9L241.9 493.1L241.5 494.3L241.2 495.4L240.9 496.6L240.6 497.8L240.3 499L240.1 500.2L239.9 501.3L239.7 502.5L239.6 503.7L239.4 504.9L239.4 506.1L239.4 507.2L239.5 508.4L239.6 509.6L239.7 510.8L239.9 511.9L240 513.1L240.2 514.3L240.4 515.5L240.6 516.7L240.8 517.8L241 519L241.3 520.2L241.5 521.4L241.8 522.6L242.1 523.7L242.4 524.9L242.8 526.1L243.2 527.3L243.6 528.5L244.1 529.6L244.8 530.8L245.8 532L245.8 532L246.9 530.8L247.5 529.6L248 528.5L248.4 527.3L248.8 526.1L249.2 524.9L249.5 523.7L249.8 522.6L250.1 521.4L250.4 520.2L250.6 519L250.9 517.8L251.1 516.7L251.3 515.5L251.5 514.3L251.6 513.1L251.8 511.9L251.9 510.8L252 509.6L252.1 508.4L252.2 507.2L252.3 506.1L252.2 504.9L252.1 503.7L251.9 502.5L251.8 501.3L251.6 500.2L251.3 499L251.1 497.8L250.8 496.6L250.5 495.4L250.1 494.3L249.8 493.1L249.4 491.9L248.9 490.7L248.4 489.5L247.8 488.4L247.1 487.2L245.8 486Z" fill="#3aa39b" fill-opacity="0.45"/>
<path d="M254 507.5h0m-16 12.5h0m8-2.5h0m6.5-10.5h0m-2.5 5.5h0m-12.5 3.5h0m11.5 13.5h0m-0.5-37.5h0m4 31.5h0m-6-48.5h0m1.5 45h0m1.5-30h0m-10.5 24.5h0m-1.5-7.5h0m14-5h0m4 3.5h0m-4.5-6h0m-14-1h0m12.5 27.5h0m2.5-15h0m-0.5-0.5h0m-9.5 5h0m3-8h0m6.5-16.5h0m-9 4.5h0m8-1h0m-13.5 13h0m2 14.5h0m7 2h0m4-24h0m-5-11.5h0m-8.5 16.5h0m1.5-5h0m17.5 5h0m-11.5 14.5h0m4.5-23h0m-5.5 24h0m8-26.5h0m-4 28h0m3.5 2h0m-3 2h0m-5-27.5h0m0 0h0m-4.5 4.5h0m-0.5 9h0m17.5-5h0m-6 14h0m-2.5-33.5h0m0 25.5h0m7 3.5h0m-3.5 8h0m-12.5-20.5h0m4 3.5h0m-4-8h0m4-4.5h0m-4.5 15.5h0m9.5-12h0m-6.5 26h0m5.5-28.5h0m-3.5 7h0m8 11h0m-8-6.5h0m3 2.5h0m-4 3h0m-1.5-14.5h0m5.5-19.5h0m4 39h0m-2.5 0.5h0m-3 7.5h0m8.5-16.5h0m-11 0.5h0m4 12h0m-4-10h0m5-14.5h0m6 7.5h0m-1.5-8.5h0m-6.5 9h0m10-5.5h0m0 15h0m-4-19.5h0m0 12h0m-13.5-0.5h0m14 9h0m-14-15.5h0m17 8h0m-10 8h0m3.5 13h0m8-27.5h0m-5.5 4h0m-6.5 9h0m7.5 9h0m-10.5-19.5h0m-4.5 0h0m21 3.5h0m-17.5-0.5h0m-2-4h0m16.5 9.5h0m-3 7h0m-7.5 4h0m4.5-12.5h0m-12-11h0m12-7.5h0m-6-4h0m4.5-4h0m7 9h0m0.5 4.5h0m-10.5-4.5h0m3.5 31.5h0m-3-28h0m-7 14.5h0m3.5-18.5h0m3.5-3.5h0m6.5 25.5h0m2-2h0m-12.5-13.5h0m8.5 5h0m-1.5 7.5h0m-5-12h0m7 21h0m-10.5-6h0m18.5-10.5h0m-10-19.5h0m6 31h0m-6-28h0m0 12.5h0m-5 4.5h0m0 17h0m2-5h0m-7-4.5h0m1 6h0m8.5 18.5h0m8-40.5h0m-8.5-20h0m1 52.5h0m7.5-10h0m0.5-22.5h0m-16 3h0m9.5 0.5h0m-2.5 27h0m0.5-37h0m5 10h0m3 13.5h0m-10.5-6.5h0m9.5 2h0m-8.5-17h0m-4 25h0m9.5-7h0m-7.5-13.5h0m12 20.5h0m-4-19.5h0m2.5 1h0m1 22h0m-1.5-15.5h0m-6-13h0m-1 2.5h0m3.5 23.5h0m-11.5-13.5h0m11-16h0m-2 20h0m-4 5h0m8-24.5h0m-1 32h0m-1-6h0m6-8h0m-7.5 5h0m-12-1h0m15.5-16h0m-8 29h0m13.5-12h0m-3-9.5h0m-4.5 10.5h0m-5.5 8h0m-1-21.5h0m-1 3h0m6-19h0m-6.5 22h0m-2 15h0m15.5-6h0m-13 9.5h0m-5.5-20.5h0m19.5-6.5h0m-12-4h0m-3 9.5h0m1 3.5h0m11-3.5h0m-11 17h0m-6-11.5h0m9 11.5h0m12.5-8h0m-17-1.5h0m7-33.5h0m-1 23h0m-10 7h0m6.5 16.5h0m5-19.5h0m2.5-2h0" stroke="#3aa39b" stroke-width="2.6" stroke-linecap="round"/>
<path d="M234.8 506H256.8" stroke="#111" stroke-width="1.8"/>
<path d="M296.9 473.5V525.6" stroke="#e8409c" stroke-width="1.1"/>
<path d="M296.9 483.5L294.9 484.4L293.8 485.2L293 486L292.3 486.8L291.6 487.7L291.1 488.5L290.5 489.3L290.1 490.2L289.6 491L289.2 491.8L288.9 492.6L288.5 493.5L288.2 494.3L288 495.1L287.7 496L287.5 496.8L287.4 497.6L287.2 498.4L287.1 499.3L287.1 500.1L287.2 500.9L287.3 501.8L287.5 502.6L287.7 503.4L287.9 504.2L288.1 505.1L288.4 505.9L288.8 506.7L289.1 507.6L289.5 508.4L290 509.2L290.4 510L291 510.9L291.5 511.7L292.2 512.5L292.9 513.3L293.8 514.2L294.9 515L296.9 515.8L296.9 515.8L299 515L300.1 514.2L300.9 513.3L301.7 512.5L302.3 511.7L302.9 510.9L303.4 510L303.9 509.2L304.4 508.4L304.7 507.6L305.1 506.7L305.4 505.9L305.7 505.1L306 504.2L306.2 503.4L306.4 502.6L306.6 501.8L306.7 500.9L306.8 500.1L306.7 499.3L306.7 498.4L306.5 497.6L306.3 496.8L306.1 496L305.9 495.1L305.6 494.3L305.3 493.5L305 492.6L304.6 491.8L304.3 491L303.8 490.2L303.3 489.3L302.8 488.5L302.3 487.7L301.6 486.8L300.9 486L300 485.2L299 484.4L296.9 483.5Z" fill="#e8409c" fill-opacity="1.0"/>
<path d="M302 506.5h0m3.5-2h0m-3.5-12h0m-14.5 2.5h0m14.5 8.5h0m-6-18.5h0m8.5 4h0m-6.5 15.5h0m-11-6.5h0m11.5 14.5h0m-1.5-16h0m-2-9h0m10.5 5h0m-6.5 11h0m-11.5 2h0m7.5-21h0m7.5 12h0m-10.5 15.5h0m3.5 4.5h0m1-33.5h0m7.5 20h0m-15-13.5h0m-1.5 16h0m13-4.5h0m4 8h0m0-15.5h0m-8-10h0m-2 3h0m5.5 21h0m-10-19h0m11.5 18.5h0m-8-5.5h0m2.5-6.5h0m2 18.5h0m0.5 7h0m-12-19.5h0m15-8.5h0m-1.5 11h0m-8-3h0m3-16h0m-4 19h0m0-5h0m12 1h0m-2-13h0m0.5 14.5h0m-14-0.5h0m13-8h0m-11.5-1h0m14 19.5h0m-2.5-4.5h0m2.5-2.5h0m1.5 0.5h0m-15 4.5h0m10-12h0m9 2.5h0m-10-18h0m5.5 20.5h0m1.5 1h0m-6-4.5h0m-1.5 7h0m-5.5-16h0m6-8h0m7.5 11.5h0m-17.5 4h0m12.5-3h0m-8 9h0m2-12.5h0m11.5 10h0m-14.5-4.5h0m9.5-2.5h0m-6.5 5.5h0m-1 7h0m-8-3.5h0m10-4h0m3 8.5h0m-4.5-11.5h0m2 16h0m8-16.5h0m-4.5 18.5h0m5.5-20h0m-15 9h0m-1 1h0m17-2h0m-15-11.5h0m7.5 15h0m1-13h0m-3 10h0m-2-9h0m3.5-2h0m7.5 10.5h0m-8.5 4.5h0m-1.5 14h0m7-18.5h0m-7-13.5h0m6.5 13.5h0m-4.5-2.5h0m-7 12.5h0m0-16h0m1.5-9.5h0m8.5 11.5h0m-1-9h0m-5 21.5h0m-5-10h0m17 4.5h0m-19-2.5h0m9 0.5h0m1.5 5h0m3.5-11.5h0m-4-5.5h0m0.5 10.5h0m-4-8.5h0m-2.5 9.5h0m13 1.5h0m-4.5-15h0m-9 11h0m6.5-14h0m-4.5 19.5h0m13.5-3.5h0m-12.5 13h0m-8-19h0m7 13.5h0m-1-14h0m8 5h0m5.5-6.5h0m-13.5 2h0m7.5 10.5h0m-13-4.5h0m9 15h0m7-17.5h0m-8 12.5h0m-6-14h0m1-5.5h0m-2.5 0.5h0m3 1.5h0m2 5.5h0m8-14.5h0m-1.5 5.5h0m-5 24h0m2.5-9h0m5-6h0m-5-5.5h0m3 13h0m0.5-17.5h0m-7.5 7h0m13-5h0m-9.5-8.5h0m3.5 31h0m5.5-9.5h0m3-5h0m-10-13.5h0m1.5 1h0m-1.5-0.5h0m2.5 26h0m-10-15.5h0m13.5-7.5h0m-11 23h0m-2-9.5h0m4.5 12.5h0m-1-19h0m9.5 8h0m-5-3h0m-1 2.5h0m9.5 2h0m-15.5 3h0m0-10.5h0m9 12.5h0m-7-18h0m-0.5 6.5h0m-4 3.5h0m18.5-5.5h0m-18 11.5h0m5.5 6h0m10.5-11.5h0m-1.5 4h0m-10-7.5h0m11-5.5h0m0 13h0m-1 2h0m0-3.5h0m-6.5-2h0m8-6.5h0m-16.5 5h0m6 12.5h0m3.5-2h0m-2-23.5h0m7 2.5h0m-1.5 12.5h0m-14-12.5h0m2.5 6.5h0m15 7h0m-2.5-8h0m-2.5 1h0m8 0.5h0m-4 4h0m-6.5-15.5h0m-0.5 13.5h0m-6 4.5h0m7.5 8.5h0m4-8.5h0m-2.5-1h0m3.5-6.5h0m1 5.5h0m-5 1h0m3.5-12h0m2 1h0m-3.5-0.5h0m-8 1.5h0m10.5 4.5h0m1 4.5h0m-3-7.5h0m-3.5 2h0m-4 11.5h0m-4-10h0m1.5-14h0m-3.5 24h0m2.5-5h0m15-5.5h0m0.5 3h0m-12.5 2h0m-1 8.5h0m2 2h0" stroke="#e8409c" stroke-width="2.6" stroke-linecap="round"/>
<path d="M287.1 499.9H306.7" stroke="#111" stroke-width="1.8"/>
<path d="M322.7 475.4V523.8" stroke="#3aa39b" stroke-width="1.1"/>
<path d="M322.7 486L320.9 486.7L319.9 487.5L319.2 488.3L318.5 489L317.9 489.8L317.4 490.6L316.9 491.4L316.5 492.1L316.1 492.9L315.7 493.7L315.3 494.4L315 495.2L314.7 496L314.4 496.7L314.2 497.5L314 498.3L313.8 499L313.6 499.8L313.4 500.6L313.3 501.4L313.2 502.1L313.1 502.9L313.2 503.7L313.3 504.4L313.5 505.2L313.7 506L313.9 506.7L314.2 507.5L314.6 508.3L315 509L315.4 509.8L315.9 510.6L316.4 511.4L317 512.1L317.7 512.9L318.5 513.7L319.4 514.4L320.5 515.2L322.7 516L322.7 516L324.9 515.2L326.1 514.4L327 513.7L327.8 512.9L328.5 512.1L329.1 511.4L329.6 510.6L330.1 509.8L330.5 509L330.9 508.3L331.2 507.5L331.6 506.7L331.8 506L332 505.2L332.2 504.4L332.3 503.7L332.3 502.9L332.3 502.1L332.2 501.4L332 500.6L331.9 499.8L331.7 499L331.5 498.3L331.3 497.5L331 496.7L330.8 496L330.5 495.2L330.1 494.4L329.8 493.7L329.4 492.9L329 492.1L328.6 491.4L328.1 490.6L327.6 489.8L327 489L326.3 488.3L325.5 487.5L324.6 486.7L322.7 486Z" fill="#3aa39b" fill-opacity="1.0"/>
<path d="M315 499h0m-4 5h0m3 0.5h0m11-7h0m8 8h0m-9-3h0m7 8.5h0m-12.5 1.5h0m9.5-3h0m-8-10.5h0m4-6.5h0m3 7.5h0m4.5 6h0m-9.5 5h0m-1-17h0m-4.5 2.5h0m2 14h0m13-1h0m-7-11.5h0m-7 7.5h0m11.5 2h0m-9.5-3h0m8 0h0m-16.5-0.5h0m17.5 7h0m-6 2h0m-4-13h0m1-3h0m-5 10.5h0m9-25h0m-9.5 23h0m16 5h0m-3-7h0m0.5-12h0m0 3h0m-13 9h0m17-6.5h0m-19.5 4.5h0m19.5-6h0m-11.5 10.5h0m-1 7h0m4-10.5h0m1 3h0m0 7.5h0m-12-11.5h0m8 1.5h0m4 13.5h0m0.5-27h0m-5.5 1.5h0m2 19h0m-2.5-9.5h0m5-8h0m-5.5 8h0m15.5 3h0m-4.5-5h0m-4.5-2h0m-11 1.5h0m10 13h0m-8.5-1h0m5.5 1.5h0m-5-19.5h0m6.5 17h0m-4-19.5h0m-1 11h0m6.5-13h0m5 17.5h0m4.5 2h0m-5.5-3.5h0m-5 6h0m0.5-25h0m-6.5 14h0m6-13.5h0m-1 19h0m-3.5-12.5h0m-2.5 4.5h0m-0.5-2h0m12.5 7h0m-7.5 0.5h0m12.5 0h0m-1.5 3h0m-18.5 1.5h0m4.5-5h0m13 4.5h0m2-5h0m-2.5-7h0m-12 6.5h0m10-3.5h0m1.5-5h0m2 3h0m-12.5 9h0m-1 0.5h0m7.5 11h0m-7-21h0m16 10.5h0m-20.5-2h0m4 9.5h0m14.5-4h0m-8-14h0m4 19.5h0m-2 1h0m-7-2h0m9.5-22h0m-9.5 13h0m4 5h0m9-10.5h0m-5-8h0m6 6.5h0m-1 7h0m-21-0.5h0m18-11h0m1 1.5h0m-4.5 18h0m-10.5-15.5h0m3 2h0m5 2h0m8-4.5h0m2 3.5h0m-13.5 12.5h0m7-23h0m5 12.5h0m-9-8h0m-6.5 8.5h0m8.5-11.5h0m-10 16h0m-3-5.5h0m18-8h0m-7 24.5h0m-6-4.5h0m9.5-10h0m-2.5-1h0m1 10.5h0m8.5-5h0m-6 3h0m6-12h0m-6.5 9.5h0m-3.5 5h0m-7-5.5h0m-4.5-1.5h0m13.5-12h0m7 15h0m-9.5 8.5h0m7-21.5h0m-7.5-5h0m-2-1h0m1 15h0m-4-11.5h0m4 16.5h0m9-12h0m-7 19.5h0m1-17h0m-5.5 8h0m5 0.5h0m-3.5-13.5h0m-1-2h0m6 8.5h0m-13.5 1h0m18.5 0.5h0m-16.5 2h0m8.5 0.5h0m5-6h0m3.5 0h0m-15 11h0m2-19.5h0m6.5 7h0m0-1h0m1.5 5.5h0m0.5-10.5h0m2 9.5h0m-8 13h0m-5.5-5.5h0m16.5-8.5h0m-15.5-8h0m14 20h0m0-1h0m-7-19.5h0m-0.5 30.5h0m-7-23.5h0m6-9.5h0m-4.5 4h0m3.5 10h0m4 5.5h0m-6-19h0m-2 13h0m8.5-11.5h0m-11 3.5h0m16.5 11h0m-10.5-1h0m-4.5-5.5h0m13.5 5.5h0m4-8.5h0m-15.5 0h0m-5 10h0m5-5h0m7.5-2.5h0m3-3.5h0m4 12h0m-11.5-19.5h0m2.5 24h0m6-11h0m-1.5-9h0m2 10.5h0" stroke="#3aa39b" stroke-width="2.6" stroke-linecap="round"/>
<path d="M312.9 503.2H332.5" stroke="#111" stroke-width="1.8"/>
<path d="M373.9 484V525" stroke="#e8409c" stroke-width="1.1"/>
<path d="M373.9 491.1L371.7 491.8L370.6 492.4L369.7 493.1L368.9 493.7L368.2 494.4L367.6 495L367.1 495.7L366.6 496.3L366.2 497L365.8 497.6L365.4 498.3L365.1 498.9L364.8 499.6L364.5 500.2L364.3 500.9L364.2 501.5L364.1 502.2L364 502.8L364.1 503.5L364.2 504.1L364.3 504.8L364.5 505.4L364.7 506.1L364.9 506.7L365.2 507.4L365.4 508.1L365.7 508.7L366.1 509.4L366.4 510L366.8 510.7L367.2 511.3L367.7 512L368.2 512.6L368.8 513.3L369.4 513.9L370.1 514.6L370.9 515.2L371.9 515.9L373.9 516.5L373.9 516.5L375.8 515.9L376.8 515.2L377.6 514.6L378.3 513.9L379 513.3L379.5 512.6L380 512L380.5 511.3L380.9 510.7L381.3 510L381.7 509.4L382 508.7L382.3 508.1L382.6 507.4L382.8 506.7L383 506.1L383.2 505.4L383.4 504.8L383.5 504.1L383.6 503.5L383.7 502.8L383.7 502.2L383.5 501.5L383.4 500.9L383.2 500.2L382.9 499.6L382.6 498.9L382.3 498.3L382 497.6L381.6 497L381.1 496.3L380.6 495.7L380.1 495L379.5 494.4L378.8 493.7L378.1 493.1L377.2 492.4L376 491.8L373.9 491.1Z" fill="#e8409c" fill-opacity="1.0"/>
<path d="M372.5 505.5h0m-9.5-1.5h0m14 6.5h0m-0.5-10.5h0m-10-3h0m15.5 7h0m-16-1h0m6 12.5h0m-6-20.5h0m15.5 3.5h0m-15 0.5h0m7.5 1.5h0m-6 6.5h0m2-8.5h0m-5.5 10h0m13.5 5h0m0-6.5h0m-15.5-5h0m7.5-3.5h0m11 4.5h0m-13 8.5h0m-0.5-12.5h0m13.5 6.5h0m-16.5-2.5h0m10.5-4.5h0m-4.5 9h0m3 6h0m-4-6.5h0m-1 6h0m11-9h0m-6-7h0m-6 8.5h0m1 3.5h0m-1-14h0m12.5-1h0m-12 7h0m4-8h0m7 17.5h0m-10 3h0m3.5-4.5h0m-2-8h0m6.5 5.5h0m3.5 6h0m-5.5-19.5h0m10 13.5h0m-22.5-7h0m7.5 10h0m7-14.5h0m7 14h0m-9 10.5h0m0-2h0m-1.5-0.5h0m-1-24.5h0m-10.5 11.5h0m11.5-4.5h0m-2 14h0m11.5-6.5h0m-2.5 3.5h0m-3.5-2h0m3-12.5h0m-13 11.5h0m11-15h0m-2 8.5h0m-1.5 5h0m1.5-4h0m5.5-2.5h0m2.5 6h0m-5-8h0m-5 5h0m1 7.5h0m-4.5-8h0m7.5 5.5h0m-2.5-9h0m0 7h0m-12.5-2.5h0m10.5 7.5h0m-1.5-16h0m12.5 11.5h0m-3.5-5.5h0m-1.5-2.5h0m-7.5 4.5h0m7.5-8h0m-9 6h0m-0.5-7h0m-5 12h0m10-10.5h0m-0.5-4.5h0m6 12.5h0m-13 9h0m8.5-16h0m-7 12h0m8-12h0m-12 6h0m17 1.5h0m-5 9.5h0m6-5.5h0m-10-8h0m5.5 4h0m0.5-5.5h0m-16.5 2.5h0m16.5 1.5h0m-14.5-0.5h0m2.5 4h0m7 4.5h0m-4-5h0m12 5h0m-15.5-5h0m8.5-1.5h0m-4 4.5h0m5-5h0m-3-8.5h0m-2.5 10h0m7-4h0m-5-8.5h0m0.5 14h0m1 13.5h0m-1 0.5h0m1-7.5h0m-3-12h0m4.5-4h0m-5 2.5h0m2.5-5h0m-10.5 11h0m12.5 3.5h0m6.5-4h0m-8.5-10.5h0m0 12h0m-3.5 0h0m3.5-11h0m-9.5 5.5h0m3.5-3.5h0m4.5 13.5h0m7.5-7.5h0m-4.5-17h0m1.5 21h0m5-4.5h0m-18.5 0h0m2 5h0m9.5-0.5h0m5.5-6.5h0m-5-3.5h0m-1.5 16.5h0m-3-15.5h0m0 0.5h0m-5 9.5h0m4.5 0.5h0m12.5-11.5h0m-14.5 4.5h0m-1.5 9.5h0m18-10h0m-5.5-8.5h0m-6 7h0m6 14h0m-7.5-19h0m-1 10h0m6.5 10.5h0m-2-13.5h0m-4 0.5h0m-7 1h0m15 6.5h0m1-12h0m-4.5-3h0m1.5 2.5h0m-12 5.5h0m2.5 4.5h0m12 6h0m-4-19h0m6 15.5h0m-13.5-5h0m1-5.5h0m14-0.5h0m-16-3h0m10 5.5h0m0.5 6h0m-3-19.5h0m-1 23.5h0m8.5-9.5h0m-18.5 1h0" stroke="#e8409c" stroke-width="2.6" stroke-linecap="round"/>
<path d="M364.1 502.7H383.7" stroke="#111" stroke-width="1.8"/>
<path d="M399.7 479.9V517.9" stroke="#3aa39b" stroke-width="1.1"/>
<path d="M399.7 486.8L397.6 487.4L396.5 488L395.7 488.6L394.9 489.2L394.3 489.8L393.7 490.4L393.2 491L392.7 491.6L392.3 492.2L391.9 492.8L391.6 493.4L391.2 494L391 494.6L390.7 495.2L390.5 495.8L390.3 496.4L390.2 497L390.1 497.7L390.1 498.3L390.1 498.9L390.3 499.5L390.4 500.1L390.6 500.7L390.8 501.3L391 501.9L391.3 502.5L391.6 503.1L391.9 503.7L392.3 504.3L392.6 504.9L393.1 505.5L393.5 506.1L394 506.7L394.6 507.3L395.2 507.9L395.9 508.5L396.7 509.1L397.7 509.7L399.7 510.3L399.7 510.3L401.6 509.7L402.6 509.1L403.4 508.5L404.1 507.9L404.7 507.3L405.3 506.7L405.8 506.1L406.3 505.5L406.7 504.9L407.1 504.3L407.4 503.7L407.7 503.1L408 502.5L408.3 501.9L408.5 501.3L408.7 500.7L408.9 500.1L409.1 499.5L409.2 498.9L409.2 498.3L409.2 497.7L409.1 497L409 496.4L408.8 495.8L408.6 495.2L408.4 494.6L408.1 494L407.8 493.4L407.4 492.8L407 492.2L406.6 491.6L406.1 491L405.6 490.4L405 489.8L404.4 489.2L403.7 488.6L402.8 488L401.7 487.4L399.7 486.8Z" fill="#3aa39b" fill-opacity="1.0"/>
<path d="M388.5 500.5h0m3 3.5h0m11.5-12h0m-2.5 5.5h0m2.5 4h0m6-5.5h0m-18.5 7h0m8.5-13.5h0m-3 5.5h0m2 7.5h0m1.5 8h0m-3.5-5h0m-7.5-8.5h0m9.5 2.5h0m-7.5 3.5h0m3-11.5h0m14.5 2.5h0m-2.5 2.5h0m-2-2h0m2.5-3h0m-2 8h0m-9 1h0m15.5 1h0m-15.5-9.5h0m-4.5 7.5h0m7.5-1h0m-2 0.5h0m1.5 8.5h0m13-10h0m-1.5-2.5h0m-7.5 7h0m-4-4h0m-4.5 3.5h0m8-4.5h0m3-1h0m-3.5 6h0m-0.5-7h0m5 0h0m1 2.5h0m-13-3h0m12 8.5h0m-8-15.5h0m2-7.5h0m5 12.5h0m-9 13h0m8.5-10.5h0m-2.5 0h0m-4 1h0m2 1h0m2 2h0m-1-16h0m-4.5 25h0m1.5-13.5h0m-1.5 9h0m0.5 2h0m0-0.5h0m-2-9h0m6 1h0m-4.5-3.5h0m9.5-3h0m-12 4h0m-5 3.5h0m12.5-1.5h0m-0.5 21h0m-0.5-16h0m5.5-10h0m-10.5 6h0m-2.5 6h0m9.5-7.5h0m-5.5 1h0m0-8.5h0m1.5 4h0m9 0.5h0m-11 7.5h0m4 4.5h0m-6.5-9.5h0m13.5 2h0m1 3.5h0m-7.5 11h0m-5.5-4h0m7.5-17.5h0m2.5 14.5h0m-7-12.5h0m13 6.5h0m-8.5-1.5h0m5-0.5h0m-1-1h0m-10.5 10.5h0m-0.5-6h0m-1-3.5h0m2-2.5h0m4 1.5h0m-2.5 13h0m1-6h0m4.5-1.5h0m-8.5 5.5h0m-2.5-16h0m18.5 9h0m-5 3h0m-7-17.5h0m2.5 21h0m-5 0.5h0m6.5-14.5h0m-10-1.5h0m11 3.5h0m-7.5 3h0m-7 1.5h0m-1-2h0m11.5 12.5h0m1.5 0h0m3-20.5h0m3.5 9h0m-9 9.5h0m2.5-2h0m-0.5-2h0m2.5 0h0m-8-8.5h0m3 0.5h0m5.5 4h0m2.5 1h0m-6.5-5.5h0m9.5 7h0m-5.5-10h0m4 0.5h0m-10.5 5h0m7-4.5h0m-1 13h0m-10-6.5h0m-2.5-3h0m1.5-1.5h0m11-6.5h0m0.5 15h0m-14.5-8.5h0m7-1.5h0m0.5 4.5h0m-2.5-3.5h0m8 12h0m6-11h0m-7.5 8h0m1.5-2.5h0m-2-4h0m3.5 5.5h0m3-10h0m-15.5 0.5h0m17 11h0m-8-3h0m-9-3.5h0m14.5-4h0m-4.5 22.5h0m3-27h0m-8 19h0m8.5-3.5h0m-0.5-2.5h0m6.5-7h0m-19 3h0m13 4.5h0m2-11.5h0m-4.5 8.5h0m-5.5 6.5h0m-4-10h0m14.5 8h0m-11.5 1h0m3.5 3.5h0m3.5-16.5h0m4.5 12h0m1.5-3h0m-11 5.5h0m1-22h0m-0.5 15h0m10.5-1h0m-16.5 2.5h0m12.5-4h0m0.5-5h0m1.5-0.5h0m-7.5 1.5h0m-5.5-2h0m1.5 9.5h0m-4-6.5h0" stroke="#3aa39b" stroke-width="2.6" stroke-linecap="round"/>
<path d="M389.9 498H409.5" stroke="#111" stroke-width="1.8"/>
<path d="M450.8 487.5V522.6" stroke="#e8409c" stroke-width="1.1"/>
<path d="M450.8 494.5L448.8 495L447.7 495.6L446.9 496.1L446.2 496.7L445.6 497.2L445 497.8L444.5 498.4L444 498.9L443.6 499.5L443.2 500L442.8 500.6L442.5 501.2L442.2 501.7L441.9 502.3L441.7 502.8L441.5 503.4L441.3 503.9L441.1 504.5L441 505.1L440.9 505.6L441 506.2L441.1 506.7L441.2 507.3L441.4 507.8L441.6 508.4L441.9 509L442.2 509.5L442.5 510.1L442.9 510.6L443.3 511.2L443.7 511.8L444.2 512.3L444.7 512.9L445.3 513.4L446 514L446.7 514.5L447.6 515.1L448.7 515.7L450.8 516.2L450.8 516.2L452.9 515.7L454 515.1L454.9 514.5L455.6 514L456.3 513.4L456.9 512.9L457.4 512.3L457.9 511.8L458.3 511.2L458.7 510.6L459.1 510.1L459.4 509.5L459.7 509L459.9 508.4L460.2 507.8L460.3 507.3L460.5 506.7L460.6 506.2L460.6 505.6L460.5 505.1L460.4 504.5L460.3 503.9L460.1 503.4L459.9 502.8L459.6 502.3L459.4 501.7L459.1 501.2L458.7 500.6L458.4 500L458 499.5L457.6 498.9L457.1 498.4L456.6 497.8L456 497.2L455.4 496.7L454.7 496.1L453.8 495.6L452.8 495L450.8 494.5Z" fill="#e8409c" fill-opacity="1.0"/>
<path d="M450.5 495h0m-1 4h0m12.5 4.5h0m-8.5-2.5h0m-2.5 2.5h0m5 1h0m1.5 5.5h0m-10-13h0m-3 14h0m1-10h0m-2 8h0m11 3.5h0m-12.5-8h0m18-5h0m-9 11.5h0m-3.5 1h0m-8-7.5h0m-1 1.5h0m14 2h0m4-4.5h0m-1-1h0m-7.5-3.5h0m-7 11.5h0m15-1h0m-2.5-11.5h0m2-1.5h0m-12.5 2h0m4.5 13h0m0-15.5h0m7 2.5h0m-9 7.5h0m3-5.5h0m-2.5 10.5h0m5 2.5h0m9-4h0m-8 1.5h0m-1.5 1h0m-3.5-11h0m-1.5-2h0m-4 12h0m9-1h0m-2-3.5h0m-6 2h0m5.5 6.5h0m14-11.5h0m-18 7.5h0m11.5-8.5h0m-1.5-6.5h0m-9 13h0m9-13h0m-11.5 10.5h0m8-13h0m-1.5 2.5h0m7.5 10.5h0m-6 13.5h0m1-25h0m-5 5h0m10 1.5h0m1 2.5h0m3.5-2h0m-2-2.5h0m-9 7h0m1.5-14h0m-2 26h0m4-22h0m-1.5 20.5h0m-6.5-9h0m0.5-9h0m-1 12h0m15-9h0m-15.5 1h0m-1 5.5h0m6-13h0m-5.5 7.5h0m9 9.5h0m8.5-3.5h0m-19.5-3h0m13.5 2h0m-4-1.5h0m-7.5-3.5h0m-3.5 7h0m14.5-0.5h0m-13.5-7.5h0m20 4.5h0m-0.5-4h0m-16.5 11h0m-5-7.5h0m8.5-8.5h0m11.5 6h0m-9.5 10.5h0m4-11h0m-13.5 7h0m20.5-2.5h0m-5 3h0m-3.5-12h0m6.5 5.5h0m-3.5 9h0m5-5.5h0m-11.5 6h0m-1-17.5h0m5.5 9.5h0m6.5 5h0m-1 0.5h0m-4.5-14h0m-10 16.5h0m9-11.5h0m-4-7.5h0m-3.5 10.5h0m9.5 3.5h0m4.5 0.5h0m-2-7.5h0m-8.5 0h0m-1.5-3.5h0m4 10h0m0 4h0m9.5-7.5h0m-12.5 4h0m5-13.5h0m-7 6.5h0m13 1h0m-10-7h0m-4.5 1.5h0m7.5 17h0m0-11.5h0m-10-0.5h0m18-0.5h0m-17.5 2.5h0m4 1h0m1 2.5h0m-3.5 4.5h0m1-2.5h0m10.5-7h0m-9.5-5h0m4 15.5h0m0-9h0m2 0.5h0m-10-2h0m5.5-6h0m-7.5 13.5h0m5.5 3.5h0m5-16.5h0m-2 6h0m0-10h0m-7 11.5h0m1 1.5h0m1.5-8.5h0m10.5 6h0m-10.5-5.5h0m16 7h0m-7 1.5h0m-5-10h0m7 14h0m5.5-3.5h0m-10-4h0m2.5 1.5h0m-2 1.5h0m-1.5-7.5h0m-8 1h0m3.5 10.5h0m2.5-8h0m0.5 1h0m-4-6h0m17 8.5h0m-21-4.5h0m11 16h0m-3-18.5h0m-2 10h0m0.5-9h0m12.5 11h0m-11.5 1.5h0m6-11h0m-13.5 1h0m3.5 4h0m16.5-4h0m-2.5 4h0m-6-5h0m-12.5 6h0m9-4.5h0" stroke="#e8409c" stroke-width="2.6" stroke-linecap="round"/>
<path d="M441 505.8H460.6" stroke="#111" stroke-width="1.8"/>
<path d="M476.6 485.8V524.3" stroke="#3aa39b" stroke-width="1.1"/>
<path d="M476.6 492.4L474.5 493.1L473.4 493.7L472.5 494.3L471.7 494.9L471.1 495.5L470.5 496.1L470 496.7L469.5 497.3L469 498L468.7 498.6L468.3 499.2L468 499.8L467.7 500.4L467.5 501L467.3 501.6L467.1 502.2L467 502.9L467 503.5L467 504.1L467.1 504.7L467.3 505.3L467.4 505.9L467.6 506.5L467.9 507.1L468.1 507.8L468.4 508.4L468.7 509L469 509.6L469.3 510.2L469.7 510.8L470.1 511.4L470.6 512L471.1 512.6L471.6 513.3L472.2 513.9L472.9 514.5L473.7 515.1L474.7 515.7L476.6 516.3L476.6 516.3L478.5 515.7L479.5 515.1L480.3 514.5L480.9 513.9L481.5 513.3L482.1 512.6L482.6 512L483 511.4L483.4 510.8L483.8 510.2L484.2 509.6L484.5 509L484.8 508.4L485.1 507.8L485.3 507.1L485.5 506.5L485.7 505.9L485.9 505.3L486 504.7L486.1 504.1L486.2 503.5L486.1 502.9L486 502.2L485.9 501.6L485.7 501L485.4 500.4L485.2 499.8L484.9 499.2L484.5 498.6L484.1 498L483.7 497.3L483.2 496.7L482.7 496.1L482.1 495.5L481.4 494.9L480.7 494.3L479.8 493.7L478.7 493.1L476.6 492.4Z" fill="#3aa39b" fill-opacity="1.0"/>
<path d="M474 496.5h0m9.5 5.5h0m4 1.5h0m-3 5h0m-7 4h0m-10.5-8.5h0m17.5-7.5h0m2 11.5h0m-11.5-4.5h0m11.5-2h0m-15.5-6h0m12 1.5h0m-3-0.5h0m-4.5 15h0m1-12.5h0m-2 15.5h0m-3-9.5h0m7-12h0m-11 14h0m11.5-6h0m-1.5 16h0m-7.5-20h0m2 9.5h0m10.5-6.5h0m-8 1h0m-1 8h0m3.5-15h0m10 11.5h0m-9-6h0m-5.5 11.5h0m2 1.5h0m2-15h0m-2.5 15.5h0m-1-4h0m-5.5-7.5h0m8-9.5h0m-3.5 21.5h0m6.5-17.5h0m-4.5 12.5h0m7.5 0.5h0m-5-16h0m2.5 10h0m6.5-3h0m-11 2h0m4.5 13h0m-8.5-7h0m10 1h0m-8.5 4h0m2-5h0m2 2h0m-3.5-3h0m-6.5-6.5h0m3.5 11.5h0m17-7h0m-7 1h0m4.5 6h0m-9-3h0m1 0h0m7.5-0.5h0m3-2h0m-8.5-10.5h0m-3 0.5h0m-10 8.5h0m3 5.5h0m12-14h0m6.5 11.5h0m-7.5-2.5h0m-3.5 0h0m-2.5-10.5h0m5.5 12h0m8-2h0m-18 1h0m-4-2h0m9-0.5h0m-6 1.5h0m9-13.5h0m0.5 19h0m-2-13h0m-1-1h0m-5.5 1h0m11.5 14h0m-6.5 2h0m10-16h0m-8 26.5h0m-9.5-24h0m13-0.5h0m-2 2.5h0m-10.5 4.5h0m14.5-2.5h0m-2.5-8h0m0.5 10h0m-12-6h0m4 4h0m6.5-11h0m3 7h0m-12.5 10h0m11.5-9h0m-1.5 1h0m-6 10h0m-2-11h0m11 8h0m-2.5-3.5h0m1.5 0h0m-1.5 8h0m-0.5-21h0m1.5 13h0m3 0.5h0m-6.5-12.5h0m8.5 8h0m2.5 0h0m-20.5 7h0m16-5.5h0m-15.5 4h0m7.5-12h0m11.5 6.5h0m-7-0.5h0m-5.5 3.5h0m3-4.5h0m7.5-3.5h0m-14.5 6h0m2.5 6.5h0m-1.5-9.5h0m0.5 2h0m6.5 22.5h0m-6-23h0m8-3.5h0m8 8.5h0m-2-3h0m-2.5 8h0m-2-12.5h0m4 3.5h0m-9 1.5h0m0-3.5h0m-3-3.5h0m-6 8h0m18-2.5h0m-18 3.5h0m3 7h0m8.5-17.5h0m8 6.5h0m-0.5-3h0m-17 11.5h0m5-5h0m10 2.5h0m-3.5 0h0m3-5h0m-7.5 9h0m-2.5-6.5h0m3.5 12.5h0m0-24h0m1 23.5h0m-0.5-2h0m1-18.5h0m-9.5 13.5h0m13.5-4.5h0m-3 0.5h0m6.5-2.5h0m-10.5-9h0m-10 10h0m0.5-4.5h0m13-2.5h0m-1 9h0m-0.5-5h0m-9.5 1.5h0m11.5-0.5h0m2.5 6h0m-1.5-11h0m-8.5 10h0m15-0.5h0m-12 3h0m-0.5-12h0m8 5h0m-4 2h0m-4 3h0m4 4.5h0m-9.5-1.5h0m10 2.5h0m-4-13h0" stroke="#3aa39b" stroke-width="2.6" stroke-linecap="round"/>
<path d="M466.8 503.3H486.4" stroke="#111" stroke-width="1.8"/>
<path d="M527.7 491V527.8" stroke="#e8409c" stroke-width="1.1"/>
<path d="M527.7 497.7L525.6 498.3L524.5 498.9L523.6 499.4L522.9 500L522.2 500.6L521.6 501.2L521.1 501.8L520.6 502.4L520.2 503L519.8 503.5L519.4 504.1L519.1 504.7L518.8 505.3L518.5 505.9L518.3 506.5L518.1 507L518 507.6L517.9 508.2L517.9 508.8L517.9 509.4L518.1 510L518.2 510.6L518.4 511.1L518.6 511.7L518.8 512.3L519.1 512.9L519.4 513.5L519.7 514.1L520.1 514.7L520.5 515.2L520.9 515.8L521.4 516.4L521.9 517L522.5 517.6L523.1 518.2L523.8 518.7L524.7 519.3L525.7 519.9L527.7 520.5L527.7 520.5L529.7 519.9L530.7 519.3L531.6 518.7L532.3 518.2L532.9 517.6L533.5 517L534 516.4L534.5 515.8L534.9 515.2L535.3 514.7L535.7 514.1L536 513.5L536.3 512.9L536.6 512.3L536.8 511.7L537 511.1L537.2 510.6L537.3 510L537.5 509.4L537.5 508.8L537.5 508.2L537.4 507.6L537.3 507L537.1 506.5L536.9 505.9L536.6 505.3L536.3 504.7L536 504.1L535.6 503.5L535.2 503L534.8 502.4L534.3 501.8L533.8 501.2L533.2 500.6L532.5 500L531.8 499.4L530.9 498.9L529.8 498.3L527.7 497.7Z" fill="#e8409c" fill-opacity="1.0"/>
<path d="M523 504.5h0m12 4.5h0m-12 3h0m11-2h0m-4 2h0m4-7.5h0m-2.5 13.5h0m-12.5-3h0m11.5-4h0m-6-3.5h0m-1 11h0m13-11h0m-7 8h0m3-6.5h0m-5-11.5h0m9 7.5h0m-5.5 13h0m-7 1h0m2.5-18.5h0m1-1.5h0m2 14h0m-2-11h0m-9.5 1.5h0m17.5 9.5h0m-2-12.5h0m-14.5 7h0m8.5-3h0m9 7h0m2 0.5h0m-6.5-5h0m2 2h0m2.5-5h0m-9 2h0m-4-5h0m9 2.5h0m-13 5.5h0m1.5 3.5h0m-4.5-1.5h0m16-11h0m-8.5 10h0m2 1.5h0m-1-12h0m-5.5 15h0m11.5-11h0m2.5-2h0m6 6.5h0m-7 1h0m2.5 1.5h0m3 2.5h0m-10-3h0m7-8h0m-10 1.5h0m-2 0.5h0m2.5-5.5h0m10.5 7h0m-3-1h0m-8 4h0m2.5 5h0m-7.5-3h0m11.5-11h0m-5.5 18.5h0m5-8h0m2.5 6h0m3.5-11h0m-17.5 0h0m19.5 5h0m-6.5-6.5h0m-15 9h0m18-9.5h0m4 6.5h0m-20.5-4.5h0m4 0.5h0m5.5 15.5h0m7-8.5h0m-10.5 3h0m7-13h0m-9.5 4.5h0m-3 3.5h0m20-3.5h0m-16 7.5h0m-2-12.5h0m2 10h0m2.5 13.5h0m-1.5-10h0m1.5-13.5h0m12 11h0m-21.5-2h0m12.5 2.5h0m5-3h0m-3.5-6.5h0m-10 10.5h0m8.5-10.5h0m-7 11h0m14.5-5h0m-18-1h0m-0.5 4.5h0m0-7.5h0m18 8.5h0m-8.5-7.5h0m-2-1h0m5 2h0m-5.5 5h0m5.5-13h0m2 14h0m0-7.5h0m2.5 6.5h0m-7 3.5h0m6-10h0m-9-5.5h0m10 12h0m-7.5 4h0m6-0.5h0m-3.5-2.5h0m-7-14h0m5.5-2.5h0m5 19h0m-8 0.5h0m-8.5-11.5h0m13 10h0m7.5-9.5h0m0 3h0m-10 10.5h0m2.5-1.5h0m-10-16h0m8.5 25.5h0m4-15.5h0m-13-0.5h0m14-8.5h0m0.5 3.5h0m-1.5-6h0m-5-4.5h0m-3 9h0m1 8h0m-5-1.5h0m5.5 7.5h0m-1.5-7.5h0m3.5-16.5h0m-7 9.5h0m13.5-2h0m1.5 8h0m-5 5h0m-5-17.5h0m-4 4.5h0m0.5-1h0m10 6.5h0m-4.5 14.5h0m2-3h0m9-12h0m-19 1h0m2-2h0m12 8h0m-3-6h0m6 2.5h0m-8-9.5h0m-1 15h0m-9-10h0m15 7.5h0m-10.5-12h0m-6 9h0m16 5h0m2.5-5h0m-8 1.5h0m11-1.5h0m-12.5-2.5h0m5.5-1h0m-14.5 4h0m1.5-8h0m17 7.5h0m-11.5-7.5h0m-1.5 11.5h0m-3.5-12.5h0m14 15h0m1.5-9.5h0m-19 3h0m15.5-1.5h0m-11.5 6.5h0m8-2h0m3-6h0" stroke="#e8409c" stroke-width="2.6" stroke-linecap="round"/>
<path d="M517.9 508.6H537.5" stroke="#111" stroke-width="1.8"/>
<path d="M553.5 491V523.3" stroke="#3aa39b" stroke-width="1.1"/>
<path d="M553.5 497.4L551.6 497.9L550.5 498.4L549.7 499L549 499.5L548.4 500L547.9 500.5L547.4 501L546.9 501.5L546.5 502L546.1 502.6L545.7 503.1L545.4 503.6L545.1 504.1L544.9 504.6L544.6 505.1L544.4 505.6L544.2 506.2L544.1 506.7L544 507.2L543.9 507.7L543.9 508.2L544 508.7L544.2 509.2L544.3 509.7L544.6 510.3L544.8 510.8L545.1 511.3L545.4 511.8L545.8 512.3L546.1 512.8L546.6 513.3L547 513.9L547.6 514.4L548.1 514.9L548.8 515.4L549.5 515.9L550.4 516.4L551.4 516.9L553.5 517.4L553.5 517.4L555.6 516.9L556.6 516.4L557.5 515.9L558.2 515.4L558.9 514.9L559.4 514.4L560 513.9L560.4 513.3L560.9 512.8L561.2 512.3L561.6 511.8L561.9 511.3L562.2 510.8L562.4 510.3L562.7 509.7L562.8 509.2L563 508.7L563.1 508.2L563.1 507.7L563 507.2L562.9 506.7L562.8 506.2L562.6 505.6L562.4 505.1L562.1 504.6L561.9 504.1L561.6 503.6L561.3 503.1L560.9 502.6L560.5 502L560.1 501.5L559.6 501L559.1 500.5L558.6 500L558 499.5L557.3 499L556.5 498.4L555.4 497.9L553.5 497.4Z" fill="#3aa39b" fill-opacity="1.0"/>
<path d="M555.5 510h0m-0.5 7.5h0m-1.5-19h0m-1 7h0m6 10h0m-13-6h0m2.5 3.5h0m1.5-5h0m-0.5 7.5h0m11.5-9.5h0m-6 2.5h0m-2-4h0m8.5-1h0m-10.5 12.5h0m2.5-16h0m5 7.5h0m-2.5 3h0m0 0h0m-8.5 4h0m2.5 0h0m2-2h0m12.5-6h0m-19.5-4h0m8.5-2.5h0m1.5 17h0m-6-16h0m5 4.5h0m1.5 9h0m-7.5-14.5h0m2.5 8.5h0m4 8h0m1 0.5h0m5-10h0m-9.5-0.5h0m-3 2.5h0m-4-5h0m0.5 7h0m-0.5-1.5h0m17.5-1h0m-19.5-1h0m8-3h0m-3 9h0m6-6.5h0m8.5-6h0m-14.5 12.5h0m16.5-5.5h0m-13 3.5h0m9.5 3.5h0m-4.5-4h0m-6 4.5h0m13-11h0m-10.5 4.5h0m0-10.5h0m7.5 7.5h0m-9 7h0m7-9.5h0m-12 4.5h0m11.5 2.5h0m5.5-7.5h0m-2 12h0m-3-11.5h0m-14 3h0m6 8h0m16-7h0m-14.5-4h0m7 7.5h0m-3.5-7h0m-1-9h0m-6 7.5h0m-0.5 6h0m13 2.5h0m-15-5.5h0m20 5h0m-5.5-1h0m-5-10.5h0m9 11h0m-2 4h0m-9.5-5.5h0m-6 1h0m8 2.5h0m-8 1h0m8-16h0m8 9.5h0m-3-1h0m-10.5 1h0m7 1.5h0m-8.5-2.5h0m4 3h0m3.5 9.5h0m-8-14h0m5 3h0m-6 3.5h0m18.5-3.5h0m-1 1.5h0m-12.5 7.5h0m3 0h0m1.5-20.5h0m1 20.5h0m6.5-9h0m-3 2.5h0m-2.5 7h0m-1.5-3.5h0m4-7.5h0m-6 5.5h0m-3.5-1h0m13.5 1.5h0m-9.5-2.5h0m-1 0.5h0m-5 2h0m9.5-1.5h0m-2-9h0m-5.5 7.5h0m0.5-2h0m-1.5-7h0m6 15h0m7-3.5h0m-3-11h0m-16.5 6.5h0m7-6.5h0m1 12.5h0m2.5-12h0m4 1.5h0m-3-6.5h0m4 7h0m-4 0h0m9 9h0m-16.5 0.5h0m12-11h0m-9 5h0m-7 2.5h0m13-2.5h0m5-0.5h0m-6-10h0m6 5.5h0m-5 6.5h0m-4-9h0m-6 9.5h0m16.5-4h0m-10 10.5h0m-0.5-14.5h0m-6 6h0m13 4.5h0m-6.5 3.5h0m11-4.5h0m-4.5-1h0m4 1.5h0m-18-5.5h0m12.5 7.5h0m6.5-5h0m-6.5 2h0m4.5 3.5h0m-0.5-3h0m-17-3.5h0m11.5-4h0m9.5 6h0m-11-5h0m1 2.5h0m7 3.5h0m-16.5-7h0m10-3.5h0m2.5 6.5h0m-5 9h0m4.5 1h0m-2-0.5h0m-8-11h0m4.5-5.5h0m-5.5 6.5h0m18 6h0m-6.5 3.5h0m-9-7.5h0m12.5 5h0m-4.5 3.5h0m-9-13.5h0m6.5 6h0m8-2h0m-19.5 0h0m11-11h0m-1.5 9.5h0" stroke="#3aa39b" stroke-width="2.6" stroke-linecap="round"/>
<path d="M543.7 507.9H563.3" stroke="#111" stroke-width="1.8"/>
<path d="M604.6 494.6V526.8" stroke="#e8409c" stroke-width="1.1"/>
<path d="M604.6 500.6L602.5 501.1L601.5 501.6L600.6 502.1L599.8 502.6L599.2 503.1L598.6 503.6L598.1 504.1L597.6 504.7L597.2 505.2L596.8 505.7L596.4 506.2L596.1 506.7L595.8 507.2L595.5 507.7L595.3 508.2L595.1 508.8L595 509.3L594.8 509.8L594.8 510.3L594.8 510.8L594.9 511.3L595.1 511.8L595.3 512.3L595.5 512.9L595.7 513.4L596 513.9L596.3 514.4L596.6 514.9L597 515.4L597.3 515.9L597.8 516.4L598.3 516.9L598.8 517.5L599.3 518L600 518.5L600.7 519L601.5 519.5L602.6 520L604.6 520.5L604.6 520.5L606.6 520L607.7 519.5L608.5 519L609.3 518.5L609.9 518L610.5 517.5L611 516.9L611.5 516.4L611.9 515.9L612.3 515.4L612.6 514.9L613 514.4L613.3 513.9L613.5 513.4L613.8 512.9L614 512.3L614.2 511.8L614.3 511.3L614.4 510.8L614.5 510.3L614.4 509.8L614.3 509.3L614.1 508.8L613.9 508.2L613.7 507.7L613.5 507.2L613.2 506.7L612.8 506.2L612.5 505.7L612.1 505.2L611.6 504.7L611.2 504.1L610.6 503.6L610 503.1L609.4 502.6L608.7 502.1L607.8 501.6L606.7 501.1L604.6 500.6Z" fill="#e8409c" fill-opacity="1.0"/>
<path d="M615.5 511h0m-16 3.5h0m7-10.5h0m1 16h0m9-9.5h0m-4-6.5h0m-5.5 12.5h0m1 1h0m-3.5-10h0m11.5 3.5h0m-12 14.5h0m-1-14h0m0.5 3h0m7-2h0m2.5 1h0m-8.5-18.5h0m-5 10.5h0m6 2.5h0m6-4h0m-5 8h0m-6.5-3h0m2.5 0h0m-1-7h0m14.5 8h0m-15.5-1.5h0m-7 0.5h0m13 10h0m-4.5-12.5h0m-5 5.5h0m10.5-6.5h0m4.5-0.5h0m-15.5 9.5h0m19.5-3h0m-10.5-9.5h0m-7 12h0m13.5 0.5h0m-10.5-2h0m1-6h0m-2.5 10.5h0m3.5-7.5h0m0-7.5h0m-7 8h0m11-5h0m-1 8.5h0m4-5h0m-5 1.5h0m5 3h0m-6-9h0m6.5 0.5h0m1 8.5h0m-12-9h0m12 8h0m-14-2h0m3.5 7h0m3 0h0m-3.5-7.5h0m3-9h0m-5.5 8.5h0m4.5 8.5h0m6-2h0m-16.5-4.5h0m13 0.5h0m-10-4h0m14-5h0m-10 1h0m6 3h0m-7.5 6.5h0m11 6h0m0-0.5h0m-7.5-4.5h0m15-4.5h0m-12-10h0m-1.5 7h0m4-2h0m5.5 1.5h0m-11 8h0m-7-2h0m1-3h0m9.5-10h0m-1.5 24.5h0m-1-7h0m6.5-6.5h0m0 0.5h0m-8-5h0m6 7.5h0m-3-12h0m1.5 19.5h0m3.5-6h0m-10.5 2.5h0m5-4.5h0m4 4.5h0m-11.5-9.5h0m4 4.5h0m13.5-2.5h0m0.5-0.5h0m-8 0h0m2 5.5h0m-9 2h0m12-2.5h0m-4-10h0m-0.5 13h0m3.5-2.5h0m-7 4.5h0m9-12h0m-5-5.5h0m2.5 8h0m-4-5h0m3.5-1.5h0m4.5 3h0m-13.5 12.5h0m0-7.5h0m8.5 0.5h0m2 3h0m-14-4.5h0m-2.5 1h0m4-5h0m5.5-4h0m5 11.5h0m2.5-3h0m-2.5-2.5h0m3-2h0m-8 0h0m6 7h0m5-5h0m-7.5 10.5h0m-5.5-17h0m6.5 9h0m-9.5 7h0m12-1.5h0m-9.5-10h0m0.5 4h0m-6-5h0m9.5 5h0m5 2.5h0m-6-3h0m0.5 11.5h0m-1-7h0m2.5 0h0m-7.5-8h0m3-3h0m3.5 2h0m-8 7h0m4.5-3.5h0m1.5 7.5h0m0-4h0m2 8h0m0-1.5h0m6.5-1.5h0m0.5-0.5h0m-15-8h0m8.5 5.5h0m0.5-3.5h0m-5.5 1h0m-1-9h0m9-0.5h0m-4 9.5h0m-6.5 5.5h0m9.5-9h0m3.5 3h0m-1-3.5h0m-12.5-1h0m2-0.5h0m4.5 12.5h0m5-11h0m3.5 0.5h0m-8.5 0.5h0m-10 0h0m11-6.5h0m10 10.5h0m-3.5-4h0m-8.5 7h0m3-1.5h0m-0.5-15h0m-5 7h0m-0.5 8h0m-0.5-4.5h0m-5.5-1h0m15.5 2h0" stroke="#e8409c" stroke-width="2.6" stroke-linecap="round"/>
<path d="M594.8 510.3H614.4" stroke="#111" stroke-width="1.8"/>
<path d="M630.4 485.8V524.3" stroke="#3aa39b" stroke-width="1.1"/>
<path d="M630.4 493.5L628.5 494.1L627.5 494.7L626.7 495.4L626 496L625.4 496.6L624.8 497.2L624.3 497.8L623.8 498.4L623.4 499L623 499.6L622.7 500.2L622.4 500.9L622.1 501.5L621.8 502.1L621.6 502.7L621.4 503.3L621.2 503.9L621 504.5L620.9 505.1L620.8 505.8L620.8 506.4L620.9 507L621.1 507.6L621.2 508.2L621.4 508.8L621.7 509.4L622 510L622.3 510.7L622.6 511.3L623 511.9L623.5 512.5L623.9 513.1L624.5 513.7L625 514.3L625.7 514.9L626.4 515.5L627.3 516.2L628.4 516.8L630.4 517.4L630.4 517.4L632.5 516.8L633.6 516.2L634.4 515.5L635.2 514.9L635.8 514.3L636.4 513.7L636.9 513.1L637.4 512.5L637.8 511.9L638.2 511.3L638.5 510.7L638.9 510L639.1 509.4L639.4 508.8L639.6 508.2L639.8 507.6L639.9 507L640 506.4L640 505.8L639.9 505.1L639.8 504.5L639.7 503.9L639.5 503.3L639.3 502.7L639 502.1L638.8 501.5L638.5 500.9L638.1 500.2L637.8 499.6L637.4 499L637 498.4L636.5 497.8L636 497.2L635.5 496.6L634.9 496L634.2 495.4L633.4 494.7L632.3 494.1L630.4 493.5Z" fill="#3aa39b" fill-opacity="1.0"/>
<path d="M626 501h0m-6.5 2.5h0m17.5-4.5h0m-7-8h0m-10.5 11.5h0m5.5 8.5h0m8.5 5h0m5.5-17h0m-4 6h0m2 2h0m-7-9.5h0m6.5 10.5h0m-6.5-10.5h0m5-1h0m-0.5 16.5h0m2-5.5h0m1-7h0m-5.5-5h0m-10 12.5h0m16.5-6.5h0m-10.5 6h0m3.5-3h0m-2 8.5h0m-7.5-0.5h0m-2.5-4h0m15.5-7h0m-10 2h0m2-5.5h0m12.5 2h0m-8 16h0m-0.5-13h0m-2.5 12h0m-2.5-3h0m6 0h0m9-7.5h0m-4-1.5h0m-5 10h0m4-11h0m-12.5-0.5h0m10-6h0m-3.5-3h0m-7.5 12.5h0m2.5 2.5h0m4-5.5h0m1 0h0m-1.5 14.5h0m12.5-13.5h0m-6.5 5h0m-5.5 9h0m3.5-12h0m-3.5 1.5h0m12.5-1.5h0m-13.5 5h0m5-6h0m-2-18h0m-7 11h0m16.5 8.5h0m-6.5 5h0m1 2h0m-12.5-10.5h0m16.5 9.5h0m2-5.5h0m-7.5 9h0m-6-7.5h0m11.5-1h0m-11-2.5h0m7.5-1.5h0m0.5 12h0m-11.5-12.5h0m4 4h0m6.5-0.5h0m-3.5-1h0m-2 8h0m3.5-12.5h0m-2.5-0.5h0m3.5-1h0m-5-0.5h0m-2.5 8h0m-0.5-1h0m14-3.5h0m-4-3h0m-2.5 3.5h0m-3-7.5h0m2.5 19h0m-10-7.5h0m-4 1h0m16.5-2h0m6-0.5h0m-12.5 12h0m11.5-15.5h0m-10.5-7h0m-1.5 9.5h0m9.5 8h0m-6-13h0m-5 16h0m-3-11h0m13-3h0m-4 0.5h0m-7.5-5h0m1.5 12.5h0m3.5 11.5h0m6-23.5h0m-7 8h0m-2.5 6h0m5.5 5h0m2.5-8.5h0m-13-6h0m1.5 1.5h0m17 4.5h0m-19.5-6h0m9.5 14h0m2.5-20.5h0m5 12.5h0m-6-3.5h0m1-2h0m6 4h0m-19-2.5h0m7-1.5h0m3 17h0m6.5-11.5h0m-15 4h0m15 2.5h0m0-9.5h0m-9.5 4h0m-0.5 7h0m15.5-9.5h0m-3 3.5h0m-4.5-3h0m6 0h0m-11 7h0m2.5-20.5h0m-10 6.5h0m17 12h0m-9-4.5h0m-3.5 1h0m12-2h0m-5.5-6h0m8 7.5h0m-13 5h0m2.5 5.5h0m-3.5-21h0m-3 13h0m7-13h0m0-8.5h0m-1.5 8.5h0m-6 6.5h0m7.5 9.5h0m-3.5-15h0m-1 18.5h0m10-2.5h0m-10-4.5h0m-6-0.5h0m5-10h0m3 6h0m-2-3.5h0m-3.5 11h0m7-12.5h0m3 5.5h0m-2.5-3h0m2 3.5h0m-8-5.5h0m-1 13.5h0m11.5-13.5h0m-15.5 5.5h0m9-2.5h0m8 0.5h0m2.5-3h0m-1.5 0h0m-13.5-3h0m-0.5 0h0m8.5 11.5h0m-7.5-5h0m-0.5-6.5h0m6 14.5h0m3 1h0m6.5-11h0m-1.5-2h0m-14 12.5h0" stroke="#3aa39b" stroke-width="2.6" stroke-linecap="round"/>
<path d="M620.6 506.1H640.2" stroke="#111" stroke-width="1.8"/>
</g>
<g fill="none">
<path d="M92 360.2V533.2M681.5 360.2V533.2" stroke="#dcdcdc" stroke-width="1.6"/>
<path d="M91.3 360.2H682.2" stroke="#d2d2d2" stroke-width="1.4"/>
<path d="M91.3 533.2H682.2" stroke="#bcbcbc" stroke-width="1.4"/>
<path d="M92 380.7h8M681.5 380.7h-8M92 445.9h8M681.5 445.9h-8M92 511.2h8M681.5 511.2h-8M156 360.2v8M156 533.2v-8M232.9 360.2v8M232.9 533.2v-8M309.8 360.2v8M309.8 533.2v-8M386.8 360.2v8M386.8 533.2v-8M463.7 360.2v8M463.7 533.2v-8M540.6 360.2v8M540.6 533.2v-8M617.5 360.2v8M617.5 533.2v-8" stroke="#b8b8b8" stroke-width="1.1"/>
</g>
<text x="74.3" y="394.1" font-size="18" text-anchor="end">0.6</text>
<text x="74.3" y="458.5" font-size="18" text-anchor="end">0.3</text>
<text x="77.8" y="519.4" font-size="18" text-anchor="end">0</text>
<text x="320.3" y="407.2" font-size="18" text-anchor="start">Global</text>
<circle cx="496" cy="67" r="9" fill="#e84aa0"/>
<circle cx="496" cy="100" r="9" fill="#42a8a0"/>
<text x="515.5" y="73.6" font-size="18" text-anchor="start">AC to PC</text>
<text x="515" y="106.4" font-size="18" text-anchor="start">PC to AC</text>
<text x="153" y="557.3" font-size="18" text-anchor="middle">1-2</text>
<text x="231.1" y="557.3" font-size="18" text-anchor="middle">2-4</text>
<text x="309.4" y="557.3" font-size="18" text-anchor="middle">4-8</text>
<text x="386.5" y="557.3" font-size="18" text-anchor="middle">8-16</text>
<text x="463.1" y="557.3" font-size="18" text-anchor="middle">16-32</text>
<text x="541.2" y="557.3" font-size="18" text-anchor="middle">32-64</text>
<text x="619.2" y="557.3" font-size="18" text-anchor="middle">64-128</text>
<text x="372.5" y="585.1" font-size="18" text-anchor="middle">Frequency (Hz)</text>
<text x="35.5" y="294.5" font-size="18" text-anchor="middle" transform="rotate(-90 35.5 294.5)">Transfer Entropy (bits)</text>
<text x="0.8" y="20.3" font-size="27" text-anchor="start">A</text>
<text x="1.3" y="571.5" font-size="27" text-anchor="start">B</text>
<text x="3" y="816" font-size="27.5" text-anchor="start">C</text>
<clipPath id="cb"><rect x="92.5" y="608.5" width="590.0" height="172.5"/></clipPath>
<g clip-path="url(#cb)">
<path d="M152.7 634.5V800" stroke="#78b6f4" stroke-width="1.1"/>
<path d="M152.7 652L151.8 654.3L151.3 656.7L150.9 659L150.5 661.3L150.2 663.7L149.9 666L149.6 668.3L149.4 670.7L149.1 673L148.9 675.3L148.7 677.7L148.5 680L148.4 682.3L148.2 684.7L148.1 687L148 689.3L147.9 691.7L147.8 694L147.8 696.3L147.8 698.7L147.8 701L147.9 703.3L148 705.7L148.1 708L148.3 710.3L148.4 712.7L148.6 715L148.8 717.3L149 719.7L149.2 722L149.4 724.3L149.7 726.7L149.9 729L150.2 731.3L150.5 733.7L150.9 736L151.3 738.3L151.8 740.7L152.7 743L152.7 743L153.6 740.7L154.1 738.3L154.5 736L154.9 733.7L155.2 731.3L155.5 729L155.7 726.7L156 724.3L156.2 722L156.4 719.7L156.6 717.3L156.8 715L157 712.7L157.1 710.3L157.3 708L157.4 705.7L157.5 703.3L157.6 701L157.6 698.7L157.6 696.3L157.6 694L157.5 691.7L157.4 689.3L157.3 687L157.2 684.7L157 682.3L156.9 680L156.7 677.7L156.5 675.3L156.3 673L156 670.7L155.8 668.3L155.5 666L155.2 663.7L154.9 661.3L154.5 659L154.1 656.7L153.6 654.3L152.7 652Z" fill="#78b6f4" fill-opacity="0.45"/>
<path d="M148.5 676h0m11.5 9.5h0m-10 12h0m-5 5.5h0m9-11.5h0m-8.5 9.5h0m4 18.5h0m2-2h0m-4-51h0m11 45.5h0m-13 3h0m6-49h0m0 19h0m-2 46.5h0m-4-35h0m7.5 39.5h0m-3.5-35h0m5-41.5h0m-0.5 96.5h0m6-69.5h0m-8.5-32.5h0m-5 17h0m5 54h0m5.5-50h0m-3.5-2.5h0m1.5 15.5h0m2 41h0m-11.5-38.5h0m7.5 76h0m-8.5-63h0m9-55.5h0m0 6h0m4 14.5h0m-4 43h0m-2.5 10h0m6.5 5.5h0m-3-55.5h0m-1 37h0m6 9h0m-2.5 6h0m-10.5-26.5h0m4.5-25.5h0m1.5 54h0m4-44h0m-2.5 0.5h0m-5.5 1h0m2.5 40.5h0m2.5-67h0m-5.5 73.5h0m12-32h0m-7.5-11.5h0m7-10.5h0m-5.5-20h0m2 24.5h0m5 13.5h0m-3.5 23h0m-1.5-10h0m-0.5-16.5h0m-8.5 28h0m4.5-69.5h0m6.5 68h0m-4 1.5h0m3-42h0m-1.5 50h0m0-53.5h0m-7-6.5h0m11 35.5h0m-9 21h0m7-10.5h0m-1-24.5h0m0-4.5h0m-1.5-23.5h0m-6 4h0m-2.5 26.5h0m1 11h0m3-34.5h0m1 78h0m3-85h0m-0.5 21.5h0m-1 60.5h0m0 37h0m-1.5-93.5h0m5 35.5h0m-3-28.5h0m0.5-24.5h0m-2.5 124h0m-1.5-68.5h0m10.5-22.5h0m-9-49h0m-3 52h0m7.5 29h0m-4-58h0m-0.5 17h0m-6 14.5h0m-0.5-22.5h0m16 15h0m-8.5-27h0m3.5 11h0m-4 54h0m2.5-24.5h0m-8 7h0m2 10.5h0m7.5 2.5h0m-1.5-40.5h0m0 33h0m3.5-55h0m-6-22h0m-2.5 86h0m2-78.5h0m0 78.5h0m0.5-50h0m3-11.5h0m3 3.5h0m-4 19.5h0m3 14.5h0m-1-45.5h0m-5.5 48h0m2.5-4h0m-2 27h0m9-36h0m-0.5-17.5h0m-7.5 16h0m0.5-12.5h0m-2 47h0m-0.5-47.5h0m1 15.5h0m-3.5 9h0m6.5-41h0m1 65h0m-1-37.5h0m3.5 30h0m-4-65.5h0m-5.5 6.5h0m0.5 60.5h0m0-61.5h0m3.5 25h0m6.5 29h0m-7-3.5h0m-6-10h0m8-16.5h0m4.5 5h0m-7-3.5h0m10-2.5h0m-1.5 16h0m-6.5-43.5h0m3.5 27.5h0m1 4h0m-0.5-8.5h0m3 26.5h0m-6.5 4.5h0m-0.5-12.5h0m-1 67h0m-2-49.5h0m5 13.5h0m-0.5-0.5h0m2.5-13h0m-10-43.5h0m-2.5 30.5h0m6.5 32h0m3.5-41h0m-2.5 27.5h0m-2-22h0m1-0.5h0m-0.5 23h0m9-42.5h0m-1 31.5h0m0-36h0m-7 54h0m0.5-83.5h0m-1 83.5h0m3 3h0m-5.5-49.5h0m6.5-27h0m4.5 17.5h0m-1 29h0m-6-19h0m5.5-4h0m-12.5 15.5h0m8.5-9.5h0m-6-5h0m5.5 36h0m1 0.5h0m0.5 6.5h0m-0.5-44h0m-8-10h0m13 7h0m-6 57h0m-4-20h0m5-22.5h0m-3-1.5h0m-3.5 28.5h0m6.5-10.5h0m0.5-26h0m-4-13h0m10 30.5h0m-14-18h0m13-0.5h0m-10 6h0m1.5 47.5h0m0.5 33h0m-2-36h0m3.5-28.5h0m-1 18h0m7-44.5h0m-13 21h0m-2-15h0m10 51h0m-1.5-11.5h0m-4 8.5h0m4.5 4.5h0m-6-37.5h0m4-26h0m2-19h0m-5.5 56.5h0m5-43h0m0 41.5h0m3-44h0m-4 20.5h0m4.5 10h0m3.5-12h0m-5.5-3h0m-1-8h0m-2-14.5h0m-2 39.5h0m5.5 25.5h0m-3.5-39h0" stroke="#78b6f4" stroke-width="2.9" stroke-linecap="round"/>
<path d="M146.2 696.9H159.2" stroke="#222" stroke-width="1.1"/>
<path d="M168 623.6V800" stroke="#74a63a" stroke-width="1.1"/>
<path d="M168 660L167.1 662.5L166.5 664.9L166.1 667.4L165.7 669.8L165.4 672.3L165.1 674.8L164.8 677.2L164.5 679.7L164.3 682.2L164.1 684.6L163.9 687.1L163.7 689.5L163.5 692L163.4 694.5L163.3 696.9L163.2 699.4L163.1 701.8L163.1 704.3L163.1 706.8L163.2 709.2L163.2 711.7L163.3 714.2L163.4 716.6L163.6 719.1L163.7 721.5L163.9 724L164 726.5L164.2 728.9L164.4 731.4L164.6 733.8L164.8 736.3L165.1 738.8L165.3 741.2L165.6 743.7L165.9 746.2L166.3 748.6L166.7 751.1L167.2 753.5L168 756L168 756L168.8 753.5L169.3 751.1L169.7 748.6L170.1 746.2L170.4 743.7L170.7 741.2L170.9 738.8L171.2 736.3L171.4 733.8L171.6 731.4L171.8 728.9L172 726.5L172.1 724L172.3 721.5L172.4 719.1L172.6 716.6L172.7 714.2L172.8 711.7L172.8 709.2L172.9 706.8L172.9 704.3L172.9 701.8L172.8 699.4L172.7 696.9L172.6 694.5L172.5 692L172.3 689.5L172.1 687.1L171.9 684.6L171.7 682.2L171.5 679.7L171.2 677.2L170.9 674.8L170.6 672.3L170.3 669.8L169.9 667.4L169.5 664.9L168.9 662.5L168 660Z" fill="#74a63a" fill-opacity="0.45"/>
<path d="M159.5 708h0m13.5 27.5h0m-0.5 5.5h0m-9-58.5h0m5 19.5h0m4-18.5h0m-1-11h0m3.5 27h0m-13-4.5h0m4.5-14h0m-0.5 46.5h0m-5.5-17h0m9 34.5h0m-4-7.5h0m-3.5-46.5h0m5 28h0m6.5-33.5h0m3 24h0m-13.5-18.5h0m3-16.5h0m-4 47h0m13.5-19h0m-9-9h0m7 29.5h0m-4-40h0m-8.5 8h0m4.5-12.5h0m-1.5-4.5h0m8.5 18h0m-4.5-15.5h0m-1 8h0m10 24h0m-13 3.5h0m9.5-16h0m-9-8h0m6.5-20.5h0m-5 13h0m5 44h0m-6.5 7.5h0m3-63h0m-2 50h0m5-30.5h0m-2 4h0m4-8h0m-6 47h0m6.5-50.5h0m-1.5 48.5h0m5-29.5h0m-10 20.5h0m2-27h0m2.5 10h0m-0.5 17h0m-7.5-16h0m-2.5-9h0m9 47h0m-0.5-64h0m1.5-13h0m-7.5 46h0m13.5-1.5h0m-5 27h0m-6.5-23h0m-4.5-13.5h0m0 20h0m7-10h0m7.5-17h0m-6.5 33h0m4.5-4h0m-3.5-60h0m-1 39h0m1-61.5h0m3 101h0m0.5-55h0m-5 19h0m1.5-18h0m-7 6.5h0m-1.5 27h0m3.5 22.5h0m4.5-61.5h0m5.5 48.5h0m-12.5 4.5h0m8 5h0m3-13.5h0m-2-6.5h0m-4.5 14.5h0m3.5-17.5h0m-0.5 25h0m0-78h0m-6 73.5h0m7.5-20.5h0m-5.5-25h0m8.5 12.5h0m-3.5 2.5h0m1 4.5h0m1-30h0m-3 36h0m2-32.5h0m-5 32h0m-3-32h0m8.5-8h0m-3.5 29h0m-6-24.5h0m5.5 116h0m1-49h0m4.5-23.5h0m0.5-17h0m-3.5-36.5h0m-4.5 25h0m1.5 71.5h0m-2-45h0m3.5-43h0m4 10h0m-11.5 35h0m3.5-19h0m3.5-9.5h0m5 40.5h0m-10.5 0.5h0m-0.5-44h0m3-17.5h0m4 67h0m-2.5-47.5h0m-1 0h0m-4.5 23h0m6.5 7.5h0m-3-34.5h0m9-9.5h0m-8.5-0.5h0m-4.5 37.5h0m2 2.5h0m-0.5-33h0m3-17.5h0m-2 61h0m4 19.5h0m-4.5-17h0m6-52h0m-1 63h0m-5.5-37h0m8-19h0m1-12h0m1 34.5h0m-4.5 3h0m1-12h0m3 34h0m-5 2h0m9.5-29h0m-9.5 47.5h0m6-76.5h0m-6.5 4.5h0m7.5 28.5h0m-2-34h0m-4 55h0m4-6h0m-7-51.5h0m11.5 27.5h0m-4.5 26h0m-3-2.5h0m-2-96.5h0m2.5 132.5h0m-4.5-80.5h0m3-17.5h0m-5 32h0m2 2h0m2 98h0m-1-75.5h0m-2.5-9h0m6.5-16h0m-7-0.5h0m4 1h0m0.5-8h0m-5.5 26.5h0m7.5-53h0m2.5 31h0m-7.5 3.5h0m6.5 14h0m-1 4.5h0m-7 12h0m6 44.5h0m2.5-84.5h0m-9.5 44h0m6.5-78h0m5 67.5h0m-5-35.5h0m-1 72.5h0m-6.5-74h0m15 9.5h0m-7.5 54h0m2.5-29.5h0m-9-41.5h0m6 49.5h0m0.5-40.5h0m-3.5 0.5h0m5.5 53h0m-0.5-22h0m-1-9h0m1.5-12h0m-3-49h0m-5.5 36.5h0m3-10.5h0m6.5 35.5h0m-3.5-40.5h0m1 77h0m3-18h0m-9-31.5h0m3 7.5h0m4-27.5h0m1 30.5h0m-3 6.5h0m-2.5 0.5h0m6-7.5h0m-2.5-14.5h0m-1-13.5h0m3 47h0m0.5-38.5h0m-5.5 45.5h0m1.5 2h0m1 35.5h0m-1-45h0m7.5-8h0m-5.5 29h0m2-54.5h0m-1 17h0m5.5 5.5h0m-10 13.5h0m-3.5-4.5h0m-2-23.5h0m-1 6.5h0m9.5 14.5h0m5-16.5h0m-1.5-26h0m-4 8.5h0m3 37.5h0m-3-8.5h0m-3-33h0m6 7.5h0m-3.5 5.5h0m1.5 41h0m2.5-56.5h0m-2.5 50h0m-6.5-34h0" stroke="#74a63a" stroke-width="2.9" stroke-linecap="round"/>
<path d="M161.5 704.2H174.5" stroke="#222" stroke-width="1.1"/>
<path d="M183.3 625.9V800" stroke="#e2170f" stroke-width="1.1"/>
<path d="M183.3 652L182.5 654L182 655.9L181.7 657.9L181.3 659.9L181 661.9L180.8 663.8L180.5 665.8L180.3 667.8L180.1 669.8L179.9 671.7L179.7 673.7L179.5 675.7L179.3 677.7L179.2 679.6L179 681.6L178.9 683.6L178.8 685.6L178.7 687.5L178.6 689.5L178.5 691.5L178.4 693.5L178.4 695.4L178.4 697.4L178.4 699.4L178.5 701.4L178.6 703.3L178.8 705.3L179 707.3L179.2 709.3L179.4 711.2L179.6 713.2L179.9 715.2L180.2 717.2L180.5 719.1L180.9 721.1L181.3 723.1L181.7 725.1L182.3 727L183.3 729L183.3 729L184.3 727L184.9 725.1L185.3 723.1L185.7 721.1L186.1 719.1L186.4 717.2L186.7 715.2L187 713.2L187.2 711.2L187.4 709.3L187.6 707.3L187.8 705.3L188 703.3L188.1 701.4L188.2 699.4L188.2 697.4L188.2 695.4L188.2 693.5L188.1 691.5L188 689.5L187.9 687.5L187.8 685.6L187.7 683.6L187.6 681.6L187.4 679.6L187.3 677.7L187.1 675.7L186.9 673.7L186.7 671.7L186.5 669.8L186.3 667.8L186.1 665.8L185.8 663.8L185.6 661.9L185.3 659.9L184.9 657.9L184.6 655.9L184.1 654L183.3 652Z" fill="#e2170f" fill-opacity="0.45"/>
<path d="M182.5 698.5h0m2-5h0m6.5 12.5h0m-8.5-48h0m7.5 47h0m-6.5 6.5h0m-8.5-21.5h0m0 7h0m8-53h0m3.5 31.5h0m0.5 6.5h0m-2 31h0m-4 6.5h0m2-22h0m2-7h0m4.5 1h0m-3.5 6h0m-8 0.5h0m4.5-28.5h0m3 41h0m3.5-31h0m-11 15.5h0m7-15h0m-1.5 31.5h0m-3 1h0m2.5-25h0m-7 4h0m8-39.5h0m-2 75h0m5-48h0m-2 16h0m-4.5 11.5h0m7.5-14h0m-6.5 13h0m2.5 20h0m-5-35h0m4.5 37.5h0m-2.5-10.5h0m2-15h0m-2-9.5h0m5 11h0m-4.5-15h0m-1.5 11h0m8.5 13h0m-12-28.5h0m14.5 9h0m-6.5-4.5h0m-4-23h0m0.5-2h0m8.5 39h0m-5-1h0m-5-15.5h0m1.5 10h0m1.5 28.5h0m-1-57h0m-3.5 25.5h0m6.5 103h0m2.5-110h0m0.5 2.5h0m-11 12h0m7-51h0m5.5 66h0m0-11.5h0m-9.5 12.5h0m8-30h0m4 19h0m-10-4.5h0m2-13h0m-0.5 42h0m-0.5-64h0m-0.5 30h0m3.5-41h0m-5 19.5h0m3.5-11h0m4 23.5h0m1-2h0m-10-14h0m3.5-12.5h0m1.5 11h0m6.5 14.5h0m-0.5 10.5h0m-8.5-2.5h0m2.5 104h0m-2.5-97.5h0m3-22h0m4.5 15h0m1 13h0m-6-47.5h0m-1.5 70h0m8-39h0m-14.5-8.5h0m12-16h0m-1 48.5h0m-4 10h0m-0.5 31h0m2.5-98.5h0m-1.5 61.5h0m0-35.5h0m3-14h0m3.5 30.5h0m-13 6h0m1-20h0m11.5 28h0m-5-64.5h0m4.5 60h0m-6-5.5h0m5 12h0m1.5-9h0m-7.5 13.5h0m3.5-5h0m-10.5-18h0m7-27.5h0m1 6.5h0m-0.5 21.5h0m-1 20.5h0m5 4h0m3.5-28h0m-7-37h0m2.5 31h0m3 18.5h0m-6.5-46h0m3.5 45.5h0m2.5 5h0m-5-41h0m-0.5 23.5h0m-3-15.5h0m4 50.5h0m3-56h0m-1.5 29h0m-5.5 0.5h0m6.5-41h0m-3.5 16.5h0m-6 5.5h0m8.5 21.5h0m-2-40.5h0m0 25.5h0m7-6.5h0m-10 0.5h0m8.5 27h0m3.5-11h0m-9.5-34h0m2 72h0m2-35.5h0m-1-13.5h0m5-4.5h0m-8.5 114.5h0m2-136h0m-5 2h0m12.5 30h0m-12.5 17.5h0m5.5-3.5h0m-9-9.5h0m3.5-26.5h0m5.5 24h0m-1 29.5h0m-3-33.5h0m2-30h0m2.5 51.5h0m0.5-39.5h0m4.5 21.5h0m-7 24.5h0m2.5-60.5h0m-8.5 35.5h0m1.5-24h0m8.5 42.5h0m-7-14h0m-2-10.5h0m8 16.5h0m2.5-27h0m1 28h0m0 9.5h0m-8.5-21.5h0m-1 5.5h0m5-36h0m-2.5 20h0m-5.5-2h0m12 16.5h0m-6.5 42h0m-2-67h0m-3 25.5h0m1.5-6h0m-0.5 28h0m6 35h0m2-61h0m-6-23h0m3 25.5h0m-3 5h0m0-19.5h0m6.5 25h0m-6 11.5h0m1.5 9h0m0-27.5h0m3.5 11h0" stroke="#e2170f" stroke-width="2.9" stroke-linecap="round"/>
<path d="M176.8 697.1H189.8" stroke="#222" stroke-width="1.1"/>
<path d="M228.5 689.4V800" stroke="#78b6f4" stroke-width="1.1"/>
<path d="M228.5 701L227.5 703L227 704.9L226.5 706.9L226.1 708.9L225.8 710.9L225.5 712.8L225.2 714.8L224.9 716.8L224.7 718.8L224.5 720.7L224.3 722.7L224.1 724.7L224 726.7L223.8 728.6L223.7 730.6L223.6 732.6L223.6 734.6L223.6 736.5L223.6 738.5L223.7 740.5L223.8 742.5L223.9 744.4L224 746.4L224.1 748.4L224.3 750.4L224.4 752.3L224.6 754.3L224.8 756.3L225 758.3L225.2 760.2L225.4 762.2L225.6 764.2L225.9 766.2L226.2 768.1L226.5 770.1L226.8 772.1L227.2 774.1L227.7 776L228.5 778L228.5 778L229.3 776L229.8 774.1L230.2 772.1L230.5 770.1L230.8 768.1L231.1 766.2L231.4 764.2L231.6 762.2L231.8 760.2L232 758.3L232.2 756.3L232.4 754.3L232.6 752.3L232.7 750.4L232.9 748.4L233 746.4L233.1 744.4L233.2 742.5L233.3 740.5L233.4 738.5L233.4 736.5L233.4 734.6L233.4 732.6L233.3 730.6L233.2 728.6L233 726.7L232.9 724.7L232.7 722.7L232.5 720.7L232.3 718.8L232.1 716.8L231.8 714.8L231.5 712.8L231.2 710.9L230.9 708.9L230.5 706.9L230 704.9L229.5 703L228.5 701Z" fill="#78b6f4" fill-opacity="0.45"/>
<path d="M224.5 707.5h0m8 17.5h0m-5-19h0m-3 40h0m10.5 5h0m-7-0.5h0m7-24.5h0m-2 33h0m-12-33h0m9 56.5h0m-5-31h0m6-3h0m-6.5 0h0m-0.5-14h0m-4 4h0m6 34h0m-1.5-56.5h0m-1.5 34h0m1.5-25.5h0m0 42.5h0m1-10h0m8.5-18.5h0m-7.5 30.5h0m3-26.5h0m0-14h0m1 39.5h0m-5-8h0m3 2h0m-5.5-5.5h0m0-9h0m11.5 10h0m-10.5-6h0m2.5 15.5h0m1.5-15.5h0m-1.5-12h0m5 20h0m-9.5-37h0m12 36h0m-6-37h0m1.5 26.5h0m4.5-3h0m-5 45.5h0m-3-58.5h0m0 38h0m0-27.5h0m-0.5-20h0m5.5 24.5h0m-2-18h0m3.5 21h0m1 5h0m-10-25.5h0m8 37.5h0m0.5-16.5h0m3-17.5h0m-1.5 15.5h0m-7.5-1.5h0m-0.5-38.5h0m2.5 34h0m-3-16h0m1.5 25h0m-3-21.5h0m10-1.5h0m-5.5 28h0m6-27.5h0m-2-17h0m3 12.5h0m-7-23.5h0m6.5 59h0m-7.5-50.5h0m-3 18h0m3 44h0m-4.5-56h0m3 22h0m-4 17h0m10.5-18h0m-4-39.5h0m4.5 67.5h0m2-46h0m-11 22.5h0m-2-3.5h0m7.5-40.5h0m3 11.5h0m-5 21.5h0m-3.5 28h0m-1-42h0m9.5 51.5h0m-11-42.5h0m12.5-11.5h0m-6 66h0m2.5-20.5h0m-3.5-46.5h0m6.5 29h0m-0.5-12.5h0m-2 23.5h0m0.5-32.5h0m-1.5 30.5h0m3.5-29.5h0m-6 16.5h0m5.5-9h0m-11 4.5h0m9.5-24.5h0m-9.5 13.5h0m1 1h0m4 48h0m2.5-66h0m1 64h0m-1-73.5h0m1 18.5h0m0 60h0m-2-49h0m-3.5 37.5h0m6 5h0m-3.5-13h0m2.5-24h0m-6.5 14h0m6-30.5h0m-5 4.5h0m3.5 16.5h0m-3 16.5h0m1.5-42h0m8.5 23.5h0m-11 4.5h0m3.5-40h0m4 30.5h0m-2.5-22.5h0m0 8h0m-6.5 39h0m9.5-25.5h0m3.5 4.5h0m-2.5-13h0m-3.5 24.5h0m1-3.5h0m-2.5-39h0m-2.5 69h0m5 1h0m2-20.5h0m-6 10h0m5 3h0m0.5-35.5h0m-2.5 47.5h0m3.5-44.5h0m-13 6h0m4 2h0m4.5 35h0m1 10h0m1-46h0m1 30h0m-4.5-22h0m4.5 1h0m-5 23.5h0m6.5-56h0m0 42.5h0m-5 4h0m3.5-27.5h0m-4-17.5h0m-3 41h0m3.5-39h0m-1.5 31.5h0m4 7h0m3.5-24h0m3-1.5h0m-0.5 18h0m-13 6.5h0m10.5-24h0m-12 5h0m11.5 25.5h0m3-32.5h0m-5.5-4h0m-6-3.5h0m3 4.5h0m4.5 29h0m-3.5-20.5h0m-3-18h0m4.5 30h0m-1.5 26h0m0-47h0m-0.5 37.5h0m0.5 18.5h0m-7-46h0m9 14.5h0m-8.5-13.5h0m2-20h0m10.5 30h0m-7.5-45.5h0m-1.5 24.5h0m-1.5 29h0m3-16h0m2-35.5h0m-1 29.5h0m-1 36h0m-1.5-56h0m3.5 15.5h0m3 20.5h0" stroke="#78b6f4" stroke-width="2.9" stroke-linecap="round"/>
<path d="M222 735H235" stroke="#222" stroke-width="1.1"/>
<path d="M243.8 691.8V800" stroke="#74a63a" stroke-width="1.1"/>
<path d="M243.8 708L242.9 709.9L242.3 711.8L241.9 713.8L241.5 715.7L241.1 717.6L240.8 719.5L240.6 721.5L240.3 723.4L240.1 725.3L239.8 727.2L239.6 729.2L239.5 731.1L239.3 733L239.2 734.9L239 736.8L238.9 738.8L238.9 740.7L238.9 742.6L238.9 744.5L239 746.5L239.1 748.4L239.2 750.3L239.3 752.2L239.4 754.2L239.5 756.1L239.7 758L239.9 759.9L240 761.8L240.2 763.8L240.4 765.7L240.7 767.6L240.9 769.5L241.2 771.5L241.4 773.4L241.7 775.3L242.1 777.2L242.5 779.2L243 781.1L243.8 783L243.8 783L244.6 781.1L245.1 779.2L245.5 777.2L245.9 775.3L246.2 773.4L246.4 771.5L246.7 769.5L246.9 767.6L247.2 765.7L247.4 763.8L247.6 761.8L247.7 759.9L247.9 758L248.1 756.1L248.2 754.2L248.3 752.2L248.4 750.3L248.5 748.4L248.6 746.5L248.7 744.5L248.7 742.6L248.7 740.7L248.7 738.8L248.6 736.8L248.4 734.9L248.3 733L248.1 731.1L248 729.2L247.8 727.2L247.5 725.3L247.3 723.4L247 721.5L246.8 719.5L246.5 717.6L246.1 715.7L245.7 713.8L245.3 711.8L244.7 709.9L243.8 708Z" fill="#74a63a" fill-opacity="0.45"/>
<path d="M250 759.5h0m-5 20h0m-4.5-12h0m0-33h0m-1 23h0m7-23.5h0m2.5 0.5h0m-11 5.5h0m7-4.5h0m-4.5 6h0m3.5 31h0m-1-54h0m4.5 44h0m-8.5-43h0m12 7.5h0m-7 17h0m1 13h0m-4-8h0m4.5-25h0m-5.5 47h0m2-57.5h0m-4.5 46h0m5-25.5h0m-7 18h0m6-19.5h0m8 34.5h0m-3-41h0m0.5 26.5h0m2-27h0m-2-0.5h0m1 32.5h0m-10.5-17.5h0m10.5 8.5h0m-3 11h0m-3-32.5h0m-4 39h0m3.5-37.5h0m5.5-14.5h0m-4.5 48.5h0m4.5 1.5h0m-9.5-33.5h0m5.5 59h0m-4.5-38.5h0m9-22h0m-8.5-10h0m9-1.5h0m-7 46h0m9-8h0m-9.5-33.5h0m4 8.5h0m3.5-3h0m-3 18.5h0m-3.5 30.5h0m3-73.5h0m7 29h0m-12.5-13h0m7 21.5h0m-3.5-34h0m0-3h0m4 32.5h0m-2.5 43h0m-1-32.5h0m4.5 12h0m-5.5 3.5h0m-5-22h0m10-4.5h0m-8.5 12.5h0m1.5 9.5h0m10-16.5h0m-9 6h0m-3.5 8.5h0m0-23h0m4.5 33h0m3.5-36h0m-4 36h0m5-45h0m-2.5 56.5h0m-3.5-31h0m-0.5-0.5h0m8.5 20h0m-7 13.5h0m10-42.5h0m-11-22.5h0m0.5 28h0m3.5 6h0m7 7.5h0m-1-13h0m-6 5.5h0m7.5-16h0m-13 35h0m5-28h0m-4 2h0m2.5 15h0m6.5-15h0m1.5 8.5h0m-8.5-17h0m3 54.5h0m4-37h0m-7.5 22.5h0m6.5-49h0m-4.5 8.5h0m3 23h0m-7-36.5h0m3 48.5h0m1 19h0m-5-64.5h0m11 0h0m-12 16.5h0m7.5 46.5h0m-1-88.5h0m-3 70.5h0m1.5-5.5h0m7.5-33.5h0m-1 25h0m-6-38.5h0m4.5 22h0m-6-16.5h0m3-27h0m0.5 11h0m-5 23.5h0m11 30.5h0m-4-35h0m-5.5 44h0m1.5-54.5h0m0 33.5h0m-6 0h0m10.5-15h0m-11 0.5h0m1-4h0m13.5 21h0m-14-8h0m12.5-5h0m-7-17.5h0m4 42h0m-9.5-15h0m9.5 6.5h0m-2.5-41.5h0m0.5 67h0m-3-19h0m7 12h0m-7.5 7.5h0m-4-23h0m3-7h0m0 5.5h0m9-18h0m1.5 10.5h0m-4 8.5h0m-9-27.5h0m5.5-6.5h0m2 45.5h0m-0.5-30h0m-3-22h0m6 35.5h0m-5.5-0.5h0m4 26.5h0m-4-31.5h0m-4 15.5h0m0-24h0m1.5 26h0m-1.5-0.5h0m2.5-27.5h0m5.5-13.5h0m-7.5 40.5h0m0.5 1.5h0m4 14.5h0m0-8h0m3.5-22h0m-3.5-10h0m3 22.5h0m-0.5-31h0m-4.5-10.5h0m0.5 31.5h0m8.5-12h0m-4-4h0m-1.5 42.5h0m-1-67.5h0m1.5 56.5h0m-0.5-58h0m2 50.5h0m2-5h0m-7-35.5h0m-4 38.5h0m9 4.5h0m-5-41.5h0m-0.5 10.5h0m-1.5-1h0m5.5 35h0m2-36.5h0m-5 37.5h0" stroke="#74a63a" stroke-width="2.9" stroke-linecap="round"/>
<path d="M237.3 742H250.3" stroke="#222" stroke-width="1.1"/>
<path d="M259.1 693.6V780" stroke="#e2170f" stroke-width="1.1"/>
<path d="M259.1 701L258.3 702.4L257.8 703.8L257.4 705.2L257.1 706.5L256.8 707.9L256.5 709.3L256.3 710.7L256 712.1L255.8 713.5L255.6 714.8L255.4 716.2L255.3 717.6L255.1 719L254.9 720.4L254.8 721.8L254.7 723.2L254.5 724.5L254.4 725.9L254.3 727.3L254.3 728.7L254.2 730.1L254.2 731.5L254.2 732.8L254.3 734.2L254.4 735.6L254.5 737L254.6 738.4L254.8 739.8L255 741.2L255.2 742.5L255.5 743.9L255.7 745.3L256 746.7L256.3 748.1L256.7 749.5L257.1 750.8L257.6 752.2L258.1 753.6L259.1 755L259.1 755L260.1 753.6L260.6 752.2L261.1 750.8L261.5 749.5L261.9 748.1L262.2 746.7L262.5 745.3L262.7 743.9L263 742.5L263.2 741.2L263.4 739.8L263.6 738.4L263.7 737L263.8 735.6L263.9 734.2L264 732.8L264 731.5L264 730.1L263.9 728.7L263.9 727.3L263.8 725.9L263.7 724.5L263.5 723.2L263.4 721.8L263.3 720.4L263.1 719L262.9 717.6L262.8 716.2L262.6 714.8L262.4 713.5L262.2 712.1L261.9 710.7L261.7 709.3L261.4 707.9L261.1 706.5L260.8 705.2L260.4 703.8L259.9 702.4L259.1 701Z" fill="#e2170f" fill-opacity="0.45"/>
<path d="M264 714h0m-4 14h0m-6.5 14.5h0m4-24h0m6 1h0m-3 23.5h0m6-4h0m-10.5 10h0m-4-20h0m6.5-0.5h0m2.5 12.5h0m-3-29.5h0m2 3h0m-3 25h0m-3-18h0m-1 23h0m14-16.5h0m-12.5-17h0m4 47h0m-4.5-23.5h0m2-17.5h0m-2.5 16h0m14.5-3h0m-14.5-16h0m3.5 25.5h0m2-21h0m-2 4h0m5.5 2.5h0m-0.5 3.5h0m-1-22.5h0m-4 15h0m2.5-21h0m-2 6h0m0.5 7.5h0m-4.5 11h0m13-3.5h0m-8.5 22h0m-2.5-27.5h0m7-7h0m1 18h0m3-2h0m-15 12h0m14.5-16.5h0m1 10.5h0m-13-3.5h0m7.5 23.5h0m-4-51.5h0m1.5 5h0m-6 32h0m1.5 1h0m4.5-4h0m0-32.5h0m-6 43.5h0m4.5 5.5h0m-3-10h0m9-5.5h0m-10-13.5h0m10.5-5h0m-5.5-14.5h0m7 33.5h0m-5.5-34.5h0m-0.5 45h0m-3-10h0m7.5 8h0m-3.5 11h0m-8-16.5h0m9-21.5h0m-1.5 34.5h0m-5.5-21h0m4-35.5h0m-2.5 21h0m7.5 2h0m-5.5 47.5h0m0-37h0m3.5-10h0m-1-11.5h0m-5 30h0m11.5-3.5h0m-10-25.5h0m4 31h0m0.5-22h0m2.5 3.5h0m-3.5 27.5h0m-6.5-6.5h0m4.5-41h0m3.5 49.5h0m-1-26h0m3 8h0m-11 10h0m0.5-25.5h0m13.5 8.5h0m-1 4h0m-6-1.5h0m4-7h0m-5 36.5h0m1-41h0m-9.5 15.5h0m11.5-8h0m-3.5-25h0m-2.5 12h0m4.5-2.5h0m-5 29.5h0m3-28h0m7 23.5h0m-8-0.5h0m-7-2.5h0m1.5 2h0m4 4.5h0m-2 2.5h0m1.5-30h0m0.5 14h0m9 0.5h0m-4 24.5h0m-0.5-16h0m-0.5 5.5h0m-7.5 4h0m8-5.5h0m0.5 17.5h0m-0.5 2.5h0m5.5-15.5h0m-0.5-15h0m0 6h0m-9-22h0m8.5 28h0m-12.5-10h0m3.5-13.5h0m2 4h0m5.5 12.5h0m0.5 7h0m-4-27h0m1 42h0m1-27h0m-6 26h0m8-31.5h0m-5.5 31h0m-1.5-39.5h0m8 31.5h0m-1-13h0m-6 19h0" stroke="#e2170f" stroke-width="2.9" stroke-linecap="round"/>
<path d="M252.6 732H265.6" stroke="#222" stroke-width="1.1"/>
<path d="M304.3 723.2V781" stroke="#78b6f4" stroke-width="1.1"/>
<path d="M304.3 733.2L302.7 734.2L301.9 735.1L301.2 736L300.7 736.9L300.2 737.8L299.7 738.7L299.3 739.7L299 740.6L298.7 741.5L298.4 742.4L298.1 743.3L297.9 744.3L297.7 745.2L297.5 746.1L297.3 747L297.2 747.9L297.1 748.9L297.1 749.8L297.1 750.7L297.2 751.6L297.3 752.5L297.4 753.4L297.6 754.4L297.7 755.3L297.9 756.2L298.1 757.1L298.3 758L298.6 759L298.9 759.9L299.1 760.8L299.4 761.7L299.8 762.6L300.2 763.6L300.6 764.5L301 765.4L301.5 766.3L302.1 767.2L302.9 768.1L304.3 769.1L304.3 769.1L305.7 768.1L306.5 767.2L307.1 766.3L307.6 765.4L308 764.5L308.4 763.6L308.8 762.6L309.2 761.7L309.5 760.8L309.7 759.9L310 759L310.3 758L310.5 757.1L310.7 756.2L310.9 755.3L311 754.4L311.2 753.4L311.3 752.5L311.4 751.6L311.5 750.7L311.5 749.8L311.5 748.9L311.4 747.9L311.3 747L311.1 746.1L310.9 745.2L310.7 744.3L310.5 743.3L310.2 742.4L309.9 741.5L309.6 740.6L309.3 739.7L308.9 738.7L308.4 737.8L307.9 736.9L307.4 736L306.7 735.1L305.9 734.2L304.3 733.2Z" fill="#78b6f4" fill-opacity="1.0"/>
<path d="M312.5 749h0m-9.5-15h0m-4.5 11.5h0m6-7h0m7 18h0m-11.5-3.5h0m8-12h0m-1.5 21.5h0m-7.5-13.5h0m6.5 11.5h0m2.5-22.5h0m2.5 12h0m-12-5h0m10 6.5h0m0.5-10h0m-12.5 12h0m10-5h0m-5.5 2.5h0m4.5 27h0m-5-15.5h0m1-25.5h0m-2 23.5h0m4 8.5h0m-1.5-22h0m7-4.5h0m-4-8h0m2 28.5h0m-8.5-18h0m10.5 19h0m-5.5-12h0m2.5 14h0m-10.5-14h0m8.5-1h0m0 21h0m8-21.5h0m-3-1.5h0m-4-15.5h0m-3.5 26.5h0m-2.5-3h0m4.5 6h0m4.5-8.5h0m-2.5 11h0m1-3h0m-3-39h0m-2.5 33h0m7-5.5h0m-10 2h0m7-14h0m-6.5 22.5h0m13-18h0m-12.5-0.5h0m13.5 11h0m-5.5-18.5h0m-10 15.5h0m11.5 2h0m1-14.5h0m-1.5 12.5h0m-10 0.5h0m6-21h0m-0.5 0h0m5 7.5h0m-3.5 15.5h0m-7 7.5h0m8-19h0m-5 4.5h0m1.5 12h0m0.5-35h0m1 36h0m5-8h0m0.5-8h0m-12.5 11h0m3 2.5h0m3 14.5h0m4-18h0m-6.5-6.5h0m3.5-0.5h0m0-7h0m-3.5 19h0m8-16h0m2 10.5h0m-3 1h0m-3.5-14h0m1.5-7.5h0m-5.5 10.5h0m1 9.5h0m-2-14h0m13.5 12h0m-2.5-9h0m-2-4h0m-3-7h0m-3.5 26h0m7.5-0.5h0m0.5-6h0m-3-1.5h0m-10-0.5h0m7.5-2h0m-1.5 9h0m1 6h0m-2-21.5h0m10.5 5.5h0m-15.5 1.5h0m15.5 0.5h0m-9.5-10h0m1.5 0h0m-2.5-1.5h0m10 19h0m-5-17h0m-7 0h0m3 20.5h0m2.5-6h0m6.5 4h0m0 2.5h0m-1.5-5.5h0m-0.5-4.5h0m-5.5-18h0m5.5 27h0m-7-1h0m-1.5-5h0m2 7.5h0m1-24.5h0m0.5 21h0m-4.5-7.5h0m4 19.5h0m-7-20.5h0m8 4.5h0m5.5-5h0m-14.5 4h0m8.5 27h0m-4.5-37h0m6.5 27.5h0m4-14h0m-6-15.5h0m3.5 25.5h0m-7.5-19h0m-2 10.5h0m5.5-22h0m3 18.5h0m1-9h0m-11.5 9h0m6 3.5h0m3.5-15h0m2 24h0" stroke="#78b6f4" stroke-width="2.9" stroke-linecap="round"/>
<path d="M297.8 749.6H310.8" stroke="#222" stroke-width="1.1"/>
<path d="M319.6 723.9V780" stroke="#74a63a" stroke-width="1.1"/>
<path d="M319.6 734.3L318.1 735.2L317.3 736.1L316.6 736.9L316.1 737.8L315.6 738.7L315.2 739.6L314.8 740.5L314.5 741.4L314.1 742.3L313.8 743.2L313.6 744.1L313.3 745L313.1 745.9L312.9 746.8L312.8 747.7L312.6 748.5L312.5 749.4L312.4 750.3L312.4 751.2L312.4 752.1L312.5 753L312.6 753.9L312.8 754.8L312.9 755.7L313.1 756.6L313.3 757.5L313.5 758.4L313.7 759.2L314 760.1L314.3 761L314.6 761.9L314.9 762.8L315.3 763.7L315.7 764.6L316.2 765.5L316.7 766.4L317.4 767.3L318.1 768.2L319.6 769.1L319.6 769.1L321.1 768.2L321.8 767.3L322.5 766.4L323 765.5L323.5 764.6L323.9 763.7L324.3 762.8L324.6 761.9L324.9 761L325.2 760.1L325.5 759.2L325.7 758.4L325.9 757.5L326.1 756.6L326.3 755.7L326.4 754.8L326.6 753.9L326.7 753L326.8 752.1L326.8 751.2L326.8 750.3L326.7 749.4L326.6 748.5L326.4 747.7L326.3 746.8L326.1 745.9L325.9 745L325.6 744.1L325.4 743.2L325.1 742.3L324.7 741.4L324.4 740.5L324 739.6L323.6 738.7L323.1 737.8L322.6 736.9L321.9 736.1L321.1 735.2L319.6 734.3Z" fill="#74a63a" fill-opacity="1.0"/>
<path d="M317.5 766.5h0m1-30.5h0m5 22.5h0m-2.5-11h0m-1.5-14h0m-4 19h0m1.5 9h0m9.5-18.5h0m-8.5 14h0m1.5-14h0m1.5-5h0m1.5 10.5h0m-3.5 20.5h0m-0.5-31.5h0m1.5 25.5h0m0 7.5h0m-1.5-37h0m0 9h0m-4 18h0m5-20.5h0m4.5 22h0m-7.5-10.5h0m2.5 5h0m-5.5 3h0m14-8h0m-11-9.5h0m0 23.5h0m-2.5-10h0m6-3h0m-1.5-8h0m7.5 11.5h0m-1.5-8h0m-4 20.5h0m-1-11h0m-5.5-9h0m-2.5 5h0m9.5 18h0m-7.5-18.5h0m4-5.5h0m-1-8.5h0m3.5 6.5h0m-2.5-3.5h0m-4 1.5h0m1.5 2h0m5 19.5h0m-1.5-2.5h0m1.5-0.5h0m-6.5-11h0m13-2.5h0m-8.5 9.5h0m7-10.5h0m-2 4h0m-5 14h0m-3-15h0m10.5 1.5h0m-10 1h0m10 8.5h0m-6.5-4h0m-2.5 3h0m-1.5 2h0m3.5-20.5h0m4.5 3.5h0m-9.5 17h0m1-14h0m10.5-2.5h0m-3-5h0m-2.5-7.5h0m1.5 14.5h0m-2-15.5h0m-2 8h0m2-4.5h0m3.5 31h0m-3-8h0m-1-16.5h0m5 14.5h0m-1.5-15h0m-5 13h0m-3-11h0m5.5-11h0m-0.5 34h0m3.5-18.5h0m-11-1.5h0m4 6h0m11-10h0m-3 10h0m-11 2h0m6.5 9h0m-2.5-26.5h0m-4 17.5h0m1-7.5h0m11.5-6h0m-3 20.5h0m5-6.5h0m-8.5-18.5h0m7.5 6.5h0m-1.5 9.5h0m-6.5-9.5h0m3.5-3.5h0m-10.5 10h0m14.5-3h0m-6 13.5h0m4-12.5h0m1 14h0m-6.5-23h0m0.5 29.5h0m-2-22h0m3.5 16.5h0m4.5 1h0m-13-8h0m0.5-10.5h0m8 23.5h0m-3-6.5h0m3-8.5h0m-4.5 7.5h0m4-25h0m2.5 18.5h0m-1.5 24h0m-2-29.5h0m3.5 6h0m-2-24h0m2 22h0m-1.5-11h0m0-3.5h0m0.5 18.5h0m4.5 2.5h0m0-1h0m-9 6h0m-1-15.5h0m4.5-14.5h0m-7 10.5h0m6-6.5h0m2 17.5h0m0-19.5h0m-2.5 33h0m7-28.5h0m-7 18h0m-0.5-20.5h0m6.5 4h0m-11.5 6.5h0" stroke="#74a63a" stroke-width="2.9" stroke-linecap="round"/>
<path d="M313.1 751.2H326.1" stroke="#222" stroke-width="1.1"/>
<path d="M334.9 719.9V780" stroke="#e2170f" stroke-width="1.1"/>
<path d="M334.9 730.7L333.4 731.7L332.5 732.6L331.9 733.6L331.3 734.6L330.9 735.5L330.4 736.5L330 737.4L329.7 738.4L329.4 739.3L329.1 740.3L328.8 741.2L328.6 742.2L328.4 743.2L328.2 744.1L328 745.1L327.9 746L327.8 747L327.7 747.9L327.7 748.9L327.8 749.8L327.9 750.8L328 751.7L328.1 752.7L328.3 753.7L328.4 754.6L328.6 755.6L328.9 756.5L329.1 757.5L329.4 758.4L329.6 759.4L330 760.3L330.3 761.3L330.7 762.3L331.1 763.2L331.6 764.2L332.1 765.1L332.7 766.1L333.5 767L334.9 768L334.9 768L336.3 767L337.1 766.1L337.7 765.1L338.2 764.2L338.7 763.2L339.1 762.3L339.5 761.3L339.8 760.3L340.2 759.4L340.4 758.4L340.7 757.5L340.9 756.5L341.2 755.6L341.4 754.6L341.5 753.7L341.7 752.7L341.8 751.7L341.9 750.8L342 749.8L342.1 748.9L342.1 747.9L342 747L341.9 746L341.8 745.1L341.6 744.1L341.4 743.2L341.2 742.2L341 741.2L340.7 740.3L340.4 739.3L340.1 738.4L339.8 737.4L339.4 736.5L338.9 735.5L338.5 734.6L337.9 733.6L337.3 732.6L336.4 731.7L334.9 730.7Z" fill="#e2170f" fill-opacity="1.0"/>
<path d="M336.5 748.5h0m-1 18h0m2-3.5h0m-6.5-4.5h0m-1-9h0m10 4h0m-7.5-7h0m-6.5 0.5h0m12 1h0m0.5-7.5h0m-10 6h0m4-8h0m1 10.5h0m1.5-24.5h0m4.5 23h0m-10.5 4h0m11.5 8h0m-6.5 12h0m-4-35h0m1.5 4h0m-4.5 12.5h0m12.5 3h0m-12-14h0m8.5 35.5h0m-7-25h0m4-7.5h0m0 15h0m1 4h0m4-9.5h0m-3.5-12.5h0m1.5 19h0m0.5 7.5h0m-5-13.5h0m-1.5-8.5h0m5-13.5h0m-8 10.5h0m7-15h0m-2.5 5h0m9.5 5h0m2 9h0m-8.5-7.5h0m3.5 8.5h0m-10-1h0m5.5-20.5h0m6.5 28h0m-12.5-9h0m13 1.5h0m-11.5-4h0m7-5.5h0m1-3h0m-7 13h0m9.5-5.5h0m-7.5-5h0m6 16.5h0m-4 4.5h0m-3.5-13.5h0m0.5-1h0m7.5 14h0m-8.5-1h0m7.5 3.5h0m-7-13.5h0m6.5 10.5h0m-6-2h0m9.5-6.5h0m-10-5h0m-2 9.5h0m6-1h0m1.5 0h0m-5.5-1h0m-1.5-9h0m9.5 8.5h0m-6-1.5h0m2.5 3.5h0m3-15.5h0m-8.5 19.5h0m11.5 2h0m-14-11.5h0m4.5-10h0m7.5 6.5h0m-4.5 3.5h0m5.5 12h0m-11-13h0m9 18.5h0m-0.5-21.5h0m3.5 14.5h0m-9-25.5h0m10.5 9.5h0m-8 23.5h0m-4.5-18.5h0m13 5h0m-12-11h0m2.5-12h0m-1.5 11h0m6.5 3.5h0m-3 11.5h0m-1-12h0m0.5 1h0m0.5-15.5h0m-1 10.5h0m-1-1.5h0m3 19.5h0m-7 3h0m7-8.5h0m-5-1h0m4 0.5h0m-4-9h0m-3 6h0m3 7h0m3.5-15h0m2 9.5h0m4 9.5h0m1.5-4.5h0m-14-4.5h0m7-25h0m-6.5 19.5h0m3 4.5h0m-1-5.5h0m9.5 17h0m-8 0.5h0m10-11h0m-9-15.5h0m-2 23.5h0m6.5 7h0m-8.5-14h0m9 10.5h0m-9.5-10.5h0m6 21.5h0m0.5-44.5h0m6.5 15.5h0m-3.5-5.5h0m-4.5 23h0m3 1h0m6-16.5h0m-5 3h0m-0.5-10h0m-3-8.5h0m1 29.5h0m-1.5 3.5h0m7-14.5h0m-6 0.5h0m7.5-7h0m-8.5 5h0m8 8h0m-4 7h0m-7 2h0m-2-5h0m9-16h0" stroke="#e2170f" stroke-width="2.9" stroke-linecap="round"/>
<path d="M328.4 748.4H341.4" stroke="#222" stroke-width="1.1"/>
<path d="M380.1 729.3V780" stroke="#78b6f4" stroke-width="1.1"/>
<path d="M380.1 737.6L378.5 738.4L377.6 739.2L376.9 740L376.4 740.8L375.8 741.7L375.4 742.5L375 743.3L374.6 744.1L374.3 744.9L374 745.7L373.8 746.5L373.5 747.3L373.3 748.1L373.2 748.9L373 749.7L372.9 750.5L372.9 751.3L372.9 752.1L373 752.9L373.1 753.7L373.2 754.5L373.3 755.4L373.5 756.2L373.7 757L373.8 757.8L374.1 758.6L374.3 759.4L374.5 760.2L374.8 761L375.1 761.8L375.4 762.6L375.7 763.4L376.1 764.2L376.5 765L376.9 765.8L377.4 766.6L378 767.4L378.7 768.2L380.1 769.1L380.1 769.1L381.5 768.2L382.2 767.4L382.8 766.6L383.3 765.8L383.7 765L384.1 764.2L384.5 763.4L384.8 762.6L385.1 761.8L385.4 761L385.7 760.2L385.9 759.4L386.1 758.6L386.4 757.8L386.5 757L386.7 756.2L386.9 755.4L387 754.5L387.1 753.7L387.2 752.9L387.3 752.1L387.3 751.3L387.3 750.5L387.2 749.7L387 748.9L386.9 748.1L386.7 747.3L386.4 746.5L386.2 745.7L385.9 744.9L385.6 744.1L385.2 743.3L384.8 742.5L384.4 741.7L383.8 740.8L383.3 740L382.6 739.2L381.7 738.4L380.1 737.6Z" fill="#78b6f4" fill-opacity="1.0"/>
<path d="M385 756h0m0-12.5h0m-7.5-1h0m9 6h0m0-5h0m-1 13h0m-12.5-9.5h0m5 1h0m5 16h0m-1.5-19.5h0m0 3.5h0m0 14h0m-1.5-14h0m-7.5 7.5h0m10.5-4.5h0m-8-5h0m7.5-2h0m-5.5 8h0m7-5.5h0m3 11.5h0m-7 6.5h0m4-9h0m0 3h0m0-18h0m-10 19h0m2-7h0m11.5-1.5h0m-15 2.5h0m5-8h0m3.5 8h0m-0.5-19h0m-0.5 1.5h0m0.5 21h0m-2 9.5h0m2-18h0m4 12h0m-4.5 7h0m7-11.5h0m-3 2.5h0m-4.5 11h0m-0.5-19h0m2 18.5h0m0.5-34h0m-6 17.5h0m4.5-8.5h0m-1 17h0m2-26h0m2.5 29h0m-5.5-7.5h0m-3-7.5h0m1 0h0m2-5h0m6-1h0m-6.5 1.5h0m7.5-2h0m-9 6h0m12 6.5h0m-1-7.5h0m-1.5 12h0m-5.5-4.5h0m0.5 9h0m-3.5-21.5h0m-1.5 18.5h0m-2.5-8.5h0m11.5-5.5h0m-4.5 7.5h0m-2.5 11.5h0m-2.5-18.5h0m8.5-1.5h0m-5-1.5h0m-3 0h0m3.5-1h0m2 5h0m3 8h0m-10.5-10.5h0m3 3h0m1 9.5h0m9 0h0m-3.5-6.5h0m-4 17.5h0m4.5-24h0m2-1h0m-9 2h0m2.5 5.5h0m-1 6h0m1.5 12h0m3-8.5h0m3.5-17.5h0m2 4.5h0m-8 7.5h0m0-16.5h0m0.5 9h0m5.5 12h0m-4.5-1h0m-2.5 0.5h0m-2-17.5h0m6.5 22.5h0m-5.5-7h0m0.5 9.5h0m-3-3h0m4.5-0.5h0m-0.5-27h0m3.5 10h0m-4 26h0m-1.5-32h0m8.5 17h0m-0.5 4h0m-1.5-2.5h0m-3-22h0m3 16h0m0 10h0m-8-19h0m8 0.5h0m-5.5 2.5h0m3 5h0m3.5 1h0m-6-13.5h0m3.5 10.5h0m-7.5-6.5h0m0.5 19.5h0m12.5-15h0m-6.5 2h0m0 0h0m-6.5 4.5h0m8.5 7.5h0m-1-16h0m-8.5 3h0m-0.5 4h0m6.5 14.5h0m7.5-16h0m-1-2h0m-2 8.5h0m-8 6h0m1-21.5h0m9 14h0m-5.5-24h0m-5 22.5h0m4 2h0m-5.5-2h0" stroke="#78b6f4" stroke-width="2.9" stroke-linecap="round"/>
<path d="M373.6 751.2H386.6" stroke="#222" stroke-width="1.1"/>
<path d="M395.4 732V781" stroke="#74a63a" stroke-width="1.1"/>
<path d="M395.4 739.3L393.7 740.1L392.8 740.9L392 741.6L391.4 742.4L390.9 743.2L390.4 744L390 744.7L389.7 745.5L389.3 746.3L389.1 747.1L388.8 747.9L388.6 748.6L388.4 749.4L388.3 750.2L388.2 751L388.2 751.8L388.3 752.5L388.3 753.3L388.4 754.1L388.5 754.9L388.7 755.7L388.8 756.4L389 757.2L389.1 758L389.3 758.8L389.5 759.5L389.8 760.3L390 761.1L390.3 761.9L390.5 762.7L390.8 763.4L391.2 764.2L391.5 765L391.9 765.8L392.3 766.6L392.8 767.3L393.4 768.1L394.1 768.9L395.4 769.7L395.4 769.7L396.7 768.9L397.4 768.1L398 767.3L398.5 766.6L398.9 765.8L399.3 765L399.6 764.2L400 763.4L400.3 762.7L400.5 761.9L400.8 761.1L401 760.3L401.3 759.5L401.5 758.8L401.7 758L401.8 757.2L402 756.4L402.1 755.7L402.3 754.9L402.4 754.1L402.5 753.3L402.5 752.5L402.6 751.8L402.6 751L402.5 750.2L402.4 749.4L402.2 748.6L402 747.9L401.7 747.1L401.5 746.3L401.1 745.5L400.8 744.7L400.4 744L399.9 743.2L399.4 742.4L398.8 741.6L398 740.9L397.1 740.1L395.4 739.3Z" fill="#74a63a" fill-opacity="1.0"/>
<path d="M393 750.5h0m6 5h0m-4.5-6h0m0.5-2h0m6 7.5h0m-8 11.5h0m5.5-22.5h0m0 3h0m0.5 12h0m-8-17h0m4 27.5h0m0-12.5h0m5-2.5h0m-11 5h0m10.5-6h0m-4.5 16.5h0m-6.5-15h0m1.5 2.5h0m5-11h0m6 17h0m-5-0.5h0m1.5 2h0m3-8h0m-5 0.5h0m6-1h0m-8-12.5h0m-4 0.5h0m8 20.5h0m-8-7h0m6 12h0m-0.5-16.5h0m-3.5 11h0m6 2.5h0m-6-19h0m2.5-6.5h0m-4 16.5h0m8.5-15h0m1 4.5h0m-9.5 8.5h0m12-2h0m-4-1h0m-1.5 11.5h0m5-13h0m-1 13h0m-9.5-14.5h0m7-6h0m-4 3.5h0m-1 7h0m-2.5-7h0m12.5 0h0m-2.5 13.5h0m-4 0.5h0m4.5-18.5h0m0 6.5h0m-4.5-3h0m-3 20.5h0m1-30.5h0m2 35.5h0m-4-27.5h0m5.5 0.5h0m-7 9.5h0m4.5-4.5h0m2.5-9h0m1 15.5h0m-3.5 5.5h0m0 8.5h0m6-15h0m-3-9h0m0.5 20h0m-4.5-24h0m-1.5 13.5h0m2 5.5h0m8.5-10h0m-11 9.5h0m8.5-14.5h0m-4 19.5h0m-9.5-16.5h0m-0.5-1h0m9 21.5h0m-1-9h0m-2.5-17h0m-0.5 14.5h0m-2-1.5h0m7-12.5h0m-0.5 26h0m1.5-23.5h0m-2.5 23h0m0-20.5h0m-1-2.5h0m8.5 11h0m-10.5-12h0m10.5 9h0m-11-11.5h0m4.5 21h0m-2.5-7h0m-1.5-3.5h0m-5 0.5h0m7.5-22h0m0 27h0m0.5-14h0m4 6.5h0m-0.5-7h0m-2.5 15h0m1-19h0m-1 25.5h0m-1-21.5h0m-1.5 20.5h0m4-4h0m2.5-12.5h0m-6-8h0m2.5 14.5h0m-1 8.5h0m-0.5-22h0m6.5 17h0m-12-10h0m11-5h0m-0.5 11h0m2-2h0m-7.5-17.5h0m6.5 10h0m-10 3h0m2.5-9.5h0m3 27h0m6.5-12.5h0m-8.5 15h0m5-20.5h0m-12 2h0m12 10.5h0m2-5h0m-13.5-10h0m5.5 13h0m-4.5-6.5h0m8 16.5h0m2-4.5h0m-6-7.5h0m-2-9.5h0m3 22.5h0m1 7.5h0m7-27.5h0" stroke="#74a63a" stroke-width="2.9" stroke-linecap="round"/>
<path d="M388.9 751.2H401.9" stroke="#222" stroke-width="1.1"/>
<path d="M410.7 732.8V778.8" stroke="#e2170f" stroke-width="1.1"/>
<path d="M410.7 739.8L409 740.5L408.1 741.3L407.4 742L406.8 742.7L406.3 743.4L405.8 744.2L405.4 744.9L405 745.6L404.7 746.4L404.4 747.1L404.2 747.8L403.9 748.6L403.8 749.3L403.6 750L403.5 750.8L403.5 751.5L403.5 752.2L403.6 753L403.7 753.7L403.8 754.4L403.9 755.1L404.1 755.9L404.2 756.6L404.4 757.3L404.6 758.1L404.8 758.8L405 759.5L405.3 760.3L405.5 761L405.8 761.7L406.1 762.5L406.4 763.2L406.8 763.9L407.2 764.7L407.6 765.4L408.1 766.1L408.7 766.8L409.4 767.6L410.7 768.3L410.7 768.3L412 767.6L412.7 766.8L413.3 766.1L413.8 765.4L414.2 764.7L414.6 763.9L415 763.2L415.3 762.5L415.6 761.7L415.9 761L416.1 760.3L416.4 759.5L416.6 758.8L416.8 758.1L417 757.3L417.2 756.6L417.3 755.9L417.5 755.1L417.6 754.4L417.7 753.7L417.8 753L417.9 752.2L417.9 751.5L417.9 750.8L417.8 750L417.6 749.3L417.5 748.6L417.2 747.8L417 747.1L416.7 746.4L416.4 745.6L416 744.9L415.6 744.2L415.1 743.4L414.6 742.7L414 742L413.3 741.3L412.4 740.5L410.7 739.8Z" fill="#e2170f" fill-opacity="1.0"/>
<path d="M411 741h0m0.5-2h0m7 10.5h0m-11.5 2h0m7.5 12h0m-6.5-16.5h0m7-2h0m-8.5 3h0m-2-1h0m9.5 0.5h0m2.5 5.5h0m-8-8.5h0m-2.5 14.5h0m6 8h0m-1.5-30h0m-0.5 33.5h0m-0.5-11.5h0m9.5-9.5h0m-7.5 14h0m-2-9.5h0m5.5-6.5h0m-5-6h0m-6 6.5h0m6.5 12.5h0m-5-7h0m4 9h0m1-2h0m5-4.5h0m-5.5-0.5h0m2-21h0m0 37h0m-10-20h0m3.5 7.5h0m3-16.5h0m0-0.5h0m-1.5 17h0m3.5-0.5h0m-7-3h0m7.5-5h0m-2.5 1h0m8-5.5h0m-1 7.5h0m0.5 5.5h0m-9.5-9.5h0m2.5 1.5h0m-5.5 4h0m6.5 0h0m9.5-1h0m-5-7.5h0m-3.5 30h0m-8.5-28h0m14-0.5h0m-7 12h0m9-4h0m-1.5-4h0m-12-1h0m2.5-0.5h0m-4.5 5h0m5.5-13.5h0m-6 12.5h0m9.5-4h0m5 10h0m-6-13h0m6.5 1.5h0m-9.5-2h0m6 12.5h0m-3.5-20h0m-1 14.5h0m-1-3h0m-1.5 1.5h0m-2 8.5h0m3-10.5h0m5 2h0m-4 14.5h0m2-29h0m-6.5 14.5h0m4.5 1h0m-1-9h0m7.5 8h0m-5 8.5h0m0.5 13h0m-8.5-20h0m0.5-4.5h0m6-1.5h0m0.5 9h0m5-10h0m-12.5 6.5h0m11.5 2.5h0m-7.5-10.5h0m6 13h0m-6-10.5h0m3 26.5h0m6-18h0m0-6.5h0m-5.5-15.5h0m7.5 15.5h0m-9-9h0m5 12.5h0m-7.5-9h0m6 19h0m3-0.5h0m2.5-3.5h0m-11-8.5h0m11.5-2.5h0m-1.5 8h0m-3.5-9.5h0m-7.5 14h0m13-6h0m-12.5-10.5h0m7-2h0m-7.5 11.5h0m10-1.5h0m-6.5-1.5h0m9 7h0m-7-16h0m1 24.5h0m0.5 6h0m-0.5-24h0m1 13.5h0m2.5 0h0m-3 3.5h0m-2.5-2.5h0m-1.5-1.5h0m1.5 1h0m7-3.5h0m-0.5-8h0m-10-0.5h0m8 14h0m-6.5-7h0m7 3h0m-5 1h0m3.5-14.5h0m-4.5 17h0m2.5-19.5h0m0.5 15.5h0m-3-1.5h0m8.5 1h0m-0.5-9h0m-9-2.5h0" stroke="#e2170f" stroke-width="2.9" stroke-linecap="round"/>
<path d="M404.2 751.2H417.2" stroke="#222" stroke-width="1.1"/>
<path d="M455.9 731.3V768.8" stroke="#78b6f4" stroke-width="1.1"/>
<path d="M455.9 738.9L454.5 739.5L453.7 740.1L453.1 740.7L452.6 741.3L452.1 741.9L451.7 742.5L451.3 743.1L451 743.7L450.7 744.3L450.4 744.9L450.1 745.5L449.9 746.1L449.7 746.6L449.5 747.2L449.3 747.8L449.1 748.4L449 749L448.9 749.6L448.8 750.2L448.7 750.8L448.7 751.4L448.8 752L448.9 752.6L449 753.2L449.1 753.8L449.3 754.4L449.5 755L449.8 755.6L450 756.2L450.3 756.8L450.6 757.4L451 758L451.4 758.6L451.8 759.2L452.3 759.8L452.9 760.4L453.5 761L454.3 761.6L455.9 762.1L455.9 762.1L457.5 761.6L458.3 761L458.9 760.4L459.5 759.8L460 759.2L460.4 758.6L460.8 758L461.2 757.4L461.5 756.8L461.8 756.2L462 755.6L462.3 755L462.5 754.4L462.7 753.8L462.8 753.2L462.9 752.6L463 752L463.1 751.4L463.1 750.8L463 750.2L462.9 749.6L462.8 749L462.7 748.4L462.5 747.8L462.3 747.2L462.1 746.6L461.9 746.1L461.7 745.5L461.4 744.9L461.1 744.3L460.8 743.7L460.5 743.1L460.1 742.5L459.7 741.9L459.2 741.3L458.7 740.7L458.1 740.1L457.3 739.5L455.9 738.9Z" fill="#78b6f4" fill-opacity="1.0"/>
<path d="M459.5 759h0m-11-7h0m1.5-5h0m5.5 19h0m1.5-1.5h0m7.5-12h0m-11.5 6.5h0m0.5-13h0m3.5-8.5h0m-7.5 8.5h0m9 6h0m-7-1.5h0m8-8h0m-3.5 5.5h0m3.5 6h0m-8 2.5h0m-4.5-5h0m11 0.5h0m-10-5h0m5.5 2.5h0m-6.5 3.5h0m14 0h0m-2.5-9.5h0m-7.5 12.5h0m8.5-15h0m-1.5 3.5h0m5 9.5h0m1.5-3.5h0m-2-5h0m-10-3h0m3.5 13h0m-6.5-3.5h0m4-11.5h0m0.5 13.5h0m-0.5-13.5h0m3.5-4h0m1 11.5h0m-3.5 4h0m2 3.5h0m2 2h0m-5.5-6h0m4-1.5h0m1.5 11h0m1-20.5h0m0.5 16.5h0m-2.5-4h0m-5-3.5h0m10 5h0m-3.5-12h0m1 7.5h0m-8.5-4h0m7 4h0m2-2.5h0m-10 0.5h0m7 17h0m-0.5-17h0m4.5 6.5h0m-11.5-11h0m0 11h0m-1-8h0m10 10.5h0m3-5.5h0m2.5 1.5h0m-7-2h0m-1.5-5.5h0m1-0.5h0m0 6.5h0m-6 4.5h0m-3-3h0m9-15h0m3 19h0m-5-18.5h0m5.5 15h0m-3.5-13h0m-7.5 10.5h0m2 1.5h0m10 5h0m-2.5 3h0m-7.5-1h0m-1.5-8.5h0m6.5-4.5h0m-7 2h0m8 8.5h0m-0.5-14h0m-3.5 11h0m-5.5-4h0m9.5-4.5h0m6.5 6h0m-15 2h0m6 5.5h0m2-5.5h0m2-8.5h0m-1.5-2.5h0m-1 13h0m-6.5-10h0m5-8h0m7.5 18.5h0m-12 3h0m0-3.5h0m-1 0.5h0m7-4.5h0m-1-13.5h0m-4 20.5h0m1.5-13h0m4 8.5h0m-3 4h0m0-2h0m10.5-5h0m-13-4h0m-1.5 1.5h0m6-9.5h0m-3.5 8h0m-4.5 1h0m13 0h0m0.5 6h0m-4 4h0m6.5-9h0m-8 13.5h0m-7.5-10h0m2.5 5.5h0m5.5-3h0m-0.5 7h0m-5-16.5h0m10 11.5h0m-5.5 1h0m2.5-13.5h0m-5-2.5h0m2 16h0m-3.5-2.5h0m2-9.5h0m8 5.5h0m-5.5 8h0m1-1.5h0m1-8.5h0m-5-8.5h0m0.5 2h0m3-4.5h0m-6.5 6.5h0m0.5 1.5h0" stroke="#78b6f4" stroke-width="2.9" stroke-linecap="round"/>
<path d="M449.4 751.3H462.4" stroke="#222" stroke-width="1.1"/>
<path d="M471.2 733.8V771.3" stroke="#74a63a" stroke-width="1.1"/>
<path d="M471.2 740.4L469.6 741L468.8 741.6L468.2 742.2L467.6 742.8L467.1 743.4L466.7 744L466.3 744.6L465.9 745.2L465.6 745.8L465.3 746.4L465.1 747L464.8 747.6L464.6 748.2L464.4 748.8L464.3 749.4L464.2 750L464.1 750.6L464 751.2L464 751.8L464.1 752.4L464.2 753L464.3 753.6L464.4 754.2L464.6 754.8L464.8 755.4L465 755.9L465.2 756.5L465.4 757.1L465.7 757.7L466 758.3L466.3 758.9L466.6 759.5L467 760.1L467.4 760.7L467.9 761.3L468.4 761.9L469 762.5L469.8 763.1L471.2 763.7L471.2 763.7L472.6 763.1L473.4 762.5L474 761.9L474.5 761.3L475 760.7L475.4 760.1L475.8 759.5L476.1 758.9L476.4 758.3L476.7 757.7L477 757.1L477.2 756.5L477.4 755.9L477.6 755.4L477.8 754.8L478 754.2L478.1 753.6L478.2 753L478.3 752.4L478.4 751.8L478.4 751.2L478.3 750.6L478.2 750L478.1 749.4L478 748.8L477.8 748.2L477.6 747.6L477.3 747L477.1 746.4L476.8 745.8L476.5 745.2L476.1 744.6L475.7 744L475.3 743.4L474.8 742.8L474.2 742.2L473.6 741.6L472.8 741L471.2 740.4Z" fill="#74a63a" fill-opacity="1.0"/>
<path d="M470 743.5h0m9.5 10h0m-9.5 4.5h0m1-20.5h0m-7.5 16.5h0m9-0.5h0m-2.5-11.5h0m0.5 3.5h0m-5.5 0.5h0m9 12h0m-4-19.5h0m-7.5 12.5h0m8.5-4h0m-1 3h0m-0.5 13h0m-1-5h0m4.5 3h0m6-12.5h0m-5.5 11h0m6-8.5h0m-6.5-5h0m3 5.5h0m-7 1.5h0m3-13.5h0m5 15.5h0m-7.5 7h0m5-1h0m1-15h0m-6.5 12h0m-2.5-4.5h0m11.5-7h0m-7.5 8.5h0m1-2.5h0m1-3h0m4.5 8h0m-3-4.5h0m-5 1h0m3.5 10h0m1.5-9h0m3.5-2.5h0m-9.5-7h0m-0.5-2.5h0m-0.5 2h0m4.5-5.5h0m-0.5 20h0m-2.5 1h0m7-8h0m-4.5-5.5h0m6.5 0h0m-14 9h0m7-12.5h0m-1 7h0m-1-5.5h0m8 3h0m-6-9h0m0.5 0.5h0m-4.5 6h0m1 1.5h0m12 6.5h0m-12.5 0h0m6-10.5h0m-8.5 4.5h0m8.5 4.5h0m-0.5 6.5h0m-3-17h0m0.5 16h0m-3-10h0m8-2h0m-5 5h0m-5 4h0m6.5-14h0m-3.5 2h0m10 13.5h0m-12.5-4h0m0.5-7.5h0m1.5 13.5h0m-3.5-9h0m15 5h0m-11-11.5h0m5 5h0m-3 2h0m2.5-11h0m0 2.5h0m0.5 8.5h0m-7.5 9.5h0m5 3h0m0-10h0m-0.5 5.5h0m-1-5.5h0m-1.5-4h0m-1.5-1h0m4 11h0m-1.5-16h0m2-1h0m0 8h0m9 0.5h0m-4 4.5h0m-6.5-6h0m1.5-8.5h0m-2 14.5h0m2 8.5h0m0 3h0m-0.5-7h0m3.5-2.5h0m0.5 2.5h0m-7.5-5h0m4 4h0m5.5-6h0m-1.5 8h0m-3.5-12h0m-8 2h0m5.5-2.5h0m3.5 1.5h0m0 3.5h0m0.5 5.5h0m-5-15h0m2 17.5h0m0-2h0m-6-5.5h0m5.5 7h0m3-25.5h0m-0.5 11.5h0m-1 5.5h0m1 4h0m7-3h0m-7.5-11h0m-3.5 11.5h0m6.5 2h0m2-7h0m-3 7.5h0m-2.5 0.5h0m-2-6.5h0m7.5-2h0m-2-4.5h0m-7 2.5h0m4.5-7h0m6 17h0m-11-0.5h0m3.5 8.5h0" stroke="#74a63a" stroke-width="2.9" stroke-linecap="round"/>
<path d="M464.7 751.3H477.7" stroke="#222" stroke-width="1.1"/>
<path d="M486.5 733.8V769.9" stroke="#e2170f" stroke-width="1.1"/>
<path d="M486.5 740.9L485 741.4L484.3 742L483.6 742.6L483.1 743.2L482.6 743.7L482.2 744.3L481.9 744.9L481.5 745.5L481.2 746L480.9 746.6L480.6 747.2L480.4 747.8L480.2 748.3L480 748.9L479.8 749.5L479.7 750.1L479.5 750.6L479.4 751.2L479.3 751.8L479.3 752.3L479.3 752.9L479.4 753.5L479.5 754.1L479.7 754.6L479.8 755.2L480 755.8L480.2 756.4L480.5 756.9L480.7 757.5L481 758.1L481.3 758.7L481.7 759.2L482.1 759.8L482.5 760.4L483 761L483.5 761.5L484.2 762.1L485 762.7L486.5 763.2L486.5 763.2L488 762.7L488.8 762.1L489.5 761.5L490 761L490.5 760.4L490.9 759.8L491.3 759.2L491.7 758.7L492 758.1L492.3 757.5L492.5 756.9L492.8 756.4L493 755.8L493.2 755.2L493.3 754.6L493.5 754.1L493.6 753.5L493.7 752.9L493.7 752.3L493.7 751.8L493.6 751.2L493.5 750.6L493.3 750.1L493.2 749.5L493 748.9L492.8 748.3L492.6 747.8L492.4 747.2L492.1 746.6L491.8 746L491.5 745.5L491.1 744.9L490.8 744.3L490.4 743.7L489.9 743.2L489.4 742.6L488.7 742L488 741.4L486.5 740.9Z" fill="#e2170f" fill-opacity="1.0"/>
<path d="M488 745.5h0m2.5-1h0m3.5 6.5h0m-8.5 13h0m-5.5-8.5h0m13-9h0m-6.5-1h0m1.5 0h0m-0.5 8.5h0m6.5-1.5h0m-10.5-6h0m5.5 1h0m1-4h0m-6 6.5h0m4.5 5.5h0m-9.5-3h0m13.5-4h0m-6.5 8.5h0m1.5-15.5h0m7 11.5h0m-6.5-2h0m-9.5 1h0m13.5-6.5h0m0.5 11h0m-0.5-5.5h0m-6 7h0m-1-13h0m-3.5 12.5h0m3.5-11.5h0m0 8h0m2-9h0m3 15.5h0m-9.5-6h0m2.5-4h0m6.5-2h0m-7 8h0m1.5 3.5h0m2.5-9.5h0m3 7.5h0m-3.5 6h0m-3.5-7.5h0m0.5 2.5h0m2.5 8.5h0m1-18h0m-3.5 3h0m3-12h0m-1 17.5h0m-4-8.5h0m5.5-15.5h0m-8.5 17h0m10.5 4.5h0m3 3.5h0m-6-4h0m0 9h0m-1-7h0m1.5 7h0m4.5-8h0m-5 0h0m5-3.5h0m-5 9h0m4.5-14h0m0.5 5h0m-6.5-4h0m3 15.5h0m0-17.5h0m-5 8h0m3.5 10h0m-5.5-12.5h0m8.5 3.5h0m0.5-4h0m-9 4.5h0m9 0h0m-1.5-6.5h0m-4 10.5h0m7.5-14.5h0m-1 6.5h0m-5.5-4h0m-2.5 12.5h0m4.5-20h0m-0.5 11h0m2-1h0m-2 1.5h0m-3.5 9.5h0m5.5-10h0m4.5 5h0m-6-5h0m3 7h0m-6.5-14.5h0m6 12h0m-6-9.5h0m5-4h0m0.5-1h0m-5 10.5h0m2.5 11.5h0m0-15h0m2 9.5h0m-2-23h0m4 18.5h0m-5 1h0m7.5-4h0m-11.5 1h0m11 5.5h0m-1.5-3.5h0m2.5-0.5h0m-15 0h0m12.5 4.5h0m1.5-4.5h0m-13-1h0m12.5 3h0m-10.5-3h0m10 4h0m-6 4.5h0m-4.5-13.5h0m9 9h0m-4 7h0m6.5-7h0m-8.5-1h0m-5.5-1.5h0m7 1.5h0m3-9h0m4.5 10.5h0m-5.5-4.5h0m-6 1h0m7 4h0m5.5-4.5h0m-10.5 1.5h0m10-6h0m-11 5.5h0m-1.5-7h0m6 16h0m-0.5-1.5h0m1.5-8.5h0m5.5-4.5h0m-7 2.5h0m0-4h0m6.5 9.5h0m-5.5-15.5h0m1.5 2h0m4.5 13.5h0" stroke="#e2170f" stroke-width="2.9" stroke-linecap="round"/>
<path d="M480 752.4H493" stroke="#222" stroke-width="1.1"/>
<path d="M531.7 739V772.3" stroke="#78b6f4" stroke-width="1.1"/>
<path d="M531.7 745.3L530.2 745.8L529.4 746.3L528.8 746.9L528.2 747.4L527.8 747.9L527.3 748.4L527 749L526.6 749.5L526.3 750L526 750.6L525.7 751.1L525.5 751.6L525.3 752.2L525.1 752.7L524.9 753.2L524.8 753.7L524.7 754.3L524.6 754.8L524.5 755.3L524.5 755.9L524.6 756.4L524.7 756.9L524.8 757.4L525 758L525.1 758.5L525.3 759L525.5 759.6L525.8 760.1L526 760.6L526.3 761.2L526.7 761.7L527 762.2L527.4 762.7L527.8 763.3L528.3 763.8L528.8 764.3L529.4 764.9L530.2 765.4L531.7 765.9L531.7 765.9L533.2 765.4L534 764.9L534.6 764.3L535.1 763.8L535.6 763.3L536 762.7L536.4 762.2L536.7 761.7L537.1 761.2L537.4 760.6L537.6 760.1L537.9 759.6L538.1 759L538.3 758.5L538.4 758L538.6 757.4L538.7 756.9L538.8 756.4L538.9 755.9L538.9 755.3L538.8 754.8L538.7 754.3L538.6 753.7L538.5 753.2L538.3 752.7L538.1 752.2L537.9 751.6L537.7 751.1L537.4 750.6L537.1 750L536.8 749.5L536.4 749L536.1 748.4L535.6 747.9L535.2 747.4L534.6 746.9L534 746.3L533.2 745.8L531.7 745.3Z" fill="#78b6f4" fill-opacity="1.0"/>
<path d="M535.5 762.5h0m-4-2.5h0m7-4h0m-12.5 4h0m2.5 3h0m10-10h0m0.5 1h0m-7 16h0m-2.5-23.5h0m-3 3.5h0m6 17h0m-7.5-9h0m13 2h0m-6.5 6h0m-1-3h0m9-4.5h0m-3-5h0m-8-1h0m-4 5.5h0m9-7h0m-3.5-2h0m-1.5 9h0m10.5-5.5h0m-0.5-1h0m-0.5 0.5h0m-6 14.5h0m1 1.5h0m-0.5-5.5h0m-6.5-12h0m9 0.5h0m-0.5 1h0m-5 0.5h0m1.5 4.5h0m-2 6.5h0m4-7.5h0m2-5.5h0m-7.5 9h0m10.5-4h0m-5-12h0m-1.5 13h0m-1 4h0m-3 3h0m-0.5-2.5h0m8.5 2.5h0m-7.5-13.5h0m3 5.5h0m2-5.5h0m-2.5 1.5h0m2 20.5h0m-2.5-25h0m2.5 18.5h0m6.5-6h0m-2.5-2.5h0m-1-9.5h0m-7.5 15h0m8-12h0m-3.5 13h0m0.5-2h0m-3-5h0m8-1.5h0m-9.5 9h0m9.5-5h0m-12.5 0h0m13.5 0.5h0m-5.5 2.5h0m-5-13h0m-2.5 5h0m13.5 4.5h0m-8.5 4h0m3.5 0h0m4.5-3.5h0m-8.5-6.5h0m8 6.5h0m-2.5-3h0m-1.5-9.5h0m-5 3h0m0.5 12.5h0m4.5-10.5h0m-3.5 0.5h0m3.5-4h0m0.5 3.5h0m0 6.5h0m-1.5-7.5h0m-2-3.5h0m-1.5 13h0m-1 2.5h0m7-11.5h0m-2-2h0m5 11h0m-0.5-7.5h0m-4-2h0m-8.5 4.5h0m2-2.5h0m3 11h0m-6-7.5h0m-1.5-2h0m3 6.5h0m1-12h0m4.5-6h0m3 12h0m-6 7.5h0m-1.5-7.5h0m7-8h0m3.5 4.5h0m-4 2.5h0m5.5 3.5h0m-10-2h0m-2 1h0m-1-0.5h0m1 4.5h0m4.5-15.5h0m-1.5-2h0m4.5 16.5h0m-5.5 5.5h0m9-8h0m-6-1h0m0.5-6.5h0m4 2.5h0m-2 10h0m-2.5-15h0m-5.5 12.5h0m9-1.5h0m-10-2h0m7-4h0m1.5 6h0m1.5-7h0m-8-0.5h0m5 2.5h0m1 2h0m-3 13.5h0m-0.5-9.5h0m-3-4h0m1-7h0m6.5 5.5h0m4 2h0m-12.5 0h0m7-3.5h0m-2 15.5h0m0.5-14.5h0" stroke="#78b6f4" stroke-width="2.9" stroke-linecap="round"/>
<path d="M525.2 755.5H538.2" stroke="#222" stroke-width="1.1"/>
<path d="M547 736.3V772.3" stroke="#74a63a" stroke-width="1.1"/>
<path d="M547 743.1L545.5 743.6L544.7 744.2L544.1 744.8L543.5 745.4L543.1 745.9L542.6 746.5L542.2 747.1L541.9 747.6L541.6 748.2L541.3 748.8L541 749.4L540.8 749.9L540.6 750.5L540.4 751.1L540.2 751.6L540.1 752.2L539.9 752.8L539.9 753.4L539.8 753.9L539.8 754.5L539.9 755.1L540 755.7L540.1 756.2L540.3 756.8L540.4 757.4L540.6 757.9L540.9 758.5L541.1 759.1L541.4 759.7L541.6 760.2L542 760.8L542.3 761.4L542.7 762L543.1 762.5L543.6 763.1L544.1 763.7L544.7 764.2L545.5 764.8L547 765.4L547 765.4L548.5 764.8L549.3 764.2L549.9 763.7L550.4 763.1L550.9 762.5L551.3 762L551.7 761.4L552 760.8L552.4 760.2L552.6 759.7L552.9 759.1L553.1 758.5L553.4 757.9L553.6 757.4L553.7 756.8L553.9 756.2L554 755.7L554.1 755.1L554.2 754.5L554.2 753.9L554.1 753.4L554.1 752.8L553.9 752.2L553.8 751.6L553.6 751.1L553.4 750.5L553.2 749.9L553 749.4L552.7 748.8L552.4 748.2L552.1 747.6L551.8 747.1L551.4 746.5L550.9 745.9L550.5 745.4L549.9 744.8L549.3 744.2L548.5 743.6L547 743.1Z" fill="#74a63a" fill-opacity="1.0"/>
<path d="M555 751h0m-9.5 11.5h0m-2-4h0m1 4.5h0m-3.5-2.5h0m3-10.5h0m2-6.5h0m4.5 3.5h0m-10.5 10.5h0m6.5 10h0m6.5-15.5h0m-6 9h0m-1-11.5h0m3.5-4.5h0m-4 5.5h0m2.5 6h0m5.5-7.5h0m-0.5 10.5h0m-13-1h0m8-15.5h0m-3.5 2.5h0m7.5 6.5h0m-6.5-2.5h0m-2.5-1h0m-2 7.5h0m10.5-3h0m1-2h0m-13.5 0.5h0m1.5 4.5h0m-1.5-5.5h0m11.5-5.5h0m-7 1.5h0m3.5 7.5h0m4 4h0m-11.5-7.5h0m4.5-1h0m-2-2h0m-0.5 1h0m7.5 2.5h0m2-5.5h0m-6.5 15.5h0m-1-12.5h0m7 3h0m4 0h0m-13.5 9.5h0m10.5-4.5h0m-1.5 6.5h0m2-2.5h0m-1-2h0m-3.5-2.5h0m1-9.5h0m-1 15.5h0m-2 3.5h0m-1-12h0m-2.5-6.5h0m10 0.5h0m0 13.5h0m3-9h0m-9.5-2h0m-1.5 6.5h0m-4.5-4.5h0m12.5 3.5h0m-3-5h0m-3 17.5h0m6-14h0m-7 2.5h0m7.5 3h0m-10.5-5.5h0m-1 1.5h0m11-3h0m-6 8h0m2.5 5.5h0m-7-17.5h0m4-2.5h0m2 20.5h0m7-15h0m-5.5 12.5h0m-4-18.5h0m4 2h0m-4 13.5h0m-4-6.5h0m7-10h0m-7 7h0m11-3h0m-6-2.5h0m1-2.5h0m4 12.5h0m-4.5-7.5h0m1.5-3.5h0m4.5 14h0m-5.5-16h0m-8.5 11h0m8-9.5h0m3 9h0m-2.5-1h0m-1 12h0m2-16.5h0m-2-6h0m4 3h0m-6 15h0m11.5-6.5h0m-6-8h0m-2-3.5h0m4.5 17h0m-5 3h0m2.5-17h0m3.5 6h0m-14.5 1h0m8.5-6.5h0m-4 5.5h0m-1.5-1.5h0m1 3.5h0m11.5-3.5h0m-12-2h0m5 2.5h0m-0.5-11.5h0m1 30h0m-4-23.5h0m0.5 4.5h0m5.5 4.5h0m-5.5 6h0m6-14.5h0m-3 14h0m-2-1h0m8.5-3h0m-13.5 2h0m7-4h0m-2 6.5h0m-7-6h0m2.5 2.5h0m1.5 5h0m1-0.5h0m9.5-9h0m-11.5 4.5h0m3.5-8h0m4 16.5h0m-5-17.5h0m9.5 9.5h0m-6.5-14.5h0" stroke="#74a63a" stroke-width="2.9" stroke-linecap="round"/>
<path d="M540.5 754.1H553.5" stroke="#222" stroke-width="1.1"/>
<path d="M562.3 737.3V773.4" stroke="#e2170f" stroke-width="1.1"/>
<path d="M562.3 744.2L560.8 744.8L560 745.4L559.4 745.9L558.9 746.5L558.4 747.1L558 747.7L557.6 748.2L557.3 748.8L556.9 749.4L556.6 750L556.4 750.5L556.1 751.1L555.9 751.7L555.7 752.3L555.6 752.8L555.4 753.4L555.3 754L555.2 754.5L555.1 755.1L555.1 755.7L555.2 756.3L555.3 756.8L555.4 757.4L555.5 758L555.7 758.6L555.9 759.1L556.1 759.7L556.3 760.3L556.6 760.9L556.9 761.4L557.2 762L557.6 762.6L557.9 763.2L558.4 763.7L558.8 764.3L559.4 764.9L560 765.5L560.8 766L562.3 766.6L562.3 766.6L563.8 766L564.6 765.5L565.2 764.9L565.8 764.3L566.2 763.7L566.7 763.2L567 762.6L567.4 762L567.7 761.4L568 760.9L568.3 760.3L568.5 759.7L568.7 759.1L568.9 758.6L569.1 758L569.2 757.4L569.3 756.8L569.4 756.3L569.5 755.7L569.5 755.1L569.4 754.5L569.3 754L569.2 753.4L569 752.8L568.9 752.3L568.7 751.7L568.5 751.1L568.2 750.5L568 750L567.7 749.4L567.3 748.8L567 748.2L566.6 747.7L566.2 747.1L565.7 746.5L565.2 745.9L564.6 745.4L563.8 744.8L562.3 744.2Z" fill="#e2170f" fill-opacity="1.0"/>
<path d="M569 760h0m1.5-7.5h0m-3.5 6.5h0m-11-1.5h0m9.5-10h0m-8.5 2.5h0m1.5 15h0m4-1.5h0m-4.5-8h0m11-3h0m-11 5h0m10-1.5h0m-10.5-4.5h0m-2.5 3h0m10.5 1.5h0m-0.5 8h0m1-9h0m1-2h0m-7 7h0m-1-12h0m-0.5 13.5h0m0-1.5h0m5.5 4.5h0m-3-15h0m-3 3.5h0m3 15h0m1-26h0m1 24.5h0m0-1h0m-3.5-14.5h0m8.5 4.5h0m-8.5-8.5h0m-0.5 17h0m7-5.5h0m-2-7h0m-6 3.5h0m5-12h0m-3 17h0m-2.5 2.5h0m7-7h0m-0.5-2.5h0m4 5.5h0m-7-1.5h0m-4 5h0m9 2.5h0m1.5-13.5h0m2 2h0m-3.5-6h0m-1.5 8.5h0m-3.5 4h0m5.5-9h0m2-1.5h0m-13.5 5.5h0m14.5 5h0m-3 0h0m-7.5 5h0m9.5-12h0m-8 7.5h0m2-9h0m1.5-0.5h0m-6 13h0m8.5-13.5h0m-6-4.5h0m3 13h0m-3.5-2h0m-1.5-3.5h0m6.5-5h0m-2 10h0m-4.5-2h0m7.5-0.5h0m-0.5 8h0m-1.5-16.5h0m2.5 5.5h0m-5-3h0m1.5-1.5h0m-3 8h0m1-6.5h0m-1.5 14.5h0m0.5-5h0m-6-2h0m8 1h0m6-6h0m-9.5 3h0m8.5 0h0m0-2.5h0m-7.5 4h0m11-3.5h0m-7.5 5.5h0m6-2h0m-5.5 13.5h0m-0.5-12.5h0m7.5-3h0m-6-6h0m0 11h0m-6 0.5h0m-3.5-7h0m8.5 2h0m6 5h0m-7-17.5h0m-3 15h0m1.5 5h0m2.5-7.5h0m-6-5h0m0 8.5h0m0.5-1h0m2 4.5h0m8-2h0m-12.5-1h0m-0.5-7.5h0m5 11.5h0m8.5-4h0m-2-11.5h0m1.5 2.5h0m-7.5 5h0m4.5-5.5h0m-6.5 5.5h0m3-8h0m-2 0h0m4-3h0m-2 24h0m7-8h0m-8-11h0m2 20.5h0m-2-7h0m0.5-22h0m-2 16.5h0m5-3h0m-2.5-12.5h0m-4 19.5h0m1-12.5h0m6.5 5.5h0m-3.5-10h0m-1 1.5h0m-4.5 11.5h0m10.5-8.5h0m-2.5 12.5h0m-2-8h0m2 13h0m-1-25.5h0" stroke="#e2170f" stroke-width="2.9" stroke-linecap="round"/>
<path d="M555.8 755.5H568.8" stroke="#222" stroke-width="1.1"/>
<path d="M607.5 744.3V773.4" stroke="#78b6f4" stroke-width="1.1"/>
<path d="M607.5 749.4L605.9 749.8L605.1 750.3L604.4 750.7L603.9 751.2L603.4 751.7L602.9 752.1L602.5 752.6L602.2 753.1L601.9 753.5L601.6 754L601.3 754.4L601.1 754.9L600.9 755.4L600.7 755.8L600.5 756.3L600.4 756.8L600.3 757.2L600.3 757.7L600.3 758.1L600.4 758.6L600.5 759.1L600.6 759.5L600.8 760L600.9 760.5L601.1 760.9L601.3 761.4L601.5 761.8L601.8 762.3L602.1 762.8L602.3 763.2L602.6 763.7L603 764.2L603.4 764.6L603.8 765.1L604.2 765.5L604.7 766L605.3 766.5L606.1 766.9L607.5 767.4L607.5 767.4L608.9 766.9L609.7 766.5L610.3 766L610.8 765.5L611.2 765.1L611.6 764.6L612 764.2L612.4 763.7L612.7 763.2L612.9 762.8L613.2 762.3L613.5 761.8L613.7 761.4L613.9 760.9L614.1 760.5L614.2 760L614.4 759.5L614.5 759.1L614.6 758.6L614.7 758.1L614.7 757.7L614.7 757.2L614.6 756.8L614.5 756.3L614.3 755.8L614.1 755.4L613.9 754.9L613.7 754.4L613.4 754L613.1 753.5L612.8 753.1L612.5 752.6L612.1 752.1L611.6 751.7L611.1 751.2L610.6 750.7L609.9 750.3L609.1 749.8L607.5 749.4Z" fill="#78b6f4" fill-opacity="1.0"/>
<path d="M599 757h0m9.5 5h0m3-2.5h0m-7-7.5h0m9 1h0m-2.5-1.5h0m3 8.5h0m-7 6.5h0m-0.5-19.5h0m2.5 2.5h0m-4.5 12.5h0m4-9h0m-1-4.5h0m-7.5 11h0m8.5 5.5h0m-1-3h0m-2.5-5.5h0m5-6.5h0m-3 18.5h0m2-16.5h0m3.5 6.5h0m-9 3.5h0m4 5.5h0m-4-14.5h0m9 3.5h0m-4.5 6.5h0m-3-2.5h0m4.5-1h0m4-2.5h0m-7.5-7h0m-5 7.5h0m5.5 11h0m-2-15.5h0m4 10.5h0m-2.5-2.5h0m2.5-3.5h0m3-6h0m-4.5 4.5h0m2.5 7.5h0m-8-8h0m10 5h0m-9 4.5h0m8-9.5h0m-4 3.5h0m5.5 4h0m-3.5 8.5h0m-6-18h0m6 2h0m1.5-3.5h0m0 8h0m-4.5 2h0m8-1.5h0m-4-3.5h0m1-4.5h0m-2-3.5h0m-3.5 2.5h0m2.5 17.5h0m-4.5-11h0m0.5-1.5h0m5 12.5h0m1-2h0m-10-8h0m9-5h0m4-0.5h0m-13 2h0m5.5 6.5h0m-5-1.5h0m10-2.5h0m1-3.5h0m-4 9h0m3-10h0m-6 2.5h0m3-1.5h0m2.5 6.5h0m-9.5-6.5h0m13 1.5h0m-9.5 6h0m8.5-6.5h0m1 4h0m-8 1h0m1.5-3.5h0m6 4.5h0m-1.5 3.5h0m-3-17h0m-4 11.5h0m2.5 10h0m3.5-7.5h0m0 1.5h0m-6.5-2h0m2.5-12h0m9 10.5h0m-15.5 0.5h0m9 2.5h0m2.5-7h0m-4.5 0h0m2.5-4.5h0m-3 12.5h0m-3.5-10h0m-2 4.5h0m7.5 10.5h0m-4-9.5h0m5 1.5h0m-5 4.5h0m6-3.5h0m-8-1.5h0m3.5 0h0m7.5 3h0m-7-8.5h0m-4-1.5h0m-1 1.5h0m6 1.5h0m-2.5 0.5h0m7 7.5h0m-4.5-7h0m-2.5-5.5h0m3-3.5h0m0 8h0m0.5 10h0m-8-9h0m9.5-2h0m-5.5 6h0m9-7.5h0m-1 3.5h0m-3.5-4h0m-2 12.5h0m8-8h0m-12.5-5h0m0 10h0m8-7h0m0.5 5.5h0m3-1h0m-3.5-2h0m0 0.5h0m1 1h0m-6 3.5h0m7.5-8.5h0m0.5 3h0m-4.5 2.5h0m0.5-1.5h0" stroke="#78b6f4" stroke-width="2.9" stroke-linecap="round"/>
<path d="M601 757.6H614" stroke="#222" stroke-width="1.1"/>
<path d="M622.8 735.5V774.8" stroke="#74a63a" stroke-width="1.1"/>
<path d="M622.8 743.5L621.4 744.1L620.6 744.8L620 745.4L619.5 746L619 746.6L618.6 747.3L618.3 747.9L617.9 748.5L617.6 749.1L617.3 749.8L617.1 750.4L616.8 751L616.6 751.6L616.4 752.3L616.2 752.9L616.1 753.5L615.9 754.1L615.8 754.8L615.7 755.4L615.6 756L615.6 756.6L615.6 757.3L615.7 757.9L615.9 758.5L616 759.1L616.2 759.8L616.4 760.4L616.6 761L616.9 761.6L617.2 762.3L617.5 762.9L617.9 763.5L618.3 764.1L618.7 764.8L619.2 765.4L619.8 766L620.4 766.6L621.2 767.3L622.8 767.9L622.8 767.9L624.4 767.3L625.2 766.6L625.8 766L626.4 765.4L626.9 764.8L627.3 764.1L627.7 763.5L628.1 762.9L628.4 762.3L628.7 761.6L629 761L629.2 760.4L629.4 759.8L629.6 759.1L629.7 758.5L629.9 757.9L630 757.3L630 756.6L630 756L629.9 755.4L629.8 754.8L629.7 754.1L629.5 753.5L629.4 752.9L629.2 752.3L629 751.6L628.8 751L628.5 750.4L628.3 749.8L628 749.1L627.7 748.5L627.3 747.9L627 747.3L626.6 746.6L626.1 746L625.6 745.4L625 744.8L624.2 744.1L622.8 743.5Z" fill="#74a63a" fill-opacity="1.0"/>
<path d="M628 758.5h0m-9 3h0m5.5-8.5h0m-6.5-1.5h0m13 6.5h0m-4.5-4.5h0m-4.5 0.5h0m0.5-1h0m4 1.5h0m-11 3.5h0m7.5-11h0m5 16h0m-6.5 7.5h0m1.5-23h0m-5.5 4.5h0m1 13h0m9-16.5h0m-5.5 12h0m8-8h0m-4 11.5h0m-10.5-6.5h0m5.5-12h0m-3 6h0m0 0.5h0m0-4h0m9 12.5h0m-1.5-6.5h0m-9.5 0.5h0m14-3h0m-6.5-2h0m-1.5 8.5h0m0.5-9.5h0m1.5-1.5h0m-1.5 8h0m-4-3h0m4.5 8.5h0m-3.5 3.5h0m2 5h0m6.5-10.5h0m-10 6h0m4-24.5h0m5.5 12.5h0m-1.5 8h0m-8-6h0m4.5 12h0m-0.5-19h0m-4.5 10.5h0m9 5.5h0m-1.5-1.5h0m-0.5 6.5h0m3-15.5h0m0-5h0m-3 9h0m-1 7.5h0m-4.5-7.5h0m4.5-14h0m-6 15h0m13 0h0m-8.5-12.5h0m-0.5 23.5h0m-3.5-6.5h0m4-26.5h0m-0.5 15.5h0m7 0.5h0m-6-9.5h0m-5 6h0m13 3h0m-8.5-12h0m0 20.5h0m-6.5-4.5h0m4 9.5h0m8.5-8h0m-7.5-11.5h0m-2 9.5h0m9-1h0m-8-6.5h0m2.5 14h0m-1 2.5h0m7-8.5h0m-4.5-10h0m-7 15h0m-1-6h0m2.5 9.5h0m-3.5-9h0m16.5-0.5h0m-7.5-2.5h0m-1-2h0m2 11h0m-8.5-5.5h0m1 6.5h0m8.5-12h0m0.5 5h0m-7-1h0m2 8h0m0-10.5h0m7 8.5h0m-10.5-7h0m8.5 2.5h0m-5.5-5.5h0m1-6.5h0m6 20.5h0m-0.5-15h0m-3.5 11h0m-4.5-0.5h0m2-9.5h0m1.5-1.5h0m-8.5 5.5h0m6-0.5h0m-3.5 8.5h0m7-17h0m1 14h0m0.5-14.5h0m-5 12.5h0m0.5 4h0m3.5 7.5h0m-3.5-4.5h0m7.5-15h0m-3 12h0m-3-16h0m8.5 15.5h0m-9.5-5h0m2.5-2h0m6.5 2h0m-14.5 2h0m14.5-2.5h0m-7 11.5h0m0-8h0m4-7h0m-2 12.5h0m-8-4.5h0m13.5-5h0m-12.5 5h0m-2-10h0m5.5-8h0m0 11.5h0m9 0h0m-13.5 2h0m1 6.5h0m9-10.5h0" stroke="#74a63a" stroke-width="2.9" stroke-linecap="round"/>
<path d="M616.3 756.6H629.3" stroke="#222" stroke-width="1.1"/>
<path d="M638.1 737.3V776.9" stroke="#e2170f" stroke-width="1.1"/>
<path d="M638.1 745.4L636.7 746.1L635.9 746.7L635.3 747.3L634.8 748L634.4 748.6L633.9 749.2L633.6 749.8L633.2 750.5L632.9 751.1L632.6 751.7L632.4 752.4L632.1 753L631.9 753.6L631.7 754.2L631.5 754.9L631.4 755.5L631.2 756.1L631.1 756.8L631 757.4L630.9 758L630.9 758.7L630.9 759.3L631 759.9L631.1 760.5L631.3 761.2L631.5 761.8L631.7 762.4L631.9 763.1L632.2 763.7L632.5 764.3L632.8 764.9L633.2 765.6L633.6 766.2L634 766.8L634.5 767.5L635 768.1L635.7 768.7L636.5 769.4L638.1 770L638.1 770L639.7 769.4L640.5 768.7L641.2 768.1L641.7 767.5L642.2 766.8L642.6 766.2L643 765.6L643.4 764.9L643.7 764.3L644 763.7L644.3 763.1L644.5 762.4L644.7 761.8L644.9 761.2L645.1 760.5L645.2 759.9L645.3 759.3L645.3 758.7L645.3 758L645.2 757.4L645.1 756.8L645 756.1L644.8 755.5L644.7 754.9L644.5 754.2L644.3 753.6L644.1 753L643.8 752.4L643.6 751.7L643.3 751.1L643 750.5L642.6 749.8L642.3 749.2L641.8 748.6L641.4 748L640.9 747.3L640.3 746.7L639.5 746.1L638.1 745.4Z" fill="#e2170f" fill-opacity="1.0"/>
<path d="M642.5 750h0m0.5 1.5h0m-12 6h0m3 8h0m1.5-6h0m5.5-4h0m-7.5-6.5h0m-2.5 10.5h0m8.5-15.5h0m-3.5 15h0m-1 2.5h0m0.5-6.5h0m-1.5-3h0m5.5-1h0m-4.5 13h0m4.5-5h0m-10 1.5h0m15.5-7.5h0m-13-1h0m10-3h0m-2-0.5h0m-8 15.5h0m13-9h0m-15 5.5h0m7.5 8h0m-2-16.5h0m1 12h0m0-15h0m5.5 2h0m-4.5 18h0m2.5-8h0m-0.5 6.5h0m-0.5-26h0m2 13.5h0m-7 7h0m1 2.5h0m-4-7h0m7.5-5.5h0m-5 15h0m3.5-25.5h0m-0.5 23h0m7-2.5h0m-6-9.5h0m-4 11h0m5.5 4h0m-0.5-17.5h0m2 5h0m-3 4h0m-1-10.5h0m2 4.5h0m2.5 4.5h0m-9.5-2h0m1 8.5h0m8.5-7.5h0m-4-11.5h0m-2 9.5h0m4 14.5h0m1-20.5h0m-6 17h0m3.5-7h0m-6 2.5h0m13.5 2.5h0m-8.5-4h0m2.5-15h0m-9 11.5h0m5 1.5h0m0.5 1h0m6 1.5h0m-6.5-3.5h0m-4.5 5h0m3 2h0m0.5-3.5h0m9 2.5h0m-2-11.5h0m-1.5 19.5h0m-8.5-14.5h0m2.5-4h0m9 2h0m-4-1h0m-0.5-2h0m1.5 2h0m0-6h0m-2-0.5h0m0.5 23.5h0m2.5-23h0m-8 7.5h0m7.5 11.5h0m1.5-10h0m-7.5 9.5h0m3-11h0m6 2.5h0m-7.5-8.5h0m8.5 13.5h0m-11.5 3.5h0m4.5-18h0m-1.5 20.5h0m2 3h0m3-11.5h0m-10-2.5h0m11.5-9h0m2 17.5h0m-1-1h0m-2.5-15h0m4 4.5h0m-9.5 14.5h0m-1.5-4.5h0m3.5-3h0m-2.5 0h0m-1-5h0m4.5 2.5h0m-1.5-0.5h0m-1 3h0m1.5 2.5h0m-3-14h0m3 22.5h0m-3-9.5h0m-3.5 1h0m1-5.5h0m6.5-13.5h0m7.5 12.5h0m-1 6h0m-6-15.5h0m-1 24.5h0m-2.5-10.5h0m2.5 2.5h0m5.5 2h0m-9-9.5h0m5.5-12h0m-6 13.5h0m6.5-1.5h0m-3.5 3h0m-4.5 4h0m7-9h0m1 9.5h0m4.5-13h0m1 5.5h0m-13.5-1.5h0m9-5.5h0m5.5 10.5h0" stroke="#e2170f" stroke-width="2.9" stroke-linecap="round"/>
<path d="M631.6 758.7H644.6" stroke="#222" stroke-width="1.1"/>
</g>
<g fill="none">
<path d="M92.5 608.5V781M682.5 608.5V781" stroke="#bcbcbc" stroke-width="1.4"/>
<path d="M91.8 608.5H683.2" stroke="#c4c4c4" stroke-width="1.4"/>
<path d="M91.8 781H683.2" stroke="#bababa" stroke-width="1.4"/>
<path d="M92.5 646.3h6M682.5 646.3h-6M92.5 704h6M682.5 704h-6M92.5 761.8h6M682.5 761.8h-6M168 608.5v6M168 781v-6M243.8 608.5v6M243.8 781v-6M319.6 608.5v6M319.6 781v-6M395.4 608.5v6M395.4 781v-6M471.2 608.5v6M471.2 781v-6M547 608.5v6M547 781v-6M622.8 608.5v6M622.8 781v-6" stroke="#b8b8b8" stroke-width="1.1"/>
</g>
<text x="77" y="653.6" font-size="18" text-anchor="end">0.6</text>
<text x="77.5" y="709.5" font-size="18" text-anchor="end">0.3</text>
<text x="80.3" y="767.6" font-size="18" text-anchor="end">0</text>
<text x="337.5" y="643.6" font-size="18" text-anchor="start">AC to PC</text>
<circle cx="532" cy="634.8" r="9" fill="#78b6f4"/>
<text x="556.5" y="639.4" font-size="18" text-anchor="start">Visual</text>
<circle cx="532" cy="660.2" r="9" fill="#74a63a"/>
<text x="556.5" y="664.5" font-size="18" text-anchor="start">Auditory</text>
<circle cx="532" cy="686" r="9" fill="#e2170f"/>
<text x="556.5" y="691.4" font-size="18" text-anchor="start">Global</text>
<text x="163.1" y="806" font-size="18" text-anchor="middle">1-2</text>
<text x="240.6" y="806" font-size="18" text-anchor="middle">2-4</text>
<text x="319.4" y="806" font-size="18" text-anchor="middle">4-8</text>
<text x="396.5" y="806" font-size="18" text-anchor="middle">8-16</text>
<text x="472.9" y="806" font-size="18" text-anchor="middle">16-32</text>
<text x="551.5" y="806" font-size="18" text-anchor="middle">32-64</text>
<text x="628.6" y="806" font-size="18" text-anchor="middle">64-128</text>
<text x="35.5" y="699.5" font-size="18" text-anchor="middle" transform="rotate(-90 35.5 699.5)">Tsfr. Entropy (bits)</text>
<clipPath id="cc"><rect x="93" y="819.9" width="589.4" height="175.39999999999998"/></clipPath>
<g clip-path="url(#cc)">
<path d="M139.1 839.9V981.2" stroke="#e8409c" stroke-width="1.1"/>
<path d="M139.1 862L138.7 864.5L138.4 866.9L138.1 869.4L137.8 871.8L137.5 874.3L137.3 876.8L137 879.2L136.8 881.7L136.5 884.2L136.3 886.6L136.1 889.1L135.9 891.5L135.6 894L135.4 896.5L135.2 898.9L135 901.4L134.9 903.8L134.7 906.3L134.6 908.8L134.6 911.2L134.8 913.7L135 916.2L135.1 918.6L135.3 921.1L135.5 923.5L135.7 926L135.9 928.5L136.1 930.9L136.4 933.4L136.6 935.8L136.8 938.3L137.1 940.8L137.3 943.2L137.6 945.7L137.8 948.2L138.1 950.6L138.4 953.1L138.7 955.5L139.1 958L139.1 958L139.5 955.5L139.8 953.1L140.1 950.6L140.4 948.2L140.6 945.7L140.9 943.2L141.1 940.8L141.4 938.3L141.6 935.8L141.8 933.4L142.1 930.9L142.3 928.5L142.5 926L142.7 923.5L142.9 921.1L143.1 918.6L143.2 916.2L143.4 913.7L143.6 911.2L143.6 908.8L143.5 906.3L143.3 903.8L143.2 901.4L143 898.9L142.8 896.5L142.6 894L142.3 891.5L142.1 889.1L141.9 886.6L141.7 884.2L141.4 881.7L141.2 879.2L140.9 876.8L140.7 874.3L140.4 871.8L140.1 869.4L139.8 866.9L139.5 864.5L139.1 862Z" fill="#e8409c" fill-opacity="0.4"/>
<path d="M132.5 924.5h2m8 10h2m-10.5-12h2m7.5-24h2m-6.5-17.5h2m-3 44h2m-0.5-26.5h2m-8 20h2m-1 9h2m4.5 12h2m-6-2.5h2m-2.5-46.5h2m4.5 27.5h2m-8 17h2m1.5-27h2m-9.5-16.5h2m0 49h2m-3-45.5h2m4 24.5h2m-5.5-19h2m-0.5-23.5h2m0 14h2m-5.5-15.5h2m-8 35h2m5 26.5h2m0.5-16.5h2m-3.5 31.5h2m1-13.5h2m-13-36h2m4.5-12h2m0 66h2m-3-33.5h2m-5 12h2m-0.5-2h2m-1-17.5h2m1.5-5h2m0-5h2m-11 4h2m-3-4.5h2m8.5 4.5h2m-12 11h2m0.5 19h2m-1.5-59.5h2m6.5 17.5h2m-11 11h2m-1.5 19.5h2m1-2h2m-10-22h2m5.5 18h2m-8 11.5h2m5-24h2m-4 44h2m-5.5-30h2m3.5-46h2m-7 47.5h2m2-40.5h2m-1 17.5h2m-3.5-14h2m-1-28h2m-2 41.5h2m-7.5-15.5h2m2.5-9h2m-0.5-3.5h2m-6 15h2m-0.5-21h2m-2 23h2m1.5 32.5h2m-5.5-47.5h2m0.5 73h2m-1.5-3h2m-4-85.5h2m-4 44.5h2m6-3h2m-5-8.5h2m0 6h2m-9-7h2m1.5 0h2m-6 32h2m-0.5-17h2m-8.5 4h2m8.5-26.5h2m-1.5 2h2m-10 5h2m4 5.5h2m-8 6.5h2m0 16.5h2m-7-9.5h2m7-8h2m2.5-5h2m-7-10h2m2 35.5h2m-5.5-30h2m-8.5 33h2m0-11h2m-1.5 25h2m2.5-42.5h2m-6.5 39h2m-1-43h2m0.5-24.5h2m-5.5 77h2m-0.5-66h2m-3.5 44h2m-1.5 5h2m1.5 18h2m-1-28h2m-1 13h2m-8-11h2m4.5 2.5h2m-1.5-23h2m-10-13.5h2m-0.5 10h2m5.5 21.5h2m-5-15.5h2m-2.5-15h2m-5.5-10h2m4.5 49.5h2m-10.5-29h2m-0.5 0h2m2 6h2m-6 41h2m-0.5-36h2m-3-14h2m3 16h2m-8-11h2m0-20.5h2m-4.5 23.5h2m3.5-6.5h2m-4 33.5h2m-6-35.5h2m-2 30.5h2m4.5-18h2m-9-9.5h2m6.5 20h2m-6 42.5h2m-3.5-88h2m0 18h2m-4.5-2.5h2m1-13.5h2m-0.5 54.5h2m-4.5 12.5h2m-8-49.5h2m8.5 19h2m-9-19.5h2" stroke="#e8409c" stroke-width="2.3" stroke-linecap="round"/>
<path d="M130.1 909.3H148.1" stroke="#111" stroke-width="1.5"/>
<path d="M154.6 847.6V1010" stroke="#3aa39b" stroke-width="1.1"/>
<path d="M154.6 890L153.6 892.8L153 895.6L152.6 898.5L152.3 901.3L151.9 904.1L151.7 906.9L151.4 909.7L151.2 912.6L151 915.4L150.8 918.2L150.6 921L150.4 923.8L150.3 926.7L150.2 929.5L150.1 932.3L150 935.1L149.9 937.9L149.9 940.8L149.9 943.6L149.9 946.4L150 949.2L150.1 952.1L150.1 954.9L150.2 957.7L150.4 960.5L150.5 963.3L150.6 966.2L150.8 969L151 971.8L151.2 974.6L151.4 977.4L151.6 980.3L151.8 983.1L152.1 985.9L152.4 988.7L152.7 991.5L153.1 994.4L153.6 997.2L154.6 1000L154.6 1000L155.6 997.2L156.1 994.4L156.5 991.5L156.8 988.7L157.1 985.9L157.4 983.1L157.6 980.3L157.8 977.4L158 974.6L158.2 971.8L158.4 969L158.6 966.2L158.7 963.3L158.8 960.5L159 957.7L159.1 954.9L159.1 952.1L159.2 949.2L159.3 946.4L159.3 943.6L159.3 940.8L159.3 937.9L159.2 935.1L159.1 932.3L159 929.5L158.9 926.7L158.8 923.8L158.6 921L158.4 918.2L158.2 915.4L158 912.6L157.8 909.7L157.5 906.9L157.3 904.1L156.9 901.3L156.6 898.5L156.2 895.6L155.6 892.8L154.6 890Z" fill="#3aa39b" fill-opacity="0.4"/>
<path d="M157.5 932h2m-7.5 42.5h2m1.5 15.5h2m1.5-74.5h2m-11.5-10h2m-2-4h2m5 51h2m-3.5-23h2m-8 21h2m8.5-36h2m-8-21.5h2m-2 86h2m-10-37.5h2m2.5 47.5h2m3-49h2m-1.5 56h2m-0.5-53h2m-3 32h2m1-27h2m-7 34.5h2m-1.5-46.5h2m-2-8h2m-5.5 31h2m-1.5-65.5h2m-3.5 29.5h2m1 48.5h2m-8.5-37.5h2m6 26.5h2m-9-25h2m6 2h2m-8-25.5h2m8 43h2m-5 30.5h2m-10-35h2m6-13.5h2m-9.5-11.5h2m-1-14.5h2m-4 21h2m5.5 22h2m-4 46.5h2m-6-17.5h2m6-77h2m-10 27h2m-4.5 26h2m5-36h2m1-8h2m-3 44.5h2m-4.5-75h2m4 37.5h2m-2 22h2m-13 29h2m4-61.5h2m-4-18h2m-6.5 15.5h2m-3 60h2m0.5-40h2m-3.5 2h2m-1.5 27.5h2m10.5-7h2m-11.5-4.5h2m4.5 26.5h2m-11.5-60h2m-2.5 59.5h2m-2.5-51.5h2m2 21.5h2m1.5-41h2m-1.5 55h2m-0.5-19.5h2m-5-39h2m-0.5 91.5h2m-6.5-41h2m-1.5 8h2m7.5-3.5h2m-12 12.5h2m2-12h2m-7 26h2m-0.5-34h2m-3 4.5h2m2-39h2m-5 79h2m6.5-60.5h2m-3 23.5h2m-1 1h2m-10.5-21.5h2m-6-21.5h2m2 38.5h2m-1-61h2m-1 98.5h2m-2-77h2m-8 12.5h2m2 68h2m0-89h2m-9 58.5h2m10-46.5h2m-7.5-10.5h2m2.5 43.5h2m-0.5-35h2m-2.5 14.5h2m-4-0.5h2m-13 27.5h2m0.5-39.5h2m-0.5 30h2m-1.5 19.5h2m-2 16h2m4 6.5h2m-3-16.5h2m-3-28.5h2m-7.5 30h2m2.5 27h2m-7.5-37.5h2m6.5-45h2m-2 60h2m2-6h2m-8.5-25h2m6.5-9h2m-13 46h2m7.5-48h2m-16.5 10h2m10 20h2m0-45h2m-4.5-18.5h2m-2.5 20.5h2m-9 36.5h2m-3 19.5h2m7-20.5h2m-9.5 0h2m4-11.5h2m-3 2h2m-2.5-5h2m1.5 32.5h2m-9-25h2m1.5 9h2m-9.5 14h2m0-11h2m2.5-18.5h2m-8 32.5h2m8-58h2m-0.5 18h2m-7 57.5h2m-5.5-56.5h2m0 58h2m2-86.5h2m0 19.5h2" stroke="#3aa39b" stroke-width="2.3" stroke-linecap="round"/>
<path d="M154.6 864.6L149.9 942L154.6 1010M154.6 864.6L159.3 942L154.6 1010" fill="none" stroke="#3aa39b" stroke-width="1"/>
<path d="M145.6 942H163.6" stroke="#111" stroke-width="1.5"/>
<path d="M216.7 879.6V981.2" stroke="#e8409c" stroke-width="1.1"/>
<path d="M216.7 894.8L216.4 896.4L216.1 897.9L215.9 899.5L215.7 901L215.4 902.6L215.2 904.1L215 905.7L214.8 907.3L214.6 908.8L214.4 910.4L214.2 911.9L214 913.5L213.9 915L213.7 916.6L213.5 918.1L213.3 919.7L213.2 921.3L213 922.8L212.9 924.4L212.7 925.9L212.6 927.5L212.4 929L212.3 930.6L212.2 932.2L212.3 933.7L212.5 935.3L212.7 936.8L213 938.4L213.3 939.9L213.5 941.5L213.8 943L214.1 944.6L214.4 946.2L214.8 947.7L215.1 949.3L215.5 950.8L215.8 952.4L216.2 953.9L216.7 955.5L216.7 955.5L217.2 953.9L217.6 952.4L218 950.8L218.4 949.3L218.7 947.7L219 946.2L219.3 944.6L219.6 943L219.9 941.5L220.2 939.9L220.5 938.4L220.7 936.8L221 935.3L221.2 933.7L221.3 932.2L221.2 930.6L221 929L220.9 927.5L220.7 925.9L220.6 924.4L220.4 922.8L220.3 921.3L220.1 919.7L219.9 918.1L219.8 916.6L219.6 915L219.4 913.5L219.2 911.9L219 910.4L218.8 908.8L218.6 907.3L218.4 905.7L218.2 904.1L218 902.6L217.8 901L217.6 899.5L217.3 897.9L217.1 896.4L216.7 894.8Z" fill="#e8409c" fill-opacity="0.4"/>
<path d="M210 920h2m6 7h2m-5 7.5h2m-1.5-10h2m-2.5-17.5h2m0 26h2m-3-4h2m-3.5-19h2m-3.5 0.5h2m-4 4h2m2.5-13.5h2m0 44h2m-9-28.5h2m0.5-1.5h2m2.5 18h2m-4-23.5h2m-5 17h2m-4.5-6h2m2.5-15.5h2m-1 15.5h2m-2 50.5h2m4-30.5h2m-11 7h2m2.5-23h2m-6-19.5h2m-2 22.5h2m-3-8.5h2m1.5 9.5h2m-2-0.5h2m6 6h2m-9.5 9h2m-7-26.5h2m1.5-15h2m4 38.5h2m-9-35h2m-6 21h2m-0.5 3h2m1.5 21h2m-3.5-42.5h2m-2 39h2m-3.5-21h2m-2 4h2m3.5-7h2m-4.5-0.5h2m-7.5 10h2m-2 6h2m3-13h2m-7.5 11h2m1.5-27h2m-1 7h2m6 24.5h2m-9.5-34.5h2m3.5 15h2m-1.5 7h2m-12-7h2m7-6.5h2m0.5 24.5h2m-1-12.5h2m-4.5 5h2m-5-1.5h2m-4 13h2m6-5.5h2m-9.5-43h2m-4.5 38h2m2.5 1h2m3-5.5h2m-4-15.5h2m-9 18.5h2m-1.5-26h2m1 48.5h2m-6.5-40.5h2m-2 31h2m1-40.5h2m0.5 45.5h2m-3-30.5h2m4.5 8.5h2m-8.5-6h2m-7-7h2m3-5.5h2m-0.5 4.5h2m-9.5 9h2m-2 5h2m5-12h2m1.5 10h2m-6.5-2h2m-5 16.5h2m0-41h2m2.5 18.5h2m-5 23.5h2m-5.5-29.5h2m-5 26.5h2m5 0h2m-5-29.5h2m-4.5 19.5h2m2 17.5h2m2-28.5h2m-7.5 31.5h2m-3.5-4.5h2m-1-5.5h2m-4.5-20h2m3.5 0h2m-4.5 4.5h2m-4.5 9.5h2m5.5-15h2m-9 19h2m-0.5-14h2m-2-21.5h2m4.5 17h2m-4-10.5h2m-5 33h2m1 2h2m-1-7.5h2m-5.5-22h2m-0.5 29.5h2m-1.5-17.5h2m-1.5 23.5h2m-6.5-25.5h2m-0.5-26h2m2.5 32h2m-3.5 16.5h2m-8-11.5h2m-6 0h2m5.5-2h2m0-12.5h2m-0.5 18h2m-4 7.5h2m-4-58h2m-4.5 44.5h2m-0.5-26.5h2m0.5-0.5h2m1 33h2m-6.5-34.5h2m-2.5 52h2m1-38.5h2m-2 22.5h2m-7.5-19.5h2m4 22.5h2m-4-6.5h2m-3.5-4h2m0.5-27h2m-8.5 25.5h2m2 23h2m0-14.5h2" stroke="#e8409c" stroke-width="2.3" stroke-linecap="round"/>
<path d="M207.7 932.6H225.7" stroke="#111" stroke-width="1.5"/>
<path d="M232.2 902.9V1010" stroke="#3aa39b" stroke-width="1.1"/>
<path d="M232.2 929.8L231.4 931.6L231 933.4L230.7 935.2L230.4 937L230.1 938.8L229.9 940.6L229.7 942.4L229.5 944.2L229.3 946L229.1 947.8L229 949.6L228.8 951.4L228.7 953.2L228.5 955L228.4 956.8L228.3 958.6L228.2 960.4L228.1 962.2L228 964L227.9 965.8L227.8 967.6L227.7 969.4L227.7 971.2L227.6 973L227.6 974.8L227.5 976.6L227.5 978.4L227.5 980.2L227.6 982L227.7 983.8L227.9 985.6L228.2 987.4L228.4 989.2L228.8 991L229.2 992.8L229.6 994.6L230.2 996.4L230.9 998.2L232.2 1000L232.2 1000L233.6 998.2L234.3 996.4L234.8 994.6L235.3 992.8L235.7 991L236 989.2L236.3 987.4L236.5 985.6L236.7 983.8L236.9 982L236.9 980.2L237 978.4L236.9 976.6L236.9 974.8L236.8 973L236.8 971.2L236.7 969.4L236.7 967.6L236.6 965.8L236.5 964L236.4 962.2L236.3 960.4L236.2 958.6L236.1 956.8L235.9 955L235.8 953.2L235.7 951.4L235.5 949.6L235.3 947.8L235.2 946L235 944.2L234.8 942.4L234.6 940.6L234.3 938.8L234.1 937L233.8 935.2L233.4 933.4L233 931.6L232.2 929.8Z" fill="#3aa39b" fill-opacity="0.4"/>
<path d="M229.5 974.5h2m-6.5-12h2m2.5-6.5h2m0.5 4h2m-8-2h2m8 0h2m-4-14h2m-8 10.5h2m3.5 5h2m-3-2h2m-7.5-16h2m2.5 11h2m0.5 9h2m-8 18h2m5.5 15.5h2m-0.5-40h2m-7.5-27h2m-3 71.5h2m1-14h2m-8.5-2.5h2m2 16.5h2m3.5-32.5h2m-14 15.5h2m6-23.5h2m-8 29h2m-1.5-15.5h2m10.5 0.5h2m-14 10h2m-0.5-43h2m-1.5 39.5h2m-2.5-4.5h2m-6 1.5h2m8.5 2h2m-6 2.5h2m-4-17h2m1 2h2m-1 29h2m1.5-41h2m-8.5-22h2m3.5 31.5h2m-8.5 25.5h2m3 1.5h2m-1.5-28h2m-10.5 30.5h2m0-20h2m4 9h2m-12.5-4.5h2m8.5-25h2m-9.5 28h2m-5-7h2m5 11.5h2m-7-33.5h2m4 44h2m-1.5-12h2m-8.5-10.5h2m0-16.5h2m6 14.5h2m-5.5 9h2m-2-13h2m-5 22h2m-3.5-39.5h2m1 22h2m-4 16.5h2m6-6h2m-9-13h2m5.5 20h2m-14-2h2m2-24.5h2m6 28.5h2m-8.5-3.5h2m-3.5-27.5h2m-7-0.5h2m1.5 0.5h2m-5.5 2h2m4.5-30h2m-4.5 20h2m-2.5 1.5h2m7.5 17.5h2m-8.5-31h2m-8.5 20h2m1 0h2m1 18.5h2m-6.5-3h2m4.5 16h2m-11-11.5h2m6.5-76h2m2 61h2m-6.5-14h2m-4-6.5h2m-3.5 28.5h2m6.5 11h2m-7.5-25.5h2m-4 12h2m-6-2h2m6.5-7.5h2m-2.5 20h2m-7 2.5h2m-3-10h2m1-11h2m-6 14.5h2m2 14h2m0.5-39h2m-8-2.5h2m7 40h2m-8.5-9.5h2m1-8h2m-7.5-18h2m7-8h2m-11.5 25h2m1 22h2m3-42h2m-4.5 32h2m-4.5-36.5h2m5.5 10.5h2m-8 42h2m0-12.5h2m-4.5 0h2m3.5-24h2m0.5 5h2m-5-26.5h2m-1.5 41.5h2m-11.5-25.5h2m8 9.5h2m-6-8.5h2m-4-49h2m5 63.5h2m-3.5-14.5h2m-7 28h2m5-16.5h2m-2.5 22.5h2m-7.5-42h2m5 37h2m-4-20.5h2m-5.5 26h2m-6.5-16.5h2m-2-4h2m-3 19h2m8-36h2m-6.5-10h2m-5 14.5h2m1.5 29h2m-3.5-34h2m-0.5-13.5h2" stroke="#3aa39b" stroke-width="2.3" stroke-linecap="round"/>
<path d="M232.2 913.7L227.5 979.6L232.2 1010M232.2 913.7L237 979.6L232.2 1010" fill="none" stroke="#3aa39b" stroke-width="1"/>
<path d="M223.2 979.6H241.2" stroke="#111" stroke-width="1.5"/>
<path d="M294.4 903.9V970.5" stroke="#e8409c" stroke-width="1.1"/>
<path d="M294.4 921L294 922L293.7 923.1L293.4 924.1L293.1 925.1L292.9 926.1L292.6 927.2L292.4 928.2L292.1 929.2L291.9 930.2L291.7 931.3L291.5 932.3L291.3 933.3L291.1 934.3L290.9 935.4L290.7 936.4L290.5 937.4L290.3 938.4L290.1 939.5L290 940.5L289.8 941.5L289.9 942.5L290 943.6L290.2 944.6L290.4 945.6L290.6 946.6L290.8 947.7L291 948.7L291.2 949.7L291.5 950.7L291.7 951.8L292 952.8L292.2 953.8L292.5 954.8L292.7 955.9L293 956.9L293.3 957.9L293.6 958.9L294 960L294.4 961L294.4 961L294.8 960L295.1 958.9L295.4 957.9L295.7 956.9L296 955.9L296.2 954.8L296.5 953.8L296.8 952.8L297 951.8L297.2 950.7L297.5 949.7L297.7 948.7L297.9 947.7L298.1 946.6L298.3 945.6L298.5 944.6L298.7 943.6L298.9 942.5L298.9 941.5L298.7 940.5L298.6 939.5L298.4 938.4L298.2 937.4L298 936.4L297.8 935.4L297.6 934.3L297.4 933.3L297.2 932.3L297 931.3L296.8 930.2L296.6 929.2L296.3 928.2L296.1 927.2L295.8 926.1L295.6 925.1L295.3 924.1L295 923.1L294.7 922L294.4 921Z" fill="#e8409c" fill-opacity="0.4"/>
<path d="M294.5 932.5h2m-6 8.5h2m1-6.5h2m-1.5 16h2m-1.5-23h2m-6 7h2m1.5-9h2m3 20.5h2m-5.5-16h2m0.5 13h2m-10-12.5h2m-3.5 8.5h2m5.5-13h2m-1.5 15h2m-3-1.5h2m-6 3.5h2m0.5 0.5h2m-4.5-12.5h2m1.5 10h2m-8.5 8h2m5-17.5h2m-4 5h2m-1.5-14h2m-2.5 10.5h2m-1-12.5h2m-2.5 1.5h2m-5.5 13h2m-2-4.5h2m-6.5 12.5h2m4.5-14h2m-5.5 11h2m0 15h2m0.5 4h2m-2.5-25.5h2m-2-16h2m5 24h2m-10.5 11.5h2m-3.5-7.5h2m-0.5-2h2m3.5 9h2m-3.5-27h2m-5.5 19.5h2m1.5 10h2m3-14h2m-3 1h2m-2.5 6.5h2m-5.5-7.5h2m-1 3.5h2m-3-2h2m-1.5 12h2m-2.5-4h2m-7.5 3.5h2m7.5-8.5h2m-8.5-19h2m-3 6.5h2m5.5 10.5h2m-2 0h2m-10 12h2m-1.5-10h2m-1.5 5.5h2m0.5-6.5h2m-3-15.5h2m0.5 9h2m-4.5 19.5h2m-2.5-25h2m-6 10.5h2m6.5-5h2m-5.5-3.5h2m-5.5 22h2m1 4h2m4-21h2m-16.5 0h2m0.5 4.5h2m3-12.5h2m3 3h2m-8-5.5h2m-4 15.5h2m-1.5-13.5h2m-1 14.5h2m7-0.5h2m-12.5 5h2m3-6.5h2m-5-1.5h2m-7 2h2m4.5-8.5h2m-1.5 24.5h2m-3-44h2m1.5 24h2m-11-3.5h2m1.5 10h2m2 9h2m-4 3.5h2m-6-24.5h2m4.5-4.5h2m-1 14h2m1.5-4h2m-5.5-7.5h2m-10 1.5h2m5 8.5h2m-8-0.5h2m7.5 3.5h2m-11-9.5h2m8 3h2m-11.5-2h2m2.5-1h2m-2 17h2m-0.5-7h2m-6-11.5h2m1-3h2m-2 8.5h2m-1 0.5h2m-11 5h2m-0.5-8.5h2m5-4.5h2m-9.5 2h2m1-2.5h2m-3 12.5h2m3 7h2m0-11h2m-13.5 0h2m7-3h2m1 2h2m-3-1.5h2m-6.5 18.5h2m-1.5-30h2m0 18h2m-3-9.5h2m-7 0h2m-2.5 7.5h2m7 2.5h2m-2-3h2m-6-16.5h2m-6 20h2m3-0.5h2m-3.5-9h2m-2.5 8.5h2m5-7.5h2m-5-7.5h2m-4-5h2m-5 6.5h2m-1.5 27.5h2m-4-12.5h2m-5.5-3.5h2" stroke="#e8409c" stroke-width="2.3" stroke-linecap="round"/>
<path d="M285.4 942H303.4" stroke="#111" stroke-width="1.5"/>
<path d="M309.9 924.2V1010" stroke="#3aa39b" stroke-width="1.1"/>
<path d="M309.9 942L309 943.5L308.6 945L308.2 946.5L307.9 947.9L307.6 949.4L307.4 950.9L307.2 952.4L307 953.9L306.8 955.4L306.6 956.9L306.4 958.4L306.3 959.8L306.1 961.3L306 962.8L305.9 964.3L305.7 965.8L305.6 967.3L305.5 968.8L305.4 970.3L305.4 971.7L305.3 973.2L305.2 974.7L305.2 976.2L305.1 977.7L305.1 979.2L305.2 980.7L305.3 982.2L305.4 983.6L305.5 985.1L305.7 986.6L305.9 988.1L306.2 989.6L306.4 991.1L306.8 992.6L307.1 994.1L307.5 995.5L308 997L308.7 998.5L309.9 1000L309.9 1000L311.1 998.5L311.7 997L312.2 995.5L312.6 994.1L313 992.6L313.3 991.1L313.6 989.6L313.8 988.1L314 986.6L314.2 985.1L314.3 983.6L314.5 982.2L314.6 980.7L314.6 979.2L314.6 977.7L314.5 976.2L314.5 974.7L314.4 973.2L314.4 971.7L314.3 970.3L314.2 968.8L314.1 967.3L314 965.8L313.9 964.3L313.7 962.8L313.6 961.3L313.5 959.8L313.3 958.4L313.1 956.9L313 955.4L312.8 953.9L312.6 952.4L312.3 950.9L312.1 949.4L311.8 947.9L311.5 946.5L311.1 945L310.7 943.5L309.9 942Z" fill="#3aa39b" fill-opacity="0.4"/>
<path d="M310.5 950h2m-5.5-1.5h2m6 20.5h2m-6.5 25h2m-2.5-26h2m-2.5 38h2m-5-28.5h2m0.5 13h2m6-9.5h2m-12 3.5h2m-3-26h2m4.5 28h2m-4.5-22h2m1.5 12.5h2m-12 9h2m-0.5-15h2m-4.5 11h2m4.5 19h2m-5-15h2m0.5-28.5h2m-1 0.5h2m4 17h2m-7-8.5h2m0 20.5h2m3-6.5h2m-17 5h2m5-38h2m-1.5 22.5h2m-3-4h2m-9.5 12h2m-1.5-6h2m0 3h2m1.5-19h2m-6.5 2h2m-3 17.5h2m2.5-11.5h2m4.5 11h2m-13-11.5h2m9 16.5h2m-9-3.5h2m-7.5-3h2m1 9h2m0-32h2m-1 41h2m2-4.5h2m0.5-14.5h2m-9-15h2m5-6.5h2m-3.5 5.5h2m-1 2h2m-2 25h2m-1 6.5h2m-5.5-39h2m-9.5 14h2m-1 2h2m0 17h2m6-3.5h2m-7-5h2m-2 23.5h2m-2.5-17.5h2m-0.5-26h2m2 3h2m-11.5 3h2m7.5 23h2m-3 10h2m-7-18h2m-3.5 11h2m-1.5-23.5h2m3 28h2m-5 1.5h2m-0.5-29h2m-3-5h2m-6.5 21h2m3.5-37h2m-3.5 47.5h2m-4-9.5h2m-1.5-27h2m-1.5 6.5h2m5.5 28.5h2m-6-31h2m1-6h2m-7 41.5h2m4.5-5h2m-7.5-9.5h2m-6.5-7h2m4.5-16.5h2m-11.5 16.5h2m1.5 0h2m-4 21h2m4-38.5h2m-8 20h2m1.5 17.5h2m0.5-22.5h2m-5.5-24h2m0.5 41.5h2m-2.5-38h2m-7.5 33h2m-2-19h2m-1.5 18.5h2m3-19h2m-3 29h2m-3-0.5h2m-1 6.5h2m3-19h2m-5.5 20h2m-5.5-20.5h2m-3-15.5h2m3.5-6h2m-2.5 37h2m0-25.5h2m-3-6.5h2m-5 14.5h2m-1.5-8.5h2m-3.5-3.5h2m5.5 9.5h2m-1.5 15.5h2m-2.5-33.5h2m-12.5 23h2m5-11h2m-6-8.5h2m2.5-9.5h2m-8 40.5h2m-4.5-23.5h2m0 6h2m-0.5 20.5h2m6.5-1.5h2m-8.5-42h2m-4.5 4h2m3 6.5h2m3 11.5h2m-3.5 2h2m-3-2.5h2m-2-18.5h2m-6 27.5h2m2 2.5h2m-7.5 20h2m-1-34h2m-3-15.5h2m-3 23h2m4-27h2m-5.5 26.5h2m3.5-15h2m-14 16h2" stroke="#3aa39b" stroke-width="2.3" stroke-linecap="round"/>
<path d="M309.9 931.3L305.1 979.3L309.9 1010M309.9 931.3L314.6 979.3L309.9 1010" fill="none" stroke="#3aa39b" stroke-width="1"/>
<path d="M300.9 979.3H318.9" stroke="#111" stroke-width="1.5"/>
<path d="M372 919.8V972.8" stroke="#e8409c" stroke-width="1.1"/>
<path d="M372 930.4L371.6 931.3L371.3 932.1L371 933L370.8 933.8L370.5 934.7L370.3 935.5L370 936.3L369.8 937.2L369.6 938L369.3 938.9L369.1 939.7L368.9 940.6L368.7 941.4L368.5 942.2L368.3 943.1L368.1 943.9L368 944.8L367.8 945.6L367.6 946.4L367.5 947.3L367.5 948.1L367.6 949L367.8 949.8L368 950.7L368.2 951.5L368.4 952.3L368.6 953.2L368.9 954L369.1 954.9L369.3 955.7L369.6 956.6L369.8 957.4L370.1 958.2L370.4 959.1L370.6 959.9L370.9 960.8L371.2 961.6L371.6 962.5L372 963.3L372 963.3L372.4 962.5L372.7 961.6L373 960.8L373.3 959.9L373.6 959.1L373.9 958.2L374.2 957.4L374.4 956.6L374.7 955.7L374.9 954.9L375.1 954L375.4 953.2L375.6 952.3L375.8 951.5L376 950.7L376.2 949.8L376.3 949L376.5 948.1L376.5 947.3L376.3 946.4L376.2 945.6L376 944.8L375.8 943.9L375.7 943.1L375.5 942.2L375.3 941.4L375.1 940.6L374.9 939.7L374.6 938.9L374.4 938L374.2 937.2L374 936.3L373.7 935.5L373.5 934.7L373.2 933.8L372.9 933L372.7 932.1L372.4 931.3L372 930.4Z" fill="#e8409c" fill-opacity="0.4"/>
<path d="M371 920.5h2m-9 23h2m9-6h2m-6 4h2m-4 14h2m2.5 0h2m-1-4h2m-2.5-7h2m-8-2.5h2m-0.5 18h2m2.5-15h2m1 5.5h2m-10-13h2m-5.5 12h2m-1-2.5h2m-0.5-3.5h2m3.5 14h2m-5-10h2m-3 17h2m5-15h2m-0.5 0h2m-11-5h2m3 5h2m-9-0.5h2m-4-0.5h2m5-16h2m-3 1h2m1 12h2m-2 12.5h2m3-10h2m-15.5 2h2m5-12h2m-5.5-4h2m0.5 25.5h2m-6-6h2m3 1h2m-8 1.5h2m4-18.5h2m-3 14h2m-4 2.5h2m3-13.5h2m-8 17h2m5-8h2m-5-8h2m-8 9.5h2m6.5 4h2m-4-16h2m-3 0h2m-7.5 16h2m0-16.5h2m-0.5 17h2m-2-1.5h2m1.5-1h2m-9.5-1h2m-1-3.5h2m5-2h2m-3.5-11h2m-4.5-3.5h2m-3 10.5h2m5.5 9h2m-8-6h2m-5 3h2m-5.5 0.5h2m0 1h2m-1.5 6h2m-2.5-13h2m4.5-5.5h2m-2.5 15h2m-5.5-4.5h2m-0.5-14h2m-1 18.5h2m-3.5-17.5h2m5 13h2m-12-1h2m0 4.5h2m0-2.5h2m-4-8h2m5 9.5h2m-6.5 6h2m-4-21.5h2m-3.5 7h2m-1.5 3.5h2m4.5 6.5h2m-4-11h2m-5-1.5h2m5 11h2m-8 2.5h2m-2 2h2m0 5.5h2m-10-15.5h2m8 0h2m-4-2.5h2m-1.5 11.5h2m-6-8.5h2m-1-3.5h2m-2-3h2m-1.5 13h2m1 7.5h2m-11-11h2m8.5-8h2m-4.5 8h2m-1-2.5h2m-7-1.5h2m-2 10h2m-2-3.5h2m5-2.5h2m-5.5 3.5h2m-4-13.5h2m-1.5 5h2m5.5 6.5h2m-5.5-13.5h2m-2.5 17.5h2m1.5-5.5h2m-1.5 3h2m-4.5-9h2m-6 12h2m-0.5-6h2m2.5-3.5h2m-6.5 13h2m-3-6.5h2m-5-17.5h2m2.5 5.5h2m-7 14h2m-4 3h2m3-20h2m-2-4h2m-1.5 19h2m0.5-5h2m-8-5h2m5 2.5h2m-5 15h2m-3-5.5h2m-0.5-17.5h2m-1 2.5h2m-8 18h2m0.5-29h2m-2.5 7.5h2m0.5 25.5h2m-2 0h2m-2-6h2m-4-9h2m-3 4h2m-4.5-8.5h2" stroke="#e8409c" stroke-width="2.3" stroke-linecap="round"/>
<path d="M363 947.8H381" stroke="#111" stroke-width="1.5"/>
<path d="M387.5 937.8V1000" stroke="#3aa39b" stroke-width="1.1"/>
<path d="M387.5 948.9L386.5 949.9L385.9 950.9L385.5 951.9L385.1 952.9L384.8 953.8L384.5 954.8L384.3 955.8L384 956.8L383.8 957.8L383.6 958.8L383.5 959.8L383.3 960.8L383.2 961.8L383.1 962.7L383 963.7L382.9 964.7L382.8 965.7L382.8 966.7L382.8 967.7L382.8 968.7L382.9 969.7L382.9 970.7L383 971.6L383.1 972.6L383.3 973.6L383.4 974.6L383.5 975.6L383.7 976.6L383.9 977.6L384.1 978.6L384.3 979.5L384.5 980.5L384.7 981.5L385 982.5L385.3 983.5L385.6 984.5L386 985.5L386.5 986.5L387.5 987.5L387.5 987.5L388.4 986.5L388.9 985.5L389.3 984.5L389.7 983.5L390 982.5L390.2 981.5L390.5 980.5L390.7 979.5L390.9 978.6L391.1 977.6L391.3 976.6L391.4 975.6L391.6 974.6L391.7 973.6L391.8 972.6L391.9 971.6L392 970.7L392.1 969.7L392.2 968.7L392.2 967.7L392.2 966.7L392.2 965.7L392.1 964.7L392 963.7L391.9 962.7L391.8 961.8L391.7 960.8L391.5 959.8L391.3 958.8L391.1 957.8L390.9 956.8L390.7 955.8L390.4 954.8L390.2 953.8L389.8 952.9L389.5 951.9L389 950.9L388.5 949.9L387.5 948.9Z" fill="#3aa39b" fill-opacity="0.4"/>
<path d="M382.5 973h2m-2.5-3h2m7.5 5.5h2m-13-1.5h2m1.5-5h2m-1.5-7h2m-0.5-11h2m-9.5 14.5h2m10.5 14h2m-1-5.5h2m-6.5 8.5h2m-0.5-16.5h2m-5 15h2m-6.5-1h2m0.5-25h2m-7 8h2m1.5 0h2m-5 12h2m-2 0h2m1 5h2m3-20.5h2m-2.5 18h2m-3 2.5h2m1.5-3h2m-12-16.5h2m8.5 23h2m-10-24.5h2m-2.5 14.5h2m-1-9h2m5.5 17h2m-5-28h2m-3-6h2m6.5 18h2m-7.5 3h2m2.5-7h2m-15 1.5h2m2.5 4h2m-2.5 9.5h2m-2.5-8.5h2m-1-4h2m7-3h2m-12-4.5h2m-1.5 27h2m3.5-13.5h2m-3 14.5h2m-5-33h2m-3 32.5h2m0.5-6.5h2m-4-12.5h2m5 8h2m-6-1.5h2m-11.5-10h2m10.5-3h2m-6 17h2m-3.5-9h2m-2.5-6h2m-5 10h2m1 1h2m-1.5-12h2m0.5 6.5h2m-1.5 12h2m-4.5 3.5h2m-5-19h2m0 25.5h2m1-30.5h2m-7.5 14.5h2m3-15h2m-5 7h2m2.5-1.5h2m-12.5 4h2m-0.5 4.5h2m-1 3.5h2m7-4h2m-12.5 4.5h2m5-11h2m-8.5-7h2m6.5 5h2m-4.5-8.5h2m-6 18.5h2m-2.5-9.5h2m3 3.5h2m-6-4.5h2m6-2.5h2m-8.5 19h2m8-9h2m-10.5-3h2m0.5-12h2m-12 12.5h2m8-16h2m-6.5 9h2m2.5 14.5h2m3-13.5h2m-3.5-1.5h2m-15 6.5h2m7.5-11h2m-7.5 2.5h2m9.5 9.5h2m-17.5-2h2m13 5h2m-9.5-1h2m5 8h2m-14-6.5h2m4.5-13h2m-1 22.5h2m-8.5-19h2m0.5 10h2m6.5-6h2m-10.5 9h2m-7.5-3h2m6-16.5h2m-9.5 21.5h2m-1 1.5h2m8.5-11h2m-13 0h2m4.5 18.5h2m2-7.5h2m0-12.5h2m-12.5-11h2m6.5 27.5h2m-11.5-13h2m-4 4h2m-2 1.5h2m0-5.5h2m1-10h2m3.5 24h2m-13-11.5h2m8 6h2m-10.5 2h2m-2.5-1h2m-1-1h2m4-16h2m-5.5 9.5h2m6-10h2m-14.5 5h2m4 21h2m-4.5-8.5h2m1.5-25.5h2m-1.5 31.5h2m-2-37.5h2m-8 28.5h2m0-10.5h2m2.5-14h2m-5 33.5h2" stroke="#3aa39b" stroke-width="2.3" stroke-linecap="round"/>
<path d="M387.5 942.2L382.8 967L387.5 1000M387.5 942.2L392.2 967L387.5 1000" fill="none" stroke="#3aa39b" stroke-width="1"/>
<path d="M378.5 967H396.5" stroke="#111" stroke-width="1.5"/>
<path d="M449.6 935.7V985.8" stroke="#e8409c" stroke-width="1.1"/>
<path d="M449.6 945L449.2 945.8L448.9 946.6L448.6 947.4L448.3 948.2L448 949L447.8 949.8L447.5 950.6L447.3 951.4L447 952.2L446.8 953L446.6 953.8L446.4 954.6L446.2 955.4L445.9 956.2L445.7 957L445.6 957.8L445.4 958.6L445.2 959.4L445.1 960.2L445.2 961L445.3 961.8L445.5 962.6L445.7 963.4L445.9 964.2L446 965L446.2 965.8L446.5 966.6L446.7 967.3L446.9 968.1L447.1 968.9L447.4 969.7L447.6 970.5L447.8 971.3L448.1 972.1L448.4 972.9L448.6 973.7L448.9 974.5L449.2 975.3L449.6 976.1L449.6 976.1L450 975.3L450.3 974.5L450.6 973.7L450.9 972.9L451.1 972.1L451.4 971.3L451.6 970.5L451.9 969.7L452.1 968.9L452.3 968.1L452.6 967.3L452.8 966.6L453 965.8L453.2 965L453.4 964.2L453.6 963.4L453.8 962.6L453.9 961.8L454.1 961L454.2 960.2L454 959.4L453.9 958.6L453.7 957.8L453.5 957L453.3 956.2L453.1 955.4L452.9 954.6L452.7 953.8L452.4 953L452.2 952.2L452 951.4L451.7 950.6L451.5 949.8L451.2 949L450.9 948.2L450.6 947.4L450.3 946.6L450 945.8L449.6 945Z" fill="#e8409c" fill-opacity="0.4"/>
<path d="M446.5 970h2m-1-22.5h2m0 7.5h2m1.5 14.5h2m-5.5-22h2m-3 0h2m4.5 15h2m-11-8.5h2m3.5 7.5h2m-3 6.5h2m-2.5 5h2m-2-2.5h2m-3.5-6h2m-5.5-7h2m5.5 8.5h2m-7.5-17.5h2m-3.5 22.5h2m6-4h2m-13.5-6.5h2m5-1.5h2m-3.5 15.5h2m-2.5-26h2m-2.5 1h2m-3.5 3h2m1-12h2m3 17.5h2m-7.5 4.5h2m-2.5 9.5h2m-3.5-21h2m0.5 0.5h2m-6 6h2m-0.5 10h2m0.5-16.5h2m2 12h2m-4 8.5h2m0.5-4.5h2m-5 1.5h2m-3.5-4.5h2m1 5.5h2m-7.5 1.5h2m7.5-8.5h2m-11-10.5h2m5 1h2m-11 15h2m4.5-7.5h2m-2 4.5h2m-7-3.5h2m-0.5 8.5h2m-2.5-6.5h2m5-7h2m-10-2h2m-1 8.5h2m-0.5-2.5h2m1.5-9.5h2m-9 1h2m-0.5 6.5h2m0 17.5h2m-0.5-5.5h2m-4-4.5h2m3-7.5h2m-9-1h2m4 9h2m-0.5 0.5h2m-7-13.5h2m-4 0.5h2m5 11h2m-10-5h2m1.5 3h2m2-1.5h2m-11 0.5h2m6-2h2m-11.5 2.5h2m2-4.5h2m2 19h2m-3.5-12.5h2m1.5-8h2m-10.5 11.5h2m10.5-10h2m-12-7h2m7 10.5h2m-15.5-3h2m5.5-22.5h2m0 25.5h2m-9.5 6.5h2m8.5-5h2m-3-9.5h2m-7.5 12h2m6-9h2m-2.5 4.5h2m-7-2.5h2m-2.5 10.5h2m-5 0h2m-0.5-5h2m1 8h2m-7.5-10.5h2m-2.5 8h2m8.5-9.5h2m-7.5-4.5h2m-8 5.5h2m4-12.5h2m-6 13h2m0.5-15.5h2m1 7.5h2m-3.5 4h2m-2.5 6h2m-4.5 5h2m5.5-2.5h2m-12 3h2m-5-7h2m9-5h2m-4 6h2m-1 2.5h2m-10-6.5h2m5-7h2m-2.5 11h2m-5.5-10.5h2m-7.5 6h2m8 7.5h2m-4.5 6h2m3.5-17h2m-6-5h2m-1 4.5h2m-2.5 2.5h2m-6.5 12h2m-1.5-1h2m-5-4.5h2m-1-2.5h2m-4-3h2m2.5-9h2m-2 15h2m5.5-6h2m-6-5.5h2m0.5 0.5h2m-7.5-3.5h2m2.5 11.5h2m-3.5-7h2m-6.5 7h2m6 3.5h2m-9.5-16.5h2m0.5 24.5h2m-2-6h2m2-6.5h2m-2.5-7h2" stroke="#e8409c" stroke-width="2.3" stroke-linecap="round"/>
<path d="M440.6 960.3H458.6" stroke="#111" stroke-width="1.5"/>
<path d="M465.1 936.8V984" stroke="#3aa39b" stroke-width="1.1"/>
<path d="M465.1 945.5L464.1 946.2L463.6 947L463.2 947.7L462.8 948.5L462.5 949.2L462.2 950L462 950.7L461.7 951.5L461.5 952.2L461.3 953L461.2 953.7L461 954.5L460.9 955.2L460.7 956L460.6 956.7L460.5 957.5L460.5 958.2L460.4 959L460.4 959.7L460.4 960.5L460.5 961.2L460.5 962L460.6 962.7L460.7 963.5L460.8 964.2L461 965L461.1 965.7L461.3 966.5L461.5 967.2L461.6 968L461.8 968.7L462.1 969.5L462.3 970.2L462.6 971L462.9 971.7L463.2 972.5L463.7 973.2L464.2 974L465.1 974.7L465.1 974.7L466.1 974L466.6 973.2L467 972.5L467.3 971.7L467.6 971L467.9 970.2L468.2 969.5L468.4 968.7L468.6 968L468.8 967.2L469 966.5L469.1 965.7L469.3 965L469.4 964.2L469.5 963.5L469.6 962.7L469.7 962L469.8 961.2L469.8 960.5L469.8 959.7L469.8 959L469.8 958.2L469.7 957.5L469.6 956.7L469.5 956L469.4 955.2L469.2 954.5L469.1 953.7L468.9 953L468.7 952.2L468.5 951.5L468.3 950.7L468 950L467.7 949.2L467.4 948.5L467.1 947.7L466.7 947L466.1 946.2L465.1 945.5Z" fill="#3aa39b" fill-opacity="0.4"/>
<path d="M466.5 960.5h2m2.5 4.5h2m-15-12.5h2m-3.5 2.5h2m7.5 8.5h2m-1.5 5h2m-6 0.5h2m0-15.5h2m3 7h2m-3-10h2m-4 11h2m-4 1h2m-3.5 7.5h2m-5-18.5h2m-4 3.5h2m3.5-9.5h2m3.5 15h2m-9.5-11h2m-6 16h2m4.5 4.5h2m-4.5-17.5h2m4.5 17.5h2m-4.5-8.5h2m-4.5 1h2m-7 0.5h2m3 10h2m-2-19h2m-6.5 1h2m-2 7.5h2m4.5-2.5h2m-1.5-11.5h2m-2 4.5h2m0.5 6h2m-12 1h2m1.5 0.5h2m-1 10.5h2m7-7.5h2m-7-12.5h2m-4.5-6h2m-7 15h2m4-2h2m-7-7.5h2m-3.5 14h2m8-6h2m-7.5-1.5h2m-7 1h2m8 8h2m-6.5-9.5h2m3 12.5h2m-6-9h2m-7-4.5h2m8.5 3.5h2m-9 7h2m-6 1.5h2m-1.5-2.5h2m-1-9h2m0.5 10.5h2m1-15.5h2m-0.5 16.5h2m-1-13.5h2m-7.5 14h2m5.5-1.5h2m-9 1h2m6-3.5h2m-10.5-1h2m-7.5-4.5h2m3 4h2m-1.5-3h2m6.5 3h2m-12.5-13h2m-1 11.5h2m4 11h2m-7.5-10.5h2m1.5-2h2m-6.5 13.5h2m-6.5-13h2m-0.5-0.5h2m2-7h2m-7.5 4h2m1 15h2m7-14h2m0 7.5h2m-11-3.5h2m0 11.5h2m-8.5-13.5h2m1.5-0.5h2m-1.5 11h2m-0.5 0.5h2m1-8h2m-6-13h2m0.5-3h2m5.5 17h2m-9-5.5h2m-10-1.5h2m1 1.5h2m3.5 4h2m-0.5 6.5h2m-1.5 3.5h2m-11.5-12h2m-0.5 2h2m7-1.5h2m-2.5-5h2m-9 16h2m-3.5-13.5h2m6.5 6h2m-2.5-4h2m2 1h2m-10.5-18.5h2m-8.5 16.5h2m11.5-3.5h2m-4 8.5h2m-13.5-6h2m5.5 13h2m-5-8.5h2m-6.5-5.5h2m6 6h2m-4.5-11h2m2.5 20h2m-1.5 0h2m-11.5-17h2m5.5 14.5h2m1-3h2m-7.5-11.5h2m7 1.5h2m-2.5 8h2m-7 6h2m-7-13h2m7 7.5h2m-6 4h2m-1.5 2.5h2m-6-12h2m-0.5-12.5h2m-3 6.5h2m4 6h2m-10-9h2m0.5 22.5h2m4-21.5h2m-8-3h2m-0.5-3h2m-7 4.5h2m4 7.5h2m-2-8.5h2m-8.5 20h2" stroke="#3aa39b" stroke-width="2.3" stroke-linecap="round"/>
<path d="M465.1 940.3L460.4 959.6L465.1 984M465.1 940.3L469.9 959.6L465.1 984" fill="none" stroke="#3aa39b" stroke-width="1"/>
<path d="M456.1 959.6H474.1" stroke="#111" stroke-width="1.5"/>
<path d="M527.2 944.8V988.3" stroke="#e8409c" stroke-width="1.1"/>
<path d="M527.2 953.3L526.9 954L526.6 954.7L526.3 955.4L526 956.1L525.7 956.8L525.5 957.5L525.2 958.2L525 958.9L524.8 959.6L524.6 960.3L524.3 961L524.1 961.6L523.9 962.3L523.7 963L523.5 963.7L523.3 964.4L523.2 965.1L523 965.8L522.8 966.5L522.7 967.2L522.8 967.9L523 968.6L523.1 969.3L523.3 969.9L523.5 970.6L523.7 971.3L524 972L524.2 972.7L524.4 973.4L524.6 974.1L524.9 974.8L525.1 975.5L525.4 976.2L525.7 976.9L525.9 977.6L526.2 978.2L526.5 978.9L526.8 979.6L527.2 980.3L527.2 980.3L527.7 979.6L528 978.9L528.3 978.2L528.6 977.6L528.8 976.9L529.1 976.2L529.4 975.5L529.6 974.8L529.9 974.1L530.1 973.4L530.3 972.7L530.5 972L530.8 971.3L531 970.6L531.2 969.9L531.4 969.3L531.5 968.6L531.7 967.9L531.8 967.2L531.7 966.5L531.5 965.8L531.3 965.1L531.2 964.4L531 963.7L530.8 963L530.6 962.3L530.4 961.6L530.2 961L529.9 960.3L529.7 959.6L529.5 958.9L529.3 958.2L529 957.5L528.8 956.8L528.5 956.1L528.2 955.4L527.9 954.7L527.6 954L527.2 953.3Z" fill="#e8409c" fill-opacity="0.4"/>
<path d="M523 972h2m-2.5-6.5h2m-1-3.5h2m4 6h2m-7.5-3.5h2m-5.5 5.5h2m7-6.5h2m1.5 6.5h2m-8-15.5h2m-2-1.5h2m2.5 17h2m-2.5-7h2m-3.5-0.5h2m-6 0.5h2m3 11.5h2m-8.5-6h2m8-2h2m-4-4h2m-3.5-3h2m-5 5.5h2m-2.5 12.5h2m-0.5-7h2m-5.5 5h2m-2 2h2m-4-1.5h2m2-18.5h2m-3.5 11h2m-7.5-0.5h2m2.5 5h2m1-11.5h2m1.5 9.5h2m-14-4.5h2m6 3.5h2m4.5-1.5h2m-5-9h2m-9.5 10.5h2m3-6h2m-1 10.5h2m0-0.5h2m-1.5-9h2m-2-2h2m-10.5 12.5h2m2-20h2m3 8h2m-12.5 0.5h2m3-11.5h2m3.5 17.5h2m-12 4h2m3-19.5h2m4 16h2m-6.5-10h2m-8.5 3h2m-1.5 8h2m-1.5 4h2m0.5-4h2m-6.5 1h2m7.5-2.5h2m-4.5-3.5h2m-3.5 5h2m-8-4.5h2m2.5-3.5h2m-5.5 5.5h2m1.5-3.5h2m0 8h2m-1.5-8.5h2m-2.5-16h2m2.5 17h2m-13.5 3.5h2m-1 2.5h2m6.5-14h2m-7.5 7.5h2m5 1h2m-11 4.5h2m3-0.5h2m-9.5-2h2m6.5 7h2m-7-11h2m0.5-9h2m1 20.5h2m-6 0h2m4-6h2m-4-6.5h2m2.5 3h2m-8.5-1h2m-7 0h2m5.5-1.5h2m-3.5-3.5h2m-0.5 0h2m-9.5 0h2m6 8.5h2m-9.5 2h2m1.5-13.5h2m3 14.5h2m-7.5-11h2m3 12.5h2m-5.5-10h2m0-7h2m-9 6h2m1 12.5h2m4-13h2m0.5 7.5h2m-1.5-2h2m-9.5 8h2m-1-16.5h2m2.5 2.5h2m-11.5 4.5h2m7.5-2.5h2m-3.5 8h2m-6.5 1h2m-4-0.5h2m5.5-3h2m-9.5-0.5h2m-2-3.5h2m5.5 3.5h2m0-1h2m-6.5-6.5h2m-3-6h2m-3.5 18h2m-7-3h2m2 5.5h2m-1 3h2m-5-7.5h2m2.5 8h2m-3.5-7.5h2m-2-15.5h2m-2.5 21h2m1.5-1h2m-5.5 4h2m4-18.5h2m-2 1.5h2m-13.5 5.5h2m1.5-9h2m3 15h2m-0.5-12h2m-5.5 5h2m5 1.5h2m-12-10h2m-2.5 12.5h2m-1.5-12h2m7.5 4.5h2m-8-1h2m-8 5h2m-1-6h2" stroke="#e8409c" stroke-width="2.3" stroke-linecap="round"/>
<path d="M518.2 967.3H536.2" stroke="#111" stroke-width="1.5"/>
<path d="M542.8 938.5V984" stroke="#3aa39b" stroke-width="1.1"/>
<path d="M542.8 946.5L541.7 947.2L541.2 948L540.8 948.7L540.4 949.4L540.1 950.1L539.8 950.9L539.5 951.6L539.3 952.3L539.1 953L538.9 953.8L538.7 954.5L538.6 955.2L538.4 955.9L538.3 956.6L538.2 957.4L538.1 958.1L538.1 958.8L538 959.5L538 960.3L538.1 961L538.1 961.7L538.2 962.4L538.3 963.2L538.4 963.9L538.5 964.6L538.7 965.3L538.8 966L539 966.8L539.1 967.5L539.3 968.2L539.5 968.9L539.8 969.7L540 970.4L540.3 971.1L540.6 971.8L540.9 972.6L541.3 973.3L541.8 974L542.8 974.7L542.8 974.7L543.7 974L544.2 973.3L544.6 972.6L544.9 971.8L545.2 971.1L545.5 970.4L545.7 969.7L546 968.9L546.2 968.2L546.4 967.5L546.5 966.8L546.7 966L546.8 965.3L547 964.6L547.1 963.9L547.2 963.2L547.3 962.4L547.4 961.7L547.4 961L547.5 960.3L547.5 959.5L547.4 958.8L547.4 958.1L547.3 957.4L547.2 956.6L547.1 955.9L546.9 955.2L546.8 954.5L546.6 953.8L546.4 953L546.2 952.3L546 951.6L545.7 950.9L545.4 950.1L545.1 949.4L544.7 948.7L544.3 948L543.8 947.2L542.8 946.5Z" fill="#3aa39b" fill-opacity="0.4"/>
<path d="M541 939h2m3.5 12h2m-9.5 21h2m-0.5-10.5h2m1.5 12h2m1-19h2m1 4h2m-12.5 11.5h2m0-10h2m-9 3.5h2m3.5 7.5h2m3.5-8h2m-10.5-3.5h2m3.5-2h2m-2-11.5h2m5.5 14h2m-15.5-2.5h2m7-7h2m-7 6h2m1.5-3h2m-7.5 0h2m8 11.5h2m-6-7.5h2m1-1.5h2m-6-7h2m0 20h2m1.5-10.5h2m-10.5-5h2m0.5 2h2m-5.5-5.5h2m1.5 24h2m-7.5-24.5h2m5.5 8h2m-11 4h2m9.5-7.5h2m-2.5 7.5h2m-6-5h2m-0.5 2h2m-6.5-3h2m7 5h2m-8-6.5h2m-2.5-4.5h2m-8 5h2m9 12h2m-3.5-4.5h2m-1 3h2m-6-16.5h2m0.5 19h2m-6.5-17h2m4.5 3.5h2m-11.5 13.5h2m3 3.5h2m-7-2h2m-6-13h2m11.5 8h2m-9.5-13h2m-5 14.5h2m0.5 5h2m3-16h2m-4.5 17.5h2m-6-19.5h2m2.5 20.5h2m-7.5-10h2m6-6.5h2m-5 2h2m0.5 8.5h2m-7.5-14h2m1.5 12.5h2m-2.5 7.5h2m-0.5-5h2m3.5-6.5h2m-13.5 3.5h2m0-13.5h2m-2.5 1.5h2m9 9h2m-9.5-2.5h2m-6-4h2m7-3.5h2m-14 1.5h2m2.5 13.5h2m5-9h2m-11.5-0.5h2m1 2.5h2m-5.5-10h2m5.5 3h2m-9-2.5h2m5 6h2m1 0.5h2m-4-7.5h2m-3.5 17h2m-3-6.5h2m-6.5-11h2m0 13h2m-6-7h2m0.5-4.5h2m1 15.5h2m-6.5 4h2m8-3.5h2m0-2h2m-6 3h2m-11-13.5h2m1.5 4.5h2m-2.5 7.5h2m-4-11h2m-4.5 4.5h2m7 9h2m-6-13.5h2m4.5 6.5h2m-14-7h2m-1-0.5h2m5.5 27h2m-8.5-13.5h2m-1.5-1h2m8-3h2m-8.5 3h2m-7-13h2m1 13h2m0.5 6h2m3.5-14h2m-4.5 3.5h2m-8-4h2m-1 4h2m-4.5-5h2m-2.5-1.5h2m-1 15h2m-4.5-15.5h2m0.5 13.5h2m7.5-6.5h2m-8.5 2.5h2m-1 0.5h2m-7-8.5h2m3.5 11.5h2m-2.5-13h2m4 2h2m-12 3h2m-2.5 5h2m7.5 5h2m-10.5-14h2m4 17h2m-0.5-4h2m-8-16h2m-3.5 16.5h2m1.5 3.5h2" stroke="#3aa39b" stroke-width="2.3" stroke-linecap="round"/>
<path d="M542.8 941.7L538 959.6L542.8 984M542.8 941.7L547.5 959.6L542.8 984" fill="none" stroke="#3aa39b" stroke-width="1"/>
<path d="M533.8 959.6H551.8" stroke="#111" stroke-width="1.5"/>
<path d="M604.9 951.9V992.9" stroke="#e8409c" stroke-width="1.1"/>
<path d="M604.9 959.1L604.5 959.7L604.1 960.4L603.8 961L603.5 961.7L603.2 962.3L602.9 963L602.7 963.6L602.4 964.3L602.2 964.9L601.9 965.6L601.7 966.3L601.5 966.9L601.2 967.6L601 968.2L600.8 968.9L600.6 969.5L600.5 970.2L600.3 970.8L600.4 971.5L600.6 972.1L600.7 972.8L600.9 973.4L601.1 974.1L601.3 974.7L601.5 975.4L601.7 976L601.9 976.7L602.1 977.3L602.3 978L602.5 978.6L602.7 979.3L602.9 979.9L603.2 980.6L603.4 981.2L603.7 981.9L603.9 982.5L604.2 983.2L604.5 983.9L604.9 984.5L604.9 984.5L605.2 983.9L605.5 983.2L605.8 982.5L606.1 981.9L606.3 981.2L606.6 980.6L606.8 979.9L607 979.3L607.3 978.6L607.5 978L607.7 977.3L607.9 976.7L608.1 976L608.3 975.4L608.5 974.7L608.7 974.1L608.8 973.4L609 972.8L609.2 972.1L609.3 971.5L609.4 970.8L609.3 970.2L609.1 969.5L608.9 968.9L608.7 968.2L608.5 967.6L608.3 966.9L608.1 966.3L607.8 965.6L607.6 964.9L607.3 964.3L607.1 963.6L606.8 963L606.5 962.3L606.3 961.7L606 961L605.6 960.4L605.3 959.7L604.9 959.1Z" fill="#e8409c" fill-opacity="0.4"/>
<path d="M607 980h2m-4.5-2.5h2m-3.5-15h2m3.5 12.5h2m-7-6h2m-1.5-7.5h2m-8.5 6.5h2m4 3h2m6.5 0h2m-7.5 5h2m-4-15.5h2m-9 10.5h2m0.5-4h2m-2 10.5h2m-2.5-9.5h2m3.5 5h2m-4.5 9h2m-2-21h2m0.5 1h2m-3 20.5h2m-5.5-5.5h2m4-4.5h2m2 0h2m-13 6h2m1-6h2m-2.5 1.5h2m0.5-18h2m-4.5 22h2m-5-6h2m1.5-1.5h2m2.5 0h2m-8.5 6h2m3-1h2m-5 1.5h2m-3-3h2m-5-0.5h2m0-2h2m4.5-1h2m-4 0.5h2m-5-1.5h2m1.5 8.5h2m-3-16h2m0.5 10.5h2m-4.5 9.5h2m-7-6.5h2m-2.5-2h2m6.5-5h2m-4-1.5h2m0.5 3.5h2m-10.5 4.5h2m0.5-3h2m3.5 8h2m-5.5-11h2m-4.5 3.5h2m1.5-4h2m-6-3.5h2m1 5.5h2m3-3h2m0.5 2.5h2m-9.5 3.5h2m-7 1h2m5 3h2m3-7.5h2m-6.5 5.5h2m-8.5-7h2m-1.5 10h2m8-9h2m-6.5 0.5h2m-10 3h2m8.5-2h2m-10-4h2m9 3h2m-8.5-3h2m-3.5 3.5h2m-4.5 1.5h2m-2 1.5h2m-2-8.5h2m-1-1.5h2m-4.5 3h2m-4 1h2m0.5 9.5h2m0.5 2h2m1.5-8h2m1 4.5h2m-14-3h2m10.5 0h2m-8.5 1.5h2m-1-11.5h2m-2.5 0h2m-2.5 24.5h2m-3.5-22.5h2m-2 12h2m2 3h2m1-14.5h2m-2 12h2m-1-10h2m-8.5-3h2m0-6.5h2m-1 15.5h2m-5.5-3h2m3 5.5h2m-8-2.5h2m-4.5-5.5h2m-1.5-1.5h2m0 3.5h2m-1-5.5h2m-0.5 8h2m-0.5-2h2m-1.5-3.5h2m-6-3.5h2m1.5 2.5h2m-4 3.5h2m-4.5 0h2m6 5.5h2m-6-8.5h2m-6 14h2m4.5-1h2m-8.5-14h2m1.5 9.5h2m-2 8.5h2m-4-16.5h2m2.5-2h2m-5.5-2.5h2m-8.5 12.5h2m2-2.5h2m3.5 4.5h2m-1.5-12h2m-5.5 13.5h2m1-13h2m-8.5 1h2m-4.5 7.5h2m-0.5 2h2m4-7h2m-1.5 2h2m-0.5-4.5h2m-5.5 3h2m0 4h2m1 4h2m-2.5 0.5h2m-5-17h2m-4 4h2m-2.5 11h2m-3 0.5h2" stroke="#e8409c" stroke-width="2.3" stroke-linecap="round"/>
<path d="M595.9 970.8H613.9" stroke="#111" stroke-width="1.5"/>
<path d="M620.4 943.1V985.8" stroke="#3aa39b" stroke-width="1.1"/>
<path d="M620.4 951.8L619.4 952.4L618.9 953.1L618.5 953.8L618.2 954.5L617.9 955.2L617.6 955.8L617.4 956.5L617.2 957.2L617 957.9L616.8 958.6L616.6 959.2L616.4 959.9L616.3 960.6L616.2 961.3L616 961.9L615.9 962.6L615.8 963.3L615.8 964L615.7 964.7L615.7 965.3L615.7 966L615.7 966.7L615.7 967.4L615.8 968.1L615.9 968.7L616.1 969.4L616.2 970.1L616.3 970.8L616.5 971.4L616.7 972.1L616.9 972.8L617.2 973.5L617.4 974.2L617.7 974.8L618 975.5L618.4 976.2L618.8 976.9L619.4 977.6L620.4 978.2L620.4 978.2L621.4 977.6L621.9 976.9L622.4 976.2L622.7 975.5L623.1 974.8L623.3 974.2L623.6 973.5L623.8 972.8L624 972.1L624.2 971.4L624.4 970.8L624.6 970.1L624.7 969.4L624.8 968.7L624.9 968.1L625 967.4L625.1 966.7L625.1 966L625.1 965.3L625 964.7L625 964L624.9 963.3L624.8 962.6L624.7 961.9L624.6 961.3L624.5 960.6L624.3 959.9L624.2 959.2L624 958.6L623.8 957.9L623.6 957.2L623.4 956.5L623.1 955.8L622.9 955.2L622.6 954.5L622.2 953.8L621.8 953.1L621.3 952.4L620.4 951.8Z" fill="#3aa39b" fill-opacity="0.4"/>
<path d="M614.5 967h2m2-7h2m-4-5h2m4 2.5h2m-8.5 10.5h2m-0.5 2.5h2m5 3h2m-9.5-20.5h2m-0.5 23.5h2m-7.5-17.5h2m11 0h2m-12 4h2m-1.5 5h2m9-1.5h2m-11-16.5h2m-4.5 24.5h2m3-10h2m-5.5-1h2m-3 0h2m7.5 5.5h2m-7.5-13.5h2m-5.5 2.5h2m-1 0.5h2m-5.5 8h2m3-6h2m-7.5 7h2m1-2h2m-1 4.5h2m-2-6h2m-3.5 12.5h2m-1-24h2m3.5 9h2m-11.5-3.5h2m1 12h2m7-3h2m-10-2h2m-4-3h2m-4.5 6.5h2m-0.5-1.5h2m3.5 13h2m-10-12h2m-2-5h2m11 8h2m-9.5-14h2m5.5 7h2m-12 6h2m1 4h2m-2-2h2m-5-8.5h2m-4.5 5.5h2m4-0.5h2m0 4.5h2m-2.5-20h2m5 10.5h2m-10.5 10h2m-3-6.5h2m-4 1h2m7-8h2m-9 9h2m0.5-7h2m-6.5 9h2m1.5-6.5h2m-1-11.5h2m-1 23h2m0-12.5h2m-8 3.5h2m1 1.5h2m-5.5 2h2m3.5-4.5h2m-1.5-4.5h2m-4.5 16h2m-2 0h2m2.5-16.5h2m-7-4h2m-5.5 3h2m-4.5 0h2m4.5 17h2m-0.5-15.5h2m1.5 6h2m-6.5-3h2m-10.5 2.5h2m10-10.5h2m-1.5 13.5h2m-3.5-6h2m-2 3h2m-2-1.5h2m-10 7.5h2m2.5-13h2m2.5 6.5h2m-10 1h2m8.5-3.5h2m-5 2.5h2m-11-10h2m-1 3h2m1 10h2m-1.5-3.5h2m0.5 2h2m-7-14h2m3.5 4h2m-10.5 4h2m1 12.5h2m-2-3h2m7 0h2m-7 0.5h2m1.5 2h2m-11.5-13h2m4.5-8h2m-9 18h2m-4-9.5h2m2.5 15h2m-2-10.5h2m5.5-8.5h2m-8.5-4h2m-2 21h2m7.5-7.5h2m-2.5-3h2m-2-0.5h2m-11.5-3h2m-2.5-0.5h2m-4 10.5h2m-3 1h2m1.5 3h2m3.5-13.5h2m-10.5-3h2m9 15.5h2m-12-15.5h2m-3 2.5h2m6.5 6.5h2m-3.5-3.5h2m-2-6.5h2m-1 3.5h2m-7 1h2m2.5 8.5h2m-11.5-4h2m11 5.5h2m-11-16h2m1 26h2m4.5-16h2m-10-1h2m6 6h2m-8-3h2m-4 3h2m7-9h2" stroke="#3aa39b" stroke-width="2.3" stroke-linecap="round"/>
<path d="M620.4 946.6L615.6 965.9L620.4 985.8M620.4 946.6L625.1 965.9L620.4 985.8" fill="none" stroke="#3aa39b" stroke-width="1"/>
<path d="M611.4 965.9H629.4" stroke="#111" stroke-width="1.5"/>
</g>
<g fill="none">
<path d="M93 819.9V995.3M682.4 819.9V995.3" stroke="#a8a8a8" stroke-width="1.4"/>
<path d="M92.3 819.9H683.1" stroke="#c4c4c4" stroke-width="1.4"/>
<path d="M92.3 995.3H683.1" stroke="#b4b4b4" stroke-width="1.4"/>
<path d="M93 841h6M682.4 841h-6M93 907.2h6M682.4 907.2h-6M93 973.4h6M682.4 973.4h-6M154.6 819.9v6M154.6 995.3v-6M232.2 819.9v6M232.2 995.3v-6M309.9 819.9v6M309.9 995.3v-6M387.5 819.9v6M387.5 995.3v-6M465.1 819.9v6M465.1 995.3v-6M542.8 819.9v6M542.8 995.3v-6M620.4 819.9v6M620.4 995.3v-6" stroke="#b8b8b8" stroke-width="1.1"/>
</g>
<text x="75.3" y="847.8" font-size="18" text-anchor="end">0.6</text>
<text x="75.6" y="914.7" font-size="18" text-anchor="end">0.3</text>
<text x="77.9" y="980.1" font-size="18" text-anchor="end">0</text>
<text x="314.5" y="856.5" font-size="18" text-anchor="start">MEG (occipital)</text>
<circle cx="532.6" cy="846.8" r="9" fill="#e84aa0"/>
<circle cx="532.6" cy="879.7" r="9" fill="#42a8a0"/>
<text x="552.5" y="853.3" font-size="18" text-anchor="start">AC to PC</text>
<text x="551" y="886.4" font-size="18" text-anchor="start">PC to AC</text>
<text x="146.7" y="1018.5" font-size="18" text-anchor="middle">1-2</text>
<text x="223.9" y="1018.5" font-size="18" text-anchor="middle">2-4</text>
<text x="301.7" y="1018.5" font-size="18" text-anchor="middle">4-8</text>
<text x="379.3" y="1018.5" font-size="18" text-anchor="middle">8-16</text>
<text x="456.2" y="1018.5" font-size="18" text-anchor="middle">16-32</text>
<text x="534.1" y="1018.5" font-size="18" text-anchor="middle">32-64</text>
<text x="611.2" y="1018.5" font-size="18" text-anchor="middle">64-128</text>
<text x="366.5" y="1048.9" font-size="18" text-anchor="middle">Frequency Band (Hz)</text>
<text x="36" y="917.6" font-size="18" text-anchor="middle" transform="rotate(-90 36 917.6)">Tsfr. Entropy (bits)</text>
</svg></body></html>
